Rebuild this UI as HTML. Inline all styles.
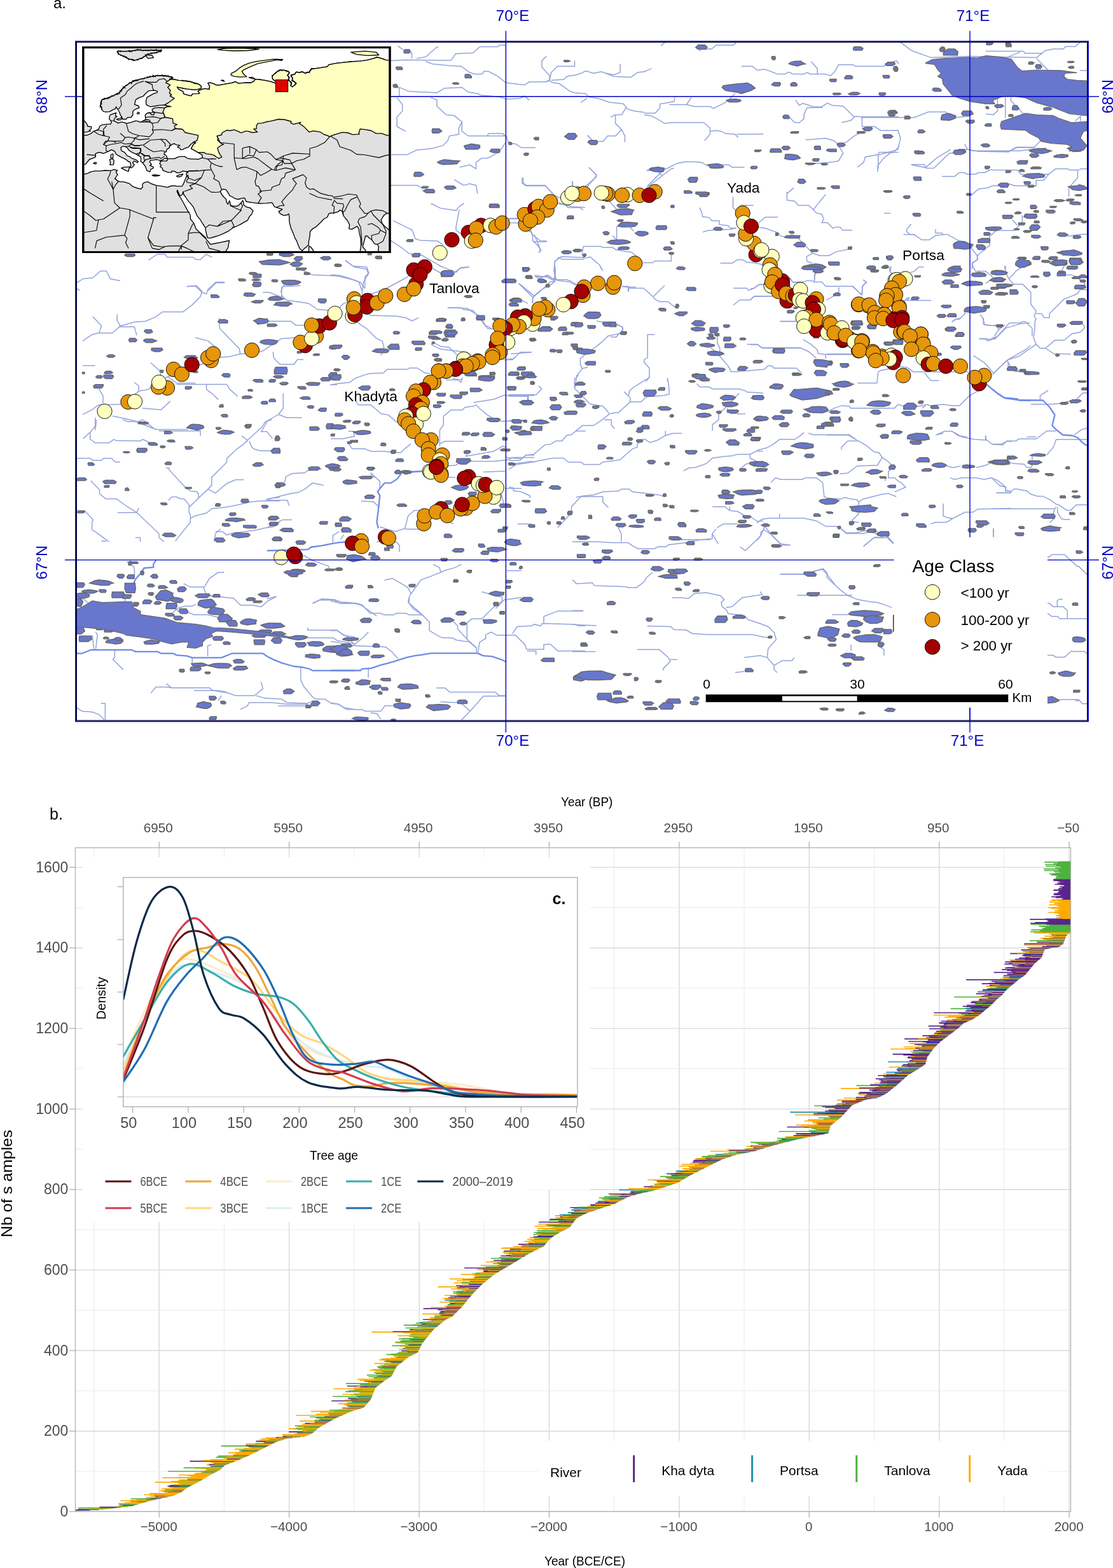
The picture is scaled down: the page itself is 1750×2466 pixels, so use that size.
<!DOCTYPE html>
<html><head><meta charset="utf-8"><title>Figure</title>
<style>
html,body{margin:0;padding:0;background:#fff;}
body{width:1750px;height:2466px;overflow:hidden;}
svg{display:block;}
text{font-family:"Liberation Sans",Arial,sans-serif;}
</style></head><body>
<svg width="1750" height="2466" viewBox="0 0 1750 2466">
<rect x="0" y="0" width="1750" height="2466" fill="#fff"/>
<defs><clipPath id="mapclip"><rect x="119.5" y="65.6" width="1591.0" height="1068.4"/></clipPath></defs>
<g clip-path="url(#mapclip)">
<rect x="119.5" y="65.6" width="1591.0" height="1068.4" fill="#fff"/>
<g fill="none" stroke="#93a3dc" stroke-width="1.5" stroke-linejoin="miter">
<polyline points="130.0,536.1 144.8,526.2 154.6,523.7 176.8,523.7 189.1,512.7 211.3,506.5 228.5,505.3 243.3,499.1 255.6,490.5 287.6,490.5 302.4,479.4 314.7,467.1 317.2,459.7 324.6,462.2 327.0,454.8 339.4,443.7 352.9,443.7"/>
<polyline points="184.2,494.2 184.2,504.0 189.1,512.7"/>
<polyline points="146.0,497.9 159.6,512.7 155.9,523.7"/>
<polyline points="186.7,513.9 211.3,513.9 215.0,527.4"/>
<polyline points="295.0,450.3 307.3,449.9 314.7,457.2 317.2,459.7"/>
<polyline points="130.0,651.8 144.8,644.4 154.6,637.0 191.6,635.8 218.7,614.9 233.4,612.4 238.4,607.5 255.6,597.6 263.0,592.7 302.4,577.9 317.2,573.0 346.7,561.9 361.5,560.7 376.3,557.0 388.6,555.8 413.3,552.1 425.6,543.4 442.8,532.4 479.8,529.9"/>
<polyline points="263.0,592.7 267.9,595.2 277.8,602.6 307.3,602.6"/>
<polyline points="277.8,604.5 356.6,604.5 361.5,612.4 373.8,623.5"/>
<polyline points="223.6,642.0 253.2,644.4 267.9,630.9"/>
<polyline points="162.0,634.6 162.0,622.3 155.9,612.4 155.9,605.0"/>
<polyline points="211.3,601.3 218.7,607.5 217.4,614.9"/>
<polyline points="237.1,570.5 250.7,582.9 255.6,597.6"/>
<polyline points="307.3,531.1 327.0,536.1 341.8,548.4"/>
<polyline points="344.3,500.3 345.5,516.4 366.5,538.5 376.3,548.4 377.5,555.8"/>
<polyline points="413.3,459.7 423.1,459.7 442.8,467.1 442.8,452.3 450.2,444.9"/>
<polyline points="442.8,464.6 450.2,472.0 484.7,476.9 499.5,486.8 519.2,488.0"/>
<polyline points="410.8,505.3 457.6,505.3 465.0,511.4 479.8,511.4"/>
<polyline points="429.3,553.3 430.5,563.2 440.3,573.0 462.5,573.0 467.4,565.6 477.3,565.6"/>
<polyline points="324.6,605.0 324.6,612.4 334.4,619.8 343.1,628.4"/>
<polyline points="445.3,618.6 445.3,642.0 437.9,651.8 420.6,661.7 410.8,678.9"/>
<polyline points="437.9,651.8 450.2,656.7 474.8,656.7"/>
<polyline points="149.7,656.7 149.7,676.5"/>
<polyline points="176.8,654.3 189.1,656.7 211.3,661.7 240.8,674.0"/>
<polyline points="519.2,605.0 530.0,605.0"/>
<polyline points="130.0,575.0 149.7,575.0"/>
<polyline points="677.6,320.0 692.4,327.4 717.0,331.1 722.0,324.9 729.4,320.0"/>
<polyline points="722.0,329.9 717.0,356.9 717.0,361.9 726.9,369.3"/>
<polyline points="618.5,347.1 643.2,359.4 648.1,361.9 653.0,375.4 660.4,377.9 687.5,379.1 697.3,385.3"/>
<polyline points="613.6,377.9 630.8,389.0 643.2,398.8 662.9,401.3 680.1,411.1 692.4,418.5 704.7,423.4 717.0,428.4 724.4,421.0 738.0,419.8"/>
<polyline points="543.4,409.9 556.9,419.8 576.7,423.4 579.1,430.8 571.7,443.2 569.3,457.9 569.3,467.8"/>
<polyline points="520.0,432.1 534.8,433.3 547.1,437.0 564.3,443.2 569.3,457.9"/>
<polyline points="527.4,490.0 539.7,477.6 569.3,467.8 606.2,454.2 638.2,437.0 643.2,433.3"/>
<polyline points="571.7,492.4 584.0,496.1 623.4,497.3 638.2,499.8 648.1,504.7 657.9,499.8"/>
<polyline points="561.9,507.2 576.7,517.0 591.4,531.8 601.3,536.7 603.7,546.6 598.8,558.9"/>
<polyline points="704.7,483.8 734.3,485.0 754.0,497.3 763.8,512.1 773.7,517.0"/>
<polyline points="815.6,445.6 827.9,457.9 837.7,467.8 837.7,477.6"/>
<polyline points="837.7,467.8 852.5,455.5 864.8,443.2 872.2,443.2 872.2,411.1 882.1,403.7 920.0,405.0"/>
<polyline points="840.2,433.3 859.9,435.8 869.8,440.7 872.2,435.8"/>
<polyline points="800.8,343.4 815.6,343.4 820.5,354.5 832.8,359.4 837.7,369.3 850.0,379.1 859.9,379.1"/>
<polyline points="840.2,369.3 847.6,386.5 850.0,396.4"/>
<polyline points="877.1,320.0 899.3,324.9 920.0,326.2"/>
<polyline points="874.7,440.7 894.4,443.2 904.2,448.1 920.0,448.1"/>
<polyline points="741.7,558.9 734.3,554.0 692.4,549.1 677.6,541.7"/>
<polyline points="803.3,556.5 835.3,554.0"/>
<polyline points="821.0,279.4 821.0,287.7 826.5,292.3 857.9,292.3 870.8,306.2 878.2,310.8 889.3,310.8"/>
<polyline points="878.2,319.1 887.5,321.0 893.0,326.5 911.5,326.5 917.0,330.2"/>
<polyline points="926.3,263.7 937.4,274.8 937.4,278.5 922.6,291.4 920.7,293.3"/>
<polyline points="900.4,284.9 900.4,292.3"/>
<polyline points="799.7,344.1 813.6,344.1 817.3,337.6"/>
<polyline points="801.6,350.5 817.3,350.5 819.1,357.9 824.7,362.5 833.9,363.5 837.6,370.8 837.6,378.2 845.0,385.6 850.5,393.0 846.8,397.6"/>
<polyline points="837.6,380.1 859.8,380.1"/>
<polyline points="957.7,316.3 970.6,330.2"/>
<polyline points="1016.8,268.3 1033.4,268.3 1040.8,276.6 1031.6,284.0 1016.8,295.1"/>
<polyline points="1040.8,276.6 1055.6,265.5 1060.0,264.6"/>
<polyline points="969.7,356.1 969.7,378.2"/>
<polyline points="963.2,370.8 968.8,376.4"/>
<polyline points="990.9,357.9 996.5,363.5"/>
<polyline points="917.0,387.5 944.7,387.5 948.4,389.3 963.2,389.3 968.8,393.0 981.7,394.9 992.8,396.7 1000.2,402.3"/>
<polyline points="917.0,387.5 915.2,400.4 918.9,405.9 917.0,407.8 883.8,407.8 878.2,405.0 872.7,411.5 870.8,426.3 874.5,439.2"/>
<polyline points="920.7,405.9 928.1,404.1 942.9,417.0 946.6,424.4"/>
<polyline points="1011.2,413.3 1026.0,413.3 1029.7,410.6 1055.6,410.6 1055.6,400.4 1060.0,397.6"/>
<polyline points="841.3,434.6 848.7,438.3 859.8,432.7 867.1,437.4"/>
<polyline points="680.0,422.0 693.8,429.9 705.6,428.9 715.5,427.9 723.3,422.0 737.1,420.0"/>
<polyline points="703.6,484.0 725.3,484.0 729.3,487.0 743.1,488.0 750.9,496.8 766.7,516.6 774.6,517.5"/>
<polyline points="680.0,538.2 693.8,545.1 705.6,546.1 717.4,556.9 721.4,561.9"/>
<polyline points="816.0,445.6 839.6,465.3 837.6,469.3 836.7,476.2"/>
<polyline points="839.6,465.3 851.4,455.5 869.2,445.6 872.1,439.7 890.8,439.7 898.7,442.7 906.6,447.6"/>
<polyline points="841.6,433.8 849.5,435.8 863.3,433.8 869.2,438.7 873.1,437.7 873.1,420.0"/>
<polyline points="944.0,420.0 948.0,425.9"/>
<polyline points="938.1,504.7 948.0,506.7 967.7,510.6 975.6,512.6 979.5,516.6 975.6,524.4 955.9,528.4 946.0,538.2 936.2,546.1 924.3,554.0 912.5,563.8 912.5,573.7 915.5,579.6 906.6,591.4 904.6,609.2"/>
<polyline points="915.5,579.6 924.3,577.6"/>
<polyline points="794.3,565.8 806.1,565.8 817.9,554.0 835.7,554.0"/>
<polyline points="711.5,595.4 725.3,597.3 727.3,593.4"/>
<polyline points="977.5,450.5 987.4,451.5 1000.0,451.5"/>
<polyline points="988.4,451.5 988.4,458.4"/>
<polyline points="817.9,471.2 829.8,477.1"/>
<polyline points="520.0,605.3 531.8,603.3 549.6,601.4 559.4,594.5 573.2,589.6 581.1,587.6 602.8,586.6 608.7,580.7 640.2,580.7 644.1,578.7 656.0,578.7 667.8,586.6 675.7,587.6"/>
<polyline points="701.3,597.4 719.0,597.4 724.9,601.4 726.9,595.5"/>
<polyline points="559.4,630.9 563.3,636.8 583.1,636.8 594.9,646.7 598.8,650.6 610.6,652.6 624.4,664.4"/>
<polyline points="520.0,690.0 539.7,690.0 557.4,686.1 555.5,678.2 547.6,678.2"/>
<polyline points="545.6,694.0 553.5,705.8 573.2,705.8 583.1,709.8 604.7,709.8 618.5,711.7 630.3,711.7 636.3,705.8 646.1,697.9"/>
<polyline points="691.4,701.9 691.4,676.3 697.3,668.4 697.3,654.6 709.2,644.7 726.9,644.7 730.8,640.8 744.6,638.8 748.6,636.8 754.5,642.8 766.3,652.6 776.2,658.5"/>
<polyline points="744.6,632.9 776.2,628.0 793.9,621.1 795.9,622.1 840.0,622.1"/>
<polyline points="691.4,697.9 699.3,694.0 728.9,694.0"/>
<polyline points="829.4,623.1 829.4,630.9 840.0,632.9"/>
<polyline points="734.8,711.7 732.8,717.6 742.7,715.7 776.2,709.8 790.0,701.9 795.9,703.8"/>
<polyline points="795.9,719.6 819.5,721.6 827.4,715.7 840.0,715.7"/>
<polyline points="697.3,733.4 717.0,731.4 726.9,725.5 776.2,725.5 795.9,723.5 807.7,719.6 840.0,719.6"/>
<polyline points="626.4,745.2 634.3,741.3 665.8,741.3 677.6,731.4"/>
<polyline points="791.9,565.9 807.7,563.9 811.6,560.0"/>
<polyline points="803.7,729.5 823.4,727.5 835.3,725.5 840.0,727.5"/>
<polyline points="768.3,662.5 795.9,662.5 827.4,660.5"/>
<polyline points="583.1,745.2 589.0,751.1"/>
<polyline points="420.0,786.7 452.0,786.7 454.5,795.3"/>
<polyline points="420.0,785.4 434.8,781.7 454.5,776.8 469.3,774.3 479.1,769.4 491.4,759.6 508.7,763.3"/>
<polyline points="447.1,759.6 449.6,749.7 459.4,744.8 479.1,743.5 484.0,739.9 506.2,737.4"/>
<polyline points="582.6,743.5 597.3,757.1 597.3,769.4"/>
<polyline points="567.8,787.9 587.5,789.1 596.1,797.7"/>
<polyline points="420.0,829.8 432.3,823.6 444.6,817.4 459.4,817.4"/>
<polyline points="523.4,853.2 523.4,842.1 533.3,835.9"/>
<polyline points="535.8,848.2 540.7,840.8"/>
<polyline points="592.4,851.9 612.1,850.7 624.4,853.2 628.1,858.1 628.1,867.9"/>
<polyline points="597.3,828.5 604.7,831.0 622.0,835.9 636.7,831.0 641.7,811.3 651.5,802.7 666.3,802.7"/>
<polyline points="636.7,832.2 666.3,832.2"/>
<polyline points="700.8,818.7 713.1,823.6"/>
<polyline points="759.9,742.3 794.4,741.1"/>
<polyline points="695.9,749.7 715.6,750.9"/>
<polyline points="787.0,771.9 791.9,791.6 784.5,803.9"/>
<polyline points="794.4,768.2 820.0,768.2"/>
<polyline points="476.7,872.9 491.4,881.5 516.1,890.1 518.5,895.0"/>
<polyline points="604.7,912.3 617.0,909.8 634.3,919.7 641.7,924.6 646.6,934.4"/>
<polyline points="681.1,887.6 690.9,892.6 693.4,900.0 698.3,897.5 715.6,892.6 725.4,887.6"/>
<polyline points="693.4,900.0 681.1,904.9 661.4,912.3 656.5,919.7 644.1,936.9 641.7,946.7 649.1,956.6 666.3,968.9"/>
<polyline points="491.4,948.7 506.2,941.8 525.9,943.1 535.8,946.7 553.0,948.0 567.8,951.7 592.4,968.9"/>
<polyline points="420.0,941.8 434.8,938.1"/>
<polyline points="757.4,930.7 789.5,939.4 789.5,946.7 779.6,956.6"/>
<polyline points="796.8,897.5 820.0,897.5"/>
<polyline points="796.8,943.1 820.0,939.4"/>
<polyline points="1152.5,309.6 1152.5,326.6 1157.6,331.0"/>
<polyline points="1163.5,322.9 1185.0,322.9"/>
<polyline points="1100.0,326.6 1104.4,336.9 1104.4,340.6 1114.8,342.1 1119.2,347.3 1131.0,347.3 1131.0,353.2 1144.3,354.7 1148.8,359.1 1157.6,358.4"/>
<polyline points="1105.2,365.0 1111.8,362.8 1122.2,362.1 1148.8,360.6 1157.6,358.4"/>
<polyline points="1193.1,350.2 1203.4,341.4 1223.4,341.4"/>
<polyline points="1193.1,357.6 1203.4,359.1 1222.7,365.8 1227.1,370.9 1233.0,372.4 1255.2,374.6 1262.6,382.8 1274.4,394.6 1277.3,398.3 1268.5,403.4 1268.5,410.8 1277.3,413.8"/>
<polyline points="1277.3,398.3 1289.2,402.0 1303.9,402.0 1314.3,396.1 1336.4,391.6"/>
<polyline points="1237.4,301.5 1237.4,314.8 1249.3,316.3 1255.2,322.9 1271.4,322.9 1278.8,329.6 1283.2,334.7 1292.1,336.9 1295.1,344.3 1292.1,350.2 1301.0,350.2 1309.8,359.1 1314.3,356.9 1321.7,357.6 1324.6,362.1 1340.0,362.1"/>
<polyline points="1278.8,329.6 1292.1,313.3 1298.0,305.9"/>
<polyline points="1132.5,413.8 1151.7,413.8 1159.1,408.6 1168.0,408.6 1173.9,412.3 1188.7,413.8 1200.5,416.7"/>
<polyline points="1281.8,428.6 1280.3,443.9"/>
<polyline points="1180.0,454.0 1185.9,453.2 1193.3,447.3 1205.1,447.3"/>
<polyline points="1180.0,471.7 1185.9,465.8 1218.4,465.8"/>
<polyline points="1236.2,437.7 1242.1,438.5 1246.5,443.6 1262.8,443.6 1268.7,441.4 1276.1,441.4 1280.5,443.6 1292.3,443.6 1298.2,450.3 1341.1,450.3 1354.4,463.6"/>
<polyline points="1280.5,443.6 1280.5,431.8 1286.4,427.4"/>
<polyline points="1355.9,462.9 1355.9,449.6 1362.5,444.4 1357.3,439.9"/>
<polyline points="1299.7,471.7 1313.0,464.3 1318.9,458.4 1318.9,451.8"/>
<polyline points="1227.3,505.4 1252.4,505.4"/>
<polyline points="1180.0,541.9 1191.8,541.9 1197.7,547.1 1258.3,547.1 1271.6,553.0 1283.4,563.3"/>
<polyline points="1262.8,533.8 1274.6,541.2 1284.9,550.0 1286.4,556.0 1298.2,557.4 1339.6,557.4"/>
<polyline points="1298.2,557.4 1298.2,563.9"/>
<polyline points="1398.7,420.0 1398.7,425.9 1403.1,431.1"/>
<polyline points="1400.6,418.5 1400.6,424.4 1399.1,426.6 1403.5,431.8"/>
<polyline points="1431.6,428.8 1437.5,426.6 1444.9,419.9 1452.3,419.9"/>
<polyline points="1340.0,450.2 1354.8,463.5 1356.3,450.2 1362.2,443.6 1357.7,440.6"/>
<polyline points="1419.8,475.4 1425.7,469.5 1430.1,468.0 1425.7,472.4 1464.1,472.4"/>
<polyline points="1496.6,506.4 1502.6,502.0 1508.5,502.0 1517.3,493.1 1517.3,488.7"/>
<polyline points="1541.0,494.6 1545.4,500.5 1548.4,510.8 1566.1,512.3 1570.5,518.2 1564.6,527.1 1564.6,533.0 1557.2,533.0 1552.8,536.0 1548.4,533.0 1539.5,533.0"/>
<polyline points="1570.5,518.2 1580.0,510.8"/>
<polyline points="1538.0,400.0 1536.5,404.4 1536.5,408.9 1529.2,413.3 1529.2,417.7 1533.6,426.6 1549.8,426.6 1557.2,432.5 1561.7,436.9"/>
<polyline points="1549.8,445.8 1555.8,441.4 1561.7,439.9"/>
<polyline points="1300.0,556.7 1339.4,556.7"/>
<polyline points="1348.3,602.5 1378.8,602.5 1380.8,584.7 1384.7,582.8 1414.3,576.8 1426.1,577.8 1436.0,584.7 1522.7,584.7"/>
<polyline points="1453.7,586.7 1463.5,598.5 1476.4,598.5"/>
<polyline points="1300.0,647.8 1311.8,641.9 1323.6,637.9 1335.5,638.9 1337.4,641.9 1406.4,641.9 1412.3,636.0 1418.2,637.9 1437.9,639.9 1449.8,637.9 1457.6,636.0 1461.6,637.9 1483.3,636.0 1497.0,637.9 1508.9,637.9 1524.6,622.2 1538.4,614.3"/>
<polyline points="1449.8,641.9 1455.7,637.9"/>
<polyline points="1530.5,559.1 1548.3,570.9 1562.1,586.7 1585.7,565.0 1613.3,549.3 1620.0,543.3"/>
<polyline points="1583.7,567.0 1587.7,574.9 1595.6,582.8 1620.0,584.7"/>
<polyline points="1539.4,532.5 1552.2,532.5 1554.2,535.5 1566.0,531.5 1581.8,515.8 1605.4,508.9 1619.2,507.9"/>
<polyline points="1546.3,500.0 1546.3,509.9 1552.2,511.8 1575.9,511.8"/>
<polyline points="1497.0,505.9 1503.0,502.0 1510.8,500.0"/>
<polyline points="1471.4,684.2 1485.2,678.3 1497.0,678.3 1506.9,685.2 1520.7,687.2"/>
<polyline points="1300.0,684.2 1333.5,684.2 1345.3,691.1"/>
<polyline points="1550.2,685.2 1550.2,691.9"/>
<polyline points="625.3,72.2 637.6,80.8 647.5,83.2 647.5,91.9"/>
<polyline points="613.0,95.6 637.6,94.3 709.1,95.1 716.4,84.5 743.5,83.2 754.6,73.4 783.0,73.4 785.4,70.9 795.3,70.9"/>
<polyline points="654.9,91.9 669.7,89.4 686.9,73.9 689.4,73.9"/>
<polyline points="669.7,96.8 679.5,100.5 704.1,102.9 725.1,104.2 738.6,114.0 746.0,116.5 758.3,116.5 760.8,112.3 768.2,112.3 783.0,120.2 795.3,130.0 815.0,132.5 824.8,133.7 832.2,128.8 859.3,128.8 861.8,126.3 869.2,130.0 879.0,131.3 896.3,143.6 903.6,146.0 920.9,147.3 925.8,152.2 940.6,154.7 957.8,160.8 980.0,163.3 987.4,171.9 997.2,174.4 1013.0,176.8"/>
<polyline points="859.3,128.8 864.2,125.1 864.2,119.0 851.9,105.4 851.9,95.6 859.3,88.2"/>
<polyline points="864.2,126.3 866.7,114.0 876.5,104.2 903.6,104.2 903.6,95.6"/>
<polyline points="866.7,126.3 886.4,125.1 891.3,120.2 906.1,117.7 913.5,115.3 920.9,111.6 933.2,115.3 945.5,112.8 952.9,115.3 965.2,117.7 975.1,114.0 975.1,100.5"/>
<polyline points="952.9,115.3 965.2,120.2 992.3,121.4 1002.2,114.0 1013.0,112.8"/>
<polyline points="616.7,132.5 627.8,138.7 627.8,151.0"/>
<polyline points="627.8,137.4 642.6,143.6 659.8,144.8 662.3,144.8 667.2,144.8 686.9,146.0 699.2,138.7 726.3,137.4 736.2,144.8 750.9,147.3 755.9,149.7 785.4,152.2 795.3,155.9"/>
<polyline points="795.3,155.9 817.4,154.7 824.8,151.0 832.2,157.6"/>
<polyline points="913.5,160.8 923.3,154.7"/>
<polyline points="984.9,168.2 977.5,180.5 967.7,180.5 960.3,184.2"/>
<polyline points="967.7,180.5 967.7,194.1 977.5,203.9 982.5,213.8 982.5,223.6"/>
<polyline points="977.5,203.9 967.7,213.8 955.4,213.8 948.0,222.4 933.2,222.4 923.3,212.6"/>
<polyline points="624.1,153.4 632.7,164.5 632.7,174.4 624.1,184.2 624.1,199.0 637.6,206.4"/>
<polyline points="677.0,153.4 686.9,157.1 686.9,167.0 701.7,180.5 714.0,181.8 726.3,191.6 726.3,206.4 736.2,213.8 765.7,213.8 795.3,213.8 800.2,226.1 810.0,226.1 819.9,232.3 842.1,232.3"/>
<polyline points="765.7,213.8 768.2,210.1 790.3,210.1 797.7,216.2"/>
<polyline points="726.3,191.6 721.4,201.5 721.4,211.3 706.6,213.8 704.1,221.2 696.7,228.6 679.5,233.5 654.9,236.0 640.1,243.3 615.5,243.3"/>
<polyline points="795.3,223.6 785.4,238.4 768.2,248.3 755.9,249.5 748.5,255.7 748.5,265.5 738.6,259.3 722.6,263.0"/>
<polyline points="613.0,291.4 656.1,291.4 662.3,295.1 664.7,297.5"/>
<polyline points="714.0,282.3 728.8,291.4 738.6,288.9 748.5,291.4 750.9,304.9"/>
<polyline points="822.4,279.1 822.4,287.7 827.3,291.4 856.8,291.4 869.2,304.9"/>
<polyline points="899.9,285.2 899.9,295.1"/>
<polyline points="925.8,263.0 938.1,275.4 933.2,282.7 925.8,290.1 923.3,295.1"/>
<polyline points="1038.9,72.2 1045.0,67.2"/>
<polyline points="1100.4,80.8 1100.4,77.1 1118.9,77.1 1126.3,70.9 1153.4,70.9 1158.3,66.0"/>
<polyline points="1013.0,112.8 1024.1,107.9"/>
<polyline points="1165.7,104.2 1183.0,104.2 1190.3,110.3 1202.7,109.1 1210.0,111.6 1222.4,116.5 1234.7,116.5 1239.6,113.3 1247.0,116.5 1264.2,116.5 1269.2,114.0 1274.1,116.5 1296.3,116.5 1306.1,119.0 1313.5,111.6 1318.4,101.7 1340.6,101.7 1345.5,104.2 1389.8,104.2 1397.2,99.3 1409.6,95.6 1413.0,100.5"/>
<polyline points="1275.3,96.8 1285.2,107.9 1285.2,116.5"/>
<polyline points="1013.0,178.1 1030.2,178.1 1037.6,169.4 1037.6,163.3 1047.5,162.1 1059.8,159.6 1061.0,153.4"/>
<polyline points="1052.4,164.5 1079.5,164.5 1086.9,153.4"/>
<polyline points="1079.5,164.5 1091.8,167.5 1116.4,167.5 1121.4,170.7 1131.2,165.8 1141.1,160.8 1155.9,147.3"/>
<polyline points="1013.0,180.5 1022.9,181.8 1032.7,186.7 1045.0,194.1 1057.3,192.8 1106.6,192.8 1116.4,201.5 1116.4,211.3 1107.8,221.2"/>
<polyline points="1116.4,206.4 1126.3,205.2 1133.7,206.4 1141.1,210.1 1155.9,211.3 1160.8,216.2"/>
<polyline points="1158.3,211.3 1200.2,210.8"/>
<polyline points="1250.7,157.1 1256.8,165.8 1261.8,162.6 1269.2,164.5 1276.5,167.5 1291.3,168.2 1301.2,162.1 1308.6,165.8 1325.8,167.0 1335.7,176.8 1343.0,184.2 1338.1,189.2 1323.3,192.8"/>
<polyline points="1269.2,169.4 1264.2,179.3 1264.2,186.7 1256.8,192.8 1249.5,192.8 1239.6,183.0"/>
<polyline points="1269.2,169.4 1293.8,169.0"/>
<polyline points="1343.0,183.0 1355.4,183.7 1413.0,183.7"/>
<polyline points="1355.4,183.7 1355.4,199.0 1375.1,199.0 1384.9,205.2 1413.0,205.2"/>
<polyline points="1266.7,219.9 1298.7,217.5 1311.0,221.2 1318.4,227.3 1330.7,223.6 1343.0,213.8 1352.9,208.9 1360.3,205.2"/>
<polyline points="1318.4,228.6 1325.8,240.9 1318.4,253.2 1301.2,255.7 1269.2,258.1"/>
<polyline points="1348.0,263.0 1357.8,255.7 1360.3,247.0 1380.0,243.3 1382.5,239.6 1413.0,239.6"/>
<polyline points="1380.0,270.4 1380.0,260.6 1389.8,248.3 1399.7,240.9"/>
<polyline points="1016.7,268.0 1033.9,268.0 1037.6,272.9 1047.5,265.5 1064.7,256.9 1077.0,254.4 1094.3,254.4 1104.1,255.7 1111.5,260.6 1128.8,259.3 1146.0,259.3 1150.9,263.0 1170.6,263.0"/>
<polyline points="1037.6,272.9 1017.9,292.6"/>
<polyline points="1237.1,304.9 1248.2,295.1"/>
<polyline points="1390.0,239.9 1404.8,239.9 1413.7,230.0"/>
<polyline points="1432.5,258.7 1453.3,258.7 1456.2,264.6 1468.1,264.6 1492.8,240.9 1506.6,240.9 1520.5,234.9 1537.3,237.9 1585.7,238.9 1598.5,232.0 1627.2,232.0"/>
<polyline points="1480.9,277.4 1500.7,277.4 1508.6,271.5 1516.5,271.5 1520.5,273.9 1534.3,273.9 1538.3,271.5 1548.1,271.5 1558.0,266.6 1562.0,267.6 1599.5,267.6 1605.5,273.9 1648.9,273.9 1641.0,283.4 1629.2,283.4 1629.2,292.9"/>
<polyline points="1528.4,306.1 1538.3,297.2 1554.1,295.2 1560.0,292.3 1573.8,292.3 1585.7,288.9 1595.6,292.3 1629.2,292.3"/>
<polyline points="1648.9,273.9 1659.8,265.6 1678.6,265.6 1682.5,267.6 1694.4,267.6 1700.3,265.6 1711.0,265.6"/>
<polyline points="1694.4,267.6 1694.4,279.4 1680.6,295.2 1680.6,309.1"/>
<polyline points="1390.0,335.4 1399.9,335.4"/>
<polyline points="1432.5,352.6 1425.6,360.5 1425.6,364.4 1431.5,368.8 1437.4,368.8 1449.3,377.3 1461.2,377.3 1471.0,370.3 1488.8,368.4 1496.7,372.3 1506.6,378.3 1516.5,380.2 1524.4,386.2 1536.3,402.0 1537.3,407.9 1528.4,413.8 1528.4,422.9"/>
<polyline points="1420.6,368.8 1437.4,368.8"/>
<polyline points="1471.0,360.5 1471.0,366.4 1480.9,366.4 1482.9,368.4"/>
<polyline points="1536.3,402.0 1556.0,386.2 1556.0,372.3 1565.9,362.4 1595.6,362.4 1599.5,357.5 1607.4,350.6 1607.4,338.7"/>
<polyline points="1591.6,345.6 1599.5,354.5"/>
<polyline points="1666.7,371.3 1680.6,371.3 1698.4,368.4 1711.0,368.4"/>
<polyline points="1579.8,417.8 1579.8,422.9"/>
<polyline points="192.9,660.0 200.8,663.0 218.5,663.0 224.4,660.0"/>
<polyline points="224.4,660.0 234.3,667.9 244.1,675.4 295.4,675.4"/>
<polyline points="250.0,677.7 315.1,677.7 315.1,685.6"/>
<polyline points="130.8,689.6 141.7,679.7 148.6,671.8 150.5,671.8 151.5,660.0"/>
<polyline points="141.7,679.7 141.7,690.5 149.6,696.5 171.2,696.5 179.1,691.1 183.1,693.1 220.5,693.5 224.4,691.1 230.3,693.5 236.3,697.4"/>
<polyline points="120.0,720.7 141.7,720.7 145.6,724.0 159.4,724.0 163.3,720.7 175.2,720.7 181.1,726.6 189.0,726.6"/>
<polyline points="427.4,660.0 417.5,663.0 411.6,671.8 399.8,682.7 388.0,693.5 382.1,699.4 372.2,706.3 356.5,721.1 356.5,727.0 332.8,750.6 332.8,763.4 326.9,769.4 309.2,786.1 297.3,797.9 297.3,805.8 299.3,809.8 299.3,821.6 289.5,833.4 275.7,851.1"/>
<polyline points="380.1,685.6 388.0,691.5 388.0,695.5"/>
<polyline points="391.9,693.5 395.9,703.3 399.8,706.3 409.7,708.9 431.3,708.9"/>
<polyline points="410.6,678.7 419.5,678.7 428.4,689.6"/>
<polyline points="260.9,735.9 265.8,735.9 265.8,738.8 291.4,766.4 299.3,772.3 309.2,773.3 312.1,777.2 312.1,784.1"/>
<polyline points="326.9,769.4 338.7,775.3 356.5,760.5 370.2,754.6 383.1,754.6"/>
<polyline points="142.7,756.0 156.5,770.3 156.5,776.3 166.3,784.5 183.1,784.5 198.8,796.0 214.6,805.8 250.0,839.3 250.0,845.2 257.9,851.9"/>
<polyline points="185.0,806.2 214.6,806.2 218.5,798.9"/>
<polyline points="120.0,802.9 132.8,802.9 146.6,817.6 144.6,821.6 144.6,833.4 151.5,837.3 171.2,851.9"/>
<polyline points="264.8,787.1 269.8,781.6 277.6,781.6 283.5,784.5 289.5,784.5 297.3,794.0 297.3,797.9"/>
<polyline points="299.3,815.7 305.2,811.7 313.1,809.8 324.9,806.8 332.8,799.9 352.5,797.9 364.3,796.0 374.2,794.0 386.0,791.0 397.8,789.1 411.6,787.7 440.0,787.7"/>
<polyline points="417.5,786.1 423.4,784.1 440.0,782.2"/>
<polyline points="336.7,851.9 338.7,839.3 346.6,831.8"/>
<polyline points="338.7,835.4 350.5,836.4 356.5,841.3 366.3,838.3 376.2,837.3 403.7,833.4 415.6,830.4 429.4,828.5 435.3,823.5 440.0,820.6"/>
<polyline points="212.6,845.6 220.5,845.6 220.5,851.9"/>
<polyline points="159.4,851.1 167.3,851.1"/>
<polyline points="199.3,882.7 202.0,885.4 210.1,890.8 211.5,896.3 211.5,909.8"/>
<polyline points="118.0,936.9 131.5,942.3 142.4,951.8"/>
<polyline points="196.6,934.2 196.6,946.4"/>
<polyline points="150.5,993.8 153.2,999.2 150.5,1020.9"/>
<polyline points="145.1,999.2 147.8,1020.9"/>
<polyline points="288.7,917.9 299.5,923.3 319.8,923.3 323.9,934.2 334.7,938.2"/>
<polyline points="321.2,923.3 329.3,909.8 342.9,900.3 352.4,900.3"/>
<polyline points="329.3,936.9 342.9,938.2 367.3,941.0 374.0,947.7 378.1,951.8 397.1,951.8 410.6,954.5 421.4,945.0 435.0,938.2"/>
<polyline points="275.1,955.9 280.6,961.3 294.1,962.6 304.9,966.7 326.6,966.7 342.9,970.8 348.3,976.2"/>
<polyline points="269.7,966.7 273.8,961.3 280.6,955.9 291.4,953.2 302.2,953.2 307.7,950.4"/>
<polyline points="491.9,949.1 502.7,943.7 524.4,943.7 535.2,949.1 558.0,949.1"/>
<polyline points="483.8,987.0 483.8,991.1 529.8,991.1 540.6,999.2 558.0,1001.9"/>
<polyline points="483.8,1003.3 524.4,1003.3 529.8,1007.3 558.0,1012.8"/>
<polyline points="326.6,1031.7 326.6,1015.5 332.0,1014.1"/>
<polyline points="302.2,1034.4 302.2,1043.9"/>
<polyline points="180.3,1022.2 180.3,1034.4 177.6,1037.1 193.9,1053.4"/>
<polyline points="237.2,1090.0 245.3,1080.5 261.6,1080.5 269.7,1081.8 329.3,1081.8 334.7,1085.9 359.1,1090.0 370.0,1094.0 399.8,1094.0 413.3,1083.2 410.6,1072.4"/>
<polyline points="304.9,1085.9 342.9,1085.9 356.4,1088.6"/>
<polyline points="261.6,1075.1 269.7,1081.8"/>
<polyline points="402.5,1094.0 416.0,1098.1 443.1,1099.5 451.2,1104.9 483.8,1106.2 491.9,1102.2"/>
<polyline points="378.1,1115.7 388.9,1110.3 391.6,1104.9 426.9,1104.9 451.2,1107.6 483.8,1107.6"/>
<polyline points="437.7,1110.3 483.8,1110.3"/>
<polyline points="472.9,1049.3 472.9,1069.7 478.3,1080.5 491.9,1096.7 497.3,1099.5 510.8,1099.5 519.0,1104.9 532.5,1107.6 540.6,1113.0 558.0,1115.7"/>
<polyline points="120.7,1113.0 128.8,1118.4 145.1,1119.8 155.9,1123.8 164.1,1132.0"/>
<polyline points="158.6,1106.2 165.4,1106.2 165.4,1132.0"/>
<polyline points="348.3,1094.0 342.9,1102.2"/>
<polyline points="977.6,450.5 987.7,450.5 989.6,453.3 1011.7,453.3 1026.5,466.2 1030.2,470.8 1037.6,474.5 1050.5,474.5 1061.6,483.7"/>
<polyline points="1027.4,466.2 1045.0,449.0"/>
<polyline points="987.7,450.5 987.7,458.8"/>
<polyline points="1153.1,453.3 1174.3,453.3 1177.1,456.9 1185.4,453.3 1192.8,447.7 1207.6,447.7"/>
<polyline points="1153.1,480.0 1163.2,471.7 1179.8,471.7 1185.4,466.2 1218.6,465.8"/>
<polyline points="1236.2,437.6 1242.7,437.6 1246.3,444.0 1260.0,444.0"/>
<polyline points="960.0,506.8 967.4,508.7 978.5,514.2 979.4,519.8 971.1,527.1 969.2,529.9 960.0,529.9"/>
<polyline points="1029.3,526.2 1018.2,526.2 1018.2,562.3 1012.7,565.9 1012.7,569.6 1021.0,578.9 1021.0,593.7 1015.4,599.9"/>
<polyline points="1226.0,505.5 1253.7,505.5"/>
<polyline points="1128.1,523.5 1128.1,540.1 1131.8,547.5 1131.8,560.4 1144.7,575.2 1149.4,584.4 1159.5,584.4 1202.0,580.7 1207.6,575.2 1213.1,575.2 1216.8,578.9 1251.9,578.9 1260.0,586.3"/>
<polyline points="1117.0,546.5 1130.0,556.7"/>
<polyline points="1174.3,541.6 1190.9,541.6 1198.3,547.5 1260.0,547.5"/>
<polyline points="1049.6,594.6 1049.6,599.9"/>
<polyline points="800.0,620.8 843.1,620.8 851.7,611.7 846.8,606.7"/>
<polyline points="800.0,623.3 830.8,623.3 830.8,629.4"/>
<polyline points="909.6,590.0 903.4,596.2 903.4,610.9 913.3,620.8 928.1,635.6 947.8,638.8 955.2,646.7 957.6,651.1"/>
<polyline points="800.0,661.4 825.9,660.7"/>
<polyline points="1021.7,592.5 1019.2,594.9 1006.9,602.3 997.0,608.5 989.7,614.6 988.4,622.0"/>
<polyline points="981.0,615.9 990.9,625.7 990.9,631.9 972.4,649.1 967.5,649.1 957.6,651.1"/>
<polyline points="990.9,631.9 1008.1,631.9 1016.7,624.0 1043.8,622.0 1052.5,619.6 1051.2,604.8 1049.5,594.9"/>
<polyline points="950.2,660.2 961.3,660.2 961.3,668.8 966.3,674.2"/>
<polyline points="904.7,677.9 920.7,677.9"/>
<polyline points="800.0,737.8 812.3,730.4 829.6,727.9 849.3,724.2 869.0,720.5 886.2,720.5 893.6,726.7 913.3,726.7 918.2,730.4 942.9,730.4 947.8,726.7 967.5,724.2 974.9,723.0 994.6,705.8 1002.0,703.3 1002.0,698.4 1009.4,691.0 1014.3,691.0 1021.7,695.9 1034.0,692.2 1046.3,684.8 1046.3,677.4"/>
<polyline points="1046.3,684.8 1058.6,681.6 1072.2,681.6"/>
<polyline points="1095.6,603.5 1100.5,608.5 1115.3,608.5 1120.2,611.7 1162.1,611.7 1171.9,614.6 1174.4,616.6 1200.0,618.3"/>
<polyline points="1162.1,618.3 1142.4,639.3 1130.0,651.6 1130.0,660.2 1120.2,667.6 1120.2,677.4"/>
<polyline points="1143.6,641.7 1143.6,649.1 1159.6,649.1 1159.6,651.1 1171.9,651.1"/>
<polyline points="1074.6,740.7 1083.3,735.8 1093.1,735.3 1110.3,729.2 1120.2,720.5 1137.4,718.1 1152.2,716.8 1159.6,714.4 1179.3,714.4 1189.2,709.5 1200.0,709.5"/>
<polyline points="1179.3,714.4 1179.3,720.5 1189.2,725.5 1200.0,727.9"/>
<polyline points="1162.1,740.2 1171.9,730.4 1179.3,727.9"/>
<polyline points="800.0,766.1 807.4,767.3 807.4,771.8 819.7,773.5 833.3,779.7 833.3,783.3"/>
<polyline points="876.4,829.9 898.5,806.7 898.5,796.9 913.3,780.9 947.8,780.9 947.8,789.5 956.4,798.1"/>
<polyline points="905.9,782.1 918.2,779.7 933.0,778.4 947.8,773.5 972.4,772.3 977.3,769.3 989.7,769.3 994.6,773.5 1016.7,776.0 1036.5,778.4 1046.3,781.6"/>
<polyline points="1120.2,796.9 1139.9,796.9 1147.3,803.1 1159.6,804.3 1171.9,811.7 1181.8,814.1 1191.6,820.3 1200.0,819.1"/>
<polyline points="1147.3,796.9 1147.3,803.1"/>
<polyline points="813.5,824.0 834.5,824.0 839.4,827.7"/>
<polyline points="1127.6,829.9 1137.4,824.0 1159.6,824.0"/>
<polyline points="800.0,724.2 817.2,724.2 827.1,715.6 839.4,714.4 856.7,699.6 866.5,698.4 873.9,693.4 883.7,693.4 891.1,684.8 898.5,683.6 905.9,677.4 915.8,669.3 933.0,669.3 945.3,661.4 957.6,651.6"/>
<polyline points="1190.0,708.3 1204.8,704.6 1214.6,699.7 1225.7,691.1 1249.1,691.1 1259.0,684.9 1263.9,680.0"/>
<polyline points="1271.3,681.2 1278.7,683.7 1335.3,683.7 1347.6,692.3"/>
<polyline points="1323.0,707.1 1323.0,703.4 1332.9,693.5 1350.1,693.5 1362.4,700.9 1374.7,710.8 1382.1,712.0 1387.0,719.4 1394.4,724.3 1404.3,733.0"/>
<polyline points="1387.0,719.4 1379.7,731.7 1347.6,733.0 1332.9,744.0 1320.5,745.3"/>
<polyline points="1212.2,758.8 1219.6,751.4 1226.9,753.9 1261.4,753.9 1266.4,751.4 1283.6,751.4 1293.4,758.8 1295.9,781.0 1300.8,783.4 1323.0,784.7 1327.9,782.2 1337.8,784.7 1347.6,785.9 1350.1,789.6 1357.5,784.7 1377.2,779.8 1387.0,777.3 1396.9,776.1 1409.2,781.0"/>
<polyline points="1350.1,789.6 1350.1,808.1 1340.2,817.9 1340.2,820.4 1350.1,821.6"/>
<polyline points="1406.7,773.6 1424.0,766.2 1416.6,758.8 1411.7,756.4 1406.7,751.4 1396.9,751.4 1396.9,741.6 1401.8,736.7"/>
<polyline points="1392.0,751.4 1392.0,756.4"/>
<polyline points="1494.2,751.4 1500.3,753.9 1512.7,751.4 1534.8,751.4 1547.1,753.9 1559.5,751.4 1571.8,763.7 1581.6,766.2 1581.6,772.4 1590.0,772.4"/>
<polyline points="1566.8,775.3 1590.0,775.3"/>
<polyline points="1473.3,683.7 1483.1,681.2"/>
<polyline points="1500.3,680.0 1512.7,687.4 1532.4,691.1 1552.1,692.3 1559.5,698.5 1574.2,698.5 1584.1,693.5 1590.0,694.8"/>
<polyline points="1549.6,684.9 1549.6,692.3"/>
<polyline points="1485.6,731.7 1497.9,735.4 1510.2,733.0"/>
<polyline points="1534.8,735.4 1549.6,731.7 1559.5,726.8"/>
<polyline points="1463.4,824.1 1470.8,821.6 1488.0,821.6 1497.9,815.5 1517.6,805.6 1529.9,805.6 1537.3,800.7 1590.0,799.5"/>
<polyline points="1483.1,792.1 1483.1,811.8 1490.5,814.2 1497.9,815.5"/>
<polyline points="1561.9,831.5 1561.9,843.8"/>
<polyline points="1190.0,822.9 1197.4,816.7 1209.7,815.0 1263.9,815.0 1283.6,819.2 1298.4,827.8 1318.1,827.8 1330.4,838.9 1357.5,838.9 1367.3,836.4 1377.2,838.9 1389.5,840.1 1404.3,854.9"/>
<polyline points="1225.7,808.1 1225.7,814.2"/>
<polyline points="1190.0,850.0 1197.4,840.1 1202.3,827.8 1214.6,842.6 1229.4,857.3 1243.0,857.3"/>
<polyline points="1357.5,859.8 1374.7,845.0 1389.5,845.0"/>
<polyline points="1226.9,902.9 1266.4,902.9 1281.1,898.0 1293.4,895.5 1300.8,904.1 1313.2,919.9"/>
<polyline points="520.0,944.9 534.8,948.6 559.4,948.6 569.3,951.1 581.6,964.6 598.8,964.6 603.7,967.1 618.5,967.1 623.4,964.6 638.2,964.6 643.2,967.1 662.9,967.1"/>
<polyline points="643.2,940.0 643.2,948.6 662.9,965.9 675.2,978.2 675.2,991.7 685.0,997.9 694.9,1002.8 712.1,1003.5 717.0,1006.5 729.4,1008.5 736.7,1009.0 749.1,1018.8 749.1,1026.2"/>
<polyline points="712.1,976.9 719.5,984.3 719.5,989.3 734.3,1005.3 749.1,1018.8"/>
<polyline points="734.3,1005.3 734.3,979.4 741.7,973.3 757.7,973.3 776.2,954.8 790.9,944.9 794.6,942.5"/>
<polyline points="751.5,1026.2 754.0,1010.2 763.8,1004.0 763.8,997.9 772.5,994.2 781.1,999.1 810.6,999.1 825.4,1013.9 827.9,1021.3 855.0,1021.3 855.0,1013.9 864.8,1012.7 877.1,1023.7 920.0,1023.7"/>
<polyline points="805.7,996.7 813.1,985.6 835.3,984.3 840.2,981.9 850.0,984.3 852.5,980.6 904.2,981.9 909.2,984.3 920.0,984.3"/>
<polyline points="855.0,979.4 855.0,969.6 877.1,960.9 916.6,960.9"/>
<polyline points="829.1,1023.7 842.7,1023.7 842.7,1029.9"/>
<polyline points="520.0,991.7 529.9,991.7 539.7,997.9 547.1,1001.6 556.9,1013.9 569.3,1004.0 579.1,994.2"/>
<polyline points="544.6,1015.1 606.2,1017.6 616.1,1025.0 625.9,1036.1"/>
<polyline points="520.0,1009.0 532.3,1010.2 544.6,1015.1"/>
<polyline points="579.1,1050.8 579.1,1065.6"/>
<polyline points="686.3,1082.1 699.8,1082.1 707.2,1088.5 778.6,1088.5 784.8,1093.9 794.6,1093.9"/>
<polyline points="794.6,1094.7 760.1,1094.7 739.2,1118.6 725.7,1132.1"/>
<polyline points="692.4,1103.8 719.5,1105.0 726.9,1107.5 739.2,1118.6"/>
<polyline points="520.0,1106.3 532.3,1107.5 544.6,1115.4 569.3,1116.1 574.2,1118.6 598.8,1118.6 605.0,1110.0 618.5,1110.0"/>
<polyline points="582.8,1121.0 592.7,1122.3 598.8,1130.9"/>
<polyline points="900.0,852.0 937.7,852.0 962.8,853.6 987.9,853.6 994.2,858.3 1003.6,863.0 1028.8,863.0 1035.1,859.8 1047.6,859.8 1050.8,856.7 1079.0,853.6 1101.0,848.8 1119.8,847.3 1119.8,839.4 1126.1,831.6"/>
<polyline points="972.2,830.0 976.9,839.4 976.9,852.0"/>
<polyline points="1050.8,844.1 1063.3,848.8 1116.7,848.8"/>
<polyline points="1119.8,839.4 1129.3,855.1"/>
<polyline points="1163.8,859.8 1171.7,866.1 1195.2,844.1 1196.8,836.3 1201.5,833.1 1210.9,839.4 1226.6,855.1 1242.3,857.6"/>
<polyline points="1320.9,830.0 1330.3,837.9 1346.0,837.9 1358.5,834.7 1377.4,836.3 1389.9,837.9 1405.7,855.1"/>
<polyline points="1358.5,858.3 1374.2,845.7 1393.1,845.7"/>
<polyline points="900.0,911.7 906.3,917.9 931.4,916.4 934.5,921.1 984.8,922.7 987.9,924.2 1000.5,924.2 1013.1,914.8 1016.2,908.5 1025.6,900.7"/>
<polyline points="1057.0,939.9 1072.7,939.9 1082.2,941.5 1091.6,933.6 1110.4,932.1 1132.4,936.8 1138.7,943.1 1134.0,947.8 1135.6,954.1 1141.8,958.8 1145.0,965.1 1170.1,968.2 1176.4,974.5 1195.2,980.8 1207.8,985.5 1217.2,994.9 1220.4,1005.9 1207.8,1020.0 1206.2,1034.1 1217.2,1046.7 1217.2,1053.0 1221.9,1057.7"/>
<polyline points="1141.8,955.6 1151.3,954.1 1167.0,939.9 1198.4,935.2 1195.2,930.5"/>
<polyline points="1170.1,1034.1 1195.2,1031.0 1206.2,1034.1"/>
<polyline points="1217.2,1046.7 1229.8,1038.9 1245.5,1038.9 1248.6,1034.1"/>
<polyline points="900.0,960.3 917.3,960.3"/>
<polyline points="900.0,982.3 937.7,983.9"/>
<polyline points="1017.8,984.5 1053.9,985.5 1060.2,990.2 1079.0,990.8 1088.4,996.5 1113.6,998.0 1182.7,998.0 1201.5,1002.1 1207.8,1002.7"/>
<polyline points="900.0,1024.7 936.1,1024.7"/>
<polyline points="1002.1,1021.6 1036.6,1021.6 1050.8,1034.1 1053.9,1040.4 1042.9,1051.4 1042.9,1054.6"/>
<polyline points="1053.9,1037.3 1064.9,1037.3"/>
<polyline points="1156.0,1057.7 1170.1,1056.1"/>
<polyline points="1226.6,903.2 1267.5,903.2 1283.2,897.5 1294.2,894.4 1300.4,900.7 1300.4,908.5 1320.9,927.4 1333.4,936.8 1339.7,939.3 1349.1,943.1 1368.0,946.2 1380.5,947.8 1389.9,950.9 1402.5,955.6"/>
<polyline points="1253.3,936.2 1339.7,936.2"/>
<polyline points="1308.3,966.6 1339.7,966.6"/>
<polyline points="1338.1,1013.7 1338.1,1023.2"/>
<polyline points="1380.5,1015.3 1389.9,1021.6 1389.9,1031.0"/>
<polyline points="1581.0,418.8 1581.0,428.2 1586.2,438.7 1593.5,447.1 1608.2,447.1 1620.8,459.7 1620.8,478.5 1629.2,489.0 1626.0,497.4 1629.2,501.6 1627.1,505.8 1627.1,516.3 1625.0,530.9 1629.2,541.4 1601.9,560.3 1583.1,566.6 1564.2,585.5 1560.0,589.6"/>
<polyline points="1586.2,438.7 1597.7,426.1 1610.3,417.7"/>
<polyline points="1629.2,493.2 1637.6,493.2 1641.8,499.5 1650.1,499.5 1650.1,493.2 1673.2,470.1 1679.5,468.1 1694.2,461.8 1698.4,455.5 1708.8,455.5"/>
<polyline points="1560.0,530.9 1566.3,530.9 1587.3,507.9 1604.0,507.9 1608.2,505.8 1612.4,505.8 1622.9,516.3 1622.9,528.8"/>
<polyline points="1629.2,541.4 1635.5,547.7 1643.9,547.7 1656.4,556.1 1683.7,557.1"/>
<polyline points="1643.9,547.7 1658.5,535.1 1673.2,535.1 1685.8,524.7 1698.4,522.6 1704.7,516.3 1704.7,512.1 1700.5,508.9"/>
<polyline points="1585.2,568.7 1585.2,579.2 1597.7,584.4 1610.3,584.4"/>
<polyline points="1669.0,427.2 1673.2,417.7 1677.4,415.6"/>
<polyline points="1671.1,432.4 1685.8,432.4 1694.2,436.6 1706.8,447.1"/>
<polyline points="1635.5,628.4 1635.5,622.1 1648.1,613.8"/>
<polyline points="1620.8,635.8 1652.2,635.8 1664.8,634.7 1692.1,628.4 1702.6,617.9 1708.8,617.9"/>
<polyline points="1560.0,698.7 1576.8,699.7 1583.1,693.4 1597.7,693.4 1601.9,690.3 1629.2,690.3 1637.6,684.0 1646.0,677.7 1660.6,677.7"/>
<polyline points="1614.5,687.1 1629.2,687.1"/>
<polyline points="1646.0,715.4 1656.4,702.9 1660.6,691.3 1708.8,691.3"/>
<polyline points="1560.0,725.9 1585.2,725.9 1593.5,729.1 1610.3,730.1 1614.5,735.3 1620.8,735.3 1622.9,732.2 1622.9,717.5 1625.0,715.4"/>
<polyline points="1688.9,684.0 1700.5,675.6 1708.8,673.5"/>
<polyline points="1560.0,752.1 1568.4,755.3 1581.0,765.7 1581.0,772.0 1587.3,772.0"/>
<polyline points="1566.3,775.2 1587.3,775.2 1594.6,768.9 1597.7,768.9 1614.5,772.0 1620.8,777.3 1631.3,780.4 1639.7,780.4 1652.2,786.7 1660.6,793.0 1664.8,794.0 1669.0,797.2 1677.4,802.4 1683.7,802.4 1692.1,794.0 1708.8,794.0"/>
<polyline points="1560.0,800.3 1658.5,800.3 1660.6,797.2"/>
<polyline points="1658.5,799.3 1656.4,807.7 1656.4,816.1 1650.1,822.3"/>
<polyline points="1662.7,797.2 1662.7,805.6 1669.0,816.1 1675.3,817.1 1682.6,817.1"/>
<polyline points="1562.1,830.7 1562.1,845.4"/>
<polyline points="233.5,409.2 247.3,400.0 259.6,400.0 262.7,404.6 302.7,404.6 308.9,408.3 315.0,408.3 324.3,400.0 333.5,404.6"/>
<polyline points="121.1,444.7 130.3,438.5 145.7,437.0 158.0,426.2 167.3,426.2 173.4,438.5 188.8,441.6"/>
<polyline points="293.5,450.8 308.9,449.3 318.1,458.5"/>
<polyline points="327.4,457.0 339.7,444.7 353.5,444.7"/>
<polyline points="462.8,418.5 472.1,423.1 490.5,432.3 530.6,433.9 555.2,440.0 567.5,444.7 573.7,453.9"/>
<polyline points="542.9,409.2 555.2,418.5 576.7,420.0 579.8,429.3 573.7,435.4 573.7,453.9"/>
<polyline points="441.3,460.0 444.4,450.8 472.1,449.3"/>
<polyline points="121.1,453.9 125.7,457.0"/>
<polyline points="1647.1,875.9 1649.6,875.9 1653.8,872.2 1674.0,872.2 1681.4,879.6 1693.6,890.6 1696.0,890.6 1709.5,904.0"/>
<polyline points="1647.1,948.7 1649.6,948.7 1656.3,954.2 1671.6,954.2 1678.3,960.3 1678.3,973.1 1709.5,973.1"/>
<polyline points="1662.4,954.2 1662.4,944.4 1666.1,942.5 1671.0,942.5"/>
<polyline points="1647.1,964.5 1653.8,969.4 1663.0,969.4 1666.1,973.1 1677.7,973.1"/>
<polyline points="1647.1,1030.6 1656.3,1030.6 1659.3,1033.6 1674.0,1033.6 1683.8,1024.5 1704.6,1024.5 1709.5,1028.1"/>
<polyline points="1658.1,1100.3 1696.0,1100.3 1702.1,1106.8 1709.5,1106.8"/>
<polyline points="1690.5,1102.1 1697.3,1102.1"/>
<polyline points="1550.0,80.6 1609.1,80.6 1611.6,83.7 1638.7,83.7"/>
<polyline points="1550.0,89.3 1630.0,90.5 1643.6,79.4 1657.1,76.9 1671.9,76.9 1675.6,73.3 1690.4,73.3 1697.8,67.1"/>
<polyline points="1630.0,92.3 1647.3,109.6"/>
<polyline points="1697.8,110.8 1708.9,110.8"/>
<polyline points="1550.0,179.2 1562.3,180.4 1568.5,174.2 1568.5,155.1"/>
<polyline points="1580.8,153.3 1580.8,185.3"/>
<polyline points="1589.4,153.3 1589.4,158.2 1611.6,181.6"/>
<polyline points="1690.4,190.2 1699.0,182.9 1699.0,190.2"/>
<polyline points="1550.0,238.3 1585.7,238.3 1598.0,231.5 1626.4,231.5"/>
<polyline points="1626.4,231.5 1635.0,222.3"/>
<polyline points="1354.6,184.8 1437.8,184.8 1459.7,176.0 1486.0,176.0 1503.5,184.8 1525.4,182.6"/>
<polyline points="1411.6,204.5 1415.9,217.6 1411.6,235.1 1380.9,243.9 1380.9,265.8"/>
<polyline points="1433.5,79.7 1464.1,90.6 1525.4,88.5 1582.3,90.6 1604.2,81.9"/>
<polyline points="1516.6,226.4 1521.0,235.1 1529.8,237.3 1604.2,237.3 1634.9,232.9"/>
<polyline points="1494.7,235.1 1472.9,248.3 1455.3,263.6 1433.5,259.2"/>
<polyline points="1415.9,66.6 1433.5,79.7"/>
</g>
<g fill="none" stroke="#6f8be6" stroke-width="2.3" stroke-linejoin="round">
<polyline points="420.0,866.0 444.6,865.5 484.0,864.2 489.0,860.5 506.2,858.1 518.5,855.6 533.3,853.2 548.1,851.9"/>
<polyline points="594.9,831.0 592.4,821.1 594.9,801.4 597.3,779.3 593.6,773.1 604.7,759.6 614.6,759.6 624.4,753.4 631.8,743.5 663.8,741.1 676.2,739.9"/>
<polyline points="1550.2,603.4 1560.1,612.3 1568.0,618.2 1579.8,626.1 1601.5,629.1 1620.0,630.0"/>
<polyline points="120.7,1027.7 128.8,1027.7 142.4,1022.2 207.4,1022.2 212.8,1024.9 248.0,1024.9 253.5,1027.7 272.4,1027.7 277.8,1030.4 294.1,1031.7 302.2,1034.4 348.3,1034.4 364.5,1027.7 413.3,1027.7 421.4,1033.1 429.6,1037.1 443.1,1042.6 462.1,1048.0 475.6,1049.3 486.5,1052.0 491.9,1054.7 558.0,1054.7"/>
<polyline points="245.3,881.4 241.3,886.8 241.3,892.2 226.4,893.5 221.0,901.7 212.8,911.2 210.1,917.9 204.7,924.7"/>
<polyline points="520.0,1054.5 566.8,1054.5 569.3,1052.1 584.0,1050.8 598.8,1045.9 608.7,1043.4 621.0,1039.8 628.4,1037.3 640.7,1033.6 653.0,1031.1 662.9,1029.9 677.6,1027.4 751.5,1027.4 758.9,1031.1 773.7,1032.4 781.1,1034.8 788.5,1037.3 795.9,1041.0"/>
<polyline points="1560.0,611.7 1568.4,619.0 1578.9,625.3 1599.8,627.4 1601.9,629.5 1639.7,629.5 1650.1,640.0 1658.5,652.5 1656.4,660.9 1654.3,669.3 1660.6,675.6 1671.1,684.0 1685.8,685.0 1694.2,688.2 1702.6,696.6 1708.8,700.8"/>
</g>
<g fill="#6877cc" stroke="#686868" stroke-width="1.5" stroke-linejoin="miter">
<path d="M399.6 444.0 L406.7 444.0 L409.9 447.9 L406.4 450.8 L401.0 450.8 L396.9 448.2 Z"/>
<path d="M471.6 442.9 L467.8 446.6 L459.0 446.8 L453.7 446.9 L445.2 445.8 L444.9 444.5 L442.8 441.6 L455.3 440.6 L463.2 440.9 L468.1 442.0 Z"/>
<path d="M331.7 463.8 L340.8 463.8 L344.6 466.5 L343.7 467.9 L332.6 467.9 L331.7 466.3 Z"/>
<path d="M385.0 460.7 L395.6 460.7 L401.4 462.9 L398.1 466.1 L387.4 466.1 L383.3 464.1 Z"/>
<path d="M445.8 470.0 L439.8 472.0 L436.5 472.5 L431.7 472.6 L424.4 472.1 L421.6 470.5 L424.3 467.8 L431.3 466.0 L435.4 466.0 L440.8 468.0 Z"/>
<path d="M401.5 472.5 L413.5 472.5 L413.7 473.9 L409.2 476.5 L400.7 476.5 L395.6 474.8 Z"/>
<path d="M459.1 478.0 L455.5 479.1 L452.5 481.4 L442.9 481.5 L430.9 479.6 L432.6 478.4 L433.4 476.2 L438.1 475.3 L452.1 475.1 L455.5 475.5 Z"/>
<path d="M500.8 469.9 L511.8 469.9 L513.3 472.9 L510.7 476.6 L504.3 476.6 L500.4 474.1 Z"/>
<path d="M422.1 505.4 L420.0 507.2 L416.1 508.5 L405.0 509.9 L403.7 507.8 L398.8 504.2 L401.6 503.2 L407.2 500.6 L414.2 501.3 L420.1 501.6 Z"/>
<path d="M420.4 509.4 L433.2 509.4 L435.8 511.7 L431.5 513.5 L420.9 513.5 L420.3 512.0 Z"/>
<path d="M345.9 502.6 L354.1 502.6 L358.2 504.7 L357.7 508.0 L344.9 508.0 L342.7 505.8 Z"/>
<path d="M228.3 518.6 L238.0 518.6 L239.9 522.1 L235.6 524.0 L230.7 524.0 L227.0 521.2 Z"/>
<path d="M204.5 532.1 L212.1 532.1 L215.3 534.7 L213.2 537.5 L203.6 537.5 L202.4 534.3 Z"/>
<path d="M228.2 533.3 L239.4 533.3 L246.3 536.1 L239.6 538.8 L229.9 538.8 L225.6 535.8 Z"/>
<path d="M238.5 547.6 L254.4 547.6 L256.0 550.1 L251.3 553.1 L243.2 553.1 L237.9 550.8 Z"/>
<path d="M171.2 557.9 L177.8 557.9 L180.8 559.8 L177.9 562.0 L171.1 562.0 L167.9 560.2 Z"/>
<path d="M436.4 537.6 L433.5 540.7 L429.5 541.9 L417.9 541.5 L414.3 540.9 L408.9 538.5 L410.8 535.7 L419.5 534.1 L426.4 534.3 L436.3 536.0 Z"/>
<path d="M519.1 543.7 L526.9 543.7 L530.6 547.2 L526.8 549.1 L520.6 549.1 L517.6 547.1 Z"/>
<path d="M293.2 559.2 L306.6 559.2 L310.3 562.6 L309.1 564.6 L295.4 564.6 L289.6 561.9 Z"/>
<path d="M167.2 583.8 L174.0 583.8 L177.1 586.2 L174.0 587.8 L164.9 587.8 L164.2 585.9 Z"/>
<path d="M153.0 590.7 L159.6 590.7 L161.0 592.9 L158.9 594.7 L153.4 594.7 L150.7 593.0 Z"/>
<path d="M163.0 590.0 L177.6 590.0 L178.4 592.3 L176.1 595.4 L166.2 595.4 L162.9 593.0 Z"/>
<path d="M150.1 604.8 L162.2 604.8 L162.4 606.8 L159.9 610.2 L148.0 610.2 L146.9 606.9 Z"/>
<path d="M433.4 577.4 L450.7 577.4 L451.9 582.7 L450.6 588.3 L431.5 588.3 L431.2 582.5 Z"/>
<path d="M351.5 587.5 L359.3 587.5 L361.8 589.4 L360.8 593.0 L352.8 593.0 L348.9 590.1 Z"/>
<path d="M399.5 596.8 L411.5 596.8 L413.6 598.7 L413.0 600.9 L402.4 600.9 L398.1 598.3 Z"/>
<path d="M425.0 596.8 L432.9 596.8 L433.2 599.0 L431.3 600.9 L424.0 600.9 L422.9 599.4 Z"/>
<path d="M443.6 601.3 L451.2 601.3 L453.0 603.1 L449.5 605.3 L442.8 605.3 L440.0 602.9 Z"/>
<path d="M433.2 590.7 L442.7 590.7 L445.6 592.8 L440.7 594.7 L435.1 594.7 L430.1 592.5 Z"/>
<path d="M520.2 586.1 L529.3 586.1 L529.3 591.9 L528.9 596.9 L518.8 596.9 L516.4 590.3 Z"/>
<path d="M507.3 593.7 L514.9 593.7 L519.5 596.0 L517.6 599.1 L506.2 599.1 L504.0 596.1 Z"/>
<path d="M502.2 604.3 L500.4 605.9 L494.7 605.9 L486.3 605.9 L484.1 605.2 L481.4 603.2 L482.6 602.6 L486.5 601.6 L494.9 601.6 L503.0 602.5 Z"/>
<path d="M468.4 607.9 L479.0 607.9 L481.3 610.3 L480.1 612.0 L472.4 612.0 L468.4 609.6 Z"/>
<path d="M292.0 607.9 L300.9 607.9 L301.4 610.1 L298.0 612.0 L292.1 612.0 L291.1 609.9 Z"/>
<path d="M384.2 622.7 L393.3 622.7 L396.4 625.0 L392.5 626.8 L381.5 626.8 L380.9 624.5 Z"/>
<path d="M412.4 631.3 L419.7 631.3 L420.9 633.3 L419.9 635.4 L412.4 635.4 L410.5 633.2 Z"/>
<path d="M425.4 627.6 L431.2 627.6 L433.2 629.6 L433.1 631.7 L423.7 631.7 L422.9 630.2 Z"/>
<path d="M476.6 623.9 L484.7 623.9 L487.5 625.9 L487.4 628.0 L476.0 628.0 L472.0 626.1 Z"/>
<path d="M485.6 638.0 L491.4 638.0 L493.5 639.9 L491.9 642.0 L486.3 642.0 L483.2 639.9 Z"/>
<path d="M504.1 641.7 L512.5 641.7 L513.3 643.7 L512.0 647.1 L504.0 647.1 L500.4 645.0 Z"/>
<path d="M350.1 651.8 L356.6 651.8 L358.1 654.3 L357.1 655.8 L350.4 655.8 L347.7 653.4 Z"/>
<path d="M514.8 666.2 L523.3 666.2 L525.6 669.5 L523.5 674.4 L514.1 674.4 L512.7 670.5 Z"/>
<path d="M316.4 672.0 L318.2 673.5 L309.3 675.4 L306.4 675.5 L295.2 673.2 L298.3 671.2 L300.5 669.2 L304.3 667.4 L311.2 668.7 L316.8 668.7 Z"/>
<path d="M487.5 671.3 L499.1 671.3 L502.3 674.2 L500.1 676.7 L487.6 676.7 L486.8 673.2 Z"/>
<path d="M770.2 321.0 L783.2 321.0 L785.1 323.8 L784.8 326.4 L769.9 326.4 L769.6 324.1 Z"/>
<path d="M651.6 398.6 L660.1 398.6 L660.7 401.4 L658.8 404.0 L649.1 404.0 L647.8 401.3 Z"/>
<path d="M593.2 402.9 L599.0 402.9 L600.3 404.5 L600.1 407.0 L592.4 407.0 L590.0 405.1 Z"/>
<path d="M527.7 415.3 L533.1 415.3 L536.3 417.0 L534.3 419.3 L528.1 419.3 L525.9 417.4 Z"/>
<path d="M694.9 426.8 L708.7 426.8 L713.8 430.2 L710.3 434.9 L694.1 434.9 L693.2 430.5 Z"/>
<path d="M795.5 439.2 L809.9 439.2 L811.1 441.2 L806.2 444.6 L795.0 444.6 L790.4 442.2 Z"/>
<path d="M821.8 420.7 L831.4 420.7 L831.8 424.1 L829.8 426.2 L822.3 426.2 L821.5 423.4 Z"/>
<path d="M847.4 439.9 L855.5 439.9 L859.0 441.4 L858.9 444.0 L849.2 444.0 L846.0 441.5 Z"/>
<path d="M807.3 468.8 L815.6 468.8 L819.7 472.2 L818.3 474.2 L802.3 474.2 L801.6 471.7 Z"/>
<path d="M804.0 476.8 L812.8 476.8 L813.4 478.5 L810.7 480.9 L802.0 480.9 L800.5 478.7 Z"/>
<path d="M893.8 340.1 L900.8 340.1 L902.0 342.6 L900.7 344.2 L892.1 344.2 L891.7 342.3 Z"/>
<path d="M886.5 394.3 L894.1 394.3 L895.9 396.5 L892.3 398.4 L885.2 398.4 L883.0 396.4 Z"/>
<path d="M881.3 514.3 L889.3 514.3 L891.0 516.6 L890.6 519.8 L878.2 519.8 L878.1 516.3 Z"/>
<path d="M853.2 513.7 L864.5 513.7 L867.8 517.0 L862.5 520.4 L847.1 520.4 L847.1 517.8 Z"/>
<path d="M886.4 522.4 L893.2 522.4 L894.6 524.0 L893.0 526.5 L884.6 526.5 L884.3 524.0 Z"/>
<path d="M899.4 506.9 L909.0 506.9 L910.7 509.3 L906.9 512.4 L898.4 512.4 L897.8 509.3 Z"/>
<path d="M898.4 540.9 L907.2 540.9 L908.2 542.3 L907.4 544.9 L899.5 544.9 L897.8 543.4 Z"/>
<path d="M865.9 549.5 L871.7 549.5 L874.9 551.5 L872.6 553.6 L866.9 553.6 L864.6 552.1 Z"/>
<path d="M905.7 547.6 L915.2 547.6 L918.1 550.7 L916.8 553.0 L908.1 553.0 L905.2 549.7 Z"/>
<path d="M686.9 501.5 L701.3 501.5 L701.4 503.4 L700.2 505.5 L686.3 505.5 L685.9 504.1 Z"/>
<path d="M750.3 496.4 L760.3 496.4 L761.7 500.3 L759.7 503.2 L750.0 503.2 L748.8 500.2 Z"/>
<path d="M775.2 500.2 L784.2 500.2 L785.0 502.4 L782.7 504.3 L777.9 504.3 L774.7 502.2 Z"/>
<path d="M704.2 512.5 L711.1 512.5 L711.1 514.5 L710.9 516.6 L703.5 516.6 L700.8 514.0 Z"/>
<path d="M620.2 521.2 L625.2 521.2 L628.6 522.7 L626.8 525.2 L619.5 525.2 L618.3 522.7 Z"/>
<path d="M679.5 520.5 L687.8 520.5 L690.3 522.8 L685.5 525.9 L675.1 525.9 L674.8 522.5 Z"/>
<path d="M700.5 519.0 L715.9 519.0 L716.2 523.8 L714.7 529.9 L700.6 529.9 L698.1 523.0 Z"/>
<path d="M673.8 528.6 L684.1 528.6 L689.1 530.5 L688.2 532.6 L676.2 532.6 L673.6 530.6 Z"/>
<path d="M648.2 536.5 L666.1 536.5 L668.3 539.9 L667.5 541.9 L651.3 541.9 L647.6 539.4 Z"/>
<path d="M614.6 541.3 L626.3 541.3 L627.6 545.3 L627.5 549.4 L612.7 549.4 L609.5 545.5 Z"/>
<path d="M611.6 551.3 L609.2 554.4 L603.6 554.8 L593.8 554.4 L591.1 554.0 L585.6 552.4 L590.8 549.1 L593.9 548.8 L600.7 548.5 L608.7 549.2 Z"/>
<path d="M523.4 542.7 L537.3 542.7 L537.6 544.9 L534.0 548.1 L522.3 548.1 L522.1 545.0 Z"/>
<path d="M654.0 547.0 L662.8 547.0 L663.1 549.4 L661.7 551.1 L653.8 551.1 L652.8 549.1 Z"/>
<path d="M697.7 532.3 L702.7 532.3 L705.0 534.2 L702.4 536.3 L696.6 536.3 L694.6 534.7 Z"/>
<path d="M772.3 321.2 L779.4 321.2 L784.4 323.4 L780.6 326.3 L772.5 326.3 L768.9 324.2 Z"/>
<path d="M893.1 339.6 L901.1 339.6 L901.6 341.4 L901.3 343.7 L892.4 343.7 L891.9 341.9 Z"/>
<path d="M972.0 321.2 L989.1 321.2 L989.5 323.0 L984.6 326.3 L973.7 326.3 L970.1 323.1 Z"/>
<path d="M995.1 332.0 L993.2 337.6 L983.6 337.7 L975.6 338.0 L969.7 335.9 L961.3 332.7 L969.6 329.8 L975.6 328.4 L986.4 328.1 L996.7 330.5 Z"/>
<path d="M1002.3 352.6 L998.1 356.0 L992.7 356.7 L978.9 357.1 L971.3 355.8 L973.3 353.1 L976.0 350.8 L977.2 349.6 L988.6 349.5 L1002.4 350.8 Z"/>
<path d="M1033.4 354.9 L1047.4 354.9 L1048.6 358.0 L1047.0 361.0 L1032.3 361.0 L1031.2 357.7 Z"/>
<path d="M1019.2 367.6 L1017.8 368.9 L1010.3 371.3 L1004.0 370.5 L1002.0 369.1 L998.6 366.5 L1000.6 365.9 L1003.5 363.7 L1014.2 364.3 L1018.5 365.6 Z"/>
<path d="M950.4 364.2 L955.1 364.2 L957.9 366.6 L955.9 369.3 L950.8 369.3 L948.2 366.0 Z"/>
<path d="M991.3 381.0 L988.3 382.6 L979.6 383.8 L970.9 384.4 L960.1 383.4 L954.8 381.2 L960.8 378.0 L970.5 377.2 L980.3 377.2 L987.4 378.6 Z"/>
<path d="M976.0 388.2 L986.5 388.2 L989.5 389.7 L987.8 392.3 L972.5 392.3 L972.0 390.1 Z"/>
<path d="M1045.9 388.3 L1053.4 388.3 L1056.8 391.5 L1053.6 393.3 L1044.6 393.3 L1043.3 390.5 Z"/>
<path d="M887.6 395.0 L897.6 395.0 L898.0 397.6 L894.5 399.1 L887.4 399.1 L884.4 397.6 Z"/>
<path d="M904.1 391.9 L910.8 391.9 L914.6 393.6 L911.2 396.0 L903.8 396.0 L901.0 394.0 Z"/>
<path d="M825.5 421.5 L831.5 421.5 L832.3 423.9 L829.1 426.6 L824.3 426.6 L822.6 423.3 Z"/>
<path d="M827.5 433.5 L835.4 433.5 L836.0 436.0 L833.9 437.5 L829.2 437.5 L826.3 435.6 Z"/>
<path d="M1042.7 266.3 L1041.8 268.9 L1035.6 269.9 L1028.7 269.3 L1025.9 268.7 L1020.8 266.2 L1023.1 264.8 L1031.7 263.2 L1034.5 262.7 L1044.7 264.6 Z"/>
<path d="M698.3 425.5 L711.1 425.5 L714.0 430.9 L711.1 434.2 L696.9 434.2 L693.3 429.3 Z"/>
<path d="M823.6 421.2 L830.9 421.2 L833.0 423.2 L829.6 426.7 L823.3 426.7 L822.6 423.3 Z"/>
<path d="M793.1 439.0 L807.0 439.0 L811.6 441.8 L810.2 444.4 L790.3 444.4 L788.8 441.9 Z"/>
<path d="M828.9 433.6 L834.4 433.6 L836.9 436.2 L836.7 437.9 L828.2 437.9 L826.6 436.4 Z"/>
<path d="M846.5 439.0 L854.1 439.0 L857.6 441.2 L855.0 444.4 L849.1 444.4 L845.2 442.0 Z"/>
<path d="M808.4 469.5 L817.7 469.5 L820.3 471.7 L819.7 474.9 L804.8 474.9 L803.7 471.6 Z"/>
<path d="M801.6 476.9 L812.3 476.9 L815.3 479.4 L814.8 481.3 L804.5 481.3 L800.8 479.5 Z"/>
<path d="M690.4 500.6 L697.6 500.6 L701.0 502.9 L696.6 504.9 L691.2 504.9 L686.6 503.4 Z"/>
<path d="M750.1 496.6 L761.6 496.6 L762.1 499.6 L761.8 503.1 L750.5 503.1 L749.7 499.7 Z"/>
<path d="M703.8 509.9 L709.2 509.9 L711.8 512.7 L711.5 515.3 L702.8 515.3 L701.4 512.4 Z"/>
<path d="M677.3 520.3 L691.5 520.3 L695.2 522.5 L692.9 524.6 L680.8 524.6 L676.6 523.1 Z"/>
<path d="M706.1 521.2 L718.4 521.2 L718.9 524.0 L714.2 527.7 L704.7 527.7 L700.2 523.7 Z"/>
<path d="M866.9 497.6 L875.9 497.6 L877.3 499.6 L874.3 502.0 L868.7 502.0 L864.9 499.5 Z"/>
<path d="M944.9 495.9 L940.6 500.1 L936.0 500.9 L925.2 501.1 L923.1 500.1 L917.9 496.7 L920.6 493.7 L925.0 490.8 L938.0 490.8 L942.7 491.5 Z"/>
<path d="M904.7 507.4 L915.3 507.4 L916.7 511.2 L913.4 513.9 L904.4 513.9 L904.3 510.4 Z"/>
<path d="M924.1 512.0 L935.4 512.0 L936.5 514.2 L934.6 516.4 L925.6 516.4 L924.0 513.6 Z"/>
<path d="M949.0 506.4 L961.5 506.4 L968.2 508.8 L965.1 512.9 L950.7 512.9 L947.5 509.2 Z"/>
<path d="M853.2 514.3 L863.5 514.3 L868.7 517.3 L864.9 520.8 L846.4 520.8 L846.0 518.1 Z"/>
<path d="M834.0 532.1 L840.8 532.1 L842.8 534.5 L839.7 536.5 L834.7 536.5 L832.5 533.7 Z"/>
<path d="M936.0 551.6 L934.4 555.1 L923.8 557.1 L917.3 557.1 L907.6 554.8 L906.5 553.4 L908.0 550.0 L920.6 549.1 L924.8 549.2 L931.4 550.5 Z"/>
<path d="M923.7 568.6 L935.9 568.6 L936.6 570.6 L935.6 574.0 L922.5 574.0 L920.0 571.1 Z"/>
<path d="M909.6 601.1 L915.5 601.1 L919.8 603.7 L918.8 605.4 L905.4 605.4 L905.3 603.9 Z"/>
<path d="M816.2 577.0 L825.5 577.0 L826.1 579.8 L825.1 581.4 L817.5 581.4 L813.7 578.6 Z"/>
<path d="M800.8 586.3 L814.0 586.3 L816.4 588.3 L814.9 590.6 L804.0 590.6 L799.8 588.8 Z"/>
<path d="M820.5 585.1 L836.5 585.1 L840.1 588.4 L833.4 593.8 L824.3 593.8 L819.4 588.4 Z"/>
<path d="M777.7 594.7 L776.2 596.4 L769.1 598.8 L762.2 598.3 L754.5 597.1 L753.1 594.0 L752.7 591.9 L756.7 590.7 L768.4 590.6 L777.5 592.0 Z"/>
<path d="M733.1 585.8 L746.6 585.8 L749.4 588.2 L749.1 591.2 L734.9 591.2 L732.8 587.7 Z"/>
<path d="M680.8 556.7 L688.5 556.7 L690.1 558.7 L687.8 561.1 L682.9 561.1 L679.8 559.0 Z"/>
<path d="M540.4 558.7 L546.0 558.7 L549.9 561.6 L545.9 565.2 L541.5 565.2 L537.4 561.3 Z"/>
<path d="M524.7 589.2 L535.7 589.2 L536.2 593.6 L533.7 597.8 L523.7 597.8 L519.6 593.2 Z"/>
<path d="M569.6 607.0 L580.7 607.0 L582.5 609.5 L579.1 613.5 L569.0 613.5 L563.9 610.0 Z"/>
<path d="M686.0 563.7 L692.7 563.7 L694.6 565.3 L693.9 568.1 L685.9 568.1 L684.3 565.4 Z"/>
<path d="M732.3 584.3 L746.2 584.3 L747.0 587.1 L741.7 590.8 L731.9 590.8 L730.4 588.1 Z"/>
<path d="M776.7 595.9 L774.4 598.4 L769.5 599.3 L762.0 599.0 L752.3 597.1 L752.6 594.8 L754.1 594.1 L761.6 591.5 L765.1 592.3 L776.5 593.7 Z"/>
<path d="M816.9 577.5 L825.5 577.5 L825.7 580.0 L823.3 581.9 L813.8 581.9 L813.3 579.8 Z"/>
<path d="M802.8 584.9 L814.7 584.9 L816.0 586.9 L810.7 590.3 L800.0 590.3 L799.4 587.9 Z"/>
<path d="M830.4 587.8 L840.2 587.8 L840.4 591.2 L838.9 593.3 L832.3 593.3 L830.1 590.9 Z"/>
<path d="M739.7 610.5 L753.9 610.5 L757.9 613.6 L752.6 615.9 L740.0 615.9 L739.3 612.8 Z"/>
<path d="M723.9 616.4 L735.1 616.4 L735.1 619.0 L731.9 620.7 L724.8 620.7 L722.7 618.5 Z"/>
<path d="M708.7 621.3 L725.0 621.3 L726.4 623.6 L724.7 626.7 L713.6 626.7 L707.7 623.4 Z"/>
<path d="M687.9 618.5 L700.3 618.5 L700.6 620.9 L698.6 622.9 L689.2 622.9 L686.2 620.3 Z"/>
<path d="M681.9 636.7 L691.7 636.7 L693.7 638.9 L690.9 641.0 L683.1 641.0 L681.3 639.4 Z"/>
<path d="M798.1 608.1 L808.8 608.1 L810.0 610.8 L807.9 612.4 L799.8 612.4 L797.5 610.3 Z"/>
<path d="M821.6 630.0 L834.8 630.0 L837.7 632.9 L832.3 636.6 L822.8 636.6 L817.0 632.5 Z"/>
<path d="M527.7 650.0 L537.5 650.0 L539.0 652.4 L535.3 654.4 L527.7 654.4 L526.6 652.4 Z"/>
<path d="M558.1 662.3 L566.1 662.3 L566.6 663.9 L563.4 666.6 L555.6 666.6 L554.2 664.6 Z"/>
<path d="M542.7 672.0 L543.6 673.1 L535.3 675.2 L526.4 674.6 L522.3 673.6 L521.3 672.0 L522.5 668.8 L529.6 668.1 L533.0 668.0 L542.8 669.6 Z"/>
<path d="M582.7 681.0 L581.4 681.8 L574.8 683.1 L566.3 683.6 L561.6 683.1 L555.7 679.2 L561.4 678.3 L568.3 676.9 L573.7 677.1 L582.2 678.7 Z"/>
<path d="M527.9 704.1 L540.6 704.1 L542.1 707.2 L539.0 710.6 L530.9 710.6 L525.5 706.8 Z"/>
<path d="M533.3 717.9 L541.9 717.9 L547.0 722.0 L544.9 724.4 L533.9 724.4 L530.4 720.8 Z"/>
<path d="M625.5 721.4 L632.4 721.4 L634.6 724.1 L634.0 725.7 L622.4 725.7 L622.2 723.5 Z"/>
<path d="M519.1 731.0 L528.1 731.0 L533.2 734.8 L530.0 739.7 L519.4 739.7 L516.7 736.0 Z"/>
<path d="M577.9 734.8 L587.3 734.8 L589.3 736.5 L586.1 739.1 L579.4 739.1 L576.8 736.6 Z"/>
<path d="M633.8 740.1 L642.5 740.1 L646.5 741.8 L645.9 744.4 L635.5 744.4 L630.0 741.8 Z"/>
<path d="M766.4 657.8 L783.4 657.8 L786.5 659.9 L782.2 663.2 L771.7 663.2 L765.8 660.8 Z"/>
<path d="M807.8 660.3 L817.4 660.3 L819.8 661.9 L818.8 664.6 L808.9 664.6 L807.4 662.7 Z"/>
<path d="M804.0 670.0 L812.7 670.0 L815.9 673.6 L814.5 676.6 L805.9 676.6 L803.4 673.3 Z"/>
<path d="M820.9 676.9 L825.9 676.9 L829.7 680.9 L828.5 683.4 L818.6 683.4 L817.2 679.5 Z"/>
<path d="M728.3 680.0 L737.3 680.0 L739.0 682.4 L735.0 684.3 L727.1 684.3 L726.6 682.5 Z"/>
<path d="M743.4 681.0 L752.8 681.0 L752.8 683.6 L748.9 685.3 L741.7 685.3 L740.4 683.4 Z"/>
<path d="M761.6 679.9 L772.4 679.9 L777.6 683.6 L773.4 686.4 L761.1 686.4 L759.0 683.2 Z"/>
<path d="M732.1 708.6 L737.8 708.6 L740.0 710.7 L737.2 712.9 L730.2 712.9 L729.6 710.1 Z"/>
<path d="M761.4 716.5 L767.3 716.5 L770.5 718.7 L767.1 720.8 L758.3 720.8 L758.1 718.6 Z"/>
<path d="M718.4 721.2 L738.7 721.2 L740.2 724.8 L732.9 729.9 L724.0 729.9 L717.5 726.4 Z"/>
<path d="M488.8 734.2 L500.6 734.2 L502.9 736.5 L499.1 739.6 L486.2 739.6 L484.8 736.1 Z"/>
<path d="M534.7 732.8 L531.5 735.0 L526.9 735.6 L519.1 735.6 L513.4 734.7 L511.7 732.6 L514.3 731.1 L522.1 729.3 L524.3 729.5 L531.6 731.0 Z"/>
<path d="M525.1 736.6 L534.2 736.6 L536.1 738.6 L532.6 740.7 L525.2 740.7 L523.1 738.0 Z"/>
<path d="M580.1 735.4 L585.1 735.4 L587.7 737.5 L585.6 739.4 L580.3 739.4 L577.4 737.7 Z"/>
<path d="M560.6 759.0 L561.0 759.9 L550.0 761.6 L548.3 761.7 L542.3 760.9 L539.7 759.0 L539.4 757.0 L544.5 754.7 L551.8 755.2 L560.9 756.7 Z"/>
<path d="M569.6 748.9 L584.0 748.9 L585.5 750.8 L582.7 753.0 L567.9 753.0 L564.8 750.4 Z"/>
<path d="M435.5 759.3 L444.7 759.3 L448.7 762.3 L445.1 764.7 L437.6 764.7 L433.2 762.4 Z"/>
<path d="M623.5 739.6 L627.7 739.6 L630.8 742.6 L628.1 745.0 L621.9 745.0 L620.5 742.6 Z"/>
<path d="M578.1 778.5 L585.4 778.5 L589.1 781.0 L586.8 783.9 L574.6 783.9 L573.6 780.8 Z"/>
<path d="M627.6 792.5 L635.6 792.5 L639.6 794.9 L638.6 796.6 L626.8 796.6 L624.1 794.4 Z"/>
<path d="M736.6 765.9 L733.1 769.2 L728.2 770.6 L722.6 771.6 L717.5 769.9 L709.9 766.8 L716.2 763.7 L723.1 762.9 L725.6 763.0 L732.6 763.1 Z"/>
<path d="M701.3 787.6 L708.9 787.6 L710.9 791.0 L707.5 793.1 L700.0 793.1 L698.0 790.5 Z"/>
<path d="M738.5 774.1 L748.4 774.1 L749.1 777.3 L747.3 779.5 L738.1 779.5 L736.2 776.4 Z"/>
<path d="M787.1 792.6 L798.5 792.6 L803.4 794.8 L803.0 798.0 L788.6 798.0 L785.3 795.5 Z"/>
<path d="M774.9 801.2 L786.9 801.2 L787.4 803.6 L783.6 806.6 L774.0 806.6 L771.8 804.5 Z"/>
<path d="M426.1 812.3 L436.0 812.3 L437.6 815.0 L434.1 817.7 L422.7 817.7 L422.1 814.3 Z"/>
<path d="M538.0 812.8 L546.7 812.8 L552.2 816.2 L548.4 819.6 L534.3 819.6 L534.1 816.1 Z"/>
<path d="M504.1 820.3 L514.5 820.3 L515.1 821.8 L513.9 824.4 L504.1 824.4 L502.2 822.6 Z"/>
<path d="M527.7 822.6 L536.2 822.6 L537.2 826.0 L536.9 828.0 L527.9 828.0 L526.9 825.0 Z"/>
<path d="M425.0 821.4 L436.1 821.4 L437.5 823.8 L433.5 826.8 L425.0 826.8 L424.6 823.6 Z"/>
<path d="M445.1 830.7 L457.9 830.7 L461.1 833.2 L460.5 836.2 L446.4 836.2 L440.4 833.8 Z"/>
<path d="M539.0 830.1 L547.6 830.1 L552.1 833.0 L551.8 836.8 L537.8 836.8 L536.6 833.0 Z"/>
<path d="M432.5 845.0 L441.2 845.0 L443.8 848.3 L442.0 850.4 L430.9 850.4 L428.3 847.8 Z"/>
<path d="M467.5 850.4 L477.3 850.4 L480.7 853.0 L477.5 855.9 L467.3 855.9 L465.2 852.6 Z"/>
<path d="M699.9 840.1 L707.2 840.1 L710.9 843.0 L709.6 845.5 L699.6 845.5 L698.0 843.0 Z"/>
<path d="M783.7 832.6 L794.0 832.6 L795.9 834.2 L792.8 836.7 L783.2 836.7 L783.0 835.0 Z"/>
<path d="M817.7 854.0 L819.5 855.2 L812.5 857.9 L805.6 857.9 L797.9 856.4 L793.3 852.7 L796.2 849.2 L802.9 847.8 L808.7 848.4 L817.3 849.8 Z"/>
<path d="M752.6 855.4 L759.6 855.4 L762.6 858.8 L761.3 860.8 L755.0 860.8 L752.3 858.8 Z"/>
<path d="M796.2 864.0 L787.6 866.6 L782.6 868.1 L775.7 867.4 L769.7 866.8 L765.9 863.5 L766.2 862.4 L774.4 860.6 L783.5 861.0 L790.3 861.1 Z"/>
<path d="M715.4 862.8 L728.1 862.8 L729.5 865.5 L726.5 868.2 L714.9 868.2 L711.4 866.1 Z"/>
<path d="M759.3 866.5 L767.5 866.5 L768.8 868.6 L767.4 871.9 L758.5 871.9 L755.9 869.9 Z"/>
<path d="M608.3 856.6 L616.8 856.6 L618.5 858.6 L617.6 862.0 L610.0 862.0 L608.2 858.9 Z"/>
<path d="M575.0 879.1 L571.7 880.0 L565.0 881.3 L554.9 883.5 L547.2 880.7 L544.8 878.7 L546.8 873.7 L556.1 872.3 L564.2 873.8 L568.1 874.6 Z"/>
<path d="M529.6 872.1 L543.8 872.1 L544.8 873.5 L541.0 876.1 L531.8 876.1 L529.2 873.9 Z"/>
<path d="M586.6 873.9 L593.3 873.9 L597.7 878.1 L593.9 880.7 L586.0 880.7 L582.2 877.4 Z"/>
<path d="M581.2 869.1 L588.2 869.1 L590.2 870.8 L589.2 873.2 L580.0 873.2 L579.9 871.1 Z"/>
<path d="M483.0 885.6 L492.6 885.6 L492.9 888.2 L492.1 889.7 L483.8 889.7 L482.6 887.6 Z"/>
<path d="M479.9 898.5 L475.7 899.8 L470.9 900.6 L461.6 901.2 L456.8 899.3 L457.1 898.4 L458.2 896.3 L460.8 895.6 L468.7 895.3 L477.6 896.3 Z"/>
<path d="M456.6 902.8 L465.2 902.8 L468.3 904.4 L467.4 906.9 L459.4 906.9 L455.4 905.0 Z"/>
<path d="M530.6 893.0 L535.9 893.0 L538.5 895.2 L536.8 897.1 L531.1 897.1 L528.1 895.3 Z"/>
<path d="M693.4 878.2 L702.9 878.2 L703.5 879.8 L701.9 882.3 L695.0 882.3 L693.2 880.5 Z"/>
<path d="M772.2 879.4 L781.6 879.4 L783.6 881.2 L781.4 883.5 L774.3 883.5 L770.7 881.6 Z"/>
<path d="M803.6 884.4 L809.6 884.4 L811.9 886.4 L810.8 888.4 L802.5 888.4 L801.5 886.5 Z"/>
<path d="M644.9 918.9 L652.5 918.9 L653.0 920.5 L651.5 922.9 L644.6 922.9 L642.7 920.4 Z"/>
<path d="M547.3 920.6 L554.4 920.6 L554.5 922.0 L552.8 924.6 L545.2 924.6 L544.1 922.3 Z"/>
<path d="M795.9 912.7 L804.3 912.7 L805.7 914.5 L802.6 916.8 L795.6 916.8 L795.4 915.0 Z"/>
<path d="M792.0 934.1 L791.9 935.5 L783.5 937.5 L779.7 937.5 L773.6 935.8 L768.9 933.6 L772.0 931.8 L779.5 929.7 L785.7 931.1 L792.6 931.7 Z"/>
<path d="M583.7 941.8 L592.2 941.8 L595.2 943.9 L593.6 945.8 L584.9 945.8 L582.3 944.0 Z"/>
<path d="M722.4 961.3 L729.5 961.3 L733.2 963.6 L729.5 966.7 L721.3 966.7 L717.7 964.2 Z"/>
<path d="M1102.8 302.7 L1114.8 302.7 L1115.1 305.9 L1111.2 309.2 L1100.8 309.2 L1099.6 306.0 Z"/>
<path d="M1125.2 357.4 L1132.2 357.4 L1135.8 359.8 L1133.6 362.3 L1126.2 362.3 L1121.8 359.9 Z"/>
<path d="M1257.5 372.9 L1257.1 374.1 L1253.2 374.5 L1241.5 374.5 L1233.8 373.6 L1234.1 372.8 L1235.9 370.9 L1245.1 370.0 L1251.1 370.8 L1257.6 370.8 Z"/>
<path d="M1253.9 381.0 L1262.0 381.0 L1266.7 384.7 L1264.6 388.3 L1252.8 388.3 L1248.1 385.0 Z"/>
<path d="M1298.8 420.0 L1294.2 423.2 L1284.3 423.9 L1271.9 423.8 L1265.2 423.6 L1261.3 420.1 L1264.6 418.2 L1277.2 415.7 L1283.0 414.9 L1292.4 416.5 Z"/>
<path d="M1283.8 424.3 L1290.2 424.3 L1293.9 426.1 L1291.9 428.4 L1282.8 428.4 L1281.5 426.2 Z"/>
<path d="M1302.8 412.1 L1319.2 412.1 L1319.9 414.9 L1319.0 417.0 L1304.6 417.0 L1302.8 415.2 Z"/>
<path d="M1290.6 421.3 L1290.7 423.0 L1280.4 423.8 L1271.4 424.0 L1263.7 423.8 L1260.6 422.0 L1264.2 419.4 L1274.2 418.8 L1282.8 419.4 L1290.3 420.3 Z"/>
<path d="M1278.7 424.2 L1292.8 424.2 L1294.2 427.0 L1289.0 429.1 L1282.3 429.1 L1278.6 427.1 Z"/>
<path d="M1364.5 419.0 L1375.6 419.0 L1376.8 422.1 L1374.9 423.9 L1368.2 423.9 L1364.4 421.0 Z"/>
<path d="M1314.1 460.8 L1319.4 460.8 L1321.4 462.8 L1320.3 464.9 L1310.8 464.9 L1310.5 462.9 Z"/>
<path d="M1239.8 488.2 L1247.9 488.2 L1249.0 490.0 L1245.5 492.2 L1239.8 492.2 L1238.1 490.5 Z"/>
<path d="M1339.2 504.7 L1353.7 504.7 L1356.3 508.9 L1355.7 511.2 L1339.2 511.2 L1337.7 508.2 Z"/>
<path d="M1366.1 510.6 L1374.5 510.6 L1377.6 513.6 L1374.5 517.1 L1366.1 517.1 L1363.6 513.1 Z"/>
<path d="M1216.0 548.3 L1232.2 548.3 L1232.9 551.9 L1230.6 554.8 L1215.9 554.8 L1215.8 551.2 Z"/>
<path d="M1392.0 538.4 L1402.1 538.4 L1403.4 540.9 L1401.4 542.5 L1391.9 542.5 L1391.0 540.4 Z"/>
<path d="M1404.6 534.2 L1419.3 534.2 L1419.8 537.1 L1415.2 540.7 L1407.2 540.7 L1404.3 537.9 Z"/>
<path d="M1393.8 403.1 L1401.3 403.1 L1404.5 405.1 L1401.2 408.8 L1396.1 408.8 L1393.7 405.8 Z"/>
<path d="M1366.5 418.3 L1373.8 418.3 L1376.5 420.1 L1375.6 423.1 L1363.7 423.1 L1362.6 420.7 Z"/>
<path d="M1512.4 423.0 L1510.2 427.4 L1505.1 428.3 L1499.3 428.7 L1490.6 425.5 L1490.5 422.9 L1494.0 420.5 L1499.7 418.7 L1507.5 419.5 L1508.2 420.6 Z"/>
<path d="M1508.9 432.0 L1501.8 433.4 L1498.4 434.3 L1491.9 434.4 L1483.5 433.4 L1481.1 432.1 L1484.7 429.5 L1490.8 428.4 L1494.9 428.4 L1501.5 429.9 Z"/>
<path d="M1486.0 440.3 L1495.4 440.3 L1500.0 444.0 L1496.2 446.8 L1484.4 446.8 L1481.4 443.5 Z"/>
<path d="M1495.7 447.9 L1506.4 447.9 L1507.3 450.5 L1506.8 452.0 L1495.0 452.0 L1494.9 450.5 Z"/>
<path d="M1544.7 445.5 L1544.6 447.8 L1533.5 448.8 L1520.1 449.5 L1518.8 448.5 L1512.4 446.3 L1516.6 444.0 L1522.4 442.3 L1534.1 442.4 L1542.8 444.0 Z"/>
<path d="M1550.6 432.5 L1549.0 434.5 L1541.4 435.1 L1531.7 435.0 L1529.0 434.0 L1527.4 432.2 L1528.8 429.7 L1533.5 429.3 L1539.1 428.3 L1547.8 429.7 Z"/>
<path d="M1583.2 428.4 L1577.8 429.8 L1571.2 430.6 L1566.5 431.0 L1561.2 430.3 L1558.7 427.9 L1559.4 426.6 L1565.8 425.3 L1574.8 425.6 L1578.1 426.2 Z"/>
<path d="M1565.3 436.6 L1575.2 436.6 L1579.9 440.2 L1576.5 443.2 L1562.3 443.2 L1558.2 439.4 Z"/>
<path d="M1567.6 447.0 L1582.2 447.0 L1582.7 451.2 L1579.7 453.5 L1570.3 453.5 L1567.2 450.5 Z"/>
<path d="M1545.2 456.6 L1553.6 456.6 L1560.7 459.8 L1557.1 463.1 L1542.0 463.1 L1539.0 459.6 Z"/>
<path d="M1570.0 460.0 L1577.8 460.0 L1580.5 462.1 L1579.9 464.1 L1571.0 464.1 L1566.5 462.4 Z"/>
<path d="M1435.1 467.1 L1442.8 467.1 L1445.2 468.7 L1442.8 471.2 L1433.3 471.2 L1432.8 469.4 Z"/>
<path d="M1481.8 480.0 L1494.9 480.0 L1495.5 482.3 L1491.3 484.0 L1483.9 484.0 L1480.0 481.9 Z"/>
<path d="M1551.1 486.2 L1548.6 489.7 L1535.5 491.8 L1530.9 492.5 L1516.0 489.6 L1516.8 486.1 L1519.5 483.8 L1527.7 482.6 L1535.3 482.1 L1549.2 484.0 Z"/>
<path d="M1476.2 494.4 L1485.0 494.4 L1487.4 496.7 L1484.3 499.2 L1476.3 499.2 L1473.4 496.5 Z"/>
<path d="M1492.8 493.3 L1501.8 493.3 L1503.6 495.6 L1503.5 498.2 L1490.5 498.2 L1489.7 496.0 Z"/>
<path d="M1489.6 514.6 L1500.2 514.6 L1503.0 517.2 L1498.3 520.3 L1487.7 520.3 L1485.9 517.9 Z"/>
<path d="M1505.4 523.5 L1514.2 523.5 L1516.2 526.4 L1512.0 529.2 L1502.3 529.2 L1502.2 527.0 Z"/>
<path d="M1343.9 504.6 L1354.8 504.6 L1355.9 508.7 L1351.3 511.1 L1341.9 511.1 L1338.9 507.5 Z"/>
<path d="M1342.5 513.2 L1349.5 513.2 L1352.1 515.1 L1348.0 517.3 L1341.1 517.3 L1339.7 514.8 Z"/>
<path d="M1367.2 511.3 L1377.7 511.3 L1378.0 513.3 L1374.1 516.2 L1364.7 516.2 L1364.1 514.4 Z"/>
<path d="M1405.2 535.3 L1415.2 535.3 L1419.5 537.9 L1417.5 541.0 L1403.8 541.0 L1402.4 539.0 Z"/>
<path d="M1390.7 537.9 L1398.6 537.9 L1402.4 540.0 L1398.7 542.8 L1392.8 542.8 L1389.9 540.7 Z"/>
<path d="M1343.6 504.6 L1352.9 504.6 L1356.6 508.8 L1355.2 511.1 L1341.8 511.1 L1338.0 508.1 Z"/>
<path d="M1340.7 513.6 L1351.7 513.6 L1352.5 515.1 L1349.9 517.9 L1340.3 517.9 L1340.1 515.6 Z"/>
<path d="M1365.8 510.5 L1375.1 510.5 L1377.1 514.1 L1376.8 517.0 L1367.0 517.0 L1364.7 513.4 Z"/>
<path d="M1394.1 538.2 L1403.2 538.2 L1405.8 540.6 L1402.0 542.6 L1394.1 542.6 L1391.3 540.5 Z"/>
<path d="M1407.6 535.2 L1419.1 535.2 L1419.6 539.1 L1419.0 541.7 L1407.8 541.7 L1403.1 537.5 Z"/>
<path d="M1491.7 514.5 L1500.0 514.5 L1503.3 517.5 L1498.6 521.0 L1490.7 521.0 L1486.8 517.0 Z"/>
<path d="M1506.8 522.8 L1513.1 522.8 L1516.1 525.7 L1514.1 529.3 L1504.8 529.3 L1503.6 526.9 Z"/>
<path d="M1497.2 544.2 L1510.1 544.2 L1511.2 546.4 L1505.8 549.6 L1500.1 549.6 L1494.7 546.4 Z"/>
<path d="M1301.3 567.7 L1307.8 567.7 L1309.1 570.5 L1307.5 574.2 L1301.1 574.2 L1298.8 571.1 Z"/>
<path d="M1323.2 572.3 L1333.9 572.3 L1334.8 575.0 L1332.5 576.7 L1324.1 576.7 L1322.4 574.0 Z"/>
<path d="M1338.6 604.2 L1336.2 605.2 L1332.5 607.7 L1321.6 607.7 L1311.1 605.0 L1311.5 604.0 L1313.8 601.9 L1320.7 600.3 L1331.4 599.8 L1335.5 601.1 Z"/>
<path d="M1400.1 634.2 L1397.2 637.3 L1389.0 639.2 L1376.0 639.0 L1363.2 637.5 L1366.7 634.0 L1370.9 631.4 L1381.4 630.2 L1389.6 630.8 L1400.0 632.8 Z"/>
<path d="M1426.8 634.0 L1436.5 634.0 L1441.4 638.2 L1438.4 643.8 L1420.9 643.8 L1420.7 638.7 Z"/>
<path d="M1464.8 638.1 L1473.3 638.1 L1475.7 640.8 L1475.6 642.5 L1465.2 642.5 L1463.3 640.9 Z"/>
<path d="M1372.4 644.9 L1381.3 644.9 L1385.1 648.7 L1381.8 651.4 L1374.1 651.4 L1368.6 648.1 Z"/>
<path d="M1307.3 646.0 L1315.9 646.0 L1321.1 647.9 L1318.0 650.3 L1307.8 650.3 L1304.5 648.4 Z"/>
<path d="M1421.1 646.9 L1431.9 646.9 L1438.4 651.0 L1431.5 653.4 L1424.6 653.4 L1417.7 649.3 Z"/>
<path d="M1447.8 646.0 L1465.6 646.0 L1468.0 649.7 L1462.3 654.7 L1451.1 654.7 L1447.3 649.3 Z"/>
<path d="M1305.9 655.8 L1320.4 655.8 L1321.1 658.9 L1320.3 663.4 L1308.6 663.4 L1304.5 658.8 Z"/>
<path d="M1380.5 666.9 L1391.3 666.9 L1392.0 669.6 L1387.9 671.2 L1380.6 671.2 L1377.5 669.4 Z"/>
<path d="M1496.8 665.2 L1505.1 665.2 L1506.2 667.7 L1504.5 670.6 L1495.4 670.6 L1493.8 668.6 Z"/>
<path d="M1404.5 677.5 L1414.2 677.5 L1418.6 679.3 L1415.1 681.9 L1402.5 681.9 L1402.1 679.8 Z"/>
<path d="M1387.7 683.5 L1395.9 683.5 L1396.8 686.1 L1395.8 688.9 L1386.0 688.9 L1384.4 686.1 Z"/>
<path d="M1459.7 687.3 L1456.6 688.5 L1448.0 690.2 L1440.5 690.1 L1428.7 689.1 L1428.0 685.2 L1430.4 683.5 L1440.0 682.1 L1449.0 681.6 L1454.7 682.9 Z"/>
<path d="M1588.4 577.1 L1595.8 577.1 L1598.9 580.0 L1597.3 582.5 L1585.5 582.5 L1584.4 579.9 Z"/>
<path d="M1611.1 584.5 L1618.8 584.5 L1620.4 587.2 L1619.0 588.9 L1612.3 588.9 L1610.1 586.5 Z"/>
<path d="M636.8 78.1 L643.3 78.1 L645.3 80.4 L643.0 83.5 L635.8 83.5 L634.9 81.5 Z"/>
<path d="M623.1 105.3 L630.6 105.3 L633.0 107.3 L632.1 109.4 L624.3 109.4 L622.6 107.1 Z"/>
<path d="M731.6 117.0 L738.0 117.0 L741.3 120.1 L741.2 122.4 L731.5 122.4 L731.0 119.5 Z"/>
<path d="M680.1 202.5 L690.6 202.5 L694.7 206.3 L689.6 209.3 L680.2 209.3 L679.1 205.7 Z"/>
<path d="M754.6 232.1 L751.1 234.4 L748.0 234.7 L738.0 234.4 L732.6 234.8 L729.7 230.1 L730.3 229.2 L741.4 226.3 L747.2 227.2 L754.3 228.4 Z"/>
<path d="M772.8 234.5 L785.4 234.5 L785.8 237.5 L785.0 239.9 L775.2 239.9 L770.3 237.9 Z"/>
<path d="M720.6 254.6 L718.7 257.5 L710.7 258.3 L696.6 258.8 L689.9 256.9 L687.8 255.2 L691.4 253.2 L698.4 251.1 L712.4 252.4 L722.9 253.0 Z"/>
<path d="M652.6 270.7 L661.7 270.7 L666.3 274.4 L661.5 277.5 L651.2 277.5 L650.8 273.9 Z"/>
<path d="M701.6 292.4 L713.6 292.4 L716.9 295.7 L711.7 297.8 L702.6 297.8 L698.8 294.7 Z"/>
<path d="M670.3 297.8 L681.3 297.8 L683.6 300.6 L682.5 303.2 L670.4 303.2 L665.5 300.0 Z"/>
<path d="M893.6 209.8 L904.0 209.8 L907.2 214.0 L902.8 219.3 L894.2 219.3 L887.8 214.6 Z"/>
<path d="M927.0 220.7 L938.2 220.7 L939.7 224.5 L937.0 227.5 L929.2 227.5 L924.2 223.7 Z"/>
<path d="M1098.0 70.7 L1108.2 70.7 L1112.0 73.9 L1109.7 77.5 L1097.9 77.5 L1093.8 74.7 Z"/>
<path d="M1343.5 73.6 L1352.7 73.6 L1357.0 76.1 L1355.4 79.1 L1342.3 79.1 L1341.4 75.7 Z"/>
<path d="M1266.2 100.6 L1261.1 101.6 L1253.6 103.9 L1249.8 103.1 L1243.5 101.6 L1240.3 100.3 L1242.4 98.4 L1249.0 96.5 L1259.1 96.0 L1261.5 98.0 Z"/>
<path d="M1395.9 97.8 L1405.7 97.8 L1407.5 100.8 L1403.0 103.2 L1394.1 103.2 L1391.9 100.9 Z"/>
<path d="M1331.0 118.7 L1337.6 118.7 L1340.9 121.2 L1339.4 124.1 L1328.6 124.1 L1328.0 122.2 Z"/>
<path d="M1388.5 118.6 L1397.7 118.6 L1398.7 121.1 L1397.6 122.7 L1389.9 122.7 L1388.4 120.3 Z"/>
<path d="M1305.0 124.6 L1314.9 124.6 L1315.0 126.5 L1313.8 128.6 L1307.1 128.6 L1304.6 126.8 Z"/>
<path d="M1187.5 138.7 L1180.9 142.2 L1165.7 147.3 L1160.7 145.6 L1140.6 142.4 L1135.4 137.6 L1137.4 134.8 L1153.4 132.6 L1175.4 130.6 L1181.5 133.6 Z"/>
<path d="M1216.8 129.8 L1226.1 129.8 L1227.5 131.9 L1225.4 135.2 L1218.0 135.2 L1213.3 133.2 Z"/>
<path d="M1246.1 129.8 L1250.0 129.8 L1253.4 132.4 L1252.5 135.2 L1243.7 135.2 L1243.0 132.0 Z"/>
<path d="M1339.6 145.2 L1348.7 145.2 L1352.1 147.3 L1347.0 149.3 L1337.0 149.3 L1334.0 147.8 Z"/>
<path d="M1382.6 146.0 L1391.8 146.0 L1392.6 148.4 L1389.6 150.1 L1384.2 150.1 L1382.2 148.6 Z"/>
<path d="M1164.7 158.7 L1161.5 160.1 L1157.9 160.4 L1147.8 160.5 L1145.9 160.3 L1142.2 157.7 L1144.6 157.0 L1150.6 155.9 L1157.2 155.7 L1164.4 157.2 Z"/>
<path d="M1233.2 181.0 L1238.6 181.0 L1241.1 183.4 L1240.4 186.4 L1232.4 186.4 L1230.7 183.3 Z"/>
<path d="M1361.1 200.2 L1370.5 200.2 L1371.7 202.8 L1367.5 205.7 L1360.5 205.7 L1356.2 202.2 Z"/>
<path d="M1389.2 211.8 L1400.4 211.8 L1403.8 214.7 L1400.1 217.2 L1390.1 217.2 L1388.2 214.0 Z"/>
<path d="M1319.0 225.1 L1325.7 225.1 L1329.1 227.9 L1325.7 230.5 L1318.6 230.5 L1316.1 227.0 Z"/>
<path d="M1212.5 234.0 L1226.5 234.0 L1228.9 237.4 L1228.5 239.4 L1211.3 239.4 L1210.8 237.0 Z"/>
<path d="M1231.9 230.0 L1239.4 230.0 L1242.4 232.6 L1238.6 235.5 L1232.2 235.5 L1229.4 232.6 Z"/>
<path d="M1258.4 248.4 L1256.8 249.4 L1247.3 251.5 L1240.1 251.1 L1233.6 249.4 L1234.4 246.9 L1234.9 242.8 L1242.5 242.6 L1248.8 243.2 L1254.0 244.4 Z"/>
<path d="M1281.6 229.8 L1289.3 229.8 L1290.3 232.1 L1290.1 235.2 L1281.5 235.2 L1280.0 232.0 Z"/>
<path d="M1301.3 234.4 L1314.4 234.4 L1315.1 235.9 L1315.0 238.5 L1304.6 238.5 L1299.6 236.9 Z"/>
<path d="M1279.0 249.4 L1287.5 249.4 L1287.9 250.9 L1286.4 253.5 L1279.3 253.5 L1277.5 251.5 Z"/>
<path d="M1043.8 265.9 L1043.2 269.5 L1038.8 269.9 L1028.7 269.7 L1027.2 269.2 L1023.8 266.1 L1024.2 264.0 L1031.5 263.6 L1037.0 263.5 L1043.1 264.5 Z"/>
<path d="M1137.8 262.2 L1136.1 263.7 L1128.4 264.4 L1120.7 264.4 L1116.7 263.8 L1115.1 261.3 L1112.9 259.0 L1121.5 258.0 L1128.9 257.6 L1134.6 259.3 Z"/>
<path d="M1182.2 261.5 L1189.6 261.5 L1190.6 263.8 L1188.2 265.6 L1181.7 265.6 L1180.2 263.4 Z"/>
<path d="M1084.9 278.7 L1096.1 278.7 L1097.1 281.6 L1094.6 286.8 L1084.1 286.8 L1081.6 281.8 Z"/>
<path d="M1256.1 281.8 L1263.7 281.8 L1267.0 285.8 L1263.5 288.6 L1257.7 288.6 L1254.1 286.2 Z"/>
<path d="M1307.9 292.3 L1319.3 292.3 L1320.0 293.9 L1319.4 296.4 L1310.4 296.4 L1307.0 294.1 Z"/>
<path d="M1076.1 299.9 L1084.5 299.9 L1088.4 302.1 L1087.5 304.0 L1076.5 304.0 L1075.5 302.2 Z"/>
<path d="M1094.1 302.1 L1110.5 302.1 L1114.5 304.2 L1110.8 306.2 L1097.6 306.2 L1093.8 304.5 Z"/>
<path d="M1446.0 237.7 L1450.5 237.7 L1453.5 239.8 L1452.4 242.1 L1443.3 242.1 L1443.1 239.3 Z"/>
<path d="M1507.4 235.0 L1516.5 235.0 L1518.8 238.8 L1515.2 241.6 L1508.3 241.6 L1504.3 238.7 Z"/>
<path d="M1653.1 237.2 L1646.8 239.8 L1638.1 241.4 L1631.6 240.8 L1622.2 239.2 L1618.5 237.0 L1623.1 235.1 L1631.5 234.2 L1644.2 233.4 L1644.5 235.1 Z"/>
<path d="M1703.1 233.5 L1702.3 235.9 L1698.5 238.0 L1687.3 238.4 L1683.8 236.5 L1678.4 233.3 L1683.1 231.4 L1687.7 229.3 L1699.4 229.6 L1705.3 231.4 Z"/>
<path d="M1621.0 242.1 L1631.0 242.1 L1633.5 244.7 L1629.4 247.5 L1622.5 247.5 L1618.9 244.3 Z"/>
<path d="M1679.4 245.7 L1678.0 246.5 L1671.4 247.9 L1662.5 247.6 L1657.9 247.1 L1656.8 245.9 L1661.6 243.7 L1664.0 243.6 L1669.7 242.8 L1679.0 243.7 Z"/>
<path d="M1603.8 252.6 L1615.6 252.6 L1615.7 254.9 L1614.0 258.0 L1600.6 258.0 L1599.1 254.5 Z"/>
<path d="M1642.7 276.0 L1641.0 278.7 L1628.2 279.8 L1624.7 280.9 L1614.7 279.1 L1608.1 276.9 L1615.9 273.4 L1619.4 273.2 L1634.1 272.8 L1639.0 273.9 Z"/>
<path d="M1610.4 285.7 L1619.1 285.7 L1620.5 287.9 L1617.7 290.1 L1611.5 290.1 L1610.2 287.5 Z"/>
<path d="M1573.4 288.0 L1583.8 288.0 L1586.1 290.9 L1584.0 294.5 L1573.8 294.5 L1569.5 290.5 Z"/>
<path d="M1570.3 298.6 L1577.0 298.6 L1580.1 301.3 L1579.8 302.9 L1569.0 302.9 L1567.6 300.8 Z"/>
<path d="M1708.0 295.1 L1708.5 297.2 L1697.1 299.4 L1688.0 298.5 L1686.2 298.0 L1683.2 295.4 L1679.9 293.4 L1693.9 291.9 L1697.2 290.6 L1704.9 292.6 Z"/>
<path d="M1437.1 278.3 L1447.7 278.3 L1448.6 281.4 L1448.5 283.7 L1438.1 283.7 L1436.2 280.3 Z"/>
<path d="M1422.1 307.9 L1430.3 307.9 L1430.8 310.5 L1428.0 312.2 L1423.5 312.2 L1420.4 310.1 Z"/>
<path d="M1682.9 317.4 L1694.8 317.4 L1698.8 319.3 L1698.4 321.7 L1686.4 321.7 L1682.2 320.1 Z"/>
<path d="M1621.0 322.8 L1627.9 322.8 L1630.4 325.5 L1628.7 328.2 L1620.9 328.2 L1620.0 325.4 Z"/>
<path d="M1645.4 330.6 L1656.5 330.6 L1659.2 332.6 L1656.6 335.0 L1648.0 335.0 L1644.6 332.9 Z"/>
<path d="M1436.0 335.6 L1445.5 335.6 L1447.6 337.3 L1446.6 339.9 L1438.4 339.9 L1435.2 337.5 Z"/>
<path d="M1576.8 338.4 L1591.3 338.4 L1593.0 340.5 L1590.0 343.8 L1577.7 343.8 L1576.4 341.7 Z"/>
<path d="M1612.1 336.8 L1629.2 336.8 L1630.7 340.6 L1627.9 343.4 L1615.7 343.4 L1609.9 340.9 Z"/>
<path d="M1574.9 359.5 L1571.5 360.9 L1566.1 362.7 L1555.8 362.3 L1550.9 361.2 L1550.0 359.8 L1549.7 358.0 L1559.6 357.0 L1570.0 356.9 L1573.3 357.2 Z"/>
<path d="M1622.4 353.5 L1632.1 353.5 L1635.5 357.3 L1630.6 362.2 L1620.6 362.2 L1618.9 358.1 Z"/>
<path d="M1547.6 365.8 L1554.9 365.8 L1557.3 367.5 L1555.6 370.1 L1547.6 370.1 L1546.9 367.5 Z"/>
<path d="M1665.6 366.2 L1673.9 366.2 L1679.0 369.1 L1674.6 371.7 L1667.1 371.7 L1662.4 369.5 Z"/>
<path d="M1688.6 370.7 L1698.1 370.7 L1699.6 373.1 L1695.9 375.1 L1688.3 375.1 L1687.2 373.0 Z"/>
<path d="M1622.2 370.1 L1633.7 370.1 L1636.4 372.2 L1632.6 374.5 L1626.2 374.5 L1621.9 372.8 Z"/>
<path d="M1530.2 384.6 L1525.7 390.5 L1518.0 391.9 L1506.1 390.8 L1500.4 390.7 L1498.8 385.2 L1500.1 382.6 L1505.5 380.1 L1516.1 379.8 L1523.1 383.0 Z"/>
<path d="M1543.8 375.0 L1555.6 375.0 L1556.5 378.0 L1555.9 381.5 L1538.0 381.5 L1537.8 377.3 Z"/>
<path d="M1535.7 384.9 L1544.9 384.9 L1549.5 388.1 L1548.2 392.5 L1538.4 392.5 L1534.9 387.6 Z"/>
<path d="M1636.9 388.3 L1646.8 388.3 L1647.2 390.2 L1643.9 392.7 L1638.4 392.7 L1636.8 389.9 Z"/>
<path d="M1697.9 398.2 L1696.9 399.5 L1685.0 401.2 L1676.3 400.9 L1669.6 399.6 L1661.5 397.2 L1667.9 395.9 L1674.7 394.5 L1688.1 394.5 L1695.0 396.0 Z"/>
<path d="M1627.5 403.7 L1634.7 403.7 L1635.4 405.5 L1634.2 408.1 L1625.8 408.1 L1625.0 406.4 Z"/>
<path d="M1621.2 413.3 L1621.0 416.1 L1612.6 418.9 L1607.0 418.9 L1598.8 415.9 L1597.4 414.8 L1599.1 410.1 L1602.9 409.9 L1613.8 409.9 L1617.4 409.7 Z"/>
<path d="M1678.0 414.4 L1676.2 416.7 L1667.4 417.2 L1659.6 418.0 L1654.4 415.7 L1650.7 414.1 L1656.6 410.5 L1661.3 409.5 L1671.9 410.4 L1674.9 410.9 Z"/>
<path d="M1682.0 406.0 L1699.5 406.0 L1701.8 411.3 L1697.9 415.8 L1684.5 415.8 L1681.1 411.8 Z"/>
<path d="M1652.6 403.7 L1659.8 403.7 L1661.1 405.7 L1657.1 408.1 L1650.0 408.1 L1648.6 406.3 Z"/>
<path d="M1397.1 402.2 L1402.3 402.2 L1404.1 404.6 L1401.3 407.7 L1396.6 407.7 L1393.7 405.1 Z"/>
<path d="M1500.0 418.6 L1509.8 418.6 L1509.9 420.8 L1509.3 422.9 L1499.6 422.9 L1495.4 420.6 Z"/>
<path d="M320.5 672.4 L318.9 673.6 L310.6 676.4 L305.0 675.2 L298.3 673.2 L294.2 672.4 L299.2 668.3 L303.1 667.3 L313.2 667.7 L319.6 669.7 Z"/>
<path d="M367.9 679.8 L363.8 681.4 L362.5 682.4 L354.1 683.0 L345.9 681.7 L342.0 680.1 L346.1 678.1 L350.8 676.4 L357.2 677.1 L363.7 678.0 Z"/>
<path d="M258.7 677.9 L267.1 677.9 L271.0 680.5 L267.0 682.3 L258.8 682.3 L258.6 680.2 Z"/>
<path d="M234.0 695.9 L243.2 695.9 L247.4 698.3 L246.9 700.2 L236.0 700.2 L233.0 698.3 Z"/>
<path d="M216.1 705.0 L230.5 705.0 L231.3 708.5 L227.8 711.5 L216.4 711.5 L214.8 708.7 Z"/>
<path d="M291.3 702.2 L300.5 702.2 L303.5 704.4 L299.5 706.5 L292.8 706.5 L291.1 704.1 Z"/>
<path d="M430.3 705.1 L439.5 705.1 L440.5 708.7 L440.1 712.7 L428.5 712.7 L426.1 709.0 Z"/>
<path d="M138.8 727.8 L145.2 727.8 L148.4 730.3 L146.6 732.1 L139.4 732.1 L138.1 729.4 Z"/>
<path d="M262.4 726.4 L266.7 726.4 L269.6 728.0 L268.7 730.7 L260.8 730.7 L259.3 729.0 Z"/>
<path d="M402.8 727.8 L410.7 727.8 L414.0 731.1 L408.6 733.3 L400.0 733.3 L397.4 731.1 Z"/>
<path d="M124.7 751.4 L133.6 751.4 L136.2 754.2 L133.4 755.8 L119.8 755.8 L119.6 753.1 Z"/>
<path d="M165.9 755.2 L178.4 755.2 L182.6 757.6 L181.4 760.6 L164.3 760.6 L161.9 757.1 Z"/>
<path d="M380.5 785.0 L389.7 785.0 L391.2 788.4 L388.3 790.4 L381.7 790.4 L378.8 788.3 Z"/>
<path d="M412.3 794.8 L419.6 794.8 L421.7 796.5 L419.3 799.1 L414.1 799.1 L411.4 796.7 Z"/>
<path d="M362.9 806.6 L370.0 806.6 L371.1 809.0 L367.9 810.9 L362.2 810.9 L360.7 808.2 Z"/>
<path d="M385.1 817.9 L377.6 819.3 L371.6 820.7 L367.9 819.7 L355.4 819.0 L354.3 818.0 L359.0 815.4 L362.8 814.7 L373.0 814.8 L382.8 815.9 Z"/>
<path d="M349.9 823.3 L359.1 823.3 L361.7 826.1 L359.2 827.7 L353.1 827.7 L349.3 826.0 Z"/>
<path d="M382.9 826.3 L400.3 826.3 L403.3 827.9 L402.2 830.6 L387.7 830.6 L382.6 828.9 Z"/>
<path d="M425.5 812.0 L435.1 812.0 L438.6 815.1 L433.4 817.4 L426.9 817.4 L422.1 814.9 Z"/>
<path d="M425.4 821.4 L433.4 821.4 L435.6 823.8 L435.4 825.7 L424.0 825.7 L423.2 823.4 Z"/>
<path d="M258.6 838.6 L270.3 838.6 L276.2 841.8 L273.5 844.0 L260.5 844.0 L255.5 841.8 Z"/>
<path d="M393.2 841.1 L390.5 844.0 L384.5 844.7 L375.1 845.9 L365.8 843.4 L363.9 841.5 L367.5 839.5 L371.6 837.4 L384.2 838.8 L389.5 838.4 Z"/>
<path d="M339.8 845.9 L350.4 845.9 L353.9 850.0 L350.6 852.4 L340.7 852.4 L337.3 848.5 Z"/>
<path d="M431.6 844.5 L439.4 844.5 L440.5 847.2 L440.2 849.9 L429.3 849.9 L428.1 847.7 Z"/>
<path d="M346.7 966.2 L357.7 966.2 L365.1 972.4 L363.7 978.1 L345.2 978.1 L342.3 972.4 Z"/>
<path d="M360.0 975.8 L370.2 975.8 L373.1 981.0 L372.5 984.7 L360.5 984.7 L356.0 979.1 Z"/>
<path d="M402.4 978.2 L402.2 981.2 L396.2 981.7 L388.9 983.1 L379.3 981.0 L377.8 978.5 L382.1 975.3 L386.5 973.5 L393.2 973.2 L403.4 975.6 Z"/>
<path d="M447.6 984.8 L443.3 986.5 L431.1 987.9 L418.8 988.1 L415.3 985.8 L410.3 983.3 L414.4 981.8 L422.2 979.9 L441.2 980.3 L442.7 981.4 Z"/>
<path d="M410.0 990.8 L426.0 990.8 L427.4 993.1 L420.6 996.8 L410.3 996.8 L404.6 993.4 Z"/>
<path d="M431.5 993.5 L442.4 993.5 L449.1 997.1 L441.5 999.5 L428.4 999.5 L426.3 996.7 Z"/>
<path d="M482.3 1003.1 L480.2 1004.4 L474.1 1006.0 L468.1 1006.4 L462.0 1005.4 L454.5 1003.8 L458.6 1001.3 L465.6 999.5 L477.4 999.8 L483.4 1001.7 Z"/>
<path d="M509.6 1013.5 L507.0 1015.1 L498.5 1016.4 L490.9 1015.8 L486.2 1015.6 L485.4 1012.6 L483.4 1010.8 L491.3 1009.1 L503.5 1009.2 L506.7 1010.7 Z"/>
<path d="M540.7 1022.1 L536.1 1024.2 L527.6 1025.9 L522.1 1025.9 L508.3 1023.8 L507.3 1020.8 L513.1 1016.6 L523.3 1016.0 L532.9 1015.7 L538.2 1017.8 Z"/>
<path d="M551.4 1027.1 L554.9 1029.4 L545.6 1031.6 L536.3 1032.1 L529.5 1029.5 L528.7 1027.4 L533.0 1025.0 L539.2 1023.6 L542.8 1022.9 L550.8 1024.6 Z"/>
<path d="M503.3 1031.4 L502.9 1034.4 L493.6 1035.3 L487.5 1034.4 L480.2 1032.9 L480.9 1031.5 L480.3 1030.0 L487.7 1028.7 L494.6 1029.1 L502.6 1030.1 Z"/>
<path d="M465.0 1010.4 L479.4 1010.4 L481.5 1013.9 L477.6 1017.8 L468.6 1017.8 L464.4 1013.3 Z"/>
<path d="M430.0 1002.9 L440.1 1002.9 L443.5 1007.0 L440.8 1011.8 L432.0 1011.8 L426.5 1007.4 Z"/>
<path d="M399.5 1006.3 L415.7 1006.3 L416.4 1009.3 L415.3 1013.8 L400.4 1013.8 L399.4 1009.2 Z"/>
<path d="M403.5 996.2 L414.8 996.2 L419.3 998.8 L415.6 1002.2 L400.8 1002.2 L396.5 999.9 Z"/>
<path d="M178.2 917.0 L174.4 917.8 L171.2 920.3 L160.0 920.5 L147.9 918.8 L141.1 917.1 L148.8 913.2 L155.4 912.1 L167.7 913.3 L171.8 914.1 Z"/>
<path d="M119.5 916.4 L131.4 916.4 L133.2 919.2 L130.4 923.8 L120.0 923.8 L119.0 919.7 Z"/>
<path d="M153.5 930.1 L148.9 932.3 L145.4 932.9 L137.1 932.8 L130.8 931.5 L128.7 930.1 L131.9 928.4 L137.8 927.8 L140.5 927.5 L151.2 928.9 Z"/>
<path d="M156.6 927.3 L165.1 927.3 L167.0 929.3 L165.8 931.8 L158.2 931.8 L155.7 929.1 Z"/>
<path d="M139.5 937.7 L140.1 938.5 L134.1 940.7 L125.3 940.2 L115.9 938.8 L117.3 937.5 L116.6 935.2 L125.3 932.7 L131.6 932.4 L140.9 935.2 Z"/>
<path d="M176.6 931.1 L194.5 931.1 L195.7 935.9 L190.9 940.0 L176.2 940.0 L175.8 936.1 Z"/>
<path d="M196.3 917.3 L212.4 917.3 L213.2 926.3 L211.9 932.2 L198.7 932.2 L196.2 926.0 Z"/>
<path d="M194.0 935.3 L206.3 935.3 L206.4 937.9 L203.8 941.2 L193.1 941.2 L192.2 939.0 Z"/>
<path d="M185.2 903.3 L194.0 903.3 L195.5 905.5 L192.9 909.3 L187.6 909.3 L184.1 906.4 Z"/>
<path d="M202.1 904.1 L210.5 904.1 L210.9 906.8 L210.5 910.1 L200.8 910.1 L199.5 907.4 Z"/>
<path d="M240.6 903.3 L245.8 903.3 L248.3 907.1 L246.7 909.3 L240.7 909.3 L236.9 906.2 Z"/>
<path d="M268.5 913.0 L276.2 913.0 L278.1 915.5 L277.7 917.5 L269.2 917.5 L266.7 915.2 Z"/>
<path d="M233.7 918.4 L239.5 918.4 L242.9 921.2 L240.5 922.9 L234.1 922.9 L231.5 921.0 Z"/>
<path d="M251.2 921.1 L258.7 921.1 L263.3 924.0 L258.8 925.6 L249.4 925.6 L249.1 922.9 Z"/>
<path d="M283.0 923.1 L290.0 923.1 L293.1 926.4 L289.4 930.6 L280.5 930.6 L278.9 926.1 Z"/>
<path d="M271.2 935.6 L273.7 940.9 L263.8 945.7 L251.3 943.6 L246.9 943.5 L244.3 938.5 L250.1 932.0 L252.4 929.2 L260.8 927.8 L272.1 932.9 Z"/>
<path d="M288.1 944.1 L286.4 946.6 L282.8 947.9 L275.0 946.8 L269.3 945.3 L267.1 943.6 L268.1 941.5 L275.1 939.5 L280.4 940.2 L286.7 942.1 Z"/>
<path d="M227.4 943.4 L235.5 943.4 L238.9 945.6 L235.9 949.4 L224.8 949.4 L224.7 946.6 Z"/>
<path d="M245.3 946.0 L251.3 946.0 L253.7 948.2 L250.0 950.5 L245.0 950.5 L242.4 948.9 Z"/>
<path d="M262.5 948.7 L277.6 948.7 L278.3 953.3 L276.0 957.6 L261.3 957.6 L261.2 953.2 Z"/>
<path d="M282.5 957.6 L292.9 957.6 L295.8 961.9 L293.6 965.0 L284.9 965.0 L281.6 961.9 Z"/>
<path d="M312.3 933.9 L329.1 933.9 L329.9 936.4 L325.5 939.9 L312.2 939.9 L307.1 936.7 Z"/>
<path d="M336.4 934.7 L344.8 934.7 L345.9 936.8 L345.5 939.1 L335.6 939.1 L334.5 937.3 Z"/>
<path d="M340.1 950.9 L335.8 954.9 L328.6 955.8 L322.6 956.3 L311.5 951.9 L311.5 948.8 L314.4 944.2 L319.6 943.4 L332.2 942.2 L335.6 944.9 Z"/>
<path d="M353.2 960.5 L350.5 966.1 L345.9 967.0 L333.1 966.0 L328.0 964.7 L326.7 962.5 L331.0 956.8 L333.9 954.0 L340.1 955.8 L350.6 957.4 Z"/>
<path d="M273.6 969.1 L283.7 969.1 L287.7 971.7 L284.0 975.1 L276.3 975.1 L273.4 972.9 Z"/>
<path d="M260.9 964.5 L269.4 964.5 L274.1 966.8 L271.5 968.9 L264.2 968.9 L259.9 966.8 Z"/>
<path d="M411.5 932.6 L420.7 932.6 L423.2 936.4 L421.4 938.5 L411.6 938.5 L406.1 934.9 Z"/>
<path d="M391.3 940.1 L397.9 940.1 L401.5 941.7 L400.5 944.5 L388.3 944.5 L387.2 942.8 Z"/>
<path d="M119.4 941.8 L127.3 941.8 L130.5 946.3 L127.4 953.7 L122.8 953.7 L119.1 948.8 Z"/>
<path d="M124.9 1000.2 L143.5 1000.2 L144.2 1005.3 L138.6 1009.1 L125.2 1009.1 L124.3 1005.9 Z"/>
<path d="M193.3 1008.7 L189.9 1011.8 L181.3 1013.0 L177.2 1011.9 L166.9 1010.5 L166.2 1009.5 L168.9 1006.8 L175.1 1005.7 L184.6 1004.5 L193.5 1006.4 Z"/>
<path d="M183.5 1002.4 L188.6 1002.4 L191.4 1004.9 L190.5 1006.9 L183.0 1006.9 L180.0 1004.1 Z"/>
<path d="M250.8 1009.1 L249.5 1011.8 L238.3 1013.3 L234.0 1012.7 L228.1 1012.9 L226.3 1009.9 L228.2 1008.8 L235.2 1007.0 L238.4 1006.3 L245.1 1008.1 Z"/>
<path d="M337.6 1001.1 L349.3 1001.1 L351.4 1004.2 L348.4 1007.1 L336.9 1007.1 L334.3 1003.7 Z"/>
<path d="M352.6 1009.2 L358.5 1009.2 L362.1 1011.3 L361.3 1013.6 L352.3 1013.6 L350.7 1011.3 Z"/>
<path d="M165.6 988.1 L177.1 988.1 L180.7 991.0 L175.4 994.1 L164.5 994.1 L163.7 991.9 Z"/>
<path d="M150.2 986.1 L159.0 986.1 L161.6 988.7 L160.2 990.6 L152.2 990.6 L150.2 988.0 Z"/>
<path d="M116.6 985.1 L129.7 985.1 L133.3 992.6 L127.7 997.0 L118.8 997.0 L116.2 991.1 Z"/>
<path d="M325.8 1045.5 L322.3 1047.2 L315.9 1048.1 L310.5 1048.3 L302.9 1046.7 L301.7 1045.1 L300.8 1043.8 L308.0 1043.0 L317.3 1042.8 L320.5 1043.5 Z"/>
<path d="M364.3 1047.1 L361.3 1048.6 L359.4 1050.7 L343.1 1050.4 L337.4 1049.2 L326.4 1046.6 L336.3 1043.7 L343.2 1043.2 L355.8 1043.6 L360.7 1044.3 Z"/>
<path d="M371.1 1036.9 L379.0 1036.9 L383.9 1040.6 L381.4 1042.8 L368.7 1042.8 L366.8 1039.1 Z"/>
<path d="M372.5 1047.7 L387.1 1047.7 L389.5 1051.3 L382.6 1053.7 L368.7 1053.7 L366.7 1051.3 Z"/>
<path d="M300.9 1049.1 L315.0 1049.1 L316.2 1052.2 L312.6 1055.0 L299.5 1055.0 L299.1 1051.7 Z"/>
<path d="M332.5 1109.3 L330.4 1112.2 L325.2 1114.5 L319.4 1113.9 L308.7 1111.8 L310.4 1108.1 L310.6 1106.2 L319.6 1103.6 L323.8 1104.4 L331.2 1105.9 Z"/>
<path d="M329.1 1095.1 L338.0 1095.1 L340.4 1098.0 L337.1 1101.1 L330.6 1101.1 L329.1 1098.8 Z"/>
<path d="M450.9 1083.5 L457.0 1083.5 L462.5 1087.0 L458.2 1091.0 L446.5 1091.0 L445.4 1086.9 Z"/>
<path d="M492.6 1102.5 L499.3 1102.5 L503.1 1105.6 L499.2 1110.0 L489.6 1110.0 L488.8 1107.3 Z"/>
<path d="M539.0 1068.2 L546.8 1068.2 L549.0 1069.8 L547.4 1072.7 L540.4 1072.7 L537.7 1070.9 Z"/>
<path d="M476.2 901.1 L474.3 902.2 L468.6 903.6 L455.9 903.4 L449.5 902.1 L446.7 899.8 L450.8 897.7 L459.8 897.6 L464.6 896.5 L472.4 897.5 Z"/>
<path d="M457.0 902.1 L467.2 902.1 L467.8 904.0 L463.6 906.6 L457.0 906.6 L453.6 904.2 Z"/>
<path d="M484.5 885.9 L494.2 885.9 L497.7 887.9 L494.4 890.4 L485.5 890.4 L480.6 888.6 Z"/>
<path d="M546.7 920.6 L551.2 920.6 L554.5 922.8 L552.8 925.0 L544.0 925.0 L543.1 922.7 Z"/>
<path d="M331.6 1127.0 L340.1 1127.0 L340.4 1128.7 L339.3 1131.5 L329.4 1131.5 L329.1 1129.0 Z"/>
<path d="M1066.1 419.8 L1073.7 419.8 L1077.3 421.8 L1075.6 423.9 L1067.7 423.9 L1063.7 422.4 Z"/>
<path d="M1080.5 452.0 L1092.6 452.0 L1094.3 454.7 L1093.5 457.1 L1082.9 457.1 L1078.8 455.2 Z"/>
<path d="M1037.4 484.8 L1044.1 484.8 L1047.1 486.4 L1046.5 488.9 L1039.1 488.9 L1035.5 486.5 Z"/>
<path d="M1067.5 490.5 L1080.1 490.5 L1080.5 492.7 L1074.3 496.6 L1067.6 496.6 L1061.1 493.4 Z"/>
<path d="M1093.2 504.2 L1102.0 504.2 L1108.9 508.1 L1105.0 512.4 L1094.0 512.4 L1087.5 508.9 Z"/>
<path d="M1108.1 517.2 L1107.3 519.5 L1100.4 520.3 L1093.9 520.7 L1089.5 519.4 L1086.9 518.0 L1087.0 516.1 L1094.6 514.8 L1099.5 515.1 L1106.8 516.0 Z"/>
<path d="M1116.9 515.1 L1128.8 515.1 L1129.4 519.8 L1126.2 523.3 L1117.0 523.3 L1115.8 519.3 Z"/>
<path d="M1138.0 510.9 L1146.3 510.9 L1147.4 513.1 L1144.4 515.0 L1140.4 515.0 L1137.7 513.5 Z"/>
<path d="M1115.7 529.4 L1121.2 529.4 L1124.7 531.9 L1120.8 533.4 L1113.4 533.4 L1111.2 531.1 Z"/>
<path d="M1085.0 536.9 L1089.8 536.9 L1094.3 540.8 L1090.6 544.0 L1085.0 544.0 L1080.7 540.8 Z"/>
<path d="M1123.2 542.3 L1123.0 544.1 L1113.5 546.0 L1107.3 545.1 L1102.3 544.3 L1100.3 542.3 L1101.6 541.2 L1109.5 540.0 L1114.4 540.0 L1119.2 541.6 Z"/>
<path d="M1138.7 530.2 L1148.7 530.2 L1149.3 533.7 L1147.3 536.3 L1138.1 536.3 L1137.6 533.4 Z"/>
<path d="M1140.5 540.7 L1153.1 540.7 L1157.2 544.2 L1152.6 546.8 L1139.9 546.8 L1139.7 543.7 Z"/>
<path d="M1138.1 556.5 L1134.5 558.0 L1129.8 558.9 L1117.9 559.0 L1114.4 557.5 L1112.3 556.0 L1113.1 553.6 L1119.9 552.3 L1126.2 552.5 L1135.4 554.2 Z"/>
<path d="M1110.0 570.0 L1119.9 570.0 L1121.0 572.3 L1119.8 574.1 L1110.6 574.1 L1109.4 571.9 Z"/>
<path d="M1140.1 581.0 L1137.1 584.3 L1129.7 584.6 L1124.9 585.9 L1119.8 584.0 L1114.8 581.5 L1116.0 580.3 L1123.5 578.6 L1128.9 578.5 L1137.3 579.2 Z"/>
<path d="M1163.1 576.2 L1171.7 576.2 L1175.6 578.5 L1171.4 582.3 L1160.1 582.3 L1160.1 579.8 Z"/>
<path d="M1186.6 566.7 L1197.5 566.7 L1199.6 568.7 L1195.1 570.7 L1185.4 570.7 L1184.1 569.1 Z"/>
<path d="M1219.1 548.5 L1233.4 548.5 L1233.9 552.3 L1232.2 555.6 L1220.1 555.6 L1214.5 551.9 Z"/>
<path d="M1109.4 591.9 L1105.4 593.4 L1101.2 594.2 L1097.8 594.6 L1090.2 593.0 L1088.0 591.5 L1088.6 588.8 L1096.0 587.6 L1100.5 588.7 L1107.2 588.7 Z"/>
<path d="M1099.6 593.9 L1110.7 593.9 L1114.6 596.4 L1109.5 599.0 L1103.2 599.0 L1099.1 596.0 Z"/>
<path d="M960.2 506.6 L967.8 506.6 L968.6 511.1 L968.6 513.7 L958.8 513.7 L957.0 511.2 Z"/>
<path d="M977.1 521.8 L985.0 521.8 L985.2 524.0 L983.7 525.9 L976.9 525.9 L975.5 523.7 Z"/>
<path d="M1239.1 488.2 L1244.7 488.2 L1247.5 490.3 L1244.9 492.2 L1238.6 492.2 L1237.8 489.6 Z"/>
<path d="M814.2 592.4 L824.9 592.4 L824.9 595.0 L822.2 596.5 L813.7 596.5 L812.0 594.4 Z"/>
<path d="M828.8 589.9 L839.6 589.9 L843.5 592.2 L841.5 594.0 L830.8 594.0 L828.0 591.9 Z"/>
<path d="M800.7 608.2 L811.2 608.2 L811.4 610.9 L810.1 613.6 L798.8 613.6 L798.5 610.9 Z"/>
<path d="M880.7 617.0 L891.1 617.0 L892.7 619.5 L892.6 621.1 L883.8 621.1 L879.7 618.8 Z"/>
<path d="M909.4 601.5 L916.1 601.5 L919.8 603.8 L917.2 605.6 L905.9 605.6 L904.3 603.9 Z"/>
<path d="M914.5 615.6 L920.6 615.6 L922.2 618.8 L919.2 621.0 L912.6 621.0 L911.8 619.1 Z"/>
<path d="M903.3 621.2 L915.4 621.2 L916.1 622.8 L913.2 625.3 L906.1 625.3 L903.1 622.7 Z"/>
<path d="M907.9 629.3 L913.5 629.3 L918.6 631.7 L913.9 633.4 L903.4 633.4 L903.1 631.3 Z"/>
<path d="M907.4 634.6 L919.5 634.6 L921.1 636.7 L917.4 640.0 L907.6 640.0 L905.5 636.5 Z"/>
<path d="M865.2 624.7 L873.9 624.7 L875.4 628.2 L872.9 630.1 L867.0 630.1 L865.0 628.1 Z"/>
<path d="M824.1 629.7 L835.0 629.7 L838.7 633.4 L835.1 636.5 L822.8 636.5 L818.0 632.4 Z"/>
<path d="M868.1 636.4 L880.2 636.4 L882.9 640.5 L880.0 644.6 L867.8 644.6 L864.8 640.8 Z"/>
<path d="M932.6 638.5 L941.3 638.5 L941.9 640.2 L938.4 642.5 L934.1 642.5 L931.5 640.9 Z"/>
<path d="M892.4 646.4 L905.4 646.4 L907.6 648.3 L905.7 651.8 L888.3 651.8 L886.9 648.7 Z"/>
<path d="M867.7 655.0 L872.5 655.0 L876.7 657.0 L873.9 660.4 L867.9 660.4 L863.7 657.8 Z"/>
<path d="M861.1 664.0 L863.7 664.7 L853.3 666.8 L847.7 666.8 L836.5 665.3 L838.3 663.6 L839.6 661.6 L843.8 661.1 L850.8 660.2 L859.2 662.2 Z"/>
<path d="M805.5 660.0 L815.8 660.0 L820.1 662.2 L818.8 665.4 L807.6 665.4 L804.6 663.2 Z"/>
<path d="M805.5 670.5 L819.6 670.5 L820.1 672.8 L818.1 676.0 L806.1 676.0 L802.0 672.7 Z"/>
<path d="M836.4 670.4 L852.0 670.4 L852.2 673.3 L851.8 677.1 L834.7 677.1 L834.1 674.4 Z"/>
<path d="M836.0 681.7 L834.5 683.5 L824.3 683.8 L817.2 684.3 L813.7 682.3 L808.8 680.6 L814.8 679.6 L818.0 679.0 L828.1 678.2 L833.6 678.6 Z"/>
<path d="M1014.1 613.6 L1031.1 613.6 L1032.0 617.5 L1028.0 623.1 L1013.2 623.1 L1011.3 617.5 Z"/>
<path d="M1037.7 609.6 L1045.0 609.6 L1045.3 611.9 L1044.5 613.7 L1035.5 613.7 L1035.0 611.9 Z"/>
<path d="M1091.9 589.1 L1108.5 589.1 L1109.6 592.7 L1109.5 595.8 L1095.3 595.8 L1088.9 591.6 Z"/>
<path d="M1103.4 594.9 L1111.3 594.9 L1115.6 596.5 L1114.6 598.9 L1105.0 598.9 L1100.1 596.8 Z"/>
<path d="M1037.7 639.5 L1048.8 639.5 L1055.4 642.6 L1052.1 644.9 L1039.8 644.9 L1034.7 641.9 Z"/>
<path d="M1012.6 647.7 L1023.4 647.7 L1025.7 650.4 L1024.0 654.5 L1011.2 654.5 L1010.2 652.1 Z"/>
<path d="M986.7 661.2 L996.6 661.2 L997.4 664.3 L992.3 666.6 L983.7 666.6 L981.9 663.8 Z"/>
<path d="M1009.9 669.1 L1018.9 669.1 L1020.8 671.4 L1020.6 674.5 L1010.1 674.5 L1007.8 672.5 Z"/>
<path d="M1003.9 672.5 L1011.1 672.5 L1012.1 674.6 L1009.2 676.5 L1003.7 676.5 L1001.7 674.8 Z"/>
<path d="M1003.0 675.9 L1010.1 675.9 L1010.8 678.2 L1007.8 680.0 L1003.1 680.0 L1000.5 678.2 Z"/>
<path d="M1156.5 625.1 L1153.0 628.6 L1147.8 628.8 L1137.3 629.5 L1135.4 627.3 L1132.5 626.1 L1134.1 624.4 L1140.1 621.6 L1148.6 621.9 L1152.6 622.8 Z"/>
<path d="M1183.9 622.3 L1199.2 622.3 L1200.7 624.2 L1196.7 627.7 L1184.1 627.7 L1182.6 625.3 Z"/>
<path d="M1121.7 638.3 L1120.1 641.0 L1109.4 643.4 L1105.3 644.1 L1095.8 641.0 L1095.9 638.8 L1096.8 637.8 L1104.0 634.7 L1109.5 635.6 L1117.0 636.7 Z"/>
<path d="M1160.6 635.3 L1158.6 637.7 L1150.6 639.7 L1142.2 639.6 L1137.7 637.9 L1136.6 636.1 L1135.5 633.4 L1145.9 632.0 L1150.0 632.2 L1157.2 633.5 Z"/>
<path d="M1118.1 653.6 L1116.0 654.5 L1110.1 656.2 L1103.3 656.2 L1096.8 654.8 L1094.7 653.4 L1095.9 651.4 L1102.9 650.3 L1108.1 649.8 L1115.7 651.0 Z"/>
<path d="M1144.2 644.7 L1159.7 644.7 L1161.3 646.9 L1156.6 650.1 L1149.1 650.1 L1143.2 646.7 Z"/>
<path d="M1189.7 655.1 L1195.5 655.1 L1200.6 658.7 L1198.5 661.9 L1190.1 661.9 L1185.1 659.3 Z"/>
<path d="M1131.2 668.0 L1143.8 668.0 L1143.9 669.6 L1140.3 672.1 L1133.0 672.1 L1131.0 670.4 Z"/>
<path d="M1137.0 674.2 L1156.3 674.2 L1157.6 676.2 L1152.5 678.2 L1142.1 678.2 L1136.9 676.3 Z"/>
<path d="M1176.6 674.7 L1185.9 674.7 L1187.0 677.0 L1185.5 680.1 L1176.8 680.1 L1174.1 677.9 Z"/>
<path d="M1173.1 681.6 L1179.4 681.6 L1182.1 683.7 L1181.4 685.6 L1170.4 685.6 L1169.2 683.5 Z"/>
<path d="M1182.2 687.8 L1195.6 687.8 L1195.7 689.9 L1193.7 693.2 L1182.1 693.2 L1180.2 691.3 Z"/>
<path d="M1147.2 691.8 L1155.9 691.8 L1162.6 696.4 L1160.9 700.0 L1146.6 700.0 L1141.9 695.3 Z"/>
<path d="M1002.5 691.4 L1008.3 691.4 L1010.8 693.1 L1008.8 695.5 L1002.4 695.5 L1000.5 693.2 Z"/>
<path d="M979.9 695.6 L991.1 695.6 L993.7 697.1 L991.6 699.7 L979.3 699.7 L978.2 698.2 Z"/>
<path d="M941.6 699.4 L949.2 699.4 L953.0 702.2 L949.2 706.2 L940.8 706.2 L940.1 702.3 Z"/>
<path d="M1077.9 708.5 L1094.7 708.5 L1096.0 710.7 L1092.3 713.9 L1082.1 713.9 L1077.9 711.2 Z"/>
<path d="M1020.4 724.0 L1027.5 724.0 L1030.6 726.0 L1027.7 729.4 L1020.9 729.4 L1017.7 726.1 Z"/>
<path d="M1153.0 738.2 L1151.0 740.4 L1143.5 741.7 L1137.3 741.8 L1130.8 739.7 L1129.8 737.2 L1130.4 735.8 L1140.3 734.6 L1143.3 734.8 L1151.4 735.9 Z"/>
<path d="M1134.6 744.6 L1145.8 744.6 L1147.7 746.2 L1145.8 748.7 L1135.1 748.7 L1132.1 746.6 Z"/>
<path d="M1163.6 737.0 L1171.6 737.0 L1173.4 738.8 L1171.7 741.0 L1164.5 741.0 L1163.1 739.4 Z"/>
<path d="M1200.2 728.7 L1195.9 731.8 L1193.2 732.8 L1185.4 733.0 L1180.2 730.5 L1178.3 729.2 L1179.7 727.0 L1184.6 726.2 L1191.2 725.7 L1196.8 726.9 Z"/>
<path d="M1192.2 737.0 L1197.1 737.0 L1199.3 739.2 L1198.2 741.0 L1189.3 741.0 L1188.9 739.1 Z"/>
<path d="M849.8 760.1 L850.5 762.9 L840.8 764.3 L831.8 763.9 L821.9 763.1 L818.5 759.4 L823.0 757.6 L834.6 756.4 L841.1 756.2 L853.6 757.6 Z"/>
<path d="M867.1 764.1 L877.4 764.1 L881.7 766.8 L880.5 769.6 L869.6 769.6 L863.6 767.5 Z"/>
<path d="M1194.5 773.3 L1189.1 776.7 L1185.9 777.6 L1166.2 778.7 L1160.4 777.4 L1153.2 773.4 L1159.8 771.5 L1167.4 770.7 L1182.1 770.5 L1191.8 772.3 Z"/>
<path d="M1153.0 781.1 L1152.7 783.7 L1142.7 784.4 L1135.3 783.6 L1131.6 783.0 L1130.0 781.1 L1129.3 778.9 L1138.7 777.4 L1148.3 777.5 L1154.4 778.9 Z"/>
<path d="M1136.2 770.8 L1144.3 770.8 L1147.6 773.8 L1145.5 776.2 L1135.9 776.2 L1134.7 773.8 Z"/>
<path d="M1141.0 788.7 L1150.7 788.7 L1153.8 791.3 L1149.6 792.8 L1141.0 792.8 L1140.8 790.6 Z"/>
<path d="M1173.4 793.5 L1183.5 793.5 L1185.9 796.5 L1183.2 800.3 L1171.8 800.3 L1167.8 796.4 Z"/>
<path d="M1031.1 814.6 L1038.0 814.6 L1039.2 817.1 L1039.1 818.6 L1029.8 818.6 L1028.8 816.9 Z"/>
<path d="M842.2 799.9 L856.5 799.9 L859.5 804.0 L855.9 806.7 L842.5 806.7 L841.4 804.3 Z"/>
<path d="M964.4 812.9 L972.4 812.9 L976.5 815.9 L974.4 818.3 L962.2 818.3 L961.0 816.2 Z"/>
<path d="M991.3 809.7 L1000.4 809.7 L1001.0 812.7 L996.7 815.1 L992.0 815.1 L988.1 811.9 Z"/>
<path d="M1001.2 816.8 L1012.9 816.8 L1013.4 820.4 L1010.0 822.3 L1002.8 822.3 L1000.4 819.0 Z"/>
<path d="M970.2 823.3 L982.4 823.3 L983.9 826.3 L979.5 828.7 L972.3 828.7 L968.3 826.0 Z"/>
<path d="M1011.2 827.5 L1011.5 828.5 L1003.6 829.5 L996.2 829.1 L992.9 828.5 L989.2 827.9 L990.6 826.4 L996.2 826.1 L1003.3 826.1 L1009.6 826.8 Z"/>
<path d="M1067.4 821.8 L1075.2 821.8 L1078.6 825.2 L1078.3 828.6 L1068.5 828.6 L1065.7 825.0 Z"/>
<path d="M832.1 825.2 L840.3 825.2 L840.9 827.0 L840.4 829.2 L833.0 829.2 L830.5 826.9 Z"/>
<path d="M1168.8 810.9 L1178.1 810.9 L1180.8 812.3 L1177.8 814.9 L1170.5 814.9 L1167.9 812.8 Z"/>
<path d="M1162.3 818.3 L1172.7 818.3 L1173.5 820.7 L1170.3 822.3 L1162.3 822.3 L1160.5 820.3 Z"/>
<path d="M1181.9 826.8 L1178.9 828.1 L1172.9 829.1 L1165.7 829.3 L1157.8 828.3 L1160.0 827.7 L1160.5 825.5 L1165.0 825.1 L1176.2 824.8 L1178.5 825.5 Z"/>
<path d="M1279.0 702.1 L1278.0 704.1 L1267.2 705.9 L1256.2 704.5 L1253.7 703.9 L1244.1 701.6 L1251.5 697.8 L1258.6 696.3 L1267.2 696.6 L1278.5 698.8 Z"/>
<path d="M1229.3 709.3 L1243.4 709.3 L1247.1 711.4 L1241.4 714.7 L1231.3 714.7 L1229.0 711.3 Z"/>
<path d="M1267.5 714.2 L1278.3 714.2 L1280.3 716.8 L1277.4 719.7 L1268.3 719.7 L1264.8 717.1 Z"/>
<path d="M1208.6 730.7 L1205.2 732.7 L1202.3 734.6 L1192.7 733.6 L1190.3 733.6 L1185.1 729.4 L1187.3 728.4 L1191.2 726.4 L1198.6 725.5 L1205.2 727.9 Z"/>
<path d="M1190.4 737.1 L1205.7 737.1 L1206.4 738.5 L1204.3 741.1 L1189.6 741.1 L1188.3 739.1 Z"/>
<path d="M1307.8 745.8 L1303.4 746.8 L1299.2 747.9 L1292.3 748.6 L1288.0 747.4 L1285.2 745.3 L1284.3 743.9 L1294.8 742.6 L1301.1 742.6 L1305.1 744.0 Z"/>
<path d="M1387.4 741.1 L1382.4 743.7 L1379.2 745.1 L1368.8 745.9 L1367.8 744.2 L1361.9 742.9 L1367.0 740.3 L1370.3 738.7 L1378.8 738.6 L1384.2 740.4 Z"/>
<path d="M1400.8 731.3 L1405.9 731.3 L1408.2 734.3 L1406.1 738.1 L1398.2 738.1 L1397.9 734.2 Z"/>
<path d="M1388.0 683.4 L1393.4 683.4 L1397.2 685.6 L1394.2 688.9 L1387.2 688.9 L1384.3 685.4 Z"/>
<path d="M1460.0 686.3 L1461.3 690.6 L1452.5 692.4 L1440.4 692.1 L1426.6 690.2 L1426.7 687.4 L1427.6 685.0 L1440.0 681.2 L1452.4 681.9 L1457.8 682.9 Z"/>
<path d="M1431.5 693.3 L1447.6 693.3 L1449.1 696.2 L1445.8 698.7 L1435.2 698.7 L1430.9 696.2 Z"/>
<path d="M1445.7 719.7 L1458.7 719.7 L1461.4 723.3 L1461.1 726.5 L1442.7 726.5 L1440.7 723.5 Z"/>
<path d="M1488.1 731.5 L1484.9 734.5 L1480.3 735.1 L1475.7 735.2 L1466.8 733.1 L1465.3 731.8 L1467.5 730.0 L1472.2 728.4 L1480.8 727.9 L1486.1 730.1 Z"/>
<path d="M1454.6 737.1 L1462.1 737.1 L1465.0 738.5 L1463.0 741.1 L1450.3 741.1 L1449.5 738.9 Z"/>
<path d="M1532.5 733.8 L1532.3 734.7 L1527.2 735.6 L1518.8 736.2 L1513.6 735.4 L1513.1 733.9 L1514.2 731.9 L1519.7 731.1 L1525.4 731.8 L1530.3 731.9 Z"/>
<path d="M1587.0 727.0 L1587.6 729.7 L1578.1 730.9 L1567.3 730.6 L1561.8 729.6 L1554.2 726.3 L1562.0 724.2 L1563.4 723.4 L1583.6 723.2 L1585.6 725.5 Z"/>
<path d="M1416.8 747.4 L1422.8 747.4 L1426.8 749.6 L1425.5 751.5 L1416.5 751.5 L1413.8 749.3 Z"/>
<path d="M1399.3 762.9 L1407.9 762.9 L1408.3 765.3 L1407.5 767.0 L1398.6 767.0 L1395.4 765.0 Z"/>
<path d="M1367.7 763.1 L1365.6 764.0 L1357.0 765.9 L1349.8 765.9 L1344.1 764.4 L1339.0 763.3 L1343.7 760.6 L1351.5 759.6 L1360.8 759.4 L1365.1 760.3 Z"/>
<path d="M1201.0 765.9 L1208.7 765.9 L1211.2 767.9 L1208.9 770.0 L1203.6 770.0 L1200.8 768.4 Z"/>
<path d="M1189.9 770.9 L1197.0 770.9 L1198.9 773.5 L1196.1 776.3 L1189.6 776.3 L1188.5 773.4 Z"/>
<path d="M1319.1 787.3 L1313.1 791.8 L1310.5 792.6 L1298.5 793.3 L1290.9 790.6 L1288.0 787.9 L1291.3 785.8 L1298.9 784.9 L1303.0 783.8 L1315.3 785.9 Z"/>
<path d="M1379.6 798.9 L1374.5 804.4 L1360.8 805.8 L1347.5 804.9 L1339.2 803.4 L1338.4 799.2 L1336.0 796.9 L1349.4 795.7 L1369.1 794.1 L1369.9 796.7 Z"/>
<path d="M1505.5 762.9 L1512.2 762.9 L1514.1 765.0 L1511.9 767.0 L1505.9 767.0 L1503.8 764.5 Z"/>
<path d="M1461.9 794.5 L1469.4 794.5 L1471.0 796.7 L1467.6 798.5 L1462.4 798.5 L1460.7 796.7 Z"/>
<path d="M1419.7 807.3 L1425.6 807.3 L1427.9 808.9 L1427.6 811.3 L1418.4 811.3 L1417.6 809.2 Z"/>
<path d="M1280.7 808.0 L1286.9 808.0 L1290.0 810.3 L1289.7 812.1 L1279.9 812.1 L1279.7 809.5 Z"/>
<path d="M1354.9 822.6 L1368.8 822.6 L1370.2 825.5 L1368.1 828.0 L1357.2 828.0 L1354.7 825.7 Z"/>
<path d="M1351.3 829.4 L1359.1 829.4 L1360.3 831.1 L1358.3 833.5 L1349.0 833.5 L1347.3 831.6 Z"/>
<path d="M1368.2 832.6 L1376.5 832.6 L1377.5 834.6 L1376.8 836.7 L1364.9 836.7 L1364.6 835.3 Z"/>
<path d="M1383.1 836.9 L1396.6 836.9 L1397.3 839.5 L1391.5 842.3 L1380.5 842.3 L1379.2 839.8 Z"/>
<path d="M1201.3 823.8 L1206.3 823.8 L1210.0 825.9 L1208.5 827.8 L1201.2 827.8 L1197.1 826.2 Z"/>
<path d="M1214.6 856.5 L1225.3 856.5 L1228.5 859.0 L1224.8 860.6 L1218.2 860.6 L1213.0 858.7 Z"/>
<path d="M1441.3 823.8 L1452.6 823.8 L1456.4 827.3 L1455.7 829.3 L1445.7 829.3 L1440.9 827.1 Z"/>
<path d="M1535.1 819.0 L1550.9 819.0 L1555.0 823.1 L1550.6 825.8 L1539.7 825.8 L1534.3 821.6 Z"/>
<path d="M1536.5 825.3 L1546.1 825.3 L1546.2 827.4 L1542.8 829.3 L1537.5 829.3 L1535.8 827.7 Z"/>
<path d="M1523.0 831.2 L1533.7 831.2 L1535.1 834.3 L1532.3 836.7 L1523.7 836.7 L1522.2 833.8 Z"/>
<path d="M1268.2 899.7 L1279.5 899.7 L1282.8 902.9 L1280.5 905.1 L1270.6 905.1 L1264.7 902.1 Z"/>
<path d="M582.8 941.7 L592.4 941.7 L595.5 943.6 L594.3 945.7 L580.8 945.7 L580.0 943.8 Z"/>
<path d="M571.4 972.3 L581.2 972.3 L584.5 974.8 L581.5 979.1 L569.2 979.1 L566.4 975.3 Z"/>
<path d="M650.5 975.5 L658.7 975.5 L662.0 978.8 L661.6 980.9 L651.1 980.9 L646.5 978.7 Z"/>
<path d="M563.2 1005.6 L561.9 1006.4 L554.7 1007.2 L548.5 1007.9 L540.7 1006.2 L538.9 1005.6 L541.5 1003.6 L545.1 1002.9 L556.5 1003.0 L563.3 1003.8 Z"/>
<path d="M538.9 1012.4 L549.8 1012.4 L553.7 1015.8 L551.1 1017.8 L540.8 1017.8 L535.6 1015.2 Z"/>
<path d="M588.4 1012.4 L593.6 1012.4 L596.6 1014.9 L596.2 1017.8 L587.5 1017.8 L586.3 1015.3 Z"/>
<path d="M549.8 1022.2 L547.6 1025.4 L540.6 1027.3 L528.5 1026.7 L524.3 1023.7 L518.9 1020.9 L525.5 1017.8 L530.2 1015.2 L541.8 1014.8 L543.6 1017.3 Z"/>
<path d="M553.6 1026.5 L552.1 1028.5 L547.5 1031.2 L543.5 1030.4 L536.9 1029.1 L533.3 1026.2 L537.0 1024.2 L538.3 1021.4 L546.7 1020.6 L552.2 1023.6 Z"/>
<path d="M566.1 1024.1 L580.3 1024.1 L580.8 1027.2 L579.3 1030.8 L566.2 1030.8 L562.7 1026.6 Z"/>
<path d="M588.0 1030.3 L602.5 1030.3 L604.2 1032.0 L597.6 1034.4 L584.9 1034.4 L583.5 1032.1 Z"/>
<path d="M698.7 971.8 L707.8 971.8 L713.8 975.0 L708.3 978.6 L694.7 978.6 L693.2 975.3 Z"/>
<path d="M719.4 961.9 L727.4 961.9 L732.2 964.0 L728.2 967.3 L719.3 967.3 L716.7 965.4 Z"/>
<path d="M726.4 978.6 L730.5 978.6 L733.3 981.2 L730.7 982.7 L725.5 982.7 L723.0 980.9 Z"/>
<path d="M781.1 977.6 L777.0 979.4 L772.3 980.4 L765.5 980.2 L761.1 980.1 L760.5 978.0 L759.6 974.9 L769.3 974.4 L770.7 974.2 L780.3 975.7 Z"/>
<path d="M823.3 939.6 L834.7 939.6 L838.2 942.7 L835.3 946.3 L823.3 946.3 L817.5 943.6 Z"/>
<path d="M854.8 1035.1 L870.7 1035.1 L871.5 1037.5 L871.3 1040.5 L854.1 1040.5 L850.8 1038.6 Z"/>
<path d="M922.2 1064.3 L919.1 1069.5 L914.0 1071.3 L910.0 1070.6 L901.9 1069.2 L901.3 1065.5 L902.9 1063.4 L910.3 1059.8 L915.1 1060.6 L918.3 1062.1 Z"/>
<path d="M541.2 1068.0 L548.7 1068.0 L549.9 1070.0 L548.0 1072.1 L537.6 1072.1 L536.9 1070.6 Z"/>
<path d="M580.6 1073.3 L581.3 1075.9 L575.2 1076.7 L567.5 1077.3 L559.9 1075.6 L559.7 1073.2 L565.0 1071.1 L568.6 1069.0 L576.7 1069.5 L582.4 1071.2 Z"/>
<path d="M586.1 1077.5 L597.9 1077.5 L599.2 1080.1 L593.3 1084.3 L586.5 1084.3 L581.1 1080.5 Z"/>
<path d="M600.1 1081.3 L608.3 1081.3 L610.1 1083.2 L609.6 1085.4 L601.3 1085.4 L599.8 1083.4 Z"/>
<path d="M600.1 1066.8 L613.4 1066.8 L614.0 1068.7 L614.0 1070.8 L603.1 1070.8 L598.4 1069.0 Z"/>
<path d="M657.1 1078.9 L657.5 1082.4 L644.7 1083.5 L633.4 1084.1 L629.6 1082.5 L625.4 1080.6 L629.4 1076.3 L639.0 1075.8 L645.4 1075.5 L655.0 1077.8 Z"/>
<path d="M645.9 1109.5 L643.1 1113.5 L638.0 1114.2 L629.7 1115.0 L620.2 1111.9 L619.0 1108.7 L619.9 1107.4 L629.1 1104.9 L637.3 1106.3 L644.3 1107.3 Z"/>
<path d="M708.2 1111.2 L704.1 1115.2 L695.2 1116.2 L681.6 1117.7 L674.7 1114.3 L670.4 1112.2 L673.9 1108.4 L682.3 1108.3 L690.2 1107.7 L703.8 1108.6 Z"/>
<path d="M721.8 1101.1 L732.0 1101.1 L734.7 1103.3 L734.2 1106.5 L719.8 1106.5 L719.1 1103.2 Z"/>
<path d="M579.2 1129.9 L577.8 1132.2 L572.3 1133.3 L566.9 1133.3 L559.5 1131.7 L553.9 1130.1 L558.7 1127.7 L563.6 1127.8 L569.1 1127.9 L578.4 1128.8 Z"/>
<path d="M907.7 843.1 L922.4 843.1 L927.2 845.5 L921.6 848.3 L911.6 848.3 L907.4 845.4 Z"/>
<path d="M947.0 865.1 L961.8 865.1 L963.2 867.2 L957.8 870.3 L951.4 870.3 L946.7 868.2 Z"/>
<path d="M907.6 872.0 L919.9 872.0 L920.7 875.1 L919.1 877.2 L908.3 877.2 L907.5 875.0 Z"/>
<path d="M950.2 875.1 L957.3 875.1 L960.0 878.2 L957.2 880.3 L950.9 880.3 L946.8 878.0 Z"/>
<path d="M937.1 880.2 L945.8 880.2 L945.9 883.2 L943.9 885.4 L934.9 885.4 L932.7 882.2 Z"/>
<path d="M1010.0 865.7 L1018.9 865.7 L1021.2 868.3 L1018.5 870.9 L1011.5 870.9 L1008.0 869.0 Z"/>
<path d="M1053.1 844.1 L1066.0 844.1 L1071.6 847.3 L1067.8 849.2 L1057.0 849.2 L1051.9 847.2 Z"/>
<path d="M1082.5 851.6 L1090.1 851.6 L1091.9 854.2 L1091.0 856.8 L1080.6 856.8 L1078.7 854.2 Z"/>
<path d="M1098.1 831.5 L1105.7 831.5 L1110.8 833.7 L1110.6 836.7 L1095.1 836.7 L1094.3 833.9 Z"/>
<path d="M1310.8 840.0 L1319.5 840.0 L1319.5 842.6 L1318.9 845.2 L1310.3 845.2 L1309.6 842.3 Z"/>
<path d="M1366.7 832.1 L1376.1 832.1 L1376.1 835.2 L1373.0 837.3 L1364.5 837.3 L1362.9 834.3 Z"/>
<path d="M1384.6 836.0 L1397.0 836.0 L1398.3 839.8 L1397.3 842.9 L1384.4 842.9 L1378.5 840.0 Z"/>
<path d="M1026.5 890.9 L1037.3 890.9 L1043.4 895.0 L1037.4 897.8 L1029.0 897.8 L1023.6 895.3 Z"/>
<path d="M1051.3 895.6 L1064.6 895.6 L1070.1 898.6 L1069.0 902.6 L1054.7 902.6 L1050.3 898.9 Z"/>
<path d="M1064.2 906.6 L1065.1 909.1 L1056.9 909.5 L1046.6 909.5 L1044.5 908.8 L1035.9 906.6 L1041.5 904.8 L1049.1 903.6 L1060.1 904.2 L1063.9 904.3 Z"/>
<path d="M1063.3 895.0 L1078.1 895.0 L1081.1 898.2 L1074.2 901.9 L1064.9 901.9 L1058.1 898.3 Z"/>
<path d="M1076.2 915.3 L1082.4 915.3 L1085.5 917.5 L1083.2 920.5 L1077.8 920.5 L1075.6 918.3 Z"/>
<path d="M958.8 945.8 L964.0 945.8 L967.8 948.6 L965.8 951.0 L955.0 951.0 L954.6 947.7 Z"/>
<path d="M1017.4 971.9 L1024.5 971.9 L1025.9 973.9 L1022.8 977.1 L1018.4 977.1 L1016.0 974.5 Z"/>
<path d="M1128.4 968.7 L1142.3 968.7 L1143.9 974.6 L1140.0 979.0 L1124.4 979.0 L1124.1 974.1 Z"/>
<path d="M1158.4 967.2 L1166.1 967.2 L1172.1 970.0 L1170.2 972.4 L1152.7 972.4 L1152.4 970.0 Z"/>
<path d="M1199.7 938.0 L1208.3 938.0 L1209.7 940.7 L1207.9 943.1 L1200.0 943.1 L1196.5 940.2 Z"/>
<path d="M1264.6 899.4 L1278.9 899.4 L1283.6 903.6 L1281.7 906.3 L1270.0 906.3 L1263.9 902.7 Z"/>
<path d="M1270.0 932.0 L1288.2 932.0 L1288.3 933.9 L1284.8 937.2 L1273.3 937.2 L1268.6 934.5 Z"/>
<path d="M1336.0 921.0 L1343.1 921.0 L1344.6 923.9 L1342.7 926.2 L1336.2 926.2 L1334.8 923.2 Z"/>
<path d="M1389.3 965.0 L1384.6 967.5 L1365.4 969.9 L1359.5 969.4 L1337.5 967.2 L1334.6 965.0 L1339.2 961.9 L1358.9 960.1 L1368.2 960.7 L1380.8 961.7 Z"/>
<path d="M1387.7 974.2 L1386.9 977.4 L1379.3 980.3 L1368.1 980.6 L1362.2 978.1 L1357.8 974.4 L1358.6 970.6 L1371.4 967.5 L1376.1 969.0 L1389.2 970.6 Z"/>
<path d="M1301.4 975.0 L1312.8 975.0 L1318.2 978.3 L1314.2 980.2 L1298.4 980.2 L1298.4 978.3 Z"/>
<path d="M1356.7 980.4 L1354.5 983.4 L1345.7 985.8 L1337.8 984.9 L1333.8 984.7 L1332.7 980.3 L1334.5 977.6 L1339.1 975.6 L1347.8 976.0 L1353.0 978.4 Z"/>
<path d="M1317.7 996.8 L1316.3 998.8 L1303.7 1004.9 L1298.8 1002.6 L1286.1 1000.0 L1286.1 996.5 L1289.4 988.0 L1300.5 985.2 L1304.6 985.6 L1319.7 989.4 Z"/>
<path d="M1386.2 1003.8 L1383.7 1009.1 L1376.6 1009.7 L1352.3 1009.5 L1347.6 1007.3 L1341.9 1002.9 L1346.5 1000.8 L1362.6 998.3 L1375.4 997.9 L1387.0 1001.5 Z"/>
<path d="M1343.1 990.7 L1349.5 990.7 L1352.6 993.4 L1351.1 995.9 L1341.5 995.9 L1339.4 993.4 Z"/>
<path d="M1375.1 988.3 L1387.7 988.3 L1390.4 991.1 L1385.0 995.2 L1376.4 995.2 L1370.6 992.3 Z"/>
<path d="M1390.4 989.9 L1401.2 989.9 L1402.8 994.3 L1399.5 996.8 L1389.8 996.8 L1389.6 992.7 Z"/>
<path d="M1327.4 997.0 L1334.4 997.0 L1336.9 999.4 L1334.5 1002.2 L1327.8 1002.2 L1323.7 1000.3 Z"/>
<path d="M1305.0 1003.3 L1312.7 1003.3 L1314.9 1005.2 L1312.8 1008.5 L1305.3 1008.5 L1301.7 1005.5 Z"/>
<path d="M1381.5 1010.3 L1387.9 1010.3 L1390.2 1013.0 L1387.1 1017.2 L1382.5 1017.2 L1380.3 1014.5 Z"/>
<path d="M1329.4 1027.6 L1338.9 1027.6 L1345.0 1030.2 L1342.7 1034.5 L1327.9 1034.5 L1321.9 1031.2 Z"/>
<path d="M1343.9 1033.1 L1355.5 1033.1 L1359.0 1035.9 L1356.9 1038.3 L1342.9 1038.3 L1339.2 1035.6 Z"/>
<path d="M1326.5 1042.5 L1337.6 1042.5 L1338.4 1044.6 L1334.2 1047.7 L1329.4 1047.7 L1325.3 1044.6 Z"/>
<path d="M924.1 992.3 L931.3 992.3 L934.9 994.6 L932.3 997.5 L926.0 997.5 L921.7 994.7 Z"/>
<path d="M914.5 1011.1 L921.2 1011.1 L923.8 1014.4 L923.0 1016.3 L914.7 1016.3 L913.9 1013.2 Z"/>
<path d="M1172.8 1051.3 L1180.8 1051.3 L1184.5 1054.5 L1183.4 1056.5 L1172.3 1056.5 L1171.4 1054.6 Z"/>
<path d="M967.7 1061.7 L961.1 1068.4 L940.7 1069.6 L923.8 1069.2 L911.3 1065.6 L903.8 1063.7 L913.9 1056.7 L924.8 1055.5 L946.0 1055.2 L953.6 1057.8 Z"/>
<path d="M940.6 1090.2 L960.5 1090.2 L961.8 1096.4 L960.9 1100.6 L940.3 1100.6 L938.7 1095.4 Z"/>
<path d="M987.8 1102.5 L985.2 1104.0 L975.2 1105.1 L969.1 1105.7 L959.0 1103.7 L954.7 1101.8 L960.3 1100.2 L968.3 1097.5 L976.4 1097.2 L982.7 1099.3 Z"/>
<path d="M966.9 1086.5 L974.8 1086.5 L977.3 1088.5 L977.1 1091.7 L964.4 1091.7 L964.1 1088.9 Z"/>
<path d="M1011.2 1103.8 L1023.5 1103.8 L1027.6 1106.0 L1024.1 1109.0 L1014.2 1109.0 L1011.1 1105.8 Z"/>
<path d="M1043.3 1105.0 L1055.7 1105.0 L1059.2 1110.3 L1056.9 1115.3 L1039.6 1115.3 L1036.1 1111.4 Z"/>
<path d="M1051.1 1099.2 L1068.1 1099.2 L1070.1 1103.3 L1069.5 1106.1 L1053.7 1106.1 L1047.1 1103.0 Z"/>
<path d="M1085.9 1103.2 L1094.3 1103.2 L1098.2 1105.0 L1096.0 1108.3 L1088.1 1108.3 L1085.0 1105.8 Z"/>
<path d="M1092.4 1095.9 L1097.0 1095.9 L1099.7 1098.1 L1097.0 1101.1 L1091.2 1101.1 L1089.8 1099.1 Z"/>
<path d="M1396.1 1113.8 L1402.5 1113.8 L1407.6 1115.7 L1404.7 1119.0 L1396.1 1119.0 L1391.1 1117.0 Z"/>
<path d="M1638.0 388.2 L1647.6 388.2 L1648.3 390.2 L1646.7 392.8 L1639.7 392.8 L1637.3 390.1 Z"/>
<path d="M1701.6 398.5 L1699.8 400.4 L1688.5 402.5 L1679.7 401.3 L1671.2 401.1 L1669.2 398.1 L1669.0 395.2 L1682.0 394.0 L1688.5 393.1 L1696.8 396.0 Z"/>
<path d="M1651.5 403.9 L1662.2 403.9 L1663.0 406.2 L1659.9 408.5 L1652.8 408.5 L1649.8 405.6 Z"/>
<path d="M1677.1 412.5 L1674.8 414.7 L1673.1 416.6 L1660.7 416.8 L1657.2 414.3 L1655.0 411.6 L1655.3 411.0 L1659.9 409.0 L1670.8 408.7 L1677.7 409.6 Z"/>
<path d="M1684.5 406.8 L1696.1 406.8 L1703.1 412.4 L1698.0 416.1 L1684.1 416.1 L1681.1 410.6 Z"/>
<path d="M1620.2 412.5 L1616.7 416.8 L1610.2 420.6 L1602.7 420.4 L1596.8 416.8 L1596.9 413.2 L1600.2 409.5 L1605.8 406.8 L1609.5 408.3 L1618.0 410.5 Z"/>
<path d="M1626.8 403.3 L1634.0 403.3 L1634.7 405.6 L1634.1 407.9 L1624.4 407.9 L1623.7 405.9 Z"/>
<path d="M1679.1 418.6 L1694.0 418.6 L1694.6 421.3 L1691.7 423.2 L1679.6 423.2 L1677.0 421.6 Z"/>
<path d="M1664.7 426.9 L1674.4 426.9 L1675.6 429.3 L1674.8 433.8 L1662.4 433.8 L1662.4 429.6 Z"/>
<path d="M1641.3 427.9 L1650.0 427.9 L1651.5 432.1 L1648.4 434.8 L1643.6 434.8 L1640.5 431.7 Z"/>
<path d="M1700.3 432.2 L1705.0 432.2 L1709.2 435.2 L1708.0 436.8 L1697.6 436.8 L1696.0 435.2 Z"/>
<path d="M1691.6 448.4 L1705.7 448.4 L1707.2 452.1 L1702.5 454.2 L1690.0 454.2 L1689.6 450.8 Z"/>
<path d="M1583.3 429.7 L1582.1 431.3 L1576.2 432.3 L1568.0 432.6 L1559.3 431.0 L1558.3 428.8 L1559.9 427.0 L1569.1 426.0 L1571.6 426.2 L1582.7 427.9 Z"/>
<path d="M1580.8 439.2 L1575.5 441.6 L1573.9 442.6 L1566.7 442.2 L1556.5 441.3 L1558.4 439.1 L1562.1 437.8 L1566.4 436.9 L1572.6 436.2 L1577.8 438.3 Z"/>
<path d="M1590.8 449.5 L1587.1 450.7 L1579.6 451.8 L1578.1 452.0 L1567.1 450.9 L1567.6 449.7 L1567.2 447.0 L1574.1 446.8 L1581.4 446.5 L1592.2 447.8 Z"/>
<path d="M1588.1 455.8 L1598.3 455.8 L1601.2 459.9 L1599.6 462.7 L1588.5 462.7 L1588.0 458.8 Z"/>
<path d="M1677.1 473.1 L1689.2 473.1 L1690.3 476.1 L1686.7 477.7 L1677.8 477.7 L1677.1 475.5 Z"/>
<path d="M1696.5 469.6 L1704.5 469.6 L1709.3 474.2 L1704.8 481.2 L1695.7 481.2 L1691.7 476.7 Z"/>
<path d="M1662.8 509.8 L1674.0 509.8 L1675.6 511.8 L1671.5 514.4 L1665.8 514.4 L1662.4 512.7 Z"/>
<path d="M1686.5 505.6 L1701.5 505.6 L1702.0 508.4 L1698.4 510.2 L1684.3 510.2 L1682.2 507.3 Z"/>
<path d="M1691.9 551.6 L1706.8 551.6 L1708.3 554.4 L1704.1 558.5 L1689.5 558.5 L1688.5 555.7 Z"/>
<path d="M1586.7 576.7 L1596.9 576.7 L1599.2 579.8 L1598.9 582.5 L1584.1 582.5 L1583.7 579.2 Z"/>
<path d="M1633.9 586.9 L1632.8 588.7 L1629.4 588.7 L1619.2 589.1 L1613.5 587.3 L1611.0 586.0 L1611.6 585.0 L1618.7 584.5 L1623.7 584.4 L1632.9 585.6 Z"/>
<path d="M1686.4 628.8 L1697.3 628.8 L1699.8 630.7 L1694.5 633.5 L1683.5 633.5 L1682.2 630.7 Z"/>
<path d="M1643.6 715.4 L1643.6 716.6 L1636.6 717.7 L1628.2 717.1 L1620.1 716.5 L1622.2 715.0 L1625.2 714.2 L1631.6 713.3 L1635.7 713.7 L1643.3 714.7 Z"/>
<path d="M1584.4 717.3 L1594.6 717.3 L1599.2 720.0 L1594.7 721.9 L1583.9 721.9 L1583.7 720.2 Z"/>
<path d="M1583.9 727.4 L1580.4 728.9 L1578.7 729.6 L1566.4 729.7 L1562.7 728.0 L1558.3 726.3 L1564.8 724.9 L1566.2 724.2 L1574.9 723.7 L1586.1 725.1 Z"/>
<path d="M1617.9 724.7 L1634.1 724.7 L1638.1 727.2 L1630.9 730.5 L1621.0 730.5 L1616.1 728.2 Z"/>
<path d="M1618.8 737.9 L1629.6 737.9 L1633.8 740.8 L1631.9 742.5 L1620.4 742.5 L1616.2 740.7 Z"/>
<path d="M1641.3 808.4 L1656.6 808.4 L1659.1 811.4 L1657.9 815.3 L1641.2 815.3 L1637.0 812.6 Z"/>
<path d="M1665.8 831.2 L1666.2 834.3 L1655.7 835.2 L1651.3 835.5 L1639.7 834.2 L1636.8 831.7 L1639.8 829.7 L1650.9 827.0 L1658.3 828.4 L1668.0 829.9 Z"/>
<path d="M1596.4 837.9 L1609.3 837.9 L1609.6 840.1 L1608.4 842.5 L1600.2 842.5 L1596.4 840.3 Z"/>
<path d="M197.5 399.5 L211.6 399.5 L212.3 401.8 L208.9 403.6 L200.7 403.6 L196.1 401.9 Z"/>
<path d="M439.4 398.4 L459.3 398.4 L461.8 401.0 L454.6 403.5 L446.1 403.5 L439.2 400.9 Z"/>
<path d="M466.1 403.4 L474.7 403.4 L475.5 407.1 L471.2 410.2 L465.8 410.2 L462.5 406.7 Z"/>
<path d="M455.3 412.7 L448.2 414.8 L439.8 416.8 L424.6 416.3 L412.3 415.8 L407.7 411.2 L414.8 410.3 L421.0 409.1 L438.8 408.2 L447.9 410.8 Z"/>
<path d="M462.1 412.0 L469.7 412.0 L475.6 414.9 L470.4 418.8 L460.5 418.8 L456.2 415.4 Z"/>
<path d="M508.4 403.6 L517.8 403.6 L520.2 406.5 L515.7 408.7 L508.6 408.7 L504.0 405.7 Z"/>
<path d="M400.5 431.3 L410.6 431.3 L410.8 433.4 L410.1 436.4 L398.2 436.4 L397.9 433.7 Z"/>
<path d="M398.8 443.7 L409.2 443.7 L410.8 446.5 L408.9 450.5 L398.7 450.5 L397.9 448.1 Z"/>
<path d="M472.7 443.9 L468.4 446.8 L458.4 447.9 L450.0 447.9 L448.2 447.3 L443.8 444.1 L445.8 441.5 L454.7 440.7 L463.1 440.8 L471.2 442.7 Z"/>
<path d="M1692.3 866.3 L1699.1 866.3 L1702.4 868.5 L1699.0 870.3 L1693.5 870.3 L1692.1 868.7 Z"/>
<path d="M1706.8 1006.7 L1704.3 1008.9 L1699.0 1010.0 L1691.4 1009.6 L1688.6 1009.2 L1686.2 1006.4 L1687.4 1002.3 L1693.6 1001.5 L1700.9 1002.4 L1705.2 1003.9 Z"/>
<path d="M1690.9 1058.2 L1687.5 1062.0 L1682.2 1063.7 L1671.9 1063.4 L1665.9 1061.6 L1663.9 1058.5 L1668.8 1057.0 L1675.6 1055.3 L1678.8 1055.8 L1686.8 1057.9 Z"/>
<path d="M1665.3 1101.9 L1659.4 1104.4 L1653.6 1105.3 L1644.9 1105.9 L1635.0 1104.0 L1629.3 1101.9 L1630.7 1098.9 L1642.2 1097.3 L1654.5 1095.6 L1660.1 1098.5 Z"/>
<path d="M1552.3 66.3 L1558.8 66.3 L1561.3 68.4 L1557.9 70.4 L1551.3 70.4 L1551.0 67.8 Z"/>
<path d="M1629.5 101.6 L1635.4 101.6 L1638.3 104.5 L1636.1 107.7 L1630.1 107.7 L1628.0 105.0 Z"/>
<path d="M1566.7 164.5 L1575.4 164.5 L1578.0 166.6 L1573.6 169.2 L1566.3 169.2 L1563.8 166.5 Z"/>
<path d="M1593.0 165.9 L1598.8 165.9 L1602.0 170.2 L1600.5 172.7 L1591.8 172.7 L1591.6 169.9 Z"/>
<path d="M1644.5 169.1 L1650.7 169.1 L1653.8 171.6 L1649.9 173.2 L1641.5 173.2 L1640.8 170.6 Z"/>
<path d="M1551.8 194.4 L1558.1 194.4 L1558.9 196.6 L1558.4 198.4 L1550.2 198.4 L1548.5 196.8 Z"/>
<path d="M1309.3 619.2 L1295.9 622.7 L1284.7 626.6 L1261.2 629.1 L1244.9 623.3 L1241.9 621.1 L1248.4 612.5 L1259.1 612.2 L1284.4 610.2 L1306.6 614.9 Z"/>
<path d="M1302.4 644.9 L1297.8 647.9 L1293.3 649.3 L1278.9 648.9 L1272.3 648.1 L1264.4 643.7 L1270.9 642.5 L1276.5 639.7 L1289.0 639.3 L1298.7 640.1 Z"/>
<path d="M1208.2 658.1 L1206.8 660.0 L1201.9 661.5 L1195.7 660.8 L1191.8 660.1 L1186.4 657.3 L1189.7 655.7 L1194.4 654.3 L1199.6 654.9 L1204.9 655.3 Z"/>
<path d="M1218.4 653.7 L1229.4 653.7 L1233.3 656.0 L1232.4 659.8 L1216.7 659.8 L1213.9 656.9 Z"/>
<path d="M1230.1 664.8 L1238.3 664.8 L1240.6 667.4 L1237.7 670.9 L1228.0 670.9 L1225.1 667.8 Z"/>
<path d="M1229.7 645.1 L1244.6 645.1 L1246.2 647.3 L1243.3 650.0 L1230.8 650.0 L1226.8 647.8 Z"/>
<path d="M1311.0 655.7 L1319.1 655.7 L1321.9 660.6 L1317.9 663.8 L1311.2 663.8 L1306.3 660.2 Z"/>
<path d="M1297.5 664.1 L1308.2 664.1 L1310.9 668.0 L1310.2 670.2 L1292.2 670.2 L1291.5 666.7 Z"/>
<path d="M1285.2 669.9 L1295.4 669.9 L1295.9 672.0 L1295.2 674.0 L1284.7 674.0 L1284.3 672.0 Z"/>
<path d="M1265.1 650.7 L1270.4 650.7 L1273.7 653.0 L1272.2 655.5 L1263.5 655.5 L1262.1 653.1 Z"/>
<path d="M1342.1 604.1 L1336.0 607.0 L1327.0 609.0 L1321.2 608.2 L1314.0 607.2 L1309.2 603.4 L1313.5 602.9 L1319.6 600.4 L1328.4 599.2 L1336.7 602.6 Z"/>
<path d="M1231.5 607.5 L1229.9 609.5 L1228.2 611.7 L1218.8 611.7 L1210.1 609.8 L1211.0 607.6 L1213.9 606.2 L1216.8 604.0 L1222.9 603.7 L1230.4 605.2 Z"/>
<path d="M1282.8 582.5 L1293.7 582.5 L1299.8 585.8 L1297.3 590.7 L1284.1 590.7 L1280.4 586.6 Z"/>
<path d="M1307.4 569.9 L1301.3 574.4 L1300.2 577.5 L1287.5 576.2 L1283.1 575.5 L1279.2 569.8 L1280.6 565.8 L1284.4 565.5 L1293.8 565.9 L1305.2 568.3 Z"/>
<path d="M1321.3 571.7 L1332.2 571.7 L1332.9 575.3 L1331.5 577.8 L1324.2 577.8 L1321.2 574.5 Z"/>
<path d="M1246.9 586.4 L1255.6 586.4 L1257.1 588.5 L1255.7 590.5 L1246.6 590.5 L1245.5 588.0 Z"/>
<path d="M1201.3 625.8 L1199.2 628.2 L1195.5 628.8 L1190.6 628.5 L1185.6 627.9 L1181.4 626.1 L1185.5 623.4 L1190.4 622.0 L1197.9 622.3 L1199.1 623.5 Z"/>
<path d="M1502.2 185.5 L1498.8 187.4 L1492.8 189.3 L1488.9 189.1 L1479.9 188.6 L1479.7 185.1 L1481.5 180.4 L1487.9 179.0 L1492.7 178.5 L1502.8 182.2 Z"/>
<path d="M1514.4 174.6 L1527.3 174.6 L1530.2 179.2 L1524.3 181.8 L1514.0 181.8 L1511.8 178.7 Z"/>
<path d="M1520.5 188.9 L1531.4 188.9 L1532.3 191.4 L1529.0 193.8 L1522.2 193.8 L1518.5 190.8 Z"/>
<path d="M1501.4 235.9 L1513.1 235.9 L1517.1 239.7 L1511.6 243.1 L1502.2 243.1 L1498.7 239.7 Z"/>
<path d="M1399.4 173.6 L1407.5 173.6 L1409.7 175.7 L1409.5 178.4 L1396.2 178.4 L1395.9 176.3 Z"/>
<path d="M1445.4 204.3 L1450.9 204.3 L1454.5 207.2 L1450.9 209.1 L1444.2 209.1 L1443.0 206.9 Z"/>
<path d="M1546.4 226.2 L1552.9 226.2 L1556.4 229.1 L1554.0 231.0 L1546.5 231.0 L1542.6 228.1 Z"/>
<path d="M1490.5 77.1 L1501.0 77.1 L1506.2 81.4 L1505.5 86.7 L1483.3 86.7 L1483.3 82.7 Z"/>
<path d="M1467.8 138.6 L1475.2 138.6 L1479.8 141.0 L1479.6 143.4 L1468.9 143.4 L1466.0 141.1 Z"/>
</g>
<g fill="#6f7390" stroke="#686868" stroke-width="1.3" stroke-linejoin="miter">
<path d="M378.0 439.1 L385.5 439.1 L386.4 440.4 L385.4 441.8 L376.7 441.8 L376.1 440.5 Z"/>
<path d="M467.6 552.7 L472.6 552.7 L475.0 553.9 L473.4 555.4 L467.5 555.4 L467.3 553.7 Z"/>
<path d="M494.6 556.4 L501.4 556.4 L502.7 557.4 L501.2 559.1 L493.5 559.1 L492.3 558.0 Z"/>
<path d="M252.0 582.1 L256.6 582.1 L257.0 583.5 L255.9 586.1 L253.4 586.1 L251.8 584.1 Z"/>
<path d="M305.3 583.5 L309.4 583.5 L311.2 585.2 L309.2 586.2 L305.0 586.2 L303.5 584.9 Z"/>
<path d="M129.6 585.2 L132.2 585.2 L133.2 586.3 L133.0 587.9 L129.8 587.9 L129.3 586.2 Z"/>
<path d="M130.1 616.0 L132.1 616.0 L133.2 617.5 L132.8 618.7 L129.5 618.7 L129.3 617.5 Z"/>
<path d="M391.2 612.3 L395.8 612.3 L397.4 614.0 L397.3 615.0 L390.8 615.0 L389.7 613.5 Z"/>
<path d="M346.7 636.2 L350.7 636.2 L351.2 638.3 L350.9 640.3 L345.2 640.3 L344.7 638.6 Z"/>
<path d="M386.7 667.6 L390.4 667.6 L392.5 670.9 L390.9 673.0 L387.1 673.0 L384.7 669.9 Z"/>
<path d="M217.7 664.0 L230.0 664.0 L230.1 665.4 L228.7 666.7 L217.8 666.7 L217.1 665.2 Z"/>
<path d="M641.2 376.7 L649.3 376.7 L649.6 378.7 L648.7 380.0 L640.3 380.0 L639.2 378.5 Z"/>
<path d="M734.8 465.2 L739.4 465.2 L741.9 466.3 L738.7 467.9 L733.2 467.9 L731.6 466.3 Z"/>
<path d="M829.7 434.4 L834.3 434.4 L836.7 436.0 L834.9 437.1 L829.1 437.1 L826.4 435.4 Z"/>
<path d="M858.8 447.3 L863.6 447.3 L863.7 449.6 L863.0 451.3 L858.8 451.3 L858.5 449.2 Z"/>
<path d="M853.1 467.7 L857.1 467.7 L858.9 469.0 L858.0 470.4 L853.4 470.4 L851.1 468.6 Z"/>
<path d="M905.4 392.5 L914.0 392.5 L914.3 393.5 L913.4 395.2 L906.5 395.2 L904.0 394.2 Z"/>
<path d="M918.0 399.2 L920.8 399.2 L921.6 401.3 L920.4 403.3 L917.6 403.3 L916.4 400.9 Z"/>
<path d="M917.4 441.1 L921.0 441.1 L922.9 443.4 L922.0 445.2 L917.7 445.2 L915.1 442.6 Z"/>
<path d="M866.3 500.9 L871.4 500.9 L873.6 502.0 L871.8 503.6 L866.8 503.6 L865.9 502.2 Z"/>
<path d="M834.6 532.9 L840.3 532.9 L841.6 533.9 L841.1 535.6 L834.2 535.6 L833.9 534.5 Z"/>
<path d="M726.4 500.2 L730.5 500.2 L730.7 502.1 L730.0 504.3 L725.9 504.3 L725.5 502.6 Z"/>
<path d="M946.6 323.9 L949.6 323.9 L950.9 326.5 L950.0 328.0 L947.1 328.0 L946.0 326.0 Z"/>
<path d="M973.5 345.3 L979.4 345.3 L980.1 346.4 L977.9 348.4 L972.7 348.4 L970.4 347.0 Z"/>
<path d="M1052.8 397.0 L1058.0 397.0 L1059.5 398.1 L1057.8 400.1 L1053.8 400.1 L1051.7 398.5 Z"/>
<path d="M1056.3 322.6 L1059.1 322.6 L1060.3 324.4 L1059.5 326.7 L1055.2 326.7 L1054.5 324.1 Z"/>
<path d="M1054.7 379.9 L1058.4 379.9 L1060.3 381.6 L1060.0 384.0 L1056.0 384.0 L1054.5 382.0 Z"/>
<path d="M858.8 447.4 L862.9 447.4 L864.4 449.9 L862.3 451.7 L859.9 451.7 L858.2 449.5 Z"/>
<path d="M732.6 464.7 L739.9 464.7 L742.4 466.0 L741.1 467.9 L733.5 467.9 L730.0 466.2 Z"/>
<path d="M851.7 467.6 L857.7 467.6 L859.5 469.2 L859.3 470.9 L853.3 470.9 L851.2 469.6 Z"/>
<path d="M726.7 500.2 L729.4 500.2 L731.4 502.7 L730.2 504.5 L725.3 504.5 L725.2 502.3 Z"/>
<path d="M777.5 500.6 L785.2 500.6 L785.6 503.3 L784.5 504.9 L779.3 504.9 L777.3 502.6 Z"/>
<path d="M683.3 530.7 L689.4 530.7 L693.2 532.7 L691.4 533.9 L680.7 533.9 L678.7 531.9 Z"/>
<path d="M680.3 537.6 L683.0 537.6 L683.1 539.5 L681.9 540.8 L679.6 540.8 L678.9 539.6 Z"/>
<path d="M977.0 521.9 L981.5 521.9 L983.6 524.4 L982.1 526.2 L976.6 526.2 L975.4 523.9 Z"/>
<path d="M891.3 522.4 L900.5 522.4 L902.0 524.2 L899.6 525.7 L893.0 525.7 L889.6 523.6 Z"/>
<path d="M876.0 550.2 L882.7 550.2 L884.1 551.9 L882.6 554.6 L876.2 554.6 L875.9 551.9 Z"/>
<path d="M901.3 545.5 L908.1 545.5 L908.8 547.2 L906.8 549.9 L902.2 549.9 L900.5 547.4 Z"/>
<path d="M953.1 582.3 L958.2 582.3 L960.0 583.5 L958.8 585.6 L952.8 585.6 L951.7 583.5 Z"/>
<path d="M836.0 600.1 L839.0 600.1 L840.7 602.6 L839.2 604.4 L835.6 604.4 L834.5 601.8 Z"/>
<path d="M816.5 592.8 L823.9 592.8 L824.1 594.3 L822.0 596.0 L815.4 596.0 L813.7 594.6 Z"/>
<path d="M772.6 585.9 L777.1 585.9 L778.7 587.1 L777.1 589.1 L770.6 589.1 L770.4 587.0 Z"/>
<path d="M684.1 564.2 L692.1 564.2 L693.1 565.4 L692.4 567.4 L683.6 567.4 L682.7 565.4 Z"/>
<path d="M526.4 580.0 L531.9 580.0 L535.0 581.2 L532.7 583.3 L527.2 583.3 L524.7 581.7 Z"/>
<path d="M615.1 611.2 L618.3 611.2 L620.7 612.6 L620.6 614.4 L613.3 614.4 L612.4 612.5 Z"/>
<path d="M770.5 585.4 L777.7 585.4 L778.3 588.2 L778.0 589.8 L771.0 589.8 L770.0 588.1 Z"/>
<path d="M815.0 593.4 L819.7 593.4 L822.7 594.9 L821.9 596.7 L814.3 596.7 L812.4 594.9 Z"/>
<path d="M834.2 600.2 L838.9 600.2 L840.3 602.4 L839.5 604.5 L834.6 604.5 L834.1 602.2 Z"/>
<path d="M688.0 631.3 L695.5 631.3 L699.6 632.6 L697.0 634.5 L687.9 634.5 L687.2 633.2 Z"/>
<path d="M543.5 660.8 L551.1 660.8 L551.8 662.1 L549.6 664.1 L540.8 664.1 L539.4 662.6 Z"/>
<path d="M573.8 665.2 L579.5 665.2 L581.3 667.3 L579.6 669.6 L574.6 669.6 L573.0 666.8 Z"/>
<path d="M521.8 682.5 L526.0 682.5 L526.1 684.6 L525.7 685.8 L520.7 685.8 L519.9 684.2 Z"/>
<path d="M551.6 692.4 L562.3 692.4 L562.7 694.5 L561.7 695.6 L552.9 695.6 L550.2 694.4 Z"/>
<path d="M548.4 694.3 L550.7 694.3 L552.7 696.1 L552.1 697.6 L546.6 697.6 L546.5 695.5 Z"/>
<path d="M600.0 696.7 L604.6 696.7 L606.9 698.6 L606.2 701.1 L599.2 701.1 L598.6 699.0 Z"/>
<path d="M616.1 708.0 L621.9 708.0 L622.7 710.6 L620.4 713.4 L615.8 713.4 L614.4 710.0 Z"/>
<path d="M823.3 660.8 L827.8 660.8 L828.5 662.8 L828.2 664.1 L824.1 664.1 L822.3 662.2 Z"/>
<path d="M834.6 672.1 L838.8 672.1 L840.3 674.8 L839.3 676.5 L836.0 676.5 L834.1 674.5 Z"/>
<path d="M795.4 676.1 L799.9 676.1 L800.9 678.0 L799.7 680.4 L796.5 680.4 L794.7 678.1 Z"/>
<path d="M790.7 687.9 L795.9 687.9 L798.0 689.4 L797.2 692.2 L790.8 692.2 L789.8 690.5 Z"/>
<path d="M756.7 703.6 L761.9 703.6 L764.5 705.6 L764.4 708.0 L756.3 708.0 L756.3 705.6 Z"/>
<path d="M789.9 705.8 L793.8 705.8 L797.1 707.1 L796.6 709.0 L788.2 709.0 L786.7 707.5 Z"/>
<path d="M800.2 727.8 L807.1 727.8 L807.9 729.9 L806.5 731.1 L801.9 731.1 L799.6 729.6 Z"/>
<path d="M795.7 706.2 L801.4 706.2 L802.0 707.5 L800.8 709.4 L795.1 709.4 L793.7 707.4 Z"/>
<path d="M433.4 764.4 L439.6 764.4 L441.1 765.8 L439.7 767.1 L434.5 767.1 L433.4 765.9 Z"/>
<path d="M636.0 741.5 L641.4 741.5 L643.1 743.9 L641.0 745.6 L635.9 745.6 L635.3 743.1 Z"/>
<path d="M791.1 828.5 L797.6 828.5 L798.3 830.5 L796.8 832.5 L791.4 832.5 L790.5 830.9 Z"/>
<path d="M604.9 861.7 L610.6 861.7 L612.3 864.2 L612.2 865.8 L604.7 865.8 L604.5 863.4 Z"/>
<path d="M512.9 894.9 L516.2 894.9 L518.7 896.6 L517.1 897.6 L513.1 897.6 L510.9 896.4 Z"/>
<path d="M817.9 890.5 L820.3 890.5 L821.6 892.8 L820.1 894.6 L817.0 894.6 L816.4 892.8 Z"/>
<path d="M736.0 896.7 L741.4 896.7 L741.6 899.1 L740.7 900.8 L736.2 900.8 L733.9 899.0 Z"/>
<path d="M714.1 911.5 L718.5 911.5 L720.7 913.0 L719.7 915.5 L713.3 915.5 L712.9 913.6 Z"/>
<path d="M578.7 920.6 L584.0 920.6 L586.4 922.9 L586.2 924.6 L579.1 924.6 L578.7 922.0 Z"/>
<path d="M797.2 921.3 L802.1 921.3 L803.2 923.2 L801.5 925.4 L797.5 925.4 L795.4 923.7 Z"/>
<path d="M777.0 947.7 L781.2 947.7 L783.5 950.3 L783.0 951.7 L777.1 951.7 L775.7 949.8 Z"/>
<path d="M786.9 961.5 L792.8 961.5 L793.3 963.4 L792.5 965.5 L786.0 965.5 L785.6 963.5 Z"/>
<path d="M1146.9 367.9 L1155.6 367.9 L1155.6 369.8 L1153.8 371.9 L1148.0 371.9 L1146.3 369.4 Z"/>
<path d="M1219.7 366.4 L1223.8 366.4 L1224.2 367.9 L1222.9 370.5 L1219.7 370.5 L1219.6 367.9 Z"/>
<path d="M1241.1 363.8 L1247.3 363.8 L1248.7 365.8 L1247.3 367.1 L1243.1 367.1 L1240.9 365.2 Z"/>
<path d="M1275.9 392.5 L1283.2 392.5 L1286.5 393.7 L1284.6 395.8 L1276.4 395.8 L1274.1 393.7 Z"/>
<path d="M1334.1 388.1 L1339.2 388.1 L1339.5 390.2 L1338.6 392.2 L1333.9 392.2 L1333.3 389.8 Z"/>
<path d="M1312.3 436.5 L1318.4 436.5 L1321.1 438.0 L1318.4 439.8 L1313.5 439.8 L1311.8 438.1 Z"/>
<path d="M1372.4 424.3 L1379.4 424.3 L1381.3 425.7 L1380.0 427.5 L1373.0 427.5 L1368.9 425.5 Z"/>
<path d="M1386.7 419.5 L1394.4 419.5 L1396.0 421.1 L1393.8 422.0 L1387.5 422.0 L1386.7 420.5 Z"/>
<path d="M1315.8 436.8 L1319.0 436.8 L1322.1 438.1 L1321.1 440.1 L1315.8 440.1 L1312.8 438.3 Z"/>
<path d="M1238.5 481.6 L1242.3 481.6 L1243.7 482.9 L1242.5 484.0 L1237.6 484.0 L1237.5 482.7 Z"/>
<path d="M1249.5 483.1 L1253.1 483.1 L1254.0 484.4 L1252.1 485.5 L1249.8 485.5 L1247.8 484.3 Z"/>
<path d="M1341.0 514.4 L1350.5 514.4 L1351.7 516.3 L1348.5 517.7 L1341.6 517.7 L1339.3 515.9 Z"/>
<path d="M1280.3 528.5 L1285.7 528.5 L1288.1 530.1 L1286.7 531.7 L1279.5 531.7 L1278.8 530.2 Z"/>
<path d="M1374.3 405.0 L1381.1 405.0 L1381.6 407.0 L1381.2 408.3 L1373.8 408.3 L1372.3 406.4 Z"/>
<path d="M1372.8 424.7 L1380.5 424.7 L1381.7 425.8 L1378.8 427.9 L1370.3 427.9 L1369.3 426.8 Z"/>
<path d="M1390.5 417.6 L1395.8 417.6 L1397.1 419.8 L1394.4 421.7 L1388.0 421.7 L1387.8 419.7 Z"/>
<path d="M1438.5 433.5 L1447.3 433.5 L1447.4 434.7 L1446.1 435.9 L1439.8 435.9 L1438.0 434.7 Z"/>
<path d="M1543.3 472.6 L1550.0 472.6 L1550.8 474.4 L1549.1 476.7 L1544.5 476.7 L1543.0 474.9 Z"/>
<path d="M1546.8 480.4 L1555.9 480.4 L1556.0 482.5 L1555.0 484.5 L1546.7 484.5 L1546.7 483.0 Z"/>
<path d="M1569.7 510.6 L1576.5 510.6 L1576.7 512.9 L1575.0 514.6 L1569.9 514.6 L1567.4 513.0 Z"/>
<path d="M1474.6 555.5 L1479.2 555.5 L1480.4 557.5 L1479.3 558.8 L1474.5 558.8 L1474.2 556.8 Z"/>
<path d="M1311.3 610.7 L1318.5 610.7 L1320.0 612.3 L1318.9 613.9 L1309.9 613.9 L1309.6 611.9 Z"/>
<path d="M1299.9 615.0 L1303.7 615.0 L1304.1 618.3 L1303.7 621.5 L1299.0 621.5 L1297.9 619.0 Z"/>
<path d="M1388.2 620.5 L1394.7 620.5 L1397.8 622.4 L1395.3 623.8 L1388.5 623.8 L1387.4 622.6 Z"/>
<path d="M1338.3 628.9 L1340.9 628.9 L1342.5 630.8 L1341.5 633.2 L1336.4 633.2 L1336.3 630.7 Z"/>
<path d="M1446.0 630.4 L1451.2 630.4 L1451.9 632.5 L1449.9 634.8 L1445.7 634.8 L1443.6 632.8 Z"/>
<path d="M1495.7 642.6 L1501.1 642.6 L1503.2 644.4 L1501.4 645.9 L1495.7 645.9 L1492.9 644.3 Z"/>
<path d="M1336.1 656.5 L1338.8 656.5 L1340.5 659.1 L1339.8 661.9 L1336.3 661.9 L1334.3 659.5 Z"/>
<path d="M1300.1 664.3 L1304.4 664.3 L1307.1 666.0 L1306.9 668.7 L1301.2 668.7 L1298.8 667.1 Z"/>
<path d="M1458.3 671.8 L1465.8 671.8 L1465.8 673.5 L1464.8 675.0 L1455.6 675.0 L1455.4 673.6 Z"/>
<path d="M1603.5 581.1 L1610.1 581.1 L1611.5 582.7 L1610.3 584.4 L1603.7 584.4 L1603.3 583.2 Z"/>
<path d="M1568.4 511.2 L1575.8 511.2 L1576.1 512.9 L1574.2 514.4 L1568.7 514.4 L1567.8 512.3 Z"/>
<path d="M713.8 129.9 L719.2 129.9 L721.6 131.6 L719.9 132.6 L714.5 132.6 L711.3 131.6 Z"/>
<path d="M620.3 132.3 L623.2 132.3 L625.5 135.7 L625.3 137.7 L619.7 137.7 L617.7 135.8 Z"/>
<path d="M887.1 94.7 L893.3 94.7 L896.5 96.1 L893.3 97.4 L888.3 97.4 L886.2 96.0 Z"/>
<path d="M664.5 293.2 L672.4 293.2 L673.6 294.5 L670.8 295.9 L665.5 295.9 L663.2 294.7 Z"/>
<path d="M841.3 215.9 L846.7 215.9 L847.2 217.5 L846.7 220.0 L841.6 220.0 L839.4 217.6 Z"/>
<path d="M825.4 240.6 L830.6 240.6 L831.2 242.6 L829.4 244.6 L825.8 244.6 L823.4 242.6 Z"/>
<path d="M800.4 223.6 L803.6 223.6 L805.2 225.7 L803.9 227.6 L800.7 227.6 L800.1 226.1 Z"/>
<path d="M1213.9 88.7 L1218.7 88.7 L1219.4 91.8 L1218.3 94.1 L1214.7 94.1 L1213.0 90.8 Z"/>
<path d="M1405.7 104.3 L1410.0 104.3 L1412.2 108.8 L1410.5 112.4 L1407.0 112.4 L1404.4 108.3 Z"/>
<path d="M1310.4 146.4 L1320.6 146.4 L1322.4 147.8 L1319.4 149.1 L1311.0 149.1 L1309.5 147.4 Z"/>
<path d="M1246.6 207.0 L1255.6 207.0 L1255.9 208.5 L1253.7 209.7 L1244.1 209.7 L1243.0 208.0 Z"/>
<path d="M1348.2 207.0 L1358.2 207.0 L1360.6 208.5 L1358.1 209.7 L1348.0 209.7 L1347.7 208.6 Z"/>
<path d="M1403.1 175.5 L1409.3 175.5 L1411.0 176.8 L1410.7 178.2 L1402.5 178.2 L1400.7 176.8 Z"/>
<path d="M1397.2 179.9 L1407.1 179.9 L1407.3 181.3 L1405.4 182.6 L1398.8 182.6 L1397.0 181.0 Z"/>
<path d="M1187.2 235.8 L1196.6 235.8 L1196.7 237.0 L1194.0 238.5 L1187.3 238.5 L1186.4 237.4 Z"/>
<path d="M1267.0 256.3 L1279.5 256.3 L1281.8 257.3 L1277.2 259.0 L1270.8 259.0 L1266.3 257.5 Z"/>
<path d="M1292.0 256.8 L1299.3 256.8 L1301.4 258.4 L1298.4 259.5 L1293.0 259.5 L1291.1 257.8 Z"/>
<path d="M1285.6 294.9 L1295.5 294.9 L1297.8 296.1 L1295.2 297.7 L1287.2 297.7 L1284.9 296.7 Z"/>
<path d="M1393.0 299.9 L1400.0 299.9 L1402.5 301.3 L1399.1 302.6 L1392.7 302.6 L1389.5 301.1 Z"/>
<path d="M1624.5 262.4 L1633.6 262.4 L1637.5 264.0 L1635.9 265.6 L1621.1 265.6 L1620.9 263.8 Z"/>
<path d="M1604.6 266.5 L1608.1 266.5 L1610.6 268.0 L1610.5 269.8 L1604.9 269.8 L1602.3 268.6 Z"/>
<path d="M1581.7 268.3 L1588.2 268.3 L1589.8 269.5 L1587.3 271.6 L1581.6 271.6 L1581.5 270.4 Z"/>
<path d="M1617.3 291.2 L1624.2 291.2 L1626.5 292.4 L1624.2 294.5 L1617.0 294.5 L1616.1 292.6 Z"/>
<path d="M1693.3 306.0 L1699.9 306.0 L1700.6 307.1 L1699.8 308.2 L1693.4 308.2 L1690.2 307.2 Z"/>
<path d="M1390.9 299.7 L1401.5 299.7 L1402.2 300.6 L1399.9 301.9 L1393.1 301.9 L1389.7 300.8 Z"/>
<path d="M1520.7 304.1 L1525.9 304.1 L1527.6 305.4 L1526.7 307.3 L1521.3 307.3 L1519.3 306.0 Z"/>
<path d="M1595.2 312.3 L1601.5 312.3 L1602.7 313.5 L1601.8 314.5 L1594.0 314.5 L1592.4 313.5 Z"/>
<path d="M1582.7 317.9 L1588.3 317.9 L1590.9 318.6 L1589.1 320.1 L1582.0 320.1 L1580.5 318.8 Z"/>
<path d="M1660.5 313.8 L1669.5 313.8 L1674.0 315.5 L1669.0 317.0 L1660.5 317.0 L1657.4 315.2 Z"/>
<path d="M1679.7 313.0 L1687.5 313.0 L1688.8 314.2 L1685.8 316.2 L1677.9 316.2 L1676.3 314.6 Z"/>
<path d="M1651.4 324.4 L1661.0 324.4 L1661.1 325.4 L1659.0 326.6 L1652.7 326.6 L1650.7 325.8 Z"/>
<path d="M1627.4 330.8 L1630.7 330.8 L1633.3 332.3 L1632.5 334.0 L1627.5 334.0 L1625.0 332.2 Z"/>
<path d="M1505.3 332.1 L1511.8 332.1 L1514.8 334.0 L1514.0 335.4 L1505.7 335.4 L1504.4 333.3 Z"/>
<path d="M1598.5 333.1 L1603.5 333.1 L1605.7 334.5 L1603.8 336.4 L1596.8 336.4 L1595.3 335.2 Z"/>
<path d="M1626.7 347.4 L1632.9 347.4 L1634.3 349.0 L1633.5 350.6 L1626.5 350.6 L1626.0 349.2 Z"/>
<path d="M1601.6 350.5 L1611.2 350.5 L1611.6 352.3 L1609.8 353.8 L1601.8 353.8 L1601.3 352.0 Z"/>
<path d="M1688.6 344.0 L1698.8 344.0 L1702.7 346.0 L1701.4 347.3 L1692.6 347.3 L1688.1 345.7 Z"/>
<path d="M1684.9 348.9 L1689.8 348.9 L1690.7 350.4 L1688.6 352.2 L1683.5 352.2 L1682.4 350.5 Z"/>
<path d="M1702.5 347.4 L1708.0 347.4 L1708.4 349.2 L1706.5 350.6 L1702.6 350.6 L1700.1 349.4 Z"/>
<path d="M1596.0 359.4 L1600.6 359.4 L1602.7 360.4 L1601.9 361.6 L1596.8 361.6 L1594.4 360.7 Z"/>
<path d="M1611.8 362.4 L1618.2 362.4 L1621.6 363.8 L1617.7 365.6 L1611.2 365.6 L1609.1 363.7 Z"/>
<path d="M1593.0 371.7 L1599.3 371.7 L1602.8 373.5 L1601.8 374.9 L1591.7 374.9 L1590.3 373.3 Z"/>
<path d="M1601.5 404.4 L1611.1 404.4 L1613.7 405.2 L1613.3 406.6 L1604.0 406.6 L1601.2 405.5 Z"/>
<path d="M1639.4 409.8 L1645.6 409.8 L1646.2 411.1 L1645.1 412.0 L1638.3 412.0 L1637.9 411.2 Z"/>
<path d="M1391.5 417.1 L1394.8 417.1 L1397.1 419.3 L1395.4 420.4 L1391.3 420.4 L1388.8 418.5 Z"/>
<path d="M219.4 663.7 L230.4 663.7 L233.6 665.2 L231.7 666.9 L222.1 666.9 L219.2 665.3 Z"/>
<path d="M388.2 667.5 L395.0 667.5 L395.1 669.8 L392.7 673.0 L387.1 673.0 L386.8 670.7 Z"/>
<path d="M339.9 672.2 L346.4 672.2 L347.8 673.8 L345.1 675.4 L341.1 675.4 L339.5 673.4 Z"/>
<path d="M434.2 685.4 L437.9 685.4 L440.4 689.4 L438.4 693.0 L432.9 693.0 L432.1 690.1 Z"/>
<path d="M252.5 701.1 L257.8 701.1 L260.1 702.5 L257.4 704.4 L254.0 704.4 L251.8 703.0 Z"/>
<path d="M265.9 691.9 L272.7 691.9 L275.0 693.8 L274.8 695.1 L266.1 695.1 L262.6 693.4 Z"/>
<path d="M194.5 710.1 L202.3 710.1 L204.0 711.5 L200.9 712.3 L196.9 712.3 L193.6 711.4 Z"/>
<path d="M165.3 763.4 L171.6 763.4 L172.0 765.1 L170.9 766.7 L164.2 766.7 L163.7 765.4 Z"/>
<path d="M198.4 767.2 L200.9 767.2 L202.9 769.6 L202.8 771.5 L197.0 771.5 L196.7 769.1 Z"/>
<path d="M291.5 766.3 L300.9 766.3 L301.5 767.6 L300.1 768.5 L292.6 768.5 L291.2 767.5 Z"/>
<path d="M434.7 759.6 L439.3 759.6 L440.4 763.7 L438.2 766.1 L434.8 766.1 L432.1 763.1 Z"/>
<path d="M253.0 790.8 L260.7 790.8 L263.1 792.8 L261.1 794.0 L255.4 794.0 L252.8 792.5 Z"/>
<path d="M340.1 791.8 L345.1 791.8 L346.8 793.4 L345.5 796.2 L339.1 796.2 L338.5 794.5 Z"/>
<path d="M124.5 803.6 L133.0 803.6 L133.1 805.4 L130.7 806.8 L123.5 806.8 L120.7 805.5 Z"/>
<path d="M234.3 932.0 L240.6 932.0 L241.5 933.8 L239.9 936.4 L235.6 936.4 L232.9 933.9 Z"/>
<path d="M210.1 947.5 L217.5 947.5 L218.4 949.9 L215.9 953.4 L210.2 953.4 L209.9 950.1 Z"/>
<path d="M401.2 944.9 L411.1 944.9 L412.3 946.1 L409.2 947.9 L399.0 947.9 L398.1 946.7 Z"/>
<path d="M165.0 1001.8 L168.3 1001.8 L171.0 1003.0 L170.7 1004.8 L163.4 1004.8 L162.5 1003.0 Z"/>
<path d="M305.7 984.8 L310.8 984.8 L311.9 986.9 L311.0 989.3 L305.8 989.3 L303.4 987.6 Z"/>
<path d="M282.5 1052.5 L289.2 1052.5 L290.2 1055.2 L288.7 1057.0 L283.7 1057.0 L281.7 1055.1 Z"/>
<path d="M322.8 1056.8 L329.9 1056.8 L330.9 1058.2 L328.7 1059.8 L325.1 1059.8 L322.3 1058.5 Z"/>
<path d="M347.4 1102.6 L352.6 1102.6 L355.3 1104.9 L354.2 1107.1 L349.4 1107.1 L346.7 1105.4 Z"/>
<path d="M481.4 1108.9 L486.5 1108.9 L489.4 1111.0 L488.0 1113.3 L481.1 1113.3 L480.8 1111.0 Z"/>
<path d="M522.0 1070.9 L526.9 1070.9 L530.1 1071.9 L528.9 1073.8 L521.1 1073.8 L518.7 1072.2 Z"/>
<path d="M544.6 1079.6 L548.3 1079.6 L548.9 1081.6 L548.1 1084.1 L543.2 1084.1 L543.2 1082.2 Z"/>
<path d="M514.7 894.8 L525.3 894.8 L526.1 896.6 L523.8 897.7 L513.0 897.7 L511.9 895.9 Z"/>
<path d="M527.9 894.0 L537.2 894.0 L538.2 895.7 L534.7 896.9 L529.4 896.9 L526.8 895.8 Z"/>
<path d="M203.6 883.4 L215.2 883.4 L217.2 884.8 L216.7 886.4 L206.5 886.4 L203.0 885.2 Z"/>
<path d="M203.1 883.0 L205.7 883.0 L207.5 885.4 L206.2 888.9 L202.1 888.9 L201.9 885.5 Z"/>
<path d="M221.3 898.2 L225.4 898.2 L226.5 900.7 L225.4 904.1 L222.0 904.1 L220.8 901.5 Z"/>
<path d="M1063.4 478.5 L1066.3 478.5 L1067.7 480.8 L1065.8 484.6 L1062.8 484.6 L1061.8 482.1 Z"/>
<path d="M1114.2 525.1 L1119.9 525.1 L1121.8 527.2 L1120.1 529.2 L1116.1 529.2 L1114.1 526.9 Z"/>
<path d="M1124.6 524.2 L1129.6 524.2 L1131.1 525.7 L1130.2 528.3 L1125.1 528.3 L1123.3 525.6 Z"/>
<path d="M1165.4 531.5 L1170.7 531.5 L1172.7 532.9 L1171.5 534.6 L1164.4 534.6 L1163.0 532.9 Z"/>
<path d="M1248.6 587.0 L1256.7 587.0 L1260.5 588.7 L1258.0 590.0 L1251.2 590.0 L1246.9 588.3 Z"/>
<path d="M835.3 600.3 L838.2 600.3 L839.5 602.8 L839.3 604.3 L835.3 604.3 L834.4 601.8 Z"/>
<path d="M1084.7 598.5 L1090.6 598.5 L1093.3 599.9 L1091.4 601.2 L1086.0 601.2 L1083.0 599.6 Z"/>
<path d="M1055.0 652.0 L1057.7 652.0 L1059.4 654.1 L1057.6 656.1 L1055.0 656.1 L1052.9 654.5 Z"/>
<path d="M1128.7 646.3 L1133.2 646.3 L1133.9 648.7 L1132.2 650.4 L1128.7 650.4 L1126.2 648.1 Z"/>
<path d="M1182.2 671.2 L1192.2 671.2 L1193.2 672.5 L1191.8 673.9 L1182.6 673.9 L1180.2 672.7 Z"/>
<path d="M988.6 688.5 L992.6 688.5 L994.8 690.1 L993.3 692.5 L987.5 692.5 L987.0 690.0 Z"/>
<path d="M1053.7 700.5 L1060.3 700.5 L1061.3 703.0 L1060.9 704.6 L1055.2 704.6 L1053.5 702.5 Z"/>
<path d="M1110.1 706.9 L1114.7 706.9 L1118.0 708.0 L1114.8 709.6 L1110.0 709.6 L1107.6 708.5 Z"/>
<path d="M956.1 719.2 L961.3 719.2 L964.0 720.4 L963.1 721.9 L954.3 721.9 L953.7 720.3 Z"/>
<path d="M1047.2 727.1 L1052.1 727.1 L1052.6 729.2 L1051.3 731.2 L1047.0 731.2 L1044.9 728.6 Z"/>
<path d="M801.6 729.0 L810.0 729.0 L810.1 730.6 L807.6 731.7 L801.3 731.7 L799.8 730.8 Z"/>
<path d="M861.1 735.8 L864.8 735.8 L865.4 738.1 L865.0 739.8 L861.6 739.8 L860.2 738.3 Z"/>
<path d="M1111.0 747.6 L1116.0 747.6 L1116.7 750.0 L1116.1 751.6 L1110.1 751.6 L1108.9 749.5 Z"/>
<path d="M936.0 751.8 L941.3 751.8 L941.8 754.1 L940.6 755.8 L935.0 755.8 L934.1 753.6 Z"/>
<path d="M1191.9 785.2 L1198.7 785.2 L1199.3 786.3 L1197.4 787.9 L1192.3 787.9 L1188.9 786.4 Z"/>
<path d="M1087.1 802.2 L1096.4 802.2 L1098.3 803.6 L1094.7 804.9 L1088.1 804.9 L1085.4 803.5 Z"/>
<path d="M1015.8 777.8 L1026.2 777.8 L1028.1 779.3 L1024.8 780.5 L1017.4 780.5 L1015.2 778.8 Z"/>
<path d="M1043.9 776.4 L1046.2 776.4 L1047.7 778.0 L1047.1 780.5 L1042.5 780.5 L1042.5 778.0 Z"/>
<path d="M1042.7 792.9 L1047.8 792.9 L1050.2 795.4 L1047.8 797.0 L1043.4 797.0 L1042.4 795.2 Z"/>
<path d="M1053.1 794.9 L1058.8 794.9 L1060.0 796.6 L1059.9 798.9 L1054.2 798.9 L1052.3 796.8 Z"/>
<path d="M1019.4 802.3 L1024.7 802.3 L1026.8 804.5 L1025.7 807.7 L1020.9 807.7 L1019.0 805.4 Z"/>
<path d="M821.2 786.9 L831.8 786.9 L833.6 788.2 L832.2 789.6 L824.8 789.6 L820.6 788.2 Z"/>
<path d="M797.9 793.1 L801.1 793.1 L802.6 794.8 L802.3 795.8 L799.0 795.8 L797.4 794.2 Z"/>
<path d="M893.8 804.0 L899.6 804.0 L899.9 807.4 L898.4 809.5 L892.7 809.5 L892.2 806.1 Z"/>
<path d="M883.5 812.6 L887.1 812.6 L887.6 815.0 L887.5 816.7 L882.4 816.7 L882.4 815.0 Z"/>
<path d="M925.6 810.2 L929.9 810.2 L930.7 813.7 L930.5 815.6 L925.7 815.6 L925.5 813.7 Z"/>
<path d="M861.0 820.5 L864.9 820.5 L865.4 822.5 L865.0 824.5 L861.6 824.5 L860.2 822.2 Z"/>
<path d="M876.3 820.5 L881.4 820.5 L882.7 823.0 L880.7 824.5 L876.9 824.5 L874.9 822.7 Z"/>
<path d="M1188.7 689.1 L1193.4 689.1 L1193.9 691.1 L1193.4 693.1 L1186.8 693.1 L1186.1 691.2 Z"/>
<path d="M1311.6 739.6 L1317.3 739.6 L1318.3 742.1 L1316.2 745.0 L1312.3 745.0 L1310.5 741.5 Z"/>
<path d="M1349.1 720.3 L1355.0 720.3 L1356.4 722.1 L1354.0 724.4 L1348.9 724.4 L1348.7 722.6 Z"/>
<path d="M1486.0 695.9 L1492.6 695.9 L1495.7 697.2 L1493.0 698.6 L1486.4 698.6 L1485.3 696.9 Z"/>
<path d="M1584.3 718.6 L1588.0 718.6 L1589.1 720.7 L1588.6 722.7 L1584.5 722.7 L1584.0 720.4 Z"/>
<path d="M1383.2 749.3 L1390.8 749.3 L1393.4 750.6 L1393.4 752.0 L1384.5 752.0 L1383.1 750.4 Z"/>
<path d="M1322.1 761.2 L1334.2 761.2 L1334.4 762.8 L1332.6 763.9 L1322.9 763.9 L1321.5 762.6 Z"/>
<path d="M1189.9 785.3 L1200.0 785.3 L1201.4 786.9 L1200.1 788.0 L1190.4 788.0 L1188.5 787.0 Z"/>
<path d="M1299.6 805.0 L1306.5 805.0 L1309.7 806.2 L1309.1 807.7 L1302.7 807.7 L1299.4 806.0 Z"/>
<path d="M1336.2 820.1 L1342.1 820.1 L1342.9 822.7 L1340.5 825.6 L1336.3 825.6 L1335.1 822.7 Z"/>
<path d="M1318.1 827.7 L1321.2 827.7 L1321.9 829.3 L1320.2 831.8 L1318.1 831.8 L1316.7 829.3 Z"/>
<path d="M1311.2 840.5 L1317.9 840.5 L1318.3 842.9 L1316.1 844.6 L1311.1 844.6 L1310.5 843.1 Z"/>
<path d="M1213.5 837.0 L1221.1 837.0 L1222.3 838.2 L1220.2 839.7 L1215.4 839.7 L1211.9 838.3 Z"/>
<path d="M1375.6 888.5 L1380.5 888.5 L1383.6 889.6 L1380.9 891.2 L1374.0 891.2 L1373.3 890.2 Z"/>
<path d="M621.1 989.0 L626.8 989.0 L628.6 991.2 L628.0 994.4 L623.1 994.4 L620.8 992.5 Z"/>
<path d="M777.2 947.1 L783.0 947.1 L783.7 950.1 L783.7 952.6 L776.9 952.6 L776.0 949.2 Z"/>
<path d="M786.1 961.9 L791.8 961.9 L793.6 963.3 L793.0 965.9 L787.4 965.9 L785.8 963.8 Z"/>
<path d="M913.3 1011.9 L918.6 1011.9 L920.4 1014.3 L920.2 1015.9 L913.4 1015.9 L912.7 1013.9 Z"/>
<path d="M520.2 1070.9 L530.3 1070.9 L531.4 1072.1 L529.1 1073.6 L519.0 1073.6 L518.5 1071.9 Z"/>
<path d="M544.0 1080.1 L548.1 1080.1 L549.7 1082.4 L549.7 1084.2 L542.5 1084.2 L542.0 1081.9 Z"/>
<path d="M595.1 1087.7 L599.2 1087.7 L600.8 1089.2 L600.5 1091.8 L595.6 1091.8 L594.4 1089.2 Z"/>
<path d="M669.4 1092.4 L674.1 1092.4 L676.6 1095.0 L674.1 1096.5 L670.5 1096.5 L668.8 1094.5 Z"/>
<path d="M622.1 1099.3 L629.5 1099.3 L629.8 1101.2 L629.2 1103.4 L623.0 1103.4 L622.0 1100.8 Z"/>
<path d="M616.5 1130.8 L620.2 1130.8 L622.4 1131.8 L621.2 1133.5 L616.3 1133.5 L614.6 1132.1 Z"/>
<path d="M918.1 854.0 L924.1 854.0 L925.4 856.1 L924.4 857.5 L917.7 857.5 L915.5 855.6 Z"/>
<path d="M1060.0 877.6 L1067.9 877.6 L1068.3 879.0 L1065.7 881.0 L1059.3 881.0 L1058.4 879.0 Z"/>
<path d="M1093.1 877.6 L1100.9 877.6 L1104.5 879.3 L1102.8 881.0 L1091.9 881.0 L1091.3 879.0 Z"/>
<path d="M1214.1 836.8 L1219.0 836.8 L1222.2 838.8 L1221.4 840.2 L1215.3 840.2 L1212.3 838.0 Z"/>
<path d="M1214.2 857.2 L1224.4 857.2 L1226.9 858.5 L1224.7 860.6 L1215.0 860.6 L1213.8 859.0 Z"/>
<path d="M1351.3 829.8 L1357.9 829.8 L1360.4 831.2 L1358.9 833.3 L1348.9 833.3 L1347.2 831.2 Z"/>
<path d="M1063.0 925.0 L1068.9 925.0 L1071.4 926.5 L1071.4 928.5 L1064.4 928.5 L1061.5 926.5 Z"/>
<path d="M1092.6 927.2 L1098.6 927.2 L1099.7 928.7 L1098.2 930.7 L1089.9 930.7 L1089.8 928.8 Z"/>
<path d="M1225.3 969.6 L1231.5 969.6 L1234.7 970.9 L1232.0 973.1 L1225.8 973.1 L1224.8 970.8 Z"/>
<path d="M1344.0 947.6 L1350.1 947.6 L1350.9 949.4 L1350.7 951.1 L1342.6 951.1 L1341.0 948.9 Z"/>
<path d="M1376.2 887.9 L1383.4 887.9 L1383.9 889.9 L1381.2 891.4 L1376.7 891.4 L1374.0 889.5 Z"/>
<path d="M1267.3 1001.0 L1273.2 1001.0 L1274.0 1002.3 L1273.3 1004.5 L1266.7 1004.5 L1264.1 1002.7 Z"/>
<path d="M1304.1 1012.9 L1313.2 1012.9 L1314.9 1014.5 L1312.8 1016.4 L1303.9 1016.4 L1301.7 1014.3 Z"/>
<path d="M1209.6 1000.1 L1212.2 1000.1 L1214.2 1001.4 L1212.9 1003.5 L1208.3 1003.5 L1207.6 1001.8 Z"/>
<path d="M961.1 992.2 L969.5 992.2 L970.9 994.0 L970.6 995.7 L964.2 995.7 L961.0 994.3 Z"/>
<path d="M1021.7 994.1 L1027.6 994.1 L1030.6 996.0 L1029.7 997.6 L1023.2 997.6 L1020.7 995.8 Z"/>
<path d="M1258.7 1055.0 L1266.2 1055.0 L1269.3 1056.8 L1265.2 1058.5 L1257.1 1058.5 L1256.2 1056.3 Z"/>
<path d="M980.7 1059.1 L992.7 1059.1 L993.0 1060.4 L989.1 1062.6 L983.6 1062.6 L979.8 1060.7 Z"/>
<path d="M997.9 1065.5 L1002.2 1065.5 L1003.8 1067.5 L1001.6 1070.7 L997.8 1070.7 L997.2 1067.6 Z"/>
<path d="M1031.3 1070.1 L1039.8 1070.1 L1040.0 1071.4 L1038.0 1073.6 L1032.8 1073.6 L1030.1 1072.3 Z"/>
<path d="M989.1 1094.6 L994.2 1094.6 L996.0 1096.1 L995.0 1098.1 L987.2 1098.1 L986.1 1096.3 Z"/>
<path d="M1019.2 1112.5 L1031.0 1112.5 L1034.0 1114.6 L1031.7 1116.0 L1015.6 1116.0 L1014.2 1114.5 Z"/>
<path d="M1292.4 1113.4 L1299.6 1113.4 L1302.3 1115.2 L1300.4 1116.9 L1293.1 1116.9 L1289.1 1114.9 Z"/>
<path d="M1315.5 1114.7 L1326.4 1114.7 L1327.4 1116.2 L1325.1 1118.2 L1317.1 1118.2 L1314.3 1116.6 Z"/>
<path d="M1353.2 1119.7 L1357.1 1119.7 L1360.3 1121.5 L1357.5 1123.2 L1350.5 1123.2 L1350.5 1121.8 Z"/>
<path d="M1638.6 409.3 L1647.7 409.3 L1651.5 411.3 L1649.1 412.8 L1642.6 412.8 L1638.3 411.4 Z"/>
<path d="M1602.5 405.1 L1609.3 405.1 L1612.7 406.5 L1612.1 407.4 L1603.1 407.4 L1599.5 406.2 Z"/>
<path d="M1665.1 426.1 L1671.1 426.1 L1673.4 427.9 L1671.9 429.5 L1665.7 429.5 L1664.6 427.3 Z"/>
<path d="M1623.3 433.8 L1630.9 433.8 L1633.7 435.2 L1633.4 436.1 L1621.6 436.1 L1620.5 435.0 Z"/>
<path d="M1689.7 434.9 L1696.8 434.9 L1698.7 437.1 L1697.1 438.3 L1686.7 438.3 L1685.5 436.9 Z"/>
<path d="M1698.5 440.1 L1705.8 440.1 L1707.0 442.3 L1705.8 443.6 L1699.1 443.6 L1698.2 441.9 Z"/>
<path d="M1624.1 449.1 L1628.9 449.1 L1631.5 450.6 L1629.0 452.6 L1625.4 452.6 L1622.7 451.2 Z"/>
<path d="M1559.3 451.6 L1566.7 451.6 L1570.8 453.4 L1568.9 455.1 L1558.7 455.1 L1557.6 453.2 Z"/>
<path d="M1569.0 460.5 L1583.4 460.5 L1584.6 462.3 L1579.1 463.9 L1566.0 463.9 L1564.8 462.5 Z"/>
<path d="M1567.0 510.8 L1575.5 510.8 L1577.0 512.2 L1574.6 514.2 L1568.4 514.2 L1566.0 512.0 Z"/>
<path d="M1687.4 534.9 L1691.0 534.9 L1693.3 537.1 L1690.9 539.5 L1685.7 539.5 L1684.5 536.6 Z"/>
<path d="M1660.8 556.9 L1664.2 556.9 L1666.0 558.6 L1663.8 560.3 L1661.0 560.3 L1659.4 558.6 Z"/>
<path d="M1701.4 563.3 L1707.5 563.3 L1709.1 564.6 L1708.5 565.6 L1702.4 565.6 L1700.3 564.2 Z"/>
<path d="M1605.4 581.0 L1612.6 581.0 L1612.6 582.7 L1612.3 584.5 L1604.1 584.5 L1603.8 582.7 Z"/>
<path d="M1695.2 599.0 L1706.4 599.0 L1708.1 599.8 L1705.8 601.3 L1697.7 601.3 L1694.9 600.4 Z"/>
<path d="M1702.4 609.9 L1708.8 609.9 L1709.1 611.9 L1708.2 613.4 L1701.3 613.4 L1700.3 611.4 Z"/>
<path d="M1669.2 632.6 L1677.5 632.6 L1679.8 634.1 L1676.2 636.0 L1669.2 636.0 L1666.6 634.7 Z"/>
<path d="M1700.7 644.5 L1706.0 644.5 L1707.0 646.1 L1705.3 648.0 L1700.4 648.0 L1698.2 646.3 Z"/>
<path d="M1644.1 744.7 L1653.1 744.7 L1656.8 746.2 L1655.0 748.2 L1647.6 748.2 L1643.5 746.2 Z"/>
<path d="M1600.6 749.3 L1607.3 749.3 L1608.4 751.4 L1607.4 752.8 L1601.6 752.8 L1599.6 751.3 Z"/>
<path d="M1677.1 734.0 L1681.2 734.0 L1681.8 736.2 L1681.0 737.5 L1677.3 737.5 L1675.1 736.1 Z"/>
<path d="M1686.5 771.9 L1694.2 771.9 L1694.4 772.8 L1692.3 774.2 L1687.7 774.2 L1685.6 773.3 Z"/>
<path d="M1667.5 779.7 L1674.2 779.7 L1675.5 781.0 L1675.4 783.2 L1666.9 783.2 L1666.7 781.5 Z"/>
<path d="M1687.2 779.7 L1697.2 779.7 L1698.7 781.2 L1696.2 783.2 L1689.4 783.2 L1685.5 781.4 Z"/>
<path d="M1682.0 805.9 L1688.3 805.9 L1690.2 807.5 L1689.6 809.4 L1682.3 809.4 L1681.4 807.3 Z"/>
<path d="M1602.6 828.0 L1608.5 828.0 L1610.5 829.3 L1610.2 831.4 L1603.6 831.4 L1601.7 829.2 Z"/>
<path d="M1704.7 828.4 L1708.6 828.4 L1710.1 830.1 L1709.2 833.0 L1703.9 833.0 L1703.4 831.2 Z"/>
<path d="M419.9 398.3 L428.8 398.3 L429.2 399.7 L428.0 401.7 L420.5 401.7 L419.5 400.3 Z"/>
<path d="M467.1 421.4 L481.3 421.4 L481.7 422.7 L478.8 424.8 L466.7 424.8 L465.5 423.3 Z"/>
<path d="M478.7 428.5 L484.5 428.5 L487.7 430.0 L486.0 431.9 L478.7 431.9 L478.0 430.4 Z"/>
<path d="M528.0 415.9 L535.8 415.9 L537.0 417.7 L534.6 419.3 L530.4 419.3 L527.3 417.2 Z"/>
<path d="M591.2 402.9 L599.4 402.9 L600.1 405.0 L599.7 406.3 L592.9 406.3 L590.4 404.7 Z"/>
<path d="M393.1 428.5 L401.0 428.5 L404.6 430.1 L402.4 431.9 L394.8 431.9 L391.7 430.3 Z"/>
<path d="M375.2 438.3 L382.1 438.3 L384.5 439.7 L384.4 441.7 L376.2 441.7 L374.9 440.1 Z"/>
<path d="M399.6 438.3 L405.3 438.3 L409.3 440.3 L405.7 441.7 L399.4 441.7 L396.3 440.3 Z"/>
<path d="M427.9 439.9 L435.5 439.9 L436.9 441.9 L435.3 443.3 L430.1 443.3 L427.2 442.1 Z"/>
<path d="M579.2 397.4 L582.4 397.4 L584.6 399.0 L583.5 400.8 L578.5 400.8 L578.1 399.5 Z"/>
<path d="M1687.2 948.1 L1693.7 948.1 L1695.0 950.4 L1694.4 952.1 L1687.1 952.1 L1686.0 950.6 Z"/>
<path d="M1688.3 1085.4 L1697.7 1085.4 L1698.1 1086.7 L1696.7 1088.8 L1687.9 1088.8 L1687.8 1086.6 Z"/>
<path d="M1652.8 1056.4 L1657.7 1056.4 L1659.6 1058.3 L1656.6 1059.8 L1651.8 1059.8 L1650.6 1057.7 Z"/>
<path d="M1581.3 66.8 L1588.4 66.8 L1590.2 70.7 L1590.0 73.6 L1582.2 73.6 L1581.2 69.7 Z"/>
<path d="M1618.9 97.1 L1623.0 97.1 L1626.0 98.7 L1623.8 101.1 L1617.7 101.1 L1616.9 98.7 Z"/>
<path d="M1680.3 96.5 L1687.8 96.5 L1688.8 97.6 L1685.7 98.7 L1680.7 98.7 L1678.4 97.7 Z"/>
<path d="M1682.5 104.2 L1687.5 104.2 L1688.8 106.3 L1687.0 107.6 L1682.3 107.6 L1679.7 105.8 Z"/>
<path d="M1550.2 167.6 L1553.4 167.6 L1555.0 169.7 L1554.2 171.0 L1551.5 171.0 L1549.9 169.8 Z"/>
<path d="M1586.8 179.9 L1591.7 179.9 L1593.3 182.1 L1592.6 183.3 L1587.0 183.3 L1585.5 181.8 Z"/>
<path d="M1548.8 261.5 L1555.8 261.5 L1556.3 263.6 L1553.9 265.6 L1549.4 265.6 L1548.6 263.3 Z"/>
<path d="M1336.9 656.0 L1339.4 656.0 L1341.0 659.3 L1340.4 662.1 L1336.6 662.1 L1335.2 658.3 Z"/>
<path d="M1438.5 237.1 L1444.9 237.1 L1446.8 239.7 L1444.6 241.9 L1439.3 241.9 L1437.6 239.2 Z"/>
<path d="M1423.0 182.4 L1429.6 182.4 L1431.5 185.2 L1430.2 187.2 L1422.4 187.2 L1422.3 185.4 Z"/>
<path d="M1480.0 73.9 L1484.3 73.9 L1486.2 77.4 L1485.0 81.1 L1478.8 81.1 L1477.0 77.9 Z"/>
</g>
<path d="M1455.5 98.8 L1465.9 93.6 L1483.1 91.9 L1500.3 91.0 L1522.8 90.2 L1536.6 91.0 L1550.3 87.6 L1571.0 89.3 L1590.0 92.8 L1595.2 99.7 L1600.3 106.6 L1607.2 111.7 L1629.7 110.0 L1669.3 110.9 L1693.4 114.3 L1674.5 115.2 L1672.8 120.3 L1677.9 124.7 L1693.4 126.4 L1712.4 127.2 L1712.4 182.4 L1681.4 179.0 L1655.5 168.6 L1629.7 161.7 L1612.4 154.0 L1590.0 150.5 L1574.5 152.2 L1560.7 158.3 L1564.1 163.4 L1550.3 163.4 L1526.2 160.0 L1509.0 154.8 L1496.9 149.7 L1491.7 142.8 L1483.1 132.4 L1481.4 123.8 L1474.5 120.3 L1479.7 115.2 L1474.5 110.0 L1469.3 101.4 L1455.5 99.7 Z" fill="#6877cc" stroke="#686868" stroke-width="1.2"/>
<path d="M1574.5 191.0 L1595.2 184.1 L1612.4 178.1 L1629.7 180.7 L1655.5 181.6 L1664.1 185.9 L1684.8 192.8 L1712.4 191.0 L1712.4 204.8 L1703.8 206.6 L1698.6 216.9 L1709.0 229.0 L1703.8 235.9 L1681.4 237.6 L1684.8 230.7 L1677.9 227.2 L1652.1 225.5 L1636.6 222.1 L1633.1 216.9 L1619.3 210.0 L1612.4 204.8 L1574.5 203.1 L1572.8 197.9 Z" fill="#6877cc" stroke="#686868" stroke-width="1.2"/>
<path d="M118.0 958.6 L123.4 957.2 L131.5 953.2 L145.1 945.0 L161.3 947.7 L193.9 946.4 L207.4 946.4 L210.1 955.9 L221.0 961.3 L221.0 966.7 L239.9 969.4 L258.9 972.1 L277.8 978.9 L307.7 981.6 L323.9 984.3 L334.7 987.0 L361.8 988.4 L388.9 991.1 L416.0 993.8 L443.1 999.2 L456.7 1001.9 L454.0 1003.3 L429.6 1000.6 L388.9 996.5 L361.8 993.8 L340.2 992.4 L332.0 996.5 L334.7 1000.6 L323.9 1004.6 L318.5 1010.0 L318.5 1015.5 L307.7 1019.5 L294.1 1018.2 L296.8 1010.0 L286.0 1010.0 L269.7 1012.8 L253.5 1008.7 L239.9 1004.6 L221.0 1001.9 L199.3 999.2 L193.9 996.5 L183.0 993.8 L172.2 991.1 L150.5 988.4 L134.3 987.0 L118.0 987.0 Z" fill="#6877cc" stroke="#686868" stroke-width="1.2"/>
<g stroke="#000" stroke-width="0.9">
<circle cx="201.4" cy="632.1" r="11.6" fill="#e6960a"/>
<circle cx="212.0" cy="631.6" r="11.6" fill="#ffffc0"/>
<circle cx="164.5" cy="646.9" r="11.6" fill="#ffffc0"/>
<circle cx="263.0" cy="610.0" r="11.6" fill="#e6960a"/>
<circle cx="249.0" cy="608.7" r="11.6" fill="#e6960a"/>
<circle cx="250.0" cy="601.3" r="11.6" fill="#ffffc0"/>
<circle cx="272.9" cy="580.9" r="11.6" fill="#e6960a"/>
<circle cx="285.9" cy="588.5" r="11.6" fill="#e6960a"/>
<circle cx="301.7" cy="573.5" r="11.6" fill="#a50000"/>
<circle cx="332.0" cy="566.8" r="11.6" fill="#e6960a"/>
<circle cx="327.0" cy="562.4" r="11.6" fill="#e6960a"/>
<circle cx="335.2" cy="556.5" r="11.6" fill="#e6960a"/>
<circle cx="396.0" cy="550.8" r="11.6" fill="#e6960a"/>
<circle cx="479.8" cy="543.4" r="11.6" fill="#a50000"/>
<circle cx="472.4" cy="538.5" r="11.6" fill="#e6960a"/>
<circle cx="497.0" cy="528.7" r="11.6" fill="#e6960a"/>
<circle cx="490.1" cy="532.4" r="11.6" fill="#ffffc0"/>
<circle cx="501.9" cy="512.7" r="11.6" fill="#a50000"/>
<circle cx="490.1" cy="511.4" r="11.6" fill="#e6960a"/>
<circle cx="517.9" cy="507.7" r="11.6" fill="#a50000"/>
<circle cx="526.6" cy="493.0" r="11.6" fill="#ffffc0"/>
<circle cx="554.5" cy="497.3" r="11.6" fill="#ffffc0"/>
<circle cx="558.2" cy="494.9" r="11.6" fill="#a50000"/>
<circle cx="556.9" cy="470.2" r="11.6" fill="#e6960a"/>
<circle cx="560.6" cy="476.4" r="11.6" fill="#ffffc0"/>
<circle cx="577.9" cy="472.7" r="11.6" fill="#a50000"/>
<circle cx="576.7" cy="482.6" r="11.6" fill="#a50000"/>
<circle cx="555.7" cy="483.8" r="11.6" fill="#e6960a"/>
<circle cx="592.7" cy="476.4" r="11.6" fill="#e6960a"/>
<circle cx="606.2" cy="465.3" r="11.6" fill="#e6960a"/>
<circle cx="635.8" cy="462.9" r="11.6" fill="#e6960a"/>
<circle cx="654.2" cy="446.8" r="11.6" fill="#a50000"/>
<circle cx="650.5" cy="454.2" r="11.6" fill="#e6960a"/>
<circle cx="650.5" cy="424.7" r="11.6" fill="#a50000"/>
<circle cx="667.8" cy="419.8" r="11.6" fill="#a50000"/>
<circle cx="660.4" cy="432.1" r="11.6" fill="#a50000"/>
<circle cx="691.7" cy="397.6" r="11.6" fill="#ffffc0"/>
<circle cx="710.4" cy="377.1" r="11.6" fill="#a50000"/>
<circle cx="736.7" cy="365.6" r="11.6" fill="#a50000"/>
<circle cx="741.7" cy="379.1" r="11.6" fill="#ffffc0"/>
<circle cx="756.5" cy="354.5" r="11.6" fill="#a50000"/>
<circle cx="749.1" cy="359.4" r="11.6" fill="#e6960a"/>
<circle cx="747.8" cy="377.9" r="11.6" fill="#e6960a"/>
<circle cx="771.2" cy="354.5" r="11.6" fill="#ffffc0"/>
<circle cx="779.9" cy="356.9" r="11.6" fill="#e6960a"/>
<circle cx="789.7" cy="350.8" r="11.6" fill="#e6960a"/>
<circle cx="826.5" cy="352.4" r="11.6" fill="#e6960a"/>
<circle cx="824.7" cy="337.6" r="11.6" fill="#e6960a"/>
<circle cx="841.3" cy="328.4" r="11.6" fill="#a50000"/>
<circle cx="846.8" cy="324.7" r="11.6" fill="#e6960a"/>
<circle cx="859.8" cy="330.2" r="11.6" fill="#e6960a"/>
<circle cx="865.3" cy="317.3" r="11.6" fill="#e6960a"/>
<circle cx="845.0" cy="341.3" r="11.6" fill="#e6960a"/>
<circle cx="833.9" cy="346.8" r="11.6" fill="#e6960a"/>
<circle cx="893.0" cy="310.8" r="11.6" fill="#ffffc0"/>
<circle cx="907.8" cy="305.3" r="11.6" fill="#e6960a"/>
<circle cx="918.0" cy="304.3" r="11.6" fill="#e6960a"/>
<circle cx="899.5" cy="304.3" r="11.6" fill="#ffffc0"/>
<circle cx="955.8" cy="305.3" r="11.6" fill="#e6960a"/>
<circle cx="952.1" cy="304.3" r="11.6" fill="#e6960a"/>
<circle cx="945.7" cy="303.4" r="11.6" fill="#ffffc0"/>
<circle cx="986.3" cy="306.2" r="11.6" fill="#ffffc0"/>
<circle cx="978.0" cy="307.1" r="11.6" fill="#e6960a"/>
<circle cx="1029.7" cy="301.6" r="11.6" fill="#e6960a"/>
<circle cx="1005.7" cy="307.1" r="11.6" fill="#e6960a"/>
<circle cx="1020.5" cy="307.1" r="11.6" fill="#a50000"/>
<circle cx="998.3" cy="414.3" r="11.6" fill="#e6960a"/>
<circle cx="963.7" cy="451.5" r="11.6" fill="#e6960a"/>
<circle cx="965.7" cy="444.6" r="11.6" fill="#e6960a"/>
<circle cx="940.1" cy="445.6" r="11.6" fill="#e6960a"/>
<circle cx="916.5" cy="464.3" r="11.6" fill="#e6960a"/>
<circle cx="918.4" cy="451.5" r="11.6" fill="#e6960a"/>
<circle cx="914.5" cy="458.4" r="11.6" fill="#a50000"/>
<circle cx="897.7" cy="474.2" r="11.6" fill="#a50000"/>
<circle cx="885.9" cy="479.1" r="11.6" fill="#ffffc0"/>
<circle cx="861.3" cy="487.0" r="11.6" fill="#e6960a"/>
<circle cx="857.3" cy="483.1" r="11.6" fill="#e6960a"/>
<circle cx="837.6" cy="509.7" r="11.6" fill="#ffffc0"/>
<circle cx="839.6" cy="500.8" r="11.6" fill="#e6960a"/>
<circle cx="847.5" cy="486.0" r="11.6" fill="#e6960a"/>
<circle cx="825.8" cy="496.8" r="11.6" fill="#a50000"/>
<circle cx="814.0" cy="498.8" r="11.6" fill="#a50000"/>
<circle cx="823.8" cy="506.7" r="11.6" fill="#ffffc0"/>
<circle cx="816.0" cy="513.6" r="11.6" fill="#e6960a"/>
<circle cx="802.2" cy="516.6" r="11.6" fill="#ffffc0"/>
<circle cx="806.1" cy="510.6" r="11.6" fill="#e6960a"/>
<circle cx="794.3" cy="516.6" r="11.6" fill="#a50000"/>
<circle cx="786.4" cy="512.6" r="11.6" fill="#e6960a"/>
<circle cx="798.2" cy="538.2" r="11.6" fill="#ffffc0"/>
<circle cx="780.5" cy="542.2" r="11.6" fill="#a50000"/>
<circle cx="782.5" cy="532.3" r="11.6" fill="#e6960a"/>
<circle cx="786.4" cy="554.0" r="11.6" fill="#e6960a"/>
<circle cx="774.6" cy="557.9" r="11.6" fill="#e6960a"/>
<circle cx="729.3" cy="564.8" r="11.6" fill="#ffffc0"/>
<circle cx="745.0" cy="571.7" r="11.6" fill="#e6960a"/>
<circle cx="750.9" cy="567.8" r="11.6" fill="#e6960a"/>
<circle cx="727.3" cy="575.7" r="11.6" fill="#e6960a"/>
<circle cx="716.5" cy="579.6" r="11.6" fill="#a50000"/>
<circle cx="701.7" cy="583.5" r="11.6" fill="#e6960a"/>
<circle cx="689.9" cy="583.5" r="11.6" fill="#e6960a"/>
<circle cx="682.0" cy="601.3" r="11.6" fill="#e6960a"/>
<circle cx="774.2" cy="562.0" r="11.6" fill="#e6960a"/>
<circle cx="752.5" cy="568.9" r="11.6" fill="#e6960a"/>
<circle cx="742.7" cy="571.8" r="11.6" fill="#e6960a"/>
<circle cx="732.8" cy="575.8" r="11.6" fill="#e6960a"/>
<circle cx="716.1" cy="580.7" r="11.6" fill="#a50000"/>
<circle cx="701.3" cy="583.6" r="11.6" fill="#e6960a"/>
<circle cx="689.5" cy="583.6" r="11.6" fill="#e6960a"/>
<circle cx="676.7" cy="601.4" r="11.6" fill="#e6960a"/>
<circle cx="665.8" cy="613.2" r="11.6" fill="#a50000"/>
<circle cx="654.0" cy="615.2" r="11.6" fill="#e6960a"/>
<circle cx="650.0" cy="623.1" r="11.6" fill="#e6960a"/>
<circle cx="663.8" cy="632.9" r="11.6" fill="#e6960a"/>
<circle cx="654.0" cy="636.8" r="11.6" fill="#a50000"/>
<circle cx="661.9" cy="642.8" r="11.6" fill="#e6960a"/>
<circle cx="648.1" cy="650.6" r="11.6" fill="#a50000"/>
<circle cx="638.2" cy="654.6" r="11.6" fill="#ffffc0"/>
<circle cx="654.0" cy="667.4" r="11.6" fill="#ffffc0"/>
<circle cx="636.3" cy="660.5" r="11.6" fill="#e6960a"/>
<circle cx="642.2" cy="666.4" r="11.6" fill="#e6960a"/>
<circle cx="665.8" cy="650.6" r="11.6" fill="#ffffc0"/>
<circle cx="650.0" cy="678.2" r="11.6" fill="#e6960a"/>
<circle cx="677.6" cy="692.0" r="11.6" fill="#e6960a"/>
<circle cx="663.8" cy="692.0" r="11.6" fill="#e6960a"/>
<circle cx="673.7" cy="705.8" r="11.6" fill="#e6960a"/>
<circle cx="695.4" cy="715.7" r="11.6" fill="#e6960a"/>
<circle cx="673.7" cy="715.7" r="11.6" fill="#e6960a"/>
<circle cx="691.4" cy="723.5" r="11.6" fill="#ffffc0"/>
<circle cx="693.4" cy="729.5" r="11.6" fill="#e6960a"/>
<circle cx="675.7" cy="741.3" r="11.6" fill="#ffffc0"/>
<circle cx="686.5" cy="733.4" r="11.6" fill="#a50000"/>
<circle cx="693.4" cy="745.2" r="11.6" fill="#e6960a"/>
<circle cx="442.2" cy="876.6" r="11.6" fill="#ffffc0"/>
<circle cx="464.3" cy="875.3" r="11.6" fill="#a50000"/>
<circle cx="461.9" cy="871.6" r="11.6" fill="#a50000"/>
<circle cx="567.8" cy="850.7" r="11.6" fill="#e6960a"/>
<circle cx="554.2" cy="854.4" r="11.6" fill="#a50000"/>
<circle cx="569.0" cy="859.3" r="11.6" fill="#e6960a"/>
<circle cx="606.0" cy="844.5" r="11.6" fill="#a50000"/>
<circle cx="610.9" cy="846.3" r="11.6" fill="#e6960a"/>
<circle cx="666.3" cy="823.6" r="11.6" fill="#e6960a"/>
<circle cx="667.5" cy="811.3" r="11.6" fill="#e6960a"/>
<circle cx="693.4" cy="800.2" r="11.6" fill="#a50000"/>
<circle cx="686.0" cy="805.1" r="11.6" fill="#e6960a"/>
<circle cx="703.3" cy="810.8" r="11.6" fill="#e6960a"/>
<circle cx="732.8" cy="799.0" r="11.6" fill="#e6960a"/>
<circle cx="742.7" cy="791.6" r="11.6" fill="#e6960a"/>
<circle cx="724.2" cy="800.2" r="11.6" fill="#e6960a"/>
<circle cx="726.7" cy="793.5" r="11.6" fill="#a50000"/>
<circle cx="775.9" cy="781.7" r="11.6" fill="#ffffc0"/>
<circle cx="762.4" cy="780.5" r="11.6" fill="#e6960a"/>
<circle cx="736.5" cy="749.7" r="11.6" fill="#a50000"/>
<circle cx="730.3" cy="752.2" r="11.6" fill="#a50000"/>
<circle cx="752.5" cy="760.8" r="11.6" fill="#ffffc0"/>
<circle cx="759.9" cy="763.3" r="11.6" fill="#ffffc0"/>
<circle cx="763.6" cy="762.0" r="11.6" fill="#a50000"/>
<circle cx="780.8" cy="766.9" r="11.6" fill="#ffffc0"/>
<circle cx="677.4" cy="742.3" r="11.6" fill="#ffffc0"/>
<circle cx="693.4" cy="747.2" r="11.6" fill="#e6960a"/>
<circle cx="686.0" cy="734.9" r="11.6" fill="#a50000"/>
<circle cx="1167.7" cy="335.2" r="11.6" fill="#e6960a"/>
<circle cx="1188.7" cy="400.5" r="11.6" fill="#a50000"/>
<circle cx="1185.7" cy="382.8" r="11.6" fill="#e6960a"/>
<circle cx="1173.1" cy="375.4" r="11.6" fill="#ffffc0"/>
<circle cx="1172.4" cy="368.0" r="11.6" fill="#e6960a"/>
<circle cx="1169.5" cy="350.2" r="11.6" fill="#ffffc0"/>
<circle cx="1181.0" cy="355.9" r="11.6" fill="#a50000"/>
<circle cx="1213.8" cy="403.4" r="11.6" fill="#ffffc0"/>
<circle cx="1196.1" cy="394.6" r="11.6" fill="#ffffc0"/>
<circle cx="1197.5" cy="393.1" r="11.6" fill="#ffffc0"/>
<circle cx="1210.8" cy="416.7" r="11.6" fill="#e6960a"/>
<circle cx="1212.3" cy="425.6" r="11.6" fill="#ffffc0"/>
<circle cx="1215.3" cy="440.4" r="11.6" fill="#e6960a"/>
<circle cx="1230.0" cy="441.9" r="11.6" fill="#a50000"/>
<circle cx="1218.2" cy="431.5" r="11.6" fill="#e6960a"/>
<circle cx="1209.6" cy="424.4" r="11.6" fill="#ffffc0"/>
<circle cx="1218.4" cy="431.8" r="11.6" fill="#e6960a"/>
<circle cx="1212.5" cy="449.6" r="11.6" fill="#ffffc0"/>
<circle cx="1214.0" cy="443.6" r="11.6" fill="#e6960a"/>
<circle cx="1237.6" cy="473.2" r="11.6" fill="#a50000"/>
<circle cx="1224.3" cy="458.4" r="11.6" fill="#e6960a"/>
<circle cx="1230.2" cy="448.1" r="11.6" fill="#a50000"/>
<circle cx="1236.2" cy="461.4" r="11.6" fill="#e6960a"/>
<circle cx="1246.5" cy="465.8" r="11.6" fill="#e6960a"/>
<circle cx="1250.9" cy="464.3" r="11.6" fill="#a50000"/>
<circle cx="1258.3" cy="455.5" r="11.6" fill="#ffffc0"/>
<circle cx="1256.8" cy="471.7" r="11.6" fill="#ffffc0"/>
<circle cx="1262.8" cy="473.2" r="11.6" fill="#ffffc0"/>
<circle cx="1283.4" cy="470.2" r="11.6" fill="#e6960a"/>
<circle cx="1277.5" cy="476.2" r="11.6" fill="#a50000"/>
<circle cx="1286.4" cy="486.5" r="11.6" fill="#ffffc0"/>
<circle cx="1279.0" cy="486.5" r="11.6" fill="#a50000"/>
<circle cx="1283.4" cy="519.0" r="11.6" fill="#a50000"/>
<circle cx="1268.7" cy="498.3" r="11.6" fill="#e6960a"/>
<circle cx="1262.8" cy="499.8" r="11.6" fill="#ffffc0"/>
<circle cx="1283.4" cy="502.8" r="11.6" fill="#e6960a"/>
<circle cx="1264.2" cy="513.1" r="11.6" fill="#ffffc0"/>
<circle cx="1301.2" cy="523.4" r="11.6" fill="#ffffc0"/>
<circle cx="1304.1" cy="507.2" r="11.6" fill="#e6960a"/>
<circle cx="1311.5" cy="523.4" r="11.6" fill="#e6960a"/>
<circle cx="1324.8" cy="535.3" r="11.6" fill="#a50000"/>
<circle cx="1324.8" cy="526.4" r="11.6" fill="#e6960a"/>
<circle cx="1335.2" cy="532.3" r="11.6" fill="#e6960a"/>
<circle cx="1344.0" cy="536.7" r="11.6" fill="#ffffc0"/>
<circle cx="1355.9" cy="536.7" r="11.6" fill="#e6960a"/>
<circle cx="1349.9" cy="551.5" r="11.6" fill="#e6960a"/>
<circle cx="1372.1" cy="553.0" r="11.6" fill="#e6960a"/>
<circle cx="1386.9" cy="560.4" r="11.6" fill="#e6960a"/>
<circle cx="1401.7" cy="558.9" r="11.6" fill="#ffffc0"/>
<circle cx="1407.6" cy="561.9" r="11.6" fill="#a50000"/>
<circle cx="1349.9" cy="479.1" r="11.6" fill="#e6960a"/>
<circle cx="1364.7" cy="480.6" r="11.6" fill="#e6960a"/>
<circle cx="1389.8" cy="493.9" r="11.6" fill="#e6960a"/>
<circle cx="1376.5" cy="492.4" r="11.6" fill="#e6960a"/>
<circle cx="1407.6" cy="440.7" r="11.6" fill="#ffffc0"/>
<circle cx="1413.5" cy="440.7" r="11.6" fill="#e6960a"/>
<circle cx="1407.6" cy="462.9" r="11.6" fill="#e6960a"/>
<circle cx="1394.3" cy="465.8" r="11.6" fill="#e6960a"/>
<circle cx="1413.5" cy="482.1" r="11.6" fill="#e6960a"/>
<circle cx="1404.6" cy="501.3" r="11.6" fill="#a50000"/>
<circle cx="1416.4" cy="499.8" r="11.6" fill="#a50000"/>
<circle cx="1416.4" cy="522.0" r="11.6" fill="#e6960a"/>
<circle cx="1423.5" cy="438.4" r="11.6" fill="#ffffc0"/>
<circle cx="1409.5" cy="439.9" r="11.6" fill="#ffffc0"/>
<circle cx="1413.9" cy="442.9" r="11.6" fill="#e6960a"/>
<circle cx="1402.1" cy="453.2" r="11.6" fill="#e6960a"/>
<circle cx="1408.0" cy="463.5" r="11.6" fill="#e6960a"/>
<circle cx="1394.7" cy="465.0" r="11.6" fill="#e6960a"/>
<circle cx="1393.2" cy="472.4" r="11.6" fill="#e6960a"/>
<circle cx="1350.3" cy="478.3" r="11.6" fill="#e6960a"/>
<circle cx="1366.6" cy="479.8" r="11.6" fill="#e6960a"/>
<circle cx="1375.5" cy="491.6" r="11.6" fill="#e6960a"/>
<circle cx="1390.2" cy="494.6" r="11.6" fill="#e6960a"/>
<circle cx="1413.9" cy="484.2" r="11.6" fill="#e6960a"/>
<circle cx="1406.5" cy="502.0" r="11.6" fill="#a50000"/>
<circle cx="1418.3" cy="499.7" r="11.6" fill="#a50000"/>
<circle cx="1421.3" cy="521.2" r="11.6" fill="#e6960a"/>
<circle cx="1447.9" cy="525.6" r="11.6" fill="#e6960a"/>
<circle cx="1431.6" cy="528.6" r="11.6" fill="#e6960a"/>
<circle cx="1450.8" cy="538.9" r="11.6" fill="#e6960a"/>
<circle cx="1341.5" cy="536.0" r="11.6" fill="#ffffc0"/>
<circle cx="1354.8" cy="536.0" r="11.6" fill="#e6960a"/>
<circle cx="1305.9" cy="509.9" r="11.6" fill="#e6960a"/>
<circle cx="1323.6" cy="515.8" r="11.6" fill="#ffffc0"/>
<circle cx="1325.6" cy="533.5" r="11.6" fill="#a50000"/>
<circle cx="1311.8" cy="523.6" r="11.6" fill="#e6960a"/>
<circle cx="1329.6" cy="527.6" r="11.6" fill="#e6960a"/>
<circle cx="1343.3" cy="537.4" r="11.6" fill="#ffffc0"/>
<circle cx="1355.2" cy="537.4" r="11.6" fill="#e6960a"/>
<circle cx="1351.2" cy="551.2" r="11.6" fill="#e6960a"/>
<circle cx="1404.4" cy="570.0" r="11.6" fill="#a50000"/>
<circle cx="1398.5" cy="565.0" r="11.6" fill="#ffffc0"/>
<circle cx="1386.7" cy="563.1" r="11.6" fill="#e6960a"/>
<circle cx="1372.9" cy="555.2" r="11.6" fill="#e6960a"/>
<circle cx="1376.8" cy="567.0" r="11.6" fill="#e6960a"/>
<circle cx="1420.2" cy="590.6" r="11.6" fill="#e6960a"/>
<circle cx="1374.9" cy="500.0" r="11.6" fill="#e6960a"/>
<circle cx="1388.7" cy="501.0" r="11.6" fill="#e6960a"/>
<circle cx="1404.4" cy="503.9" r="11.6" fill="#a50000"/>
<circle cx="1418.2" cy="503.0" r="11.6" fill="#a50000"/>
<circle cx="1422.2" cy="521.7" r="11.6" fill="#e6960a"/>
<circle cx="1447.8" cy="525.6" r="11.6" fill="#e6960a"/>
<circle cx="1431.0" cy="528.6" r="11.6" fill="#e6960a"/>
<circle cx="1451.7" cy="541.4" r="11.6" fill="#e6960a"/>
<circle cx="1433.0" cy="549.3" r="11.6" fill="#e6960a"/>
<circle cx="1463.5" cy="555.2" r="11.6" fill="#e6960a"/>
<circle cx="1451.7" cy="563.1" r="11.6" fill="#ffffc0"/>
<circle cx="1459.6" cy="572.9" r="11.6" fill="#a50000"/>
<circle cx="1467.5" cy="571.9" r="11.6" fill="#e6960a"/>
<circle cx="1487.2" cy="575.9" r="11.6" fill="#a50000"/>
<circle cx="1509.9" cy="575.9" r="11.6" fill="#e6960a"/>
<circle cx="1539.4" cy="603.4" r="11.6" fill="#a50000"/>
<circle cx="1547.3" cy="590.6" r="11.6" fill="#e6960a"/>
<circle cx="1532.5" cy="593.6" r="11.6" fill="#e6960a"/>
</g>
<g stroke="#0000c0" stroke-width="1.4" fill="none">
<line x1="795.4" y1="65.6" x2="795.4" y2="1134.0"/>
<line x1="1525.0" y1="65.6" x2="1525.0" y2="1134.0"/>
<line x1="119.5" y1="151.8" x2="1710.5" y2="151.8"/>
<line x1="119.5" y1="880.6" x2="1710.5" y2="880.6"/>
</g>
<g font-size="22.8" fill="#000">
<text x="675" y="460.5">Tanlova</text>
<text x="541.3" y="631.3">Khadyta</text>
<text x="1143" y="303">Yada</text>
<text x="1419" y="409">Portsa</text>
</g>
<rect x="1405.5" y="845" width="241.5" height="268" fill="#fff"/>
<line x1="1404.8" y1="967" x2="1404.8" y2="993.5" stroke="#000" stroke-width="1.2"/>
<text x="1434.4" y="899.7" font-size="27.5" fill="#000" textLength="129" lengthAdjust="spacingAndGlyphs">Age Class</text>
<circle cx="1466.1" cy="931.2" r="11.8" fill="#ffffc0" stroke="#000" stroke-width="0.9"/>
<text x="1510.5" y="939.6" font-size="22" fill="#000" textLength="76.3" lengthAdjust="spacingAndGlyphs">&lt;100 yr</text>
<circle cx="1466.1" cy="974.5" r="11.8" fill="#e6960a" stroke="#000" stroke-width="0.9"/>
<text x="1510.5" y="982.8" font-size="22" fill="#000" textLength="108.0" lengthAdjust="spacingAndGlyphs">100-200 yr</text>
<circle cx="1466.1" cy="1017.4" r="11.8" fill="#a50000" stroke="#000" stroke-width="0.9"/>
<text x="1510.5" y="1023.3" font-size="22" fill="#000" textLength="81.3" lengthAdjust="spacingAndGlyphs">&gt; 200 yr</text>
<rect x="1110.5" y="1093" width="474" height="10.5" fill="#000" stroke="#000" stroke-width="1.5"/>
<rect x="1229.5" y="1094.6" width="118.5" height="8.2" fill="#fff" stroke="#000" stroke-width="0.8"/>
<g font-size="21" fill="#000" text-anchor="middle">
<text x="1111" y="1083.4">0</text><text x="1348" y="1083.4">30</text><text x="1581" y="1083.4">60</text>
</g>
<text x="1591.5" y="1104" font-size="20.5" fill="#000">Km</text>
</g>
<defs><clipPath id="iclip"><rect x="130.8" y="74.6" width="482.2" height="321.9"/></clipPath></defs>
<rect x="130.8" y="74.6" width="482.2" height="321.9" fill="#fff"/>
<g clip-path="url(#iclip)" stroke="#000" stroke-width="1.35" stroke-linejoin="round">
<path d="M129.8 212.9 L137.3 212.5 L143.4 209.8 L147.3 206.3 L151.3 205.0 L155.2 202.8 L157.0 198.5 L160.5 196.3 L167.0 195.4 L173.6 195.4 L175.3 192.3 L174.0 189.7 L171.8 187.1 L172.3 182.3 L174.0 180.1 L182.8 177.5 L181.9 179.7 L181.4 182.3 L184.1 183.2 L181.0 185.3 L179.3 188.4 L180.1 190.6 L184.1 192.3 L185.4 193.7 L191.1 191.9 L195.9 192.8 L198.5 194.1 L206.4 192.3 L212.9 190.2 L217.7 190.6 L219.0 191.9 L222.1 191.9 L226.0 189.7 L229.1 188.0 L228.7 184.9 L228.2 181.0 L231.3 177.9 L235.2 177.0 L238.3 180.5 L241.8 180.5 L243.1 176.6 L239.6 174.9 L239.2 171.8 L243.5 169.6 L250.1 169.2 L258.8 169.6 L263.2 167.9 L268.9 167.6 L263.2 166.5 L258.0 165.2 L250.1 165.7 L245.7 166.5 L237.0 167.9 L232.6 166.1 L230.0 164.4 L229.5 159.1 L230.9 153.4 L235.2 150.8 L241.4 147.3 L247.0 145.6 L247.5 143.4 L242.2 142.1 L233.5 142.9 L228.7 147.3 L224.7 151.7 L219.0 153.4 L213.4 156.9 L212.1 162.2 L211.6 164.4 L217.7 166.5 L219.0 169.6 L215.1 170.9 L209.9 173.5 L208.6 176.6 L209.0 180.5 L205.9 184.5 L200.2 184.9 L198.5 187.5 L192.8 187.5 L191.5 184.0 L189.3 181.0 L188.0 177.0 L185.4 172.2 L183.6 170.0 L182.8 167.9 L181.0 171.4 L177.5 172.7 L172.3 175.7 L167.0 176.2 L162.6 175.3 L160.5 172.7 L159.6 169.6 L158.3 166.1 L158.3 161.7 L159.6 157.4 L164.8 155.6 L171.4 153.0 L177.9 150.8 L182.3 148.2 L187.1 145.6 L190.6 141.2 L195.4 136.8 L200.2 133.3 L204.2 130.7 L208.6 128.5 L215.1 125.9 L221.7 124.1 L228.2 122.8 L235.7 121.1 L243.5 119.3 L249.2 118.9 L256.7 119.3 L262.3 119.8 L267.6 121.1 L272.0 122.4 L266.7 124.6 L274.1 125.0 L280.7 126.3 L289.5 127.2 L298.2 128.1 L306.1 130.7 L313.5 132.9 L316.6 135.9 L315.7 139.0 L311.3 140.3 L304.8 141.2 L293.8 139.9 L288.6 139.0 L282.0 137.7 L278.5 136.8 L280.7 140.3 L287.7 143.8 L288.6 147.7 L296.0 149.9 L300.4 150.8 L303.0 147.7 L311.3 147.3 L313.9 146.9 L311.3 142.9 L319.2 139.9 L322.7 139.4 L328.8 140.7 L329.7 135.9 L327.1 130.7 L331.0 130.2 L337.6 132.4 L339.7 133.7 L346.3 133.7 L352.9 132.4 L363.8 130.7 L370.4 128.5 L374.7 131.1 L385.7 130.2 L394.4 130.2 L398.8 128.1 L401.4 124.6 L407.5 125.0 L416.3 126.3 L425.0 128.1 L433.8 131.1 L437.3 129.8 L431.6 126.8 L428.5 123.7 L428.1 119.3 L432.9 114.9 L436.4 111.9 L440.3 110.1 L448.2 110.6 L453.4 112.3 L454.8 114.9 L452.1 118.4 L454.8 121.9 L453.4 126.3 L458.3 129.8 L456.9 134.6 L459.6 136.8 L463.5 133.7 L465.7 130.7 L462.2 128.1 L459.1 126.8 L460.0 122.8 L457.4 118.4 L463.5 116.7 L466.1 113.2 L470.9 114.1 L475.3 113.2 L479.7 114.9 L486.2 113.6 L489.3 108.4 L495.0 107.9 L503.7 106.6 L514.7 104.9 L516.9 101.8 L527.8 99.6 L538.7 98.3 L551.8 97.0 L565.0 96.1 L575.9 94.8 L586.8 92.2 L592.5 90.0 L599.9 91.8 L606.5 94.4 L621.8 95.3 L621.8 335.8 L608.7 335.3 L604.3 338.0 L602.1 341.0 L599.1 345.8 L600.8 351.1 L604.3 355.5 L609.6 359.8 L613.1 364.2 L621.8 368.6 L621.8 407.9 L595.6 407.9 L594.7 392.2 L595.6 388.7 L593.4 384.3 L589.0 383.4 L586.8 380.4 L584.6 377.3 L580.3 374.3 L577.6 371.2 L574.6 371.2 L573.7 375.1 L572.0 381.7 L570.2 388.3 L574.6 393.1 L575.9 399.2 L575.9 407.9 L565.8 407.9 L566.3 394.8 L567.6 386.1 L567.1 375.1 L565.0 366.4 L564.1 359.8 L561.5 355.9 L557.5 358.1 L553.1 360.7 L548.8 359.8 L549.6 353.3 L546.2 346.7 L543.1 343.2 L540.0 339.3 L538.7 334.5 L537.8 331.8 L534.3 330.5 L531.7 333.2 L527.8 334.0 L524.7 335.3 L520.3 334.9 L516.9 336.2 L514.7 341.5 L509.0 344.5 L503.7 350.2 L496.3 357.2 L491.5 359.8 L487.6 364.2 L487.1 371.6 L485.4 379.5 L485.4 384.8 L481.4 388.7 L478.4 390.9 L475.3 394.4 L471.4 390.9 L468.7 385.2 L466.6 379.1 L463.5 373.8 L460.9 366.4 L457.8 359.8 L455.6 352.0 L454.8 346.7 L454.8 340.2 L453.9 336.2 L451.7 338.0 L446.0 338.8 L440.3 335.8 L438.1 332.3 L441.6 331.0 L443.8 329.2 L436.0 326.6 L431.1 324.8 L429.4 321.3 L427.6 318.7 L418.5 319.6 L407.5 320.0 L405.3 319.6 L396.6 318.7 L387.0 317.0 L384.8 311.7 L382.6 311.3 L374.7 313.5 L369.0 312.2 L366.0 310.0 L361.2 307.8 L357.7 301.7 L355.1 298.2 L350.7 297.3 L348.5 299.0 L346.3 300.8 L348.1 305.2 L352.0 310.0 L355.5 313.5 L355.9 317.4 L358.5 321.3 L360.7 315.7 L362.0 319.2 L362.0 322.7 L366.0 324.0 L370.4 324.4 L374.7 323.5 L379.1 318.7 L381.7 315.2 L383.0 318.7 L383.0 322.2 L387.8 325.7 L393.5 327.0 L397.9 331.4 L395.7 336.7 L392.2 340.6 L389.2 346.7 L383.9 349.3 L378.2 352.8 L372.5 355.5 L366.0 358.5 L359.4 363.3 L350.7 367.7 L344.1 370.3 L335.4 373.0 L331.0 374.3 L326.6 374.3 L325.3 370.8 L323.6 363.3 L322.7 357.6 L318.8 352.0 L314.8 345.4 L309.6 338.8 L307.4 333.6 L304.3 326.2 L300.4 320.9 L296.0 316.1 L291.6 309.5 L289.0 306.5 L288.1 301.2 L286.4 306.5 L283.3 307.8 L281.6 305.6 L279.0 299.0 L278.1 300.8 L280.7 306.5 L284.2 311.7 L287.3 317.0 L291.6 324.8 L295.1 331.4 L299.1 338.0 L299.5 344.5 L304.8 351.1 L308.3 360.3 L313.5 365.1 L318.3 370.8 L323.1 374.7 L325.8 378.2 L331.0 384.3 L337.6 383.0 L346.3 381.3 L355.1 379.5 L360.7 378.2 L359.4 384.3 L358.5 389.6 L355.1 394.8 L352.4 400.1 L350.7 407.9 L127.7 407.9 L127.7 275.4 L132.0 274.1 L138.6 272.4 L143.0 270.2 L149.5 268.9 L158.3 268.9 L164.8 268.0 L174.0 268.4 L179.3 266.7 L181.4 267.1 L184.5 268.0 L182.3 270.6 L184.9 274.6 L182.3 278.5 L180.6 281.1 L185.4 284.6 L188.9 285.9 L194.1 285.9 L203.3 288.6 L208.6 293.4 L216.0 296.0 L221.7 297.3 L224.3 294.2 L223.9 289.9 L226.5 287.2 L232.6 285.9 L237.9 289.0 L245.7 291.6 L254.5 292.9 L263.2 294.7 L268.9 292.5 L275.5 292.1 L277.6 292.9 L286.0 292.9 L287.7 290.7 L289.5 286.4 L291.6 281.6 L293.4 276.7 L293.0 273.2 L294.7 269.7 L291.6 269.7 L287.7 268.9 L282.9 271.5 L278.5 271.9 L274.1 269.3 L270.2 268.9 L269.8 271.1 L264.5 271.1 L259.7 269.3 L256.2 268.0 L255.3 264.5 L251.8 262.3 L253.6 259.7 L251.0 257.5 L252.7 254.4 L251.4 253.6 L255.8 253.1 L262.3 253.1 L263.7 250.1 L262.8 249.2 L258.8 249.2 L254.0 252.3 L250.1 251.8 L245.7 250.9 L240.5 251.8 L236.5 252.3 L235.2 254.9 L238.3 258.4 L235.7 260.1 L241.4 262.8 L240.9 264.9 L237.4 265.8 L235.7 270.2 L233.0 268.9 L231.3 268.9 L230.0 265.4 L228.7 262.3 L227.4 260.1 L224.7 256.6 L221.2 253.6 L221.7 250.5 L221.2 246.6 L217.3 244.4 L212.9 241.8 L207.7 239.6 L202.9 236.5 L199.8 232.1 L196.3 230.4 L193.7 230.0 L190.2 231.7 L190.2 235.2 L191.5 237.4 L195.9 239.6 L199.8 244.8 L204.2 246.6 L206.8 248.8 L212.9 250.9 L217.3 254.0 L216.4 255.8 L210.7 253.1 L208.6 256.2 L211.2 259.3 L209.0 261.9 L206.4 264.1 L204.6 262.8 L205.9 260.1 L204.6 254.9 L201.6 254.0 L198.9 251.4 L195.9 249.6 L191.1 247.4 L185.4 244.4 L182.3 242.2 L181.4 239.6 L178.8 237.0 L174.9 235.6 L170.1 238.3 L166.6 239.6 L162.6 241.3 L158.3 240.0 L154.8 239.6 L150.0 241.8 L150.4 244.8 L150.4 246.6 L146.0 248.8 L140.8 250.5 L139.0 252.7 L136.4 255.8 L135.1 257.9 L127.7 259.3 Z" fill="#e0e0e0"/>
<path d="M184.1 81.3 L188.9 80.4 L197.6 80.8 L206.4 80.0 L215.1 78.6 L228.2 79.1 L241.4 78.6 L254.5 79.5 L245.7 83.0 L232.6 84.8 L230.4 87.0 L223.9 90.9 L217.3 93.1 L210.7 95.3 L204.2 93.1 L197.6 90.5 L193.2 87.8 L186.7 85.2 Z" fill="#e0e0e0"/>
<path d="M228.2 86.1 L239.2 87.0 L241.4 90.9 L232.6 91.8 Z" fill="#e0e0e0"/>
<path d="M173.1 259.3 L178.4 258.8 L179.3 252.7 L177.1 249.6 L172.3 250.9 L173.6 255.3 Z" fill="#e0e0e0"/>
<path d="M174.0 248.3 L177.5 248.8 L177.9 243.5 L177.1 241.8 L174.4 243.5 Z" fill="#e0e0e0"/>
<path d="M190.6 264.5 L195.0 262.8 L204.6 262.3 L202.4 266.2 L202.4 269.3 L199.4 268.9 L192.8 265.4 Z" fill="#e0e0e0"/>
<path d="M239.2 275.4 L243.5 275.0 L251.4 275.9 L247.9 276.7 L241.4 276.7 Z" fill="#e0e0e0"/>
<path d="M277.6 277.2 L280.7 275.4 L287.7 273.7 L285.1 277.2 L280.7 278.5 Z" fill="#e0e0e0"/>
<path d="M485.8 386.9 L488.4 388.3 L491.9 392.6 L494.5 397.9 L493.2 401.8 L488.9 404.0 L486.2 400.9 L485.4 394.8 Z" fill="#e0e0e0"/>
<path d="M215.6 179.2 L219.0 178.8 L218.6 176.6 L216.4 176.6 Z" fill="#e0e0e0"/>
<path d="M183.2 187.5 L188.0 186.2 L191.5 184.9 L190.6 188.4 L185.4 188.8 Z" fill="#e0e0e0"/>
<path d="M146.9 257.1 L150.8 257.9 L151.7 255.8 L149.1 255.3 Z" fill="#e0e0e0"/>
<path d="M129.8 187.1 L134.2 191.9 L136.8 195.4 L137.7 198.5 L143.8 199.3 L143.4 202.4 L140.3 205.0 L142.5 205.9 L136.4 207.7 L129.8 208.1 Z" fill="#e0e0e0"/>
<path d="M272.0 122.4 L266.7 124.6 L274.1 125.0 L280.7 126.3 L289.5 127.2 L298.2 128.1 L306.1 130.7 L313.5 132.9 L316.6 135.9 L315.7 139.0 L311.3 140.3 L304.8 141.2 L293.8 139.9 L288.6 139.0 L282.0 137.7 L278.5 136.8 L280.7 140.3 L287.7 143.8 L288.6 147.7 L296.0 149.9 L300.4 150.8 L303.0 147.7 L311.3 147.3 L313.9 146.9 L311.3 142.9 L319.2 139.9 L322.7 139.4 L328.8 140.7 L329.7 135.9 L327.1 130.7 L331.0 130.2 L337.6 132.4 L339.7 133.7 L346.3 133.7 L352.9 132.4 L363.8 130.7 L370.4 128.5 L374.7 131.1 L385.7 130.2 L394.4 130.2 L398.8 128.1 L401.4 124.6 L407.5 125.0 L416.3 126.3 L425.0 128.1 L433.8 131.1 L437.3 129.8 L431.6 126.8 L428.5 123.7 L428.1 119.3 L432.9 114.9 L436.4 111.9 L440.3 110.1 L448.2 110.6 L453.4 112.3 L454.8 114.9 L452.1 118.4 L454.8 121.9 L453.4 126.3 L458.3 129.8 L456.9 134.6 L459.6 136.8 L463.5 133.7 L465.7 130.7 L462.2 128.1 L459.1 126.8 L460.0 122.8 L457.4 118.4 L463.5 116.7 L466.1 113.2 L470.9 114.1 L475.3 113.2 L479.7 114.9 L486.2 113.6 L489.3 108.4 L495.0 107.9 L503.7 106.6 L514.7 104.9 L516.9 101.8 L527.8 99.6 L538.7 98.3 L551.8 97.0 L565.0 96.1 L575.9 94.8 L586.8 92.2 L592.5 90.0 L599.9 91.8 L606.5 94.4 L621.8 95.3 L621.8 212.9 L608.7 212.9 L599.9 209.8 L591.2 209.8 L583.8 205.5 L573.7 203.7 L566.3 202.8 L564.1 209.0 L565.0 211.2 L554.0 211.6 L547.5 209.0 L538.7 208.1 L532.2 209.8 L521.2 213.3 L518.2 215.1 L514.7 212.9 L510.3 212.0 L503.7 207.7 L499.4 206.8 L492.8 205.9 L486.2 207.7 L477.5 198.9 L470.9 194.5 L472.7 192.3 L462.2 195.4 L457.4 193.7 L457.8 191.0 L446.9 188.0 L438.1 187.5 L425.0 190.6 L421.5 191.0 L411.9 193.7 L405.3 194.1 L403.2 198.0 L403.2 202.4 L398.8 202.8 L404.9 207.7 L396.6 208.5 L390.0 206.3 L385.7 206.3 L379.1 209.0 L375.2 206.8 L368.2 204.2 L360.7 205.5 L357.2 204.6 L349.4 208.5 L348.5 212.0 L341.1 213.8 L342.8 217.7 L341.9 220.3 L348.9 226.5 L351.6 226.9 L346.3 229.5 L341.9 233.0 L344.1 239.6 L346.3 243.9 L348.9 247.0 L344.1 249.2 L340.2 247.0 L336.2 243.9 L331.0 242.6 L324.4 241.8 L320.1 239.6 L311.3 240.0 L306.9 237.4 L303.9 235.6 L300.4 233.9 L301.7 231.3 L303.9 227.3 L307.8 224.3 L303.4 223.8 L310.0 220.8 L311.8 212.9 L303.4 211.2 L291.2 208.5 L286.8 203.3 L275.5 202.0 L274.1 198.0 L278.5 195.8 L272.0 193.7 L271.5 186.7 L259.7 184.5 L257.5 179.2 L256.2 176.2 L258.8 169.6 L263.2 167.9 L268.9 167.6 L263.2 166.5 L258.8 165.2 L264.5 161.7 L274.1 154.7 L267.2 150.8 L269.8 149.1 L266.3 146.4 L268.0 142.5 L263.7 137.2 L267.6 133.7 L260.6 130.2 L262.8 128.1 Z" fill="#ffffc0"/>
<path d="M222.1 191.9 L236.1 191.9 L235.2 188.8 L229.1 188.0 L226.0 189.7 Z" fill="#ffffc0"/>
<path d="M362.9 118.0 L368.2 120.2 L376.9 121.1 L387.8 120.6 L383.5 117.1 L380.4 112.3 L383.5 109.7 L390.0 106.6 L396.6 103.6 L405.3 100.1 L416.3 97.9 L429.4 95.3 L438.1 93.5 L429.4 93.1 L416.3 94.8 L403.2 96.6 L392.2 99.2 L383.5 102.7 L376.9 106.6 L372.5 110.6 L368.2 113.2 L363.8 115.4 Z" fill="#ffffc0"/>
<path d="M391.3 121.9 L396.6 123.7 L401.0 124.1 L396.6 121.5 Z" fill="#ffffc0"/>
<path d="M347.6 126.3 L352.9 128.1 L350.7 125.9 Z" fill="#ffffc0"/>
<path d="M341.9 77.8 L355.1 76.0 L376.9 75.6 L398.8 76.5 L407.5 77.3 L390.0 79.5 L368.2 80.0 L350.7 79.1 Z" fill="#ffffc0"/>
<path d="M551.8 82.1 L573.7 80.4 L591.2 82.1 L595.6 86.5 L578.1 87.4 L560.6 85.6 Z" fill="#ffffc0"/>
<path d="M433.8 93.5 L442.5 95.3 L444.7 93.5 Z" fill="#ffffc0"/>
<path d="M263.2 249.6 L261.5 244.8 L258.0 242.6 L258.4 240.0 L261.5 238.3 L262.3 234.8 L266.3 232.6 L266.3 230.4 L270.7 226.9 L274.1 226.0 L277.6 227.8 L282.9 228.6 L279.0 231.3 L282.9 233.0 L283.8 235.6 L287.3 235.2 L291.2 233.0 L296.0 231.7 L300.4 226.5 L304.8 223.8 L307.8 224.3 L303.9 227.3 L301.7 231.3 L300.4 233.9 L303.9 235.6 L310.0 239.1 L314.8 241.8 L317.9 243.9 L318.3 247.9 L312.2 250.5 L306.9 250.1 L300.4 250.1 L295.1 249.2 L290.3 246.1 L285.1 246.1 L280.7 246.6 L274.1 249.6 L268.5 249.6 Z" fill="#fff"/>
<g fill="none" stroke-width="1.15">
<polyline points="186.3,171.8 191.1,165.2 190.2,159.5 189.3,154.3 197.6,148.2 199.8,143.4 205.5,139.0 212.9,132.4 217.3,130.2 226.0,127.6"/>
<polyline points="242.2,142.1 240.0,139.0 239.2,132.9 228.2,128.1 234.8,129.4 245.7,129.4 250.1,125.0 258.0,123.7 263.2,128.1"/>
<polyline points="147.3,206.3 154.8,211.2 161.8,213.3 172.3,215.5 169.6,221.6 162.6,227.3 167.0,229.1 166.6,236.5 169.2,238.3"/>
<polyline points="167.9,197.2 162.6,203.3 163.5,209.0 161.8,213.3"/>
<polyline points="174.4,189.7 179.7,190.2"/>
<polyline points="198.5,194.1 200.2,200.2 202.0,206.8 208.6,210.3 218.6,213.3 235.2,215.1"/>
<polyline points="189.3,209.8 196.7,216.4 193.2,221.6 182.3,222.1 178.4,222.1 169.6,221.6"/>
<polyline points="166.6,229.5 173.6,227.3 181.9,226.0 190.6,224.3 196.3,226.5 206.4,225.6 210.7,229.1 219.5,228.6 226.0,227.8 236.5,220.3"/>
<polyline points="196.7,216.4 202.0,215.5 210.7,217.3 219.5,219.9 235.2,218.1"/>
<polyline points="202.0,230.8 208.6,232.1 219.5,233.0 221.7,233.5 220.4,239.6 217.3,244.4"/>
<polyline points="220.4,239.6 226.0,244.8 234.4,244.8 236.5,249.2 228.2,251.4 226.0,254.9"/>
<polyline points="236.5,220.3 252.7,219.0 259.7,226.0 259.7,230.8"/>
<polyline points="252.7,219.0 261.0,219.5 267.6,226.5 266.3,230.4"/>
<polyline points="225.2,228.6 234.8,235.2 241.4,238.7 254.5,237.0 261.5,238.7"/>
<polyline points="234.4,244.8 236.5,249.2 250.1,247.4 252.7,249.2 258.8,246.1"/>
<polyline points="235.2,215.1 241.4,208.1 239.6,204.6 240.9,199.3 239.2,193.7 236.1,191.9"/>
<polyline points="239.6,204.6 254.5,203.7 269.8,205.5 275.5,202.0"/>
<polyline points="239.2,193.7 247.9,192.8 252.7,186.2 259.7,184.5"/>
<polyline points="228.7,184.5 241.4,183.6 252.7,186.2"/>
<polyline points="231.7,177.9 242.7,176.6 256.2,178.4"/>
<polyline points="317.9,248.3 326.6,250.1 332.3,256.2 330.6,262.3 332.3,267.1 321.4,267.6 311.3,268.9 302.6,268.9 296.5,268.9 294.7,272.4"/>
<polyline points="326.6,250.1 333.2,249.6 339.7,250.1"/>
<polyline points="332.3,256.2 339.7,259.7 346.3,261.9 350.2,261.9"/>
<polyline points="332.3,267.1 335.4,272.8 337.6,276.7 335.8,281.1 344.1,285.5 348.5,298.6"/>
<polyline points="372.1,266.7 379.1,263.6 386.5,262.8 396.6,266.7 404.0,269.7 403.2,278.9 401.0,285.5 402.7,292.1 406.2,292.9 411.0,301.2 405.8,305.2 411.0,310.9 405.8,319.6"/>
<polyline points="321.4,267.6 316.6,279.4 306.9,288.6 320.1,293.8 331.9,302.1 339.7,302.5 346.3,301.7"/>
<polyline points="296.5,280.2 293.4,284.2 293.8,286.8 306.9,288.6"/>
<polyline points="306.9,288.6 298.2,292.1 302.6,296.4 289.5,301.2"/>
<polyline points="293.4,276.7 296.5,280.2"/>
<polyline points="245.7,291.6 245.7,333.6 297.8,333.6"/>
<polyline points="186.7,284.6 181.4,291.2 177.9,297.7 180.1,319.2 188.4,327.0 202.0,329.2 241.4,344.5 241.4,342.3 245.7,342.3"/>
<polyline points="174.0,268.4 172.7,274.6 169.2,281.6 177.9,297.7"/>
<polyline points="188.4,327.0 162.6,344.5 154.8,345.8 150.8,346.7 141.2,338.8 127.7,329.2"/>
<polyline points="204.2,329.2 204.2,340.2 197.6,364.2 195.9,369.9 167.0,373.0 152.1,378.6 149.5,390.4"/>
<polyline points="241.4,344.5 236.1,362.0 232.6,373.8 239.2,390.4"/>
<polyline points="296.0,367.3 296.0,377.3 285.1,386.1 285.1,392.6"/>
<polyline points="232.6,373.8 241.4,386.1 254.5,388.3 267.6,386.9 285.1,386.9"/>
<polyline points="296.0,367.3 302.6,353.3 304.8,351.1"/>
<polyline points="315.7,366.4 324.4,374.7"/>
<polyline points="323.6,379.5 327.1,386.1 328.8,390.4 345.9,394.8 333.2,407.9"/>
<polyline points="285.1,386.9 293.8,390.4 302.6,394.8 320.1,399.2"/>
<polyline points="323.6,358.1 328.8,353.7 341.9,355.9 363.8,346.7 379.5,330.5 377.8,330.5 362.0,323.5"/>
<polyline points="364.7,357.2 368.6,357.2 363.8,346.7"/>
<polyline points="379.1,318.7 381.3,324.8 377.8,330.5"/>
<polyline points="407.5,300.8 426.3,299.0 428.1,294.2 439.4,290.3 442.5,281.1 447.3,278.9 449.1,272.4 462.2,268.0"/>
<polyline points="404.0,269.7 409.7,275.9 418.5,271.5 427.2,266.2 433.8,268.0 442.5,265.8 449.1,264.1 463.9,267.1"/>
<polyline points="434.6,326.2 440.3,323.5 446.9,323.1 442.9,317.4 450.8,307.8 460.0,298.6 462.6,293.8 466.1,288.6 460.0,281.1 476.6,274.6"/>
<polyline points="476.6,274.6 481.9,279.8 479.7,287.7 481.9,294.2 487.1,297.7 492.8,296.9 503.7,303.9 516.4,307.4 522.1,307.8 524.7,310.4 538.7,307.8 547.5,305.2 560.6,306.5 561.9,309.5"/>
<polyline points="486.7,303.9 499.4,310.0 508.1,311.7 522.1,314.4"/>
<polyline points="524.7,312.2 539.2,312.6"/>
<polyline points="524.7,335.3 525.6,324.8 522.1,322.7 525.6,315.2 530.0,319.6 539.6,320.5 540.5,324.8 538.3,329.2 540.0,338.0"/>
<polyline points="561.9,309.5 567.1,320.5 565.0,324.8 573.7,335.8 578.5,335.3"/>
<polyline points="574.1,340.6 565.0,343.7 562.8,348.9 567.1,357.6 569.3,383.9 567.6,386.1"/>
<polyline points="538.7,334.5 542.2,331.4 545.3,324.8 548.8,318.3 551.8,313.9 561.9,309.5"/>
<polyline points="574.1,340.6 578.9,335.3 583.3,331.8 586.8,338.0 593.4,344.5 602.1,353.3 606.9,363.3 606.5,368.6 602.1,379.5 593.4,384.3"/>
<polyline points="578.1,353.3 584.6,351.5 594.7,357.6 598.2,362.0 595.6,367.3 584.2,370.3 584.6,377.3"/>
<polyline points="598.2,362.0 606.5,366.4"/>
<polyline points="583.3,331.8 591.2,330.1 602.1,331.4 608.7,335.3"/>
<polyline points="520.3,214.6 530.0,220.3 534.3,230.8 551.8,236.5 560.6,242.6 573.7,243.5 595.6,247.9 606.5,244.4 621.8,241.8"/>
<polyline points="518.2,215.1 510.3,224.3 497.2,230.8 487.1,233.5 487.1,245.3 477.5,250.5 466.6,252.7 458.7,257.1 464.4,266.7 462.2,268.0"/>
<polyline points="368.2,248.3 381.3,249.2 381.3,233.0 392.7,230.4 403.2,235.6 407.5,239.6 420.2,238.7 425.5,242.2 433.8,250.9 439.0,248.8 445.6,245.3 460.0,240.9 487.1,242.2"/>
<polyline points="381.3,249.2 386.5,249.2 399.2,247.0 405.3,249.6 418.5,259.7 427.2,266.2"/>
<polyline points="433.8,250.9 444.7,252.7 446.9,257.1 458.7,257.1"/>
<polyline points="433.8,268.0 436.0,259.3 444.7,252.7"/>
<polyline points="368.2,248.3 372.1,266.7"/>
<polyline points="341.1,213.8 346.3,224.3 368.2,226.5 368.2,248.3"/>
<polyline points="136.4,243.1 150.4,244.4"/>
<polyline points="175.8,285.5 177.9,297.7"/>
<polyline points="127.7,294.2 140.8,303.0 162.6,316.1"/>
<polyline points="151.3,205.0 156.1,205.0 162.2,206.8 162.6,210.3"/>
<polyline points="161.8,213.3 164.4,213.3 163.1,210.7 161.8,210.7"/>
<polyline points="162.6,227.3 166.1,222.1 169.6,221.6"/>
<polyline points="178.4,222.1 182.3,224.7"/>
<polyline points="210.3,217.3 211.6,219.9 206.8,225.1"/>
<polyline points="218.6,213.3 213.8,216.4 210.7,217.3"/>
<polyline points="195.9,230.8 202.9,229.5 206.8,226.9 213.4,229.5 219.5,229.1"/>
<polyline points="205.1,232.1 208.6,233.5 219.5,233.5 222.1,237.4 218.6,240.9 213.4,242.2"/>
<polyline points="221.7,240.9 225.2,242.6 228.2,244.8 226.0,247.4 226.5,250.5"/>
<polyline points="228.2,244.8 234.4,244.8"/>
<polyline points="226.5,250.5 228.2,252.3 224.7,256.2"/>
<polyline points="234.4,244.8 237.0,249.2 235.7,250.1"/>
<polyline points="221.7,240.9 219.5,239.6"/>
<polyline points="259.7,184.5 257.1,178.4 256.2,176.2"/>
<polyline points="252.7,186.2 259.7,184.5"/>
<polyline points="226.0,189.7 236.1,191.9"/>
<polyline points="239.2,193.7 236.1,191.9"/>
<polyline points="269.8,205.5 276.3,202.4 286.8,203.3"/>
<polyline points="296.5,268.9 302.6,268.9 311.3,268.0"/>
<polyline points="293.4,276.7 295.6,275.4 296.5,280.2 306.1,283.7 316.6,279.4"/>
<polyline points="403.2,235.6 398.8,245.3 390.0,243.9 381.3,249.2"/>
<polyline points="392.7,230.4 392.7,241.8"/>
<polyline points="439.4,248.8 446.9,249.6 455.6,251.4 458.7,257.1"/>
<polyline points="445.6,245.3 444.7,252.7"/>
<polyline points="431.6,266.7 433.8,261.4 443.4,259.3 444.7,252.7"/>
<polyline points="127.7,329.2 127.7,342.3"/>
<polyline points="154.8,345.8 151.7,362.5 140.8,364.2 127.7,366.4"/>
<polyline points="195.9,369.9 199.8,375.1 197.6,381.7 202.0,390.4"/>
<polyline points="239.2,390.4 250.1,392.6 258.8,388.3"/>
<polyline points="285.1,386.9 280.7,394.8"/>
<polyline points="296.0,367.3 300.4,366.4 306.9,365.5 315.7,366.4"/>
<polyline points="341.9,355.9 350.7,348.0 363.8,346.7"/>
</g>
</g>
<rect x="433.3" y="125.5" width="19.5" height="18.8" fill="#e00000" stroke="#000" stroke-width="0.9"/>
<rect x="130.8" y="74.6" width="482.2" height="321.9" fill="none" stroke="#000" stroke-width="3"/>
<g clip-path="url(#iclip)" fill="none" stroke="#000" stroke-width="1.1">
<polyline points="159.6,172.8 159.6,171.5 160.0,168.2 157.4,168.9 157.5,165.3 159.9,163.8 159.3,161.7 159.1,159.2 159.6,160.0 159.7,158.1 161.9,155.4 163.9,156.5 164.2,154.1 167.6,154.9 168.8,155.5 170.4,155.0 171.0,154.0 172.8,153.8 175.9,150.6 175.1,150.4 179.4,150.6 179.8,149.3 180.9,148.7 181.8,148.5 184.2,148.6 186.1,147.8 188.3,147.1 188.8,143.0 190.6,144.1 191.9,141.4 192.5,139.2 194.1,139.2 193.5,136.5 196.6,138.4 195.7,136.6 198.4,133.4 199.6,134.2 202.8,131.0 203.2,130.1 204.9,130.1 206.9,131.5 207.1,130.8 207.9,127.1 210.5,126.3 210.9,126.9 213.8,125.4 213.6,127.1 216.2,126.9 219.7,124.6 219.9,124.6 222.1,124.4 223.5,124.2 226.4,123.5 226.4,123.8 227.4,122.2 231.2,122.5 231.4,120.6 232.4,122.0 232.6,121.8 236.1,119.7 237.6,120.6 239.4,119.9 241.1,120.8 240.4,118.3 244.1,120.8 244.6,119.0 247.6,118.4 248.8,118.3 250.7,119.3 252.3,118.7 255.7,117.7 256.9,120.1 257.9,118.6 261.4,118.8 261.3,119.5 264.7,118.9 265.3,120.1 268.7,120.9 270.2,120.4 270.0,122.4 272.0,122.4"/>
<polyline points="185.1,81.1 185.0,80.0 187.3,79.9 189.7,81.3 189.8,79.9 193.2,80.9 194.9,80.3 194.9,80.2 198.4,80.2 199.0,80.4 200.9,80.2 204.0,79.4 203.3,81.3 207.4,81.2 207.9,80.9 211.0,78.7 212.3,80.0 213.8,79.0 214.6,78.2 216.0,77.6 218.6,78.2 220.8,77.6 222.7,79.4 224.4,80.0 226.0,79.2 225.3,79.7 227.4,78.6 230.3,79.1 231.3,80.1 233.4,78.5 234.1,79.8 236.4,79.5 237.7,78.0 239.8,79.5 240.5,79.4 244.1,79.6 245.5,77.6 246.6,79.9 246.7,78.5 248.9,79.3 251.0,79.2 253.6,78.1 253.3,78.6 252.0,79.0 252.8,81.6 249.0,81.3 248.2,81.4 246.8,82.8 246.0,82.7 243.3,82.8 241.5,83.6 241.4,83.4 238.1,83.1 237.2,84.4 236.6,84.0 235.0,84.9 232.4,84.4 231.5,86.4 230.2,87.5 229.0,87.1 227.9,89.0 225.4,89.1 225.0,91.1 225.0,90.6 223.3,92.2 220.0,91.9 218.0,93.3 217.7,94.1 216.4,94.1 214.6,94.3 211.3,94.9 209.5,94.3 209.8,93.5 206.4,93.1 206.8,92.8 202.9,94.0 201.6,93.3 201.4,92.6 200.4,91.3 198.4,89.2 196.9,89.6 195.3,87.7 193.9,89.0 190.5,86.7 190.1,87.4 187.7,85.0 186.0,85.5 186.5,83.6 184.6,82.3 184.1,81.3"/>
<polyline points="280.4,126.2 281.6,126.5 285.2,126.5 286.5,126.2 288.1,127.5 289.8,127.2 291.2,127.6 293.7,126.8 293.9,128.2 297.3,127.9 298.1,128.5 299.1,128.1 300.7,129.3 302.6,129.1 304.9,131.1 305.7,131.1 307.4,131.8 309.2,131.1 310.0,131.0 312.0,132.2 313.5,132.9"/>
<polyline points="427.4,119.0 428.9,118.8 429.8,118.1 431.6,116.2 432.8,115.6 434.7,114.0 435.2,113.3 437.1,111.7 438.8,111.9 440.3,109.6 441.4,110.7 443.8,111.2 445.8,109.9 446.0,110.0 447.6,111.0 450.7,112.0 451.2,112.5 453.1,112.2 455.2,114.1 452.6,117.4 451.7,118.2 453.6,120.5 453.8,121.6 454.2,123.4 453.3,125.0 454.4,126.1 455.1,126.7 456.2,129.0 457.5,130.6 458.6,130.6 458.3,132.8 456.9,134.6"/>
<polyline points="464.0,134.3 464.2,132.6 466.0,131.3 463.5,129.9 463.1,128.4 460.7,126.6 459.1,126.5 460.0,125.1 460.1,122.2 459.4,121.6 457.6,120.7 457.7,117.7 459.8,117.3 460.1,118.0 462.2,117.2 463.8,116.6 464.4,114.3 465.3,113.6 468.2,113.6 469.8,113.5 470.5,113.8 473.9,112.7 475.3,112.7 477.3,113.5 477.9,114.2 479.8,115.5 481.0,115.3 482.2,113.8 483.8,113.2 486.8,114.1 486.4,111.7 487.6,111.5 489.2,110.2 489.5,107.7 491.0,107.6 493.1,108.2 495.0,107.9"/>
</g>
<rect x="130.8" y="74.6" width="482.2" height="321.9" fill="none" stroke="#000" stroke-width="3"/>
<rect x="119.1" y="65.2" width="1591.8" height="1069.2" fill="none" stroke="#0000c0" stroke-width="2.0"/>
<rect x="120.5" y="66.6" width="1589.0" height="1066.4" fill="none" stroke="#000010" stroke-width="1.0"/>
<g stroke="#0000c0" stroke-width="1.4">
<line x1="795.4" y1="48.5" x2="795.4" y2="67.6"/>
<line x1="1525.0" y1="48.5" x2="1525.0" y2="67.6"/>
<line x1="795.4" y1="1134.0" x2="795.4" y2="1152"/>
<line x1="1525.0" y1="1113.0" x2="1525.0" y2="1152"/>
<line x1="102" y1="151.8" x2="119.5" y2="151.8"/>
<line x1="102" y1="880.6" x2="119.5" y2="880.6"/>
<line x1="1710.5" y1="151.8" x2="1728" y2="151.8"/>
<line x1="1710.5" y1="880.6" x2="1728" y2="880.6"/>
</g>
<g font-size="24" fill="#0000c0">
<text x="806" y="33" text-anchor="middle">70°E</text>
<text x="1530" y="33" text-anchor="middle">71°E</text>
<text x="806" y="1173.3" text-anchor="middle">70°E</text>
<text x="1521" y="1173.3" text-anchor="middle">71°E</text>
<text transform="translate(74 151.8) rotate(-90)" text-anchor="middle">68°N</text>
<text transform="translate(74 884.6) rotate(-90)" text-anchor="middle">67°N</text>
<text transform="translate(1749.5 151.8) rotate(-90)" text-anchor="middle">68°N</text>
<text transform="translate(1749.5 884.6) rotate(-90)" text-anchor="middle">67°N</text>
</g>
<text x="84" y="12.8" font-size="24" fill="#000">a.</text>
<defs><clipPath id="pclip"><rect x="118.5" y="1333.3" width="1565.0" height="1044.0"/></clipPath></defs>
<g stroke-width="1" fill="none">
<line x1="148.0" y1="1333.3" x2="148.0" y2="2377.3" stroke="#ebebeb" stroke-width="1"/>
<line x1="250.2" y1="1333.3" x2="250.2" y2="2377.3" stroke="#d9d9d9" stroke-width="1.4"/>
<line x1="352.4" y1="1333.3" x2="352.4" y2="2377.3" stroke="#ebebeb" stroke-width="1"/>
<line x1="454.6" y1="1333.3" x2="454.6" y2="2377.3" stroke="#d9d9d9" stroke-width="1.4"/>
<line x1="556.8" y1="1333.3" x2="556.8" y2="2377.3" stroke="#ebebeb" stroke-width="1"/>
<line x1="659.1" y1="1333.3" x2="659.1" y2="2377.3" stroke="#d9d9d9" stroke-width="1.4"/>
<line x1="761.3" y1="1333.3" x2="761.3" y2="2377.3" stroke="#ebebeb" stroke-width="1"/>
<line x1="863.5" y1="1333.3" x2="863.5" y2="2377.3" stroke="#d9d9d9" stroke-width="1.4"/>
<line x1="965.7" y1="1333.3" x2="965.7" y2="2377.3" stroke="#ebebeb" stroke-width="1"/>
<line x1="1067.9" y1="1333.3" x2="1067.9" y2="2377.3" stroke="#d9d9d9" stroke-width="1.4"/>
<line x1="1170.1" y1="1333.3" x2="1170.1" y2="2377.3" stroke="#ebebeb" stroke-width="1"/>
<line x1="1272.3" y1="1333.3" x2="1272.3" y2="2377.3" stroke="#d9d9d9" stroke-width="1.4"/>
<line x1="1374.6" y1="1333.3" x2="1374.6" y2="2377.3" stroke="#ebebeb" stroke-width="1"/>
<line x1="1476.8" y1="1333.3" x2="1476.8" y2="2377.3" stroke="#d9d9d9" stroke-width="1.4"/>
<line x1="1579.0" y1="1333.3" x2="1579.0" y2="2377.3" stroke="#ebebeb" stroke-width="1"/>
<line x1="1681.2" y1="1333.3" x2="1681.2" y2="2377.3" stroke="#d9d9d9" stroke-width="1.4"/>
<line x1="118.5" y1="2377.3" x2="1683.5" y2="2377.3" stroke="#d9d9d9" stroke-width="1.4"/>
<line x1="118.5" y1="2314.0" x2="1683.5" y2="2314.0" stroke="#ebebeb" stroke-width="1"/>
<line x1="118.5" y1="2250.7" x2="1683.5" y2="2250.7" stroke="#d9d9d9" stroke-width="1.4"/>
<line x1="118.5" y1="2187.3" x2="1683.5" y2="2187.3" stroke="#ebebeb" stroke-width="1"/>
<line x1="118.5" y1="2124.0" x2="1683.5" y2="2124.0" stroke="#d9d9d9" stroke-width="1.4"/>
<line x1="118.5" y1="2060.7" x2="1683.5" y2="2060.7" stroke="#ebebeb" stroke-width="1"/>
<line x1="118.5" y1="1997.4" x2="1683.5" y2="1997.4" stroke="#d9d9d9" stroke-width="1.4"/>
<line x1="118.5" y1="1934.0" x2="1683.5" y2="1934.0" stroke="#ebebeb" stroke-width="1"/>
<line x1="118.5" y1="1870.7" x2="1683.5" y2="1870.7" stroke="#d9d9d9" stroke-width="1.4"/>
<line x1="118.5" y1="1807.4" x2="1683.5" y2="1807.4" stroke="#ebebeb" stroke-width="1"/>
<line x1="118.5" y1="1744.1" x2="1683.5" y2="1744.1" stroke="#d9d9d9" stroke-width="1.4"/>
<line x1="118.5" y1="1680.7" x2="1683.5" y2="1680.7" stroke="#ebebeb" stroke-width="1"/>
<line x1="118.5" y1="1617.4" x2="1683.5" y2="1617.4" stroke="#d9d9d9" stroke-width="1.4"/>
<line x1="118.5" y1="1554.1" x2="1683.5" y2="1554.1" stroke="#ebebeb" stroke-width="1"/>
<line x1="118.5" y1="1490.8" x2="1683.5" y2="1490.8" stroke="#d9d9d9" stroke-width="1.4"/>
<line x1="118.5" y1="1427.4" x2="1683.5" y2="1427.4" stroke="#ebebeb" stroke-width="1"/>
<line x1="118.5" y1="1364.1" x2="1683.5" y2="1364.1" stroke="#d9d9d9" stroke-width="1.4"/>
</g>
<g clip-path="url(#pclip)" fill="none" stroke-width="1.65">
<path stroke="#ffab00" d="M74.9 2377.3H117.4M92.0 2376.7H117.4"/>
<path stroke="#4cb33b" d="M91.8 2376.0H117.4"/>
<path stroke="#ffab00" d="M110.0 2375.4H128.1"/>
<path stroke="#58258a" d="M91.7 2374.8H141.6M122.6 2374.1H155.1"/>
<path stroke="#4cb33b" d="M138.2 2373.5H162.4"/>
<path stroke="#ffab00" d="M141.9 2372.9H167.9M143.0 2372.2H173.4"/>
<path stroke="#4cb33b" d="M122.9 2371.6H178.9M164.3 2371.0H184.5"/>
<path stroke="#58258a" d="M156.5 2370.3H190.0"/>
<path stroke="#ffab00" d="M183.5 2369.7H195.5"/>
<path stroke="#4cb33b" d="M187.2 2369.1H201.0"/>
<path stroke="#ffab00" d="M184.6 2368.4H206.2"/>
<path stroke="#4cb33b" d="M189.6 2367.8H208.4"/>
<path stroke="#58258a" d="M193.9 2367.2H210.7"/>
<path stroke="#4cb33b" d="M199.0 2366.5H212.9"/>
<path stroke="#2290ab" d="M187.3 2365.9H215.1"/>
<path stroke="#4cb33b" d="M197.3 2365.3H217.3"/>
<path stroke="#ffab00" d="M186.2 2364.6H219.5M202.7 2364.0H221.8M196.2 2363.4H224.0M206.1 2362.7H226.2M206.7 2362.1H228.4"/>
<path stroke="#58258a" d="M215.7 2361.5H230.6"/>
<path stroke="#4cb33b" d="M205.1 2360.8H232.9"/>
<path stroke="#ffab00" d="M189.4 2360.2H235.1M203.7 2359.6H237.3"/>
<path stroke="#4cb33b" d="M218.6 2358.9H239.6"/>
<path stroke="#ffab00" d="M214.4 2358.3H242.6"/>
<path stroke="#58258a" d="M230.0 2357.7H245.5"/>
<path stroke="#4cb33b" d="M205.6 2357.0H248.5M237.7 2356.4H251.5"/>
<path stroke="#58258a" d="M236.7 2355.8H254.5"/>
<path stroke="#ffab00" d="M229.7 2355.1H257.4M240.6 2354.5H260.4"/>
<path stroke="#58258a" d="M244.6 2353.9H263.4"/>
<path stroke="#ffab00" d="M248.2 2353.2H266.3M235.5 2352.6H269.3"/>
<path stroke="#2290ab" d="M242.6 2352.0H272.3"/>
<path stroke="#ffab00" d="M258.6 2351.3H273.8M226.2 2350.7H275.2M257.4 2350.1H276.6M239.8 2349.4H278.0M234.9 2348.8H279.4M259.5 2348.2H280.8M268.4 2347.5H282.1M263.8 2346.9H283.5M264.6 2346.3H284.9"/>
<path stroke="#58258a" d="M257.6 2345.6H286.0"/>
<path stroke="#4cb33b" d="M254.4 2345.0H286.8"/>
<path stroke="#ffab00" d="M251.3 2344.4H287.6"/>
<path stroke="#58258a" d="M270.7 2343.7H288.5"/>
<path stroke="#4cb33b" d="M259.1 2343.1H289.3"/>
<path stroke="#ffab00" d="M271.4 2342.5H290.1"/>
<path stroke="#4cb33b" d="M270.6 2341.8H291.0"/>
<path stroke="#ffab00" d="M254.1 2341.2H291.8M270.5 2340.6H292.6M272.0 2339.9H293.5M273.1 2339.3H294.3"/>
<path stroke="#4cb33b" d="M265.9 2338.7H295.4M272.2 2338.0H296.6"/>
<path stroke="#58258a" d="M263.4 2337.4H297.9"/>
<path stroke="#4cb33b" d="M281.8 2336.8H299.1"/>
<path stroke="#58258a" d="M267.2 2336.1H300.4"/>
<path stroke="#2290ab" d="M278.6 2335.5H301.7"/>
<path stroke="#ffab00" d="M273.8 2334.9H302.9M280.5 2334.2H304.2"/>
<path stroke="#4cb33b" d="M284.9 2333.6H305.4"/>
<path stroke="#ffab00" d="M280.7 2333.0H306.7M289.2 2332.3H307.9M279.7 2331.7H309.2M243.8 2331.1H310.5"/>
<path stroke="#4cb33b" d="M275.2 2330.4H311.7"/>
<path stroke="#ffab00" d="M269.2 2329.8H313.0M299.7 2329.2H314.1M280.3 2328.5H315.1"/>
<path stroke="#4cb33b" d="M283.1 2327.9H316.2"/>
<path stroke="#ffab00" d="M281.4 2327.3H317.2"/>
<path stroke="#58258a" d="M295.1 2326.6H318.3"/>
<path stroke="#ffab00" d="M294.4 2326.0H319.4M301.5 2325.4H320.4M301.8 2324.7H321.5M255.7 2324.1H322.5M278.2 2323.5H323.6M306.1 2322.8H324.6M309.3 2322.2H325.7M299.2 2321.6H326.7M306.8 2320.9H327.8M293.9 2320.3H328.9M280.9 2319.7H329.9M313.5 2319.0H331.0M305.2 2318.4H332.1M307.7 2317.8H333.3M307.4 2317.1H334.5M320.6 2316.5H335.8"/>
<path stroke="#4cb33b" d="M317.5 2315.9H337.0"/>
<path stroke="#2290ab" d="M317.9 2315.2H338.2"/>
<path stroke="#ffab00" d="M314.9 2314.6H339.5"/>
<path stroke="#4cb33b" d="M263.9 2314.0H340.7"/>
<path stroke="#2290ab" d="M322.0 2313.3H341.9"/>
<path stroke="#ffab00" d="M321.8 2312.7H343.2M328.0 2312.1H344.4"/>
<path stroke="#4cb33b" d="M328.1 2311.4H345.6M324.5 2310.8H346.7"/>
<path stroke="#ffab00" d="M327.7 2310.2H347.3M317.7 2309.5H348.0M306.3 2308.9H348.6"/>
<path stroke="#4cb33b" d="M288.6 2308.3H349.3"/>
<path stroke="#ffab00" d="M328.5 2307.6H349.9M335.4 2307.0H350.5"/>
<path stroke="#4cb33b" d="M331.0 2306.4H351.2"/>
<path stroke="#2290ab" d="M330.9 2305.7H351.8"/>
<path stroke="#58258a" d="M337.3 2305.1H352.5"/>
<path stroke="#ffab00" d="M327.6 2304.5H353.1M324.7 2303.8H353.8"/>
<path stroke="#58258a" d="M328.5 2303.2H355.4"/>
<path stroke="#ffab00" d="M337.5 2302.6H357.1"/>
<path stroke="#4cb33b" d="M336.0 2301.9H358.8M336.4 2301.3H360.5M335.4 2300.7H362.2"/>
<path stroke="#ffab00" d="M331.0 2300.0H363.9M333.1 2299.4H365.6"/>
<path stroke="#4cb33b" d="M350.2 2298.8H367.3"/>
<path stroke="#58258a" d="M298.4 2298.1H369.0"/>
<path stroke="#ffab00" d="M348.7 2297.5H370.5M318.6 2296.9H372.0M358.1 2296.2H373.5M331.0 2295.6H375.0M355.9 2295.0H376.5"/>
<path stroke="#58258a" d="M357.0 2294.3H378.0M359.6 2293.7H379.6"/>
<path stroke="#ffab00" d="M351.6 2293.1H381.1M355.0 2292.4H382.6"/>
<path stroke="#4cb33b" d="M339.8 2291.8H384.1"/>
<path stroke="#ffab00" d="M354.7 2291.2H385.6"/>
<path stroke="#4cb33b" d="M364.0 2290.5H387.1M342.5 2289.9H388.6"/>
<path stroke="#ffab00" d="M357.5 2289.3H390.1"/>
<path stroke="#58258a" d="M366.9 2288.6H391.5"/>
<path stroke="#ffab00" d="M365.7 2288.0H392.8M371.3 2287.4H394.1M372.9 2286.7H395.4M370.1 2286.1H396.6M383.6 2285.5H397.9M358.9 2284.8H399.2M368.5 2284.2H400.5M389.6 2283.6H401.7M376.0 2282.9H403.0M380.0 2282.3H404.3"/>
<path stroke="#58258a" d="M379.9 2281.7H405.6"/>
<path stroke="#4cb33b" d="M376.3 2281.0H406.9M380.7 2280.4H408.1"/>
<path stroke="#ffab00" d="M388.3 2279.8H409.4M369.1 2279.1H410.7"/>
<path stroke="#4cb33b" d="M395.2 2278.5H412.0"/>
<path stroke="#ffab00" d="M383.8 2277.9H413.2M394.7 2277.2H414.5M395.8 2276.6H415.8M401.3 2276.0H417.0"/>
<path stroke="#58258a" d="M390.9 2275.3H418.3"/>
<path stroke="#4cb33b" d="M394.8 2274.7H419.6M347.6 2274.1H420.8"/>
<path stroke="#58258a" d="M386.5 2273.4H422.1"/>
<path stroke="#4cb33b" d="M399.7 2272.8H423.4"/>
<path stroke="#ffab00" d="M404.5 2272.2H424.6M405.8 2271.5H425.9M386.2 2270.9H427.2"/>
<path stroke="#4cb33b" d="M401.3 2270.3H428.4"/>
<path stroke="#ffab00" d="M414.2 2269.6H429.7"/>
<path stroke="#58258a" d="M415.1 2269.0H431.0M415.3 2268.4H432.2"/>
<path stroke="#ffab00" d="M411.9 2267.7H433.5"/>
<path stroke="#4cb33b" d="M403.2 2267.1H434.8"/>
<path stroke="#58258a" d="M402.3 2266.5H436.7"/>
<path stroke="#ffab00" d="M417.9 2265.8H438.8"/>
<path stroke="#4cb33b" d="M419.9 2265.2H440.9"/>
<path stroke="#ffab00" d="M407.7 2264.6H443.0"/>
<path stroke="#4cb33b" d="M423.0 2263.9H445.1M424.1 2263.3H447.2"/>
<path stroke="#ffab00" d="M410.9 2262.7H449.3M425.1 2262.0H451.4M418.0 2261.4H453.5"/>
<path stroke="#58258a" d="M434.1 2260.8H459.8"/>
<path stroke="#ffab00" d="M437.2 2260.1H466.1"/>
<path stroke="#58258a" d="M444.6 2259.5H472.4"/>
<path stroke="#ffab00" d="M450.2 2258.9H478.7"/>
<path stroke="#4cb33b" d="M444.7 2258.2H480.8"/>
<path stroke="#ffab00" d="M459.4 2257.6H482.2M452.4 2257.0H483.7M443.5 2256.3H485.1M467.8 2255.7H486.6M461.6 2255.1H488.0M466.3 2254.4H489.5"/>
<path stroke="#2290ab" d="M467.7 2253.8H490.7"/>
<path stroke="#4cb33b" d="M467.9 2253.2H491.5"/>
<path stroke="#ffab00" d="M474.7 2252.5H492.2"/>
<path stroke="#58258a" d="M454.1 2251.9H493.0"/>
<path stroke="#4cb33b" d="M477.6 2251.3H493.7"/>
<path stroke="#ffab00" d="M475.4 2250.7H494.5"/>
<path stroke="#4cb33b" d="M480.0 2250.0H495.3"/>
<path stroke="#ffab00" d="M475.4 2249.4H496.0"/>
<path stroke="#4cb33b" d="M484.0 2248.8H496.8M467.8 2248.1H497.5"/>
<path stroke="#ffab00" d="M460.2 2247.5H498.3M453.5 2246.9H499.0"/>
<path stroke="#4cb33b" d="M465.2 2246.2H499.8"/>
<path stroke="#ffab00" d="M475.1 2245.6H500.5M472.7 2245.0H501.3"/>
<path stroke="#58258a" d="M477.8 2244.3H502.3"/>
<path stroke="#ffab00" d="M467.6 2243.7H503.4"/>
<path stroke="#4cb33b" d="M485.7 2243.1H504.5M463.8 2242.4H505.6"/>
<path stroke="#ffab00" d="M481.0 2241.8H506.7M489.7 2241.2H507.9M492.6 2240.5H509.0M475.0 2239.9H510.1M496.4 2239.3H511.2"/>
<path stroke="#58258a" d="M479.5 2238.6H512.3"/>
<path stroke="#ffab00" d="M487.8 2238.0H513.4M493.2 2237.4H514.5"/>
<path stroke="#58258a" d="M495.4 2236.7H515.7"/>
<path stroke="#ffab00" d="M497.4 2236.1H516.8"/>
<path stroke="#58258a" d="M495.5 2235.5H517.9"/>
<path stroke="#ffab00" d="M471.1 2234.8H519.0"/>
<path stroke="#58258a" d="M500.5 2234.2H520.1"/>
<path stroke="#4cb33b" d="M494.2 2233.6H521.2"/>
<path stroke="#58258a" d="M505.9 2232.9H522.4"/>
<path stroke="#4cb33b" d="M502.0 2232.3H523.5M503.1 2231.7H524.6"/>
<path stroke="#ffab00" d="M504.7 2231.0H525.7M497.8 2230.4H526.8"/>
<path stroke="#4cb33b" d="M496.4 2229.8H528.1"/>
<path stroke="#2290ab" d="M500.0 2229.1H529.5"/>
<path stroke="#4cb33b" d="M487.3 2228.5H531.0"/>
<path stroke="#58258a" d="M511.7 2227.9H532.5"/>
<path stroke="#2290ab" d="M510.3 2227.2H534.0"/>
<path stroke="#ffab00" d="M512.5 2226.6H535.4M465.1 2226.0H536.9"/>
<path stroke="#4cb33b" d="M517.2 2225.3H538.4"/>
<path stroke="#58258a" d="M519.1 2224.7H539.8"/>
<path stroke="#ffab00" d="M496.8 2224.1H541.3M525.9 2223.4H542.8"/>
<path stroke="#4cb33b" d="M516.3 2222.8H544.3M519.9 2222.2H545.7"/>
<path stroke="#ffab00" d="M519.9 2221.5H547.2M502.9 2220.9H548.7"/>
<path stroke="#4cb33b" d="M525.0 2220.3H550.2"/>
<path stroke="#ffab00" d="M489.2 2219.6H551.6"/>
<path stroke="#4cb33b" d="M532.4 2219.0H553.1M525.6 2218.4H555.1M518.0 2217.7H557.2"/>
<path stroke="#ffab00" d="M532.5 2217.1H559.3M534.4 2216.5H561.4M545.6 2215.8H563.5M548.5 2215.2H565.6"/>
<path stroke="#58258a" d="M538.6 2214.6H567.7"/>
<path stroke="#ffab00" d="M537.6 2213.9H569.7M553.6 2213.3H571.8"/>
<path stroke="#2290ab" d="M550.9 2212.7H572.4"/>
<path stroke="#4cb33b" d="M547.3 2212.0H572.9"/>
<path stroke="#ffab00" d="M554.3 2211.4H573.5"/>
<path stroke="#58258a" d="M545.5 2210.8H574.0"/>
<path stroke="#ffab00" d="M546.3 2210.1H574.6"/>
<path stroke="#4cb33b" d="M542.6 2209.5H575.1"/>
<path stroke="#ffab00" d="M541.1 2208.9H575.7M553.4 2208.2H576.2M532.1 2207.6H576.8M560.4 2207.0H577.3"/>
<path stroke="#4cb33b" d="M545.5 2206.3H577.9M551.6 2205.7H578.4"/>
<path stroke="#2290ab" d="M555.4 2205.1H579.0"/>
<path stroke="#4cb33b" d="M553.8 2204.4H579.5M556.9 2203.8H580.1"/>
<path stroke="#58258a" d="M521.3 2203.2H580.6"/>
<path stroke="#4cb33b" d="M548.8 2202.5H581.2"/>
<path stroke="#ffab00" d="M542.0 2201.9H581.7"/>
<path stroke="#58258a" d="M551.2 2201.3H582.3"/>
<path stroke="#ffab00" d="M562.5 2200.6H582.8"/>
<path stroke="#4cb33b" d="M547.8 2200.0H583.2M556.8 2199.4H583.4"/>
<path stroke="#58258a" d="M547.0 2198.7H583.7"/>
<path stroke="#ffab00" d="M559.3 2198.1H583.9"/>
<path stroke="#4cb33b" d="M562.8 2197.5H584.2M568.3 2196.8H584.4M523.2 2196.2H584.7"/>
<path stroke="#2290ab" d="M560.7 2195.6H584.9"/>
<path stroke="#4cb33b" d="M567.9 2194.9H585.2M565.7 2194.3H585.4"/>
<path stroke="#ffab00" d="M551.8 2193.7H585.7M538.6 2193.0H585.9"/>
<path stroke="#4cb33b" d="M557.1 2192.4H586.2"/>
<path stroke="#ffab00" d="M563.1 2191.8H586.4M565.5 2191.1H586.7M568.8 2190.5H586.9M566.7 2189.9H587.2M564.5 2189.2H587.4"/>
<path stroke="#4cb33b" d="M543.0 2188.6H587.7M560.2 2188.0H587.9M547.4 2187.3H588.2"/>
<path stroke="#ffab00" d="M562.7 2186.7H588.4M555.7 2186.1H588.7"/>
<path stroke="#4cb33b" d="M557.8 2185.4H588.9"/>
<path stroke="#ffab00" d="M570.0 2184.8H589.2M523.9 2184.2H589.4"/>
<path stroke="#4cb33b" d="M564.8 2183.5H589.7"/>
<path stroke="#ffab00" d="M564.8 2182.9H589.9M555.4 2182.3H590.2M570.6 2181.6H590.8"/>
<path stroke="#58258a" d="M566.6 2181.0H591.6"/>
<path stroke="#4cb33b" d="M578.7 2180.4H592.5"/>
<path stroke="#58258a" d="M545.7 2179.7H593.3"/>
<path stroke="#ffab00" d="M562.0 2179.1H594.1"/>
<path stroke="#2290ab" d="M572.6 2178.5H594.9"/>
<path stroke="#4cb33b" d="M566.2 2177.8H595.8M569.9 2177.2H596.6"/>
<path stroke="#ffab00" d="M578.0 2176.6H597.4"/>
<path stroke="#4cb33b" d="M543.8 2175.9H598.3"/>
<path stroke="#ffab00" d="M582.4 2175.3H599.1"/>
<path stroke="#4cb33b" d="M584.4 2174.7H599.9"/>
<path stroke="#ffab00" d="M578.1 2174.0H600.8"/>
<path stroke="#58258a" d="M583.6 2173.4H601.6"/>
<path stroke="#4cb33b" d="M578.5 2172.8H602.4"/>
<path stroke="#58258a" d="M572.8 2172.1H603.3"/>
<path stroke="#4cb33b" d="M577.9 2171.5H604.1"/>
<path stroke="#ffab00" d="M565.5 2170.9H604.9"/>
<path stroke="#4cb33b" d="M589.4 2170.2H605.9"/>
<path stroke="#ffab00" d="M589.5 2169.6H606.8M562.0 2169.0H607.7M584.5 2168.3H608.7M591.2 2167.7H609.6"/>
<path stroke="#4cb33b" d="M588.1 2167.1H610.6"/>
<path stroke="#ffab00" d="M591.8 2166.4H611.5"/>
<path stroke="#4cb33b" d="M588.0 2165.8H612.4M579.6 2165.2H613.4M591.9 2164.5H614.3"/>
<path stroke="#58258a" d="M595.7 2163.9H615.3"/>
<path stroke="#4cb33b" d="M595.7 2163.3H616.1M576.9 2162.6H616.4"/>
<path stroke="#ffab00" d="M599.8 2162.0H616.7"/>
<path stroke="#4cb33b" d="M600.5 2161.4H617.0"/>
<path stroke="#ffab00" d="M600.6 2160.7H617.4"/>
<path stroke="#4cb33b" d="M591.0 2160.1H617.7M595.3 2159.5H618.0"/>
<path stroke="#2290ab" d="M588.3 2158.8H618.3"/>
<path stroke="#ffab00" d="M590.2 2158.2H618.7"/>
<path stroke="#4cb33b" d="M602.5 2157.6H619.0M603.4 2156.9H619.3M598.8 2156.3H619.6M589.5 2155.7H619.9"/>
<path stroke="#ffab00" d="M580.9 2155.0H620.3M585.0 2154.4H620.6M586.6 2153.8H620.9M604.4 2153.1H621.2"/>
<path stroke="#4cb33b" d="M604.7 2152.5H621.6M596.8 2151.9H621.9M599.7 2151.2H622.2M593.7 2150.6H622.5"/>
<path stroke="#58258a" d="M601.5 2150.0H622.9"/>
<path stroke="#4cb33b" d="M593.2 2149.3H623.2"/>
<path stroke="#ffab00" d="M600.8 2148.7H623.5"/>
<path stroke="#58258a" d="M600.7 2148.1H624.3"/>
<path stroke="#ffab00" d="M597.3 2147.4H625.1"/>
<path stroke="#4cb33b" d="M613.4 2146.8H625.9"/>
<path stroke="#ffab00" d="M609.8 2146.2H626.7"/>
<path stroke="#4cb33b" d="M603.5 2145.5H627.5"/>
<path stroke="#ffab00" d="M607.5 2144.9H628.3M588.3 2144.3H629.1M606.9 2143.6H629.9"/>
<path stroke="#4cb33b" d="M617.7 2143.0H630.7"/>
<path stroke="#58258a" d="M614.8 2142.4H631.5"/>
<path stroke="#4cb33b" d="M612.7 2141.7H632.3M603.9 2141.1H633.1"/>
<path stroke="#58258a" d="M607.6 2140.5H633.9"/>
<path stroke="#4cb33b" d="M609.8 2139.8H634.7"/>
<path stroke="#ffab00" d="M605.4 2139.2H635.5M596.2 2138.6H636.3"/>
<path stroke="#4cb33b" d="M600.7 2137.9H637.1"/>
<path stroke="#ffab00" d="M600.0 2137.3H637.8M606.4 2136.7H638.6M614.6 2136.0H639.4"/>
<path stroke="#4cb33b" d="M624.4 2135.4H640.2"/>
<path stroke="#ffab00" d="M620.6 2134.8H641.0"/>
<path stroke="#4cb33b" d="M624.5 2134.1H641.8"/>
<path stroke="#2290ab" d="M626.0 2133.5H643.0"/>
<path stroke="#ffab00" d="M619.4 2132.9H644.2M626.6 2132.2H645.5M626.6 2131.6H646.7"/>
<path stroke="#4cb33b" d="M617.2 2131.0H648.0M607.6 2130.3H649.2M614.5 2129.7H650.5"/>
<path stroke="#ffab00" d="M620.4 2129.1H651.7"/>
<path stroke="#4cb33b" d="M624.1 2128.4H653.0M640.5 2127.8H654.2M626.6 2127.2H655.5"/>
<path stroke="#ffab00" d="M627.4 2126.5H656.7"/>
<path stroke="#58258a" d="M640.9 2125.9H657.1"/>
<path stroke="#ffab00" d="M639.2 2125.3H657.4"/>
<path stroke="#58258a" d="M631.3 2124.6H657.7"/>
<path stroke="#4cb33b" d="M643.0 2124.0H658.0"/>
<path stroke="#ffab00" d="M638.0 2123.4H658.4M638.3 2122.7H658.7M627.5 2122.1H659.0"/>
<path stroke="#4cb33b" d="M640.3 2121.5H659.3"/>
<path stroke="#2290ab" d="M633.3 2120.8H659.6"/>
<path stroke="#ffab00" d="M638.8 2120.2H659.9M637.7 2119.6H660.3"/>
<path stroke="#58258a" d="M638.4 2118.9H660.6"/>
<path stroke="#4cb33b" d="M636.2 2118.3H660.9"/>
<path stroke="#ffab00" d="M637.7 2117.7H661.2M628.7 2117.0H661.5"/>
<path stroke="#4cb33b" d="M616.2 2116.4H661.8"/>
<path stroke="#ffab00" d="M632.3 2115.8H662.2"/>
<path stroke="#58258a" d="M642.3 2115.1H662.5M644.6 2114.5H662.8"/>
<path stroke="#4cb33b" d="M637.7 2113.9H663.1M635.9 2113.2H663.4"/>
<path stroke="#ffab00" d="M631.4 2112.6H663.7M622.6 2112.0H664.1M645.1 2111.3H664.5"/>
<path stroke="#4cb33b" d="M621.2 2110.7H665.0M636.8 2110.1H665.6M628.9 2109.4H666.1"/>
<path stroke="#58258a" d="M649.1 2108.8H666.6"/>
<path stroke="#4cb33b" d="M631.5 2108.2H667.1"/>
<path stroke="#ffab00" d="M647.3 2107.5H667.7"/>
<path stroke="#2290ab" d="M646.7 2106.9H668.2"/>
<path stroke="#58258a" d="M643.5 2106.3H668.7"/>
<path stroke="#4cb33b" d="M627.0 2105.6H669.2M633.5 2105.0H669.8"/>
<path stroke="#ffab00" d="M659.5 2104.4H670.3"/>
<path stroke="#4cb33b" d="M649.9 2103.7H670.8M654.4 2103.1H671.4"/>
<path stroke="#ffab00" d="M649.8 2102.5H671.9"/>
<path stroke="#4cb33b" d="M643.6 2101.8H672.4"/>
<path stroke="#ffab00" d="M656.3 2101.2H672.9M625.3 2100.6H673.5M647.6 2099.9H674.0M643.1 2099.3H674.5M651.8 2098.7H675.0"/>
<path stroke="#4cb33b" d="M646.4 2098.0H675.6"/>
<path stroke="#ffab00" d="M652.9 2097.4H676.1M645.3 2096.8H676.6M633.7 2096.1H677.2M652.7 2095.5H677.7M584.1 2094.9H678.2"/>
<path stroke="#58258a" d="M617.5 2094.2H678.7"/>
<path stroke="#4cb33b" d="M643.0 2093.6H679.3"/>
<path stroke="#ffab00" d="M646.1 2093.0H679.8"/>
<path stroke="#2290ab" d="M652.6 2092.3H680.3"/>
<path stroke="#ffab00" d="M644.5 2091.7H680.8"/>
<path stroke="#58258a" d="M644.1 2091.1H681.4"/>
<path stroke="#ffab00" d="M650.5 2090.4H681.9"/>
<path stroke="#4cb33b" d="M668.5 2089.8H682.4"/>
<path stroke="#ffab00" d="M663.9 2089.2H683.1"/>
<path stroke="#4cb33b" d="M637.4 2088.5H683.9"/>
<path stroke="#ffab00" d="M668.4 2087.9H684.7M655.4 2087.3H685.5M662.2 2086.6H686.3"/>
<path stroke="#4cb33b" d="M668.2 2086.0H687.1"/>
<path stroke="#2290ab" d="M656.7 2085.4H687.9"/>
<path stroke="#58258a" d="M675.2 2084.7H688.7"/>
<path stroke="#4cb33b" d="M634.9 2084.1H689.5M649.6 2083.5H690.3M670.2 2082.8H691.1"/>
<path stroke="#58258a" d="M662.8 2082.2H691.8"/>
<path stroke="#ffab00" d="M669.9 2081.6H692.6"/>
<path stroke="#4cb33b" d="M654.2 2080.9H693.4"/>
<path stroke="#ffab00" d="M676.6 2080.3H694.2"/>
<path stroke="#2290ab" d="M659.7 2079.7H695.0"/>
<path stroke="#ffab00" d="M664.9 2079.0H695.8M677.1 2078.4H696.6M673.1 2077.8H697.4"/>
<path stroke="#4cb33b" d="M678.2 2077.1H698.2"/>
<path stroke="#ffab00" d="M681.8 2076.5H699.0M680.2 2075.9H699.8"/>
<path stroke="#58258a" d="M665.1 2075.2H700.6"/>
<path stroke="#4cb33b" d="M685.9 2074.6H701.5"/>
<path stroke="#ffab00" d="M674.4 2074.0H702.9"/>
<path stroke="#58258a" d="M682.2 2073.3H704.2"/>
<path stroke="#ffab00" d="M676.0 2072.7H705.6M677.5 2072.1H707.0"/>
<path stroke="#4cb33b" d="M684.0 2071.4H708.3"/>
<path stroke="#ffab00" d="M691.9 2070.8H709.7M694.8 2070.2H710.9"/>
<path stroke="#4cb33b" d="M683.1 2069.5H711.6"/>
<path stroke="#ffab00" d="M692.9 2068.9H712.2"/>
<path stroke="#58258a" d="M693.0 2068.3H712.8M698.4 2067.6H713.5"/>
<path stroke="#ffab00" d="M683.2 2067.0H714.1M664.0 2066.4H714.8"/>
<path stroke="#58258a" d="M690.7 2065.7H715.4"/>
<path stroke="#ffab00" d="M699.3 2065.1H716.0"/>
<path stroke="#4cb33b" d="M690.9 2064.5H716.7"/>
<path stroke="#ffab00" d="M697.4 2063.8H717.3"/>
<path stroke="#58258a" d="M691.6 2063.2H717.9M693.2 2062.6H718.6"/>
<path stroke="#ffab00" d="M699.6 2061.9H719.2"/>
<path stroke="#58258a" d="M701.1 2061.3H719.9"/>
<path stroke="#ffab00" d="M699.1 2060.7H720.5"/>
<path stroke="#58258a" d="M688.3 2060.0H721.1"/>
<path stroke="#ffab00" d="M696.0 2059.4H721.8M698.6 2058.8H722.4"/>
<path stroke="#58258a" d="M665.6 2058.1H723.0"/>
<path stroke="#ffab00" d="M706.9 2057.5H723.7"/>
<path stroke="#58258a" d="M706.0 2056.9H724.3"/>
<path stroke="#ffab00" d="M677.5 2056.2H725.0"/>
<path stroke="#58258a" d="M701.8 2055.6H725.6M705.5 2055.0H726.1"/>
<path stroke="#ffab00" d="M699.3 2054.3H726.6M704.2 2053.7H727.2M707.6 2053.1H727.7"/>
<path stroke="#4cb33b" d="M703.6 2052.4H728.2M704.4 2051.8H728.8"/>
<path stroke="#ffab00" d="M714.0 2051.2H729.3"/>
<path stroke="#4cb33b" d="M706.6 2050.5H729.8"/>
<path stroke="#58258a" d="M707.9 2049.9H730.3"/>
<path stroke="#4cb33b" d="M716.6 2049.3H730.9M715.4 2048.6H731.4"/>
<path stroke="#ffab00" d="M691.2 2048.0H731.9M710.0 2047.4H732.5M705.7 2046.7H733.0"/>
<path stroke="#4cb33b" d="M707.3 2046.1H733.5"/>
<path stroke="#58258a" d="M715.6 2045.5H734.0"/>
<path stroke="#2290ab" d="M699.4 2044.8H734.6"/>
<path stroke="#ffab00" d="M711.9 2044.2H735.1M701.0 2043.6H735.6"/>
<path stroke="#2290ab" d="M708.5 2042.9H736.1"/>
<path stroke="#ffab00" d="M696.3 2042.3H736.7M699.9 2041.7H737.2"/>
<path stroke="#58258a" d="M705.1 2041.0H737.7"/>
<path stroke="#ffab00" d="M716.5 2040.4H738.3"/>
<path stroke="#4cb33b" d="M715.0 2039.8H738.8"/>
<path stroke="#58258a" d="M722.1 2039.1H739.3M708.0 2038.5H739.8M722.0 2037.9H740.4"/>
<path stroke="#ffab00" d="M698.8 2037.2H740.9"/>
<path stroke="#58258a" d="M718.9 2036.6H741.4"/>
<path stroke="#ffab00" d="M717.2 2036.0H742.0"/>
<path stroke="#4cb33b" d="M722.3 2035.3H742.5"/>
<path stroke="#ffab00" d="M718.2 2034.7H743.0"/>
<path stroke="#4cb33b" d="M712.9 2034.1H743.5"/>
<path stroke="#ffab00" d="M727.9 2033.4H744.1"/>
<path stroke="#58258a" d="M722.2 2032.8H744.7"/>
<path stroke="#4cb33b" d="M717.0 2032.2H745.3M711.9 2031.5H746.0M718.8 2030.9H746.6"/>
<path stroke="#ffab00" d="M729.0 2030.3H747.2"/>
<path stroke="#58258a" d="M732.3 2029.6H747.9"/>
<path stroke="#ffab00" d="M726.9 2029.0H748.5M729.5 2028.4H749.1"/>
<path stroke="#4cb33b" d="M720.0 2027.7H749.8"/>
<path stroke="#ffab00" d="M708.9 2027.1H750.4"/>
<path stroke="#4cb33b" d="M736.8 2026.5H751.0"/>
<path stroke="#58258a" d="M738.4 2025.8H751.7M718.5 2025.2H752.3"/>
<path stroke="#ffab00" d="M730.6 2024.6H752.9M688.5 2023.9H753.6"/>
<path stroke="#58258a" d="M722.5 2023.3H754.2M728.2 2022.7H754.8M717.3 2022.0H755.5"/>
<path stroke="#ffab00" d="M725.5 2021.4H756.1M726.1 2020.8H756.7"/>
<path stroke="#58258a" d="M736.9 2020.1H757.4M741.1 2019.5H758.0"/>
<path stroke="#2290ab" d="M737.5 2018.9H758.6"/>
<path stroke="#4cb33b" d="M725.8 2018.2H759.3"/>
<path stroke="#ffab00" d="M713.8 2017.6H760.1"/>
<path stroke="#4cb33b" d="M726.1 2017.0H760.9"/>
<path stroke="#ffab00" d="M740.1 2016.3H761.7M745.0 2015.7H762.5"/>
<path stroke="#58258a" d="M739.2 2015.1H763.3"/>
<path stroke="#ffab00" d="M718.1 2014.4H764.1M742.5 2013.8H764.8M737.7 2013.2H765.6M751.1 2012.5H766.4"/>
<path stroke="#58258a" d="M727.0 2011.9H767.2"/>
<path stroke="#ffab00" d="M706.9 2011.3H768.0M743.3 2010.6H768.8"/>
<path stroke="#4cb33b" d="M752.3 2010.0H769.6M745.2 2009.4H770.4"/>
<path stroke="#ffab00" d="M748.3 2008.7H771.1"/>
<path stroke="#58258a" d="M747.2 2008.1H771.9"/>
<path stroke="#ffab00" d="M746.4 2007.5H772.7"/>
<path stroke="#2290ab" d="M755.1 2006.8H773.5"/>
<path stroke="#ffab00" d="M749.5 2006.2H774.3M744.8 2005.6H775.1M760.1 2004.9H775.9M724.9 2004.3H776.7"/>
<path stroke="#4cb33b" d="M746.5 2003.7H777.5"/>
<path stroke="#ffab00" d="M742.3 2003.0H778.6"/>
<path stroke="#4cb33b" d="M747.8 2002.4H779.6"/>
<path stroke="#ffab00" d="M754.9 2001.8H780.7M757.5 2001.1H781.8M762.7 2000.5H782.8"/>
<path stroke="#58258a" d="M760.2 1999.9H783.9"/>
<path stroke="#4cb33b" d="M768.4 1999.2H785.0"/>
<path stroke="#58258a" d="M760.4 1998.6H786.0"/>
<path stroke="#ffab00" d="M767.3 1998.0H787.1"/>
<path stroke="#2290ab" d="M770.4 1997.4H788.1"/>
<path stroke="#ffab00" d="M751.1 1996.7H789.2"/>
<path stroke="#58258a" d="M758.9 1996.1H790.3M769.0 1995.5H791.3"/>
<path stroke="#ffab00" d="M749.5 1994.8H792.4"/>
<path stroke="#58258a" d="M730.0 1994.2H793.5"/>
<path stroke="#4cb33b" d="M760.5 1993.6H794.5"/>
<path stroke="#2290ab" d="M763.9 1992.9H795.6"/>
<path stroke="#4cb33b" d="M771.5 1992.3H796.7"/>
<path stroke="#58258a" d="M784.4 1991.7H797.7"/>
<path stroke="#ffab00" d="M778.4 1991.0H798.8M756.2 1990.4H799.8"/>
<path stroke="#4cb33b" d="M782.2 1989.8H800.9"/>
<path stroke="#ffab00" d="M783.3 1989.1H801.9"/>
<path stroke="#4cb33b" d="M785.5 1988.5H803.0"/>
<path stroke="#58258a" d="M787.8 1987.9H804.0"/>
<path stroke="#4cb33b" d="M775.0 1987.2H805.1M785.1 1986.6H806.2"/>
<path stroke="#2290ab" d="M782.0 1986.0H807.2"/>
<path stroke="#4cb33b" d="M781.6 1985.3H808.3"/>
<path stroke="#ffab00" d="M764.1 1984.7H809.3M771.9 1984.1H810.4"/>
<path stroke="#58258a" d="M787.8 1983.4H811.4M799.1 1982.8H812.5M776.4 1982.2H813.5"/>
<path stroke="#ffab00" d="M790.1 1981.5H814.6"/>
<path stroke="#58258a" d="M793.4 1980.9H815.7M788.4 1980.3H816.7"/>
<path stroke="#4cb33b" d="M789.6 1979.6H817.8M772.2 1979.0H818.8M793.5 1978.4H819.9M785.2 1977.7H820.9"/>
<path stroke="#ffab00" d="M804.9 1977.1H822.0M801.4 1976.5H823.0M806.5 1975.8H824.1"/>
<path stroke="#58258a" d="M787.3 1975.2H825.2M796.0 1974.6H826.2"/>
<path stroke="#ffab00" d="M802.7 1973.9H827.3"/>
<path stroke="#4cb33b" d="M803.3 1973.3H828.3"/>
<path stroke="#ffab00" d="M800.0 1972.7H829.4"/>
<path stroke="#58258a" d="M805.4 1972.0H830.4"/>
<path stroke="#ffab00" d="M792.8 1971.4H831.5"/>
<path stroke="#4cb33b" d="M800.0 1970.8H832.5"/>
<path stroke="#ffab00" d="M808.5 1970.1H833.8M789.8 1969.5H835.0"/>
<path stroke="#4cb33b" d="M823.3 1968.9H836.3M815.2 1968.2H837.5"/>
<path stroke="#58258a" d="M792.2 1967.6H838.8"/>
<path stroke="#ffab00" d="M818.5 1967.0H840.1M826.4 1966.3H841.3"/>
<path stroke="#4cb33b" d="M801.2 1965.7H842.6"/>
<path stroke="#ffab00" d="M808.1 1965.1H843.8"/>
<path stroke="#58258a" d="M802.1 1964.4H845.1"/>
<path stroke="#ffab00" d="M818.9 1963.8H846.4M787.8 1963.2H847.6M790.4 1962.5H848.9M825.2 1961.9H850.1"/>
<path stroke="#4cb33b" d="M819.3 1961.3H851.4"/>
<path stroke="#ffab00" d="M806.6 1960.6H852.7"/>
<path stroke="#4cb33b" d="M832.3 1960.0H853.9"/>
<path stroke="#58258a" d="M820.9 1959.4H855.0"/>
<path stroke="#ffab00" d="M818.8 1958.7H855.6M823.4 1958.1H856.1"/>
<path stroke="#2290ab" d="M830.8 1957.5H856.7"/>
<path stroke="#58258a" d="M814.9 1956.8H857.2"/>
<path stroke="#4cb33b" d="M826.8 1956.2H857.7"/>
<path stroke="#58258a" d="M831.4 1955.6H858.3"/>
<path stroke="#4cb33b" d="M837.8 1954.9H858.8"/>
<path stroke="#ffab00" d="M830.2 1954.3H859.4"/>
<path stroke="#4cb33b" d="M841.1 1953.7H859.9"/>
<path stroke="#ffab00" d="M843.2 1953.0H860.5M824.0 1952.4H861.0M843.1 1951.8H861.6M836.4 1951.1H862.1M836.4 1950.5H862.7M832.1 1949.9H863.2M828.9 1949.2H863.7"/>
<path stroke="#4cb33b" d="M840.3 1948.6H864.3M848.3 1948.0H864.8M847.9 1947.3H865.4"/>
<path stroke="#ffab00" d="M833.2 1946.7H865.9M832.7 1946.1H866.9"/>
<path stroke="#58258a" d="M838.6 1945.4H867.9M844.1 1944.8H868.9M847.6 1944.2H869.9M846.2 1943.5H870.9"/>
<path stroke="#2290ab" d="M850.2 1942.9H871.9"/>
<path stroke="#ffab00" d="M847.5 1942.3H872.9"/>
<path stroke="#4cb33b" d="M838.6 1941.6H873.9"/>
<path stroke="#ffab00" d="M842.9 1941.0H874.9"/>
<path stroke="#4cb33b" d="M852.5 1940.4H875.9"/>
<path stroke="#2290ab" d="M848.2 1939.7H876.9M843.2 1939.1H877.9"/>
<path stroke="#4cb33b" d="M839.1 1938.5H879.0M845.7 1937.8H880.0"/>
<path stroke="#ffab00" d="M849.7 1937.2H881.0M851.9 1936.6H882.3M870.0 1935.9H883.6"/>
<path stroke="#4cb33b" d="M844.1 1935.3H884.9"/>
<path stroke="#ffab00" d="M870.2 1934.7H886.2M869.7 1934.0H887.4"/>
<path stroke="#58258a" d="M874.3 1933.4H888.7"/>
<path stroke="#ffab00" d="M853.9 1932.8H890.0M845.5 1932.1H891.3M865.7 1931.5H892.6M866.5 1930.9H893.9M877.6 1930.2H895.1M877.2 1929.6H895.9"/>
<path stroke="#4cb33b" d="M871.3 1929.0H896.4"/>
<path stroke="#ffab00" d="M840.7 1928.3H896.8"/>
<path stroke="#2290ab" d="M861.9 1927.7H897.3"/>
<path stroke="#58258a" d="M869.3 1927.1H897.8"/>
<path stroke="#4cb33b" d="M858.3 1926.4H898.3"/>
<path stroke="#ffab00" d="M880.9 1925.8H898.7M845.5 1925.2H899.2"/>
<path stroke="#4cb33b" d="M879.2 1924.5H899.7M883.6 1923.9H900.1"/>
<path stroke="#ffab00" d="M881.8 1923.3H900.6M864.4 1922.6H901.1"/>
<path stroke="#58258a" d="M847.1 1922.0H901.6M877.4 1921.4H902.0M887.5 1920.7H902.5"/>
<path stroke="#ffab00" d="M890.1 1920.1H903.0"/>
<path stroke="#58258a" d="M878.9 1919.5H903.4"/>
<path stroke="#4cb33b" d="M863.2 1918.8H903.9"/>
<path stroke="#ffab00" d="M887.6 1918.2H904.4"/>
<path stroke="#58258a" d="M864.8 1917.6H904.8"/>
<path stroke="#4cb33b" d="M885.4 1916.9H905.3"/>
<path stroke="#ffab00" d="M877.0 1916.3H905.8"/>
<path stroke="#4cb33b" d="M876.6 1915.7H906.3"/>
<path stroke="#ffab00" d="M872.6 1915.0H906.9"/>
<path stroke="#4cb33b" d="M893.2 1914.4H908.2"/>
<path stroke="#58258a" d="M880.8 1913.8H909.5"/>
<path stroke="#ffab00" d="M883.9 1913.1H910.7"/>
<path stroke="#58258a" d="M895.0 1912.5H912.0"/>
<path stroke="#ffab00" d="M872.6 1911.9H913.3"/>
<path stroke="#58258a" d="M885.3 1911.2H914.5"/>
<path stroke="#2290ab" d="M879.9 1910.6H915.8"/>
<path stroke="#4cb33b" d="M892.6 1910.0H917.1"/>
<path stroke="#ffab00" d="M896.4 1909.3H918.3"/>
<path stroke="#58258a" d="M898.3 1908.7H919.6M901.6 1908.1H920.9M898.3 1907.4H922.5"/>
<path stroke="#2290ab" d="M892.8 1906.8H924.4"/>
<path stroke="#ffab00" d="M901.2 1906.2H926.3"/>
<path stroke="#4cb33b" d="M902.9 1905.5H928.2M902.4 1904.9H930.1"/>
<path stroke="#ffab00" d="M909.8 1904.3H932.0M906.0 1903.6H933.9"/>
<path stroke="#58258a" d="M898.7 1903.0H935.8"/>
<path stroke="#ffab00" d="M913.7 1902.4H937.7M921.4 1901.7H939.6M914.9 1901.1H941.5"/>
<path stroke="#2290ab" d="M902.1 1900.5H943.4"/>
<path stroke="#ffab00" d="M924.3 1899.8H945.3"/>
<path stroke="#58258a" d="M896.6 1899.2H947.2"/>
<path stroke="#4cb33b" d="M910.7 1898.6H949.1"/>
<path stroke="#ffab00" d="M933.2 1897.9H951.0M924.0 1897.3H952.9"/>
<path stroke="#4cb33b" d="M928.6 1896.7H954.8"/>
<path stroke="#ffab00" d="M929.4 1896.0H956.7"/>
<path stroke="#58258a" d="M930.1 1895.4H958.6M928.1 1894.8H960.5"/>
<path stroke="#ffab00" d="M936.2 1894.1H962.4M951.2 1893.5H964.3M936.2 1892.9H966.1"/>
<path stroke="#58258a" d="M936.0 1892.2H967.3M951.0 1891.6H968.6"/>
<path stroke="#4cb33b" d="M957.3 1891.0H969.9"/>
<path stroke="#58258a" d="M939.6 1890.3H971.1"/>
<path stroke="#ffab00" d="M957.9 1889.7H972.4"/>
<path stroke="#4cb33b" d="M940.4 1889.1H973.6"/>
<path stroke="#ffab00" d="M957.2 1888.4H974.9M955.8 1887.8H976.2M949.1 1887.2H977.4"/>
<path stroke="#58258a" d="M958.4 1886.5H978.7"/>
<path stroke="#ffab00" d="M946.2 1885.9H979.9"/>
<path stroke="#4cb33b" d="M948.0 1885.3H981.2"/>
<path stroke="#58258a" d="M957.5 1884.6H982.5"/>
<path stroke="#4cb33b" d="M941.8 1884.0H983.7M969.2 1883.4H985.0"/>
<path stroke="#ffab00" d="M968.7 1882.7H986.2"/>
<path stroke="#4cb33b" d="M950.0 1882.1H987.5"/>
<path stroke="#58258a" d="M975.4 1881.5H989.4M973.4 1880.8H991.5"/>
<path stroke="#ffab00" d="M959.5 1880.2H993.6M966.6 1879.6H995.8M978.2 1878.9H997.9"/>
<path stroke="#58258a" d="M976.8 1878.3H1000.0M957.1 1877.7H1002.1"/>
<path stroke="#ffab00" d="M982.8 1877.0H1004.3"/>
<path stroke="#58258a" d="M990.4 1876.4H1006.4M992.7 1875.8H1009.6"/>
<path stroke="#4cb33b" d="M996.6 1875.1H1012.7M993.8 1874.5H1015.9"/>
<path stroke="#58258a" d="M991.6 1873.9H1019.1"/>
<path stroke="#4cb33b" d="M994.7 1873.2H1022.2M1005.3 1872.6H1025.2M1009.8 1872.0H1027.3"/>
<path stroke="#2290ab" d="M973.6 1871.3H1029.4"/>
<path stroke="#ffab00" d="M996.2 1870.7H1031.5"/>
<path stroke="#4cb33b" d="M1013.1 1870.1H1033.6"/>
<path stroke="#ffab00" d="M988.2 1869.4H1035.6M1019.8 1868.8H1037.7M1019.0 1868.2H1039.8M1023.6 1867.5H1041.9M1024.4 1866.9H1043.9"/>
<path stroke="#58258a" d="M1012.5 1866.3H1045.8"/>
<path stroke="#ffab00" d="M1025.9 1865.6H1047.8M1022.1 1865.0H1049.7M1032.9 1864.4H1051.6M1030.1 1863.7H1053.5"/>
<path stroke="#4cb33b" d="M1038.6 1863.1H1055.5M1028.5 1862.5H1057.4"/>
<path stroke="#ffab00" d="M1031.9 1861.8H1059.3"/>
<path stroke="#58258a" d="M1037.6 1861.2H1061.2"/>
<path stroke="#ffab00" d="M1034.2 1860.6H1063.2M1049.3 1859.9H1065.1M1033.7 1859.3H1066.3M1044.3 1858.7H1067.4M1053.2 1858.0H1068.4"/>
<path stroke="#58258a" d="M1032.5 1857.4H1069.5"/>
<path stroke="#4cb33b" d="M1056.7 1856.8H1070.6"/>
<path stroke="#ffab00" d="M1026.8 1856.1H1071.6M1018.3 1855.5H1072.7M1058.6 1854.9H1073.7M1050.1 1854.2H1074.8"/>
<path stroke="#4cb33b" d="M1057.9 1853.6H1075.8M1051.6 1853.0H1076.9"/>
<path stroke="#58258a" d="M1046.8 1852.3H1077.9"/>
<path stroke="#ffab00" d="M1046.2 1851.7H1079.0"/>
<path stroke="#4cb33b" d="M1054.4 1851.1H1080.1M1037.8 1850.4H1081.1M1057.5 1849.8H1082.2"/>
<path stroke="#ffab00" d="M1066.7 1849.2H1083.2"/>
<path stroke="#58258a" d="M1055.6 1848.5H1084.3M1063.2 1847.9H1085.6"/>
<path stroke="#ffab00" d="M1062.9 1847.3H1086.9"/>
<path stroke="#4cb33b" d="M1053.5 1846.6H1088.1"/>
<path stroke="#58258a" d="M1048.1 1846.0H1089.4M1060.9 1845.4H1090.7"/>
<path stroke="#ffab00" d="M1073.2 1844.7H1091.9M1070.8 1844.1H1093.2M1064.3 1843.5H1094.5M1063.9 1842.8H1095.7"/>
<path stroke="#58258a" d="M1068.6 1842.2H1097.0"/>
<path stroke="#2290ab" d="M1062.8 1841.6H1098.3"/>
<path stroke="#ffab00" d="M1082.1 1840.9H1099.5M1075.6 1840.3H1100.8"/>
<path stroke="#4cb33b" d="M1083.7 1839.7H1102.0"/>
<path stroke="#2290ab" d="M1090.2 1839.0H1103.3"/>
<path stroke="#ffab00" d="M1083.2 1838.4H1104.5M1072.7 1837.8H1105.8"/>
<path stroke="#58258a" d="M1088.0 1837.1H1107.0"/>
<path stroke="#ffab00" d="M1083.3 1836.5H1108.3"/>
<path stroke="#4cb33b" d="M1086.7 1835.9H1109.5"/>
<path stroke="#ffab00" d="M1083.7 1835.2H1110.8M1082.5 1834.6H1112.0M1068.0 1834.0H1113.3M1093.1 1833.3H1114.6"/>
<path stroke="#4cb33b" d="M1092.7 1832.7H1115.8"/>
<path stroke="#ffab00" d="M1095.1 1832.1H1117.1M1071.4 1831.4H1118.3M1098.8 1830.8H1119.6"/>
<path stroke="#58258a" d="M1098.6 1830.2H1120.9"/>
<path stroke="#ffab00" d="M1084.8 1829.5H1122.1"/>
<path stroke="#4cb33b" d="M1104.0 1828.9H1123.4"/>
<path stroke="#ffab00" d="M1110.0 1828.3H1124.7"/>
<path stroke="#58258a" d="M1089.1 1827.6H1126.0"/>
<path stroke="#4cb33b" d="M1107.5 1827.0H1127.2M1112.4 1826.4H1128.5"/>
<path stroke="#58258a" d="M1089.8 1825.7H1129.8"/>
<path stroke="#4cb33b" d="M1110.6 1825.1H1131.1"/>
<path stroke="#58258a" d="M1091.4 1824.5H1132.3M1110.2 1823.8H1133.6"/>
<path stroke="#2290ab" d="M1118.7 1823.2H1134.9"/>
<path stroke="#4cb33b" d="M1095.4 1822.6H1136.4"/>
<path stroke="#ffab00" d="M1093.4 1821.9H1138.4"/>
<path stroke="#58258a" d="M1109.1 1821.3H1140.3"/>
<path stroke="#ffab00" d="M1118.7 1820.7H1142.3M1102.6 1820.0H1144.2M1105.5 1819.4H1146.2"/>
<path stroke="#4cb33b" d="M1104.0 1818.8H1148.2"/>
<path stroke="#58258a" d="M1124.2 1818.1H1150.1"/>
<path stroke="#4cb33b" d="M1112.6 1817.5H1152.1"/>
<path stroke="#ffab00" d="M1115.1 1816.9H1154.1"/>
<path stroke="#4cb33b" d="M1132.1 1816.2H1156.0"/>
<path stroke="#2290ab" d="M1125.1 1815.6H1158.0"/>
<path stroke="#ffab00" d="M1135.3 1815.0H1161.2M1146.5 1814.3H1164.5M1137.9 1813.7H1167.8"/>
<path stroke="#4cb33b" d="M1145.5 1813.1H1171.1M1157.7 1812.4H1174.4"/>
<path stroke="#58258a" d="M1158.3 1811.8H1177.6"/>
<path stroke="#4cb33b" d="M1157.9 1811.2H1180.9"/>
<path stroke="#ffab00" d="M1116.8 1810.5H1184.1M1165.5 1809.9H1186.2"/>
<path stroke="#58258a" d="M1146.1 1809.3H1188.3M1168.1 1808.6H1190.5"/>
<path stroke="#ffab00" d="M1143.6 1808.0H1192.6"/>
<path stroke="#4cb33b" d="M1170.8 1807.4H1194.7M1173.7 1806.7H1196.8"/>
<path stroke="#ffab00" d="M1179.0 1806.1H1198.9"/>
<path stroke="#58258a" d="M1184.4 1805.5H1201.1"/>
<path stroke="#4cb33b" d="M1190.0 1804.8H1203.2"/>
<path stroke="#ffab00" d="M1188.2 1804.2H1205.3"/>
<path stroke="#4cb33b" d="M1185.3 1803.6H1207.4"/>
<path stroke="#ffab00" d="M1173.6 1802.9H1209.5"/>
<path stroke="#58258a" d="M1180.3 1802.3H1211.6"/>
<path stroke="#ffab00" d="M1183.0 1801.7H1213.8"/>
<path stroke="#58258a" d="M1199.7 1801.0H1215.9"/>
<path stroke="#ffab00" d="M1197.7 1800.4H1218.1"/>
<path stroke="#4cb33b" d="M1197.4 1799.8H1220.6"/>
<path stroke="#58258a" d="M1191.7 1799.1H1223.1"/>
<path stroke="#2290ab" d="M1205.3 1798.5H1225.6"/>
<path stroke="#ffab00" d="M1186.9 1797.9H1228.2"/>
<path stroke="#58258a" d="M1209.7 1797.2H1230.7"/>
<path stroke="#4cb33b" d="M1180.1 1796.6H1233.2"/>
<path stroke="#ffab00" d="M1217.5 1796.0H1235.7M1216.0 1795.3H1238.3"/>
<path stroke="#58258a" d="M1224.3 1794.7H1240.8"/>
<path stroke="#4cb33b" d="M1221.4 1794.1H1243.3"/>
<path stroke="#2290ab" d="M1225.1 1793.4H1245.8"/>
<path stroke="#4cb33b" d="M1226.6 1792.8H1248.4"/>
<path stroke="#2290ab" d="M1228.9 1792.2H1250.9"/>
<path stroke="#58258a" d="M1229.0 1791.5H1253.9"/>
<path stroke="#ffab00" d="M1235.4 1790.9H1257.0"/>
<path stroke="#4cb33b" d="M1221.8 1790.3H1260.2M1245.7 1789.6H1263.3M1235.6 1789.0H1266.5M1241.8 1788.4H1269.7"/>
<path stroke="#ffab00" d="M1234.1 1787.7H1272.8M1251.4 1787.1H1276.0M1262.7 1786.5H1279.1"/>
<path stroke="#58258a" d="M1247.6 1785.8H1282.3"/>
<path stroke="#ffab00" d="M1273.9 1785.2H1285.4"/>
<path stroke="#58258a" d="M1274.0 1784.6H1288.6"/>
<path stroke="#ffab00" d="M1259.6 1783.9H1291.7"/>
<path stroke="#58258a" d="M1252.6 1783.3H1294.9M1251.2 1782.7H1298.0M1276.5 1782.0H1301.2M1285.3 1781.4H1302.5"/>
<path stroke="#2290ab" d="M1274.3 1780.8H1302.7"/>
<path stroke="#4cb33b" d="M1280.2 1780.1H1302.9M1224.6 1779.5H1303.1"/>
<path stroke="#ffab00" d="M1282.9 1778.9H1303.2"/>
<path stroke="#4cb33b" d="M1271.7 1778.2H1303.4M1289.3 1777.6H1303.6"/>
<path stroke="#ffab00" d="M1285.9 1777.0H1303.8"/>
<path stroke="#58258a" d="M1282.5 1776.3H1304.0"/>
<path stroke="#ffab00" d="M1280.6 1775.7H1304.2M1279.0 1775.1H1304.3"/>
<path stroke="#4cb33b" d="M1275.3 1774.4H1304.5"/>
<path stroke="#ffab00" d="M1284.5 1773.8H1304.7M1263.8 1773.2H1304.9"/>
<path stroke="#58258a" d="M1237.6 1772.5H1305.1"/>
<path stroke="#ffab00" d="M1271.6 1771.9H1305.2M1259.8 1771.3H1305.4M1269.9 1770.6H1305.6"/>
<path stroke="#4cb33b" d="M1278.2 1770.0H1305.8"/>
<path stroke="#ffab00" d="M1251.9 1769.4H1306.6"/>
<path stroke="#4cb33b" d="M1288.9 1768.7H1307.4"/>
<path stroke="#ffab00" d="M1282.1 1768.1H1308.1"/>
<path stroke="#58258a" d="M1285.8 1767.5H1308.9M1290.6 1766.8H1309.7"/>
<path stroke="#ffab00" d="M1277.9 1766.2H1310.5M1289.2 1765.6H1311.3"/>
<path stroke="#58258a" d="M1284.0 1764.9H1312.1"/>
<path stroke="#ffab00" d="M1276.8 1764.3H1312.9M1289.1 1763.7H1313.7M1264.5 1763.0H1314.4M1269.8 1762.4H1315.2M1277.9 1761.8H1316.0M1270.3 1761.1H1316.8M1294.0 1760.5H1317.6"/>
<path stroke="#4cb33b" d="M1295.3 1759.9H1318.4"/>
<path stroke="#ffab00" d="M1301.1 1759.2H1319.2"/>
<path stroke="#4cb33b" d="M1304.7 1758.6H1319.9M1286.9 1758.0H1320.7"/>
<path stroke="#ffab00" d="M1304.1 1757.3H1321.5"/>
<path stroke="#58258a" d="M1305.2 1756.7H1322.3"/>
<path stroke="#ffab00" d="M1303.2 1756.1H1323.0"/>
<path stroke="#4cb33b" d="M1304.7 1755.4H1323.6"/>
<path stroke="#58258a" d="M1302.0 1754.8H1324.1"/>
<path stroke="#ffab00" d="M1278.6 1754.2H1324.7M1250.2 1753.5H1325.3M1294.9 1752.9H1325.9M1295.7 1752.3H1326.5"/>
<path stroke="#58258a" d="M1279.0 1751.6H1327.0M1285.3 1751.0H1327.6M1299.2 1750.4H1328.2M1309.9 1749.7H1328.8"/>
<path stroke="#2290ab" d="M1242.3 1749.1H1329.4"/>
<path stroke="#ffab00" d="M1317.4 1748.5H1329.9"/>
<path stroke="#58258a" d="M1304.0 1747.8H1330.5M1297.3 1747.2H1331.1M1306.6 1746.6H1331.7M1303.6 1745.9H1332.3"/>
<path stroke="#4cb33b" d="M1302.4 1745.3H1332.8"/>
<path stroke="#ffab00" d="M1306.1 1744.7H1333.4"/>
<path stroke="#2290ab" d="M1313.1 1744.1H1334.0"/>
<path stroke="#ffab00" d="M1317.2 1743.4H1334.6"/>
<path stroke="#58258a" d="M1313.7 1742.8H1335.1M1310.7 1742.2H1335.7M1297.5 1741.5H1336.3"/>
<path stroke="#ffab00" d="M1311.2 1740.9H1336.9"/>
<path stroke="#58258a" d="M1292.4 1740.3H1337.5M1308.3 1739.6H1338.0"/>
<path stroke="#4cb33b" d="M1280.2 1739.0H1338.6"/>
<path stroke="#58258a" d="M1313.4 1738.4H1339.2M1317.8 1737.7H1339.9"/>
<path stroke="#ffab00" d="M1318.6 1737.1H1341.4"/>
<path stroke="#58258a" d="M1324.3 1736.5H1342.9"/>
<path stroke="#4cb33b" d="M1316.4 1735.8H1344.4"/>
<path stroke="#2290ab" d="M1329.7 1735.2H1345.9"/>
<path stroke="#ffab00" d="M1334.6 1734.6H1347.5"/>
<path stroke="#58258a" d="M1330.2 1733.9H1349.0M1323.4 1733.3H1350.5"/>
<path stroke="#ffab00" d="M1331.5 1732.7H1352.0"/>
<path stroke="#58258a" d="M1334.5 1732.0H1353.5M1323.9 1731.4H1355.0M1343.0 1730.8H1356.5"/>
<path stroke="#ffab00" d="M1316.0 1730.1H1358.0"/>
<path stroke="#58258a" d="M1345.3 1729.5H1359.6M1347.3 1728.9H1362.8"/>
<path stroke="#4cb33b" d="M1348.0 1728.2H1366.7"/>
<path stroke="#58258a" d="M1345.5 1727.6H1370.5"/>
<path stroke="#ffab00" d="M1326.7 1727.0H1374.4"/>
<path stroke="#58258a" d="M1358.8 1726.3H1378.3M1346.1 1725.7H1380.9"/>
<path stroke="#ffab00" d="M1361.9 1725.1H1382.2M1365.5 1724.4H1383.4"/>
<path stroke="#58258a" d="M1359.4 1723.8H1384.7"/>
<path stroke="#2290ab" d="M1369.8 1723.2H1386.0"/>
<path stroke="#58258a" d="M1367.9 1722.5H1387.2"/>
<path stroke="#ffab00" d="M1349.9 1721.9H1388.5"/>
<path stroke="#58258a" d="M1362.7 1721.3H1389.7M1366.5 1720.6H1391.0M1375.5 1720.0H1392.2M1349.4 1719.4H1393.5"/>
<path stroke="#ffab00" d="M1368.2 1718.7H1394.4"/>
<path stroke="#58258a" d="M1351.7 1718.1H1395.2"/>
<path stroke="#4cb33b" d="M1368.6 1717.5H1396.0"/>
<path stroke="#58258a" d="M1377.3 1716.8H1396.8"/>
<path stroke="#ffab00" d="M1370.4 1716.2H1397.6"/>
<path stroke="#58258a" d="M1371.6 1715.6H1398.4"/>
<path stroke="#ffab00" d="M1378.9 1714.9H1399.1"/>
<path stroke="#58258a" d="M1366.6 1714.3H1399.9M1374.0 1713.7H1400.7"/>
<path stroke="#4cb33b" d="M1383.2 1713.0H1401.5"/>
<path stroke="#58258a" d="M1370.9 1712.4H1402.3"/>
<path stroke="#ffab00" d="M1321.9 1711.8H1403.1"/>
<path stroke="#58258a" d="M1351.0 1711.1H1403.9M1375.9 1710.5H1404.7M1384.3 1709.9H1405.5"/>
<path stroke="#ffab00" d="M1385.9 1709.2H1406.3M1379.9 1708.6H1407.1"/>
<path stroke="#58258a" d="M1381.2 1708.0H1407.9"/>
<path stroke="#4cb33b" d="M1346.5 1707.3H1408.6"/>
<path stroke="#58258a" d="M1392.8 1706.7H1409.4M1368.4 1706.1H1410.2"/>
<path stroke="#2290ab" d="M1381.8 1705.4H1411.0"/>
<path stroke="#4cb33b" d="M1384.5 1704.8H1411.7"/>
<path stroke="#58258a" d="M1395.1 1704.2H1412.4"/>
<path stroke="#ffab00" d="M1375.0 1703.5H1413.1"/>
<path stroke="#2290ab" d="M1388.1 1702.9H1413.8"/>
<path stroke="#58258a" d="M1383.8 1702.3H1414.5M1393.9 1701.6H1415.2M1400.3 1701.0H1415.9M1385.0 1700.4H1416.6"/>
<path stroke="#4cb33b" d="M1393.0 1699.7H1417.3"/>
<path stroke="#58258a" d="M1394.6 1699.1H1418.0M1382.4 1698.5H1418.7"/>
<path stroke="#ffab00" d="M1389.9 1697.8H1419.4M1399.5 1697.2H1420.2"/>
<path stroke="#58258a" d="M1376.9 1696.6H1420.9M1406.8 1695.9H1421.6"/>
<path stroke="#4cb33b" d="M1399.0 1695.3H1422.3"/>
<path stroke="#58258a" d="M1392.1 1694.7H1423.0"/>
<path stroke="#4cb33b" d="M1388.9 1694.0H1423.7"/>
<path stroke="#ffab00" d="M1394.3 1693.4H1424.4"/>
<path stroke="#2290ab" d="M1393.0 1692.8H1425.1"/>
<path stroke="#58258a" d="M1388.8 1692.1H1425.8M1380.2 1691.5H1426.5M1401.8 1690.9H1427.2M1393.9 1690.2H1428.0"/>
<path stroke="#ffab00" d="M1411.9 1689.6H1429.0M1389.0 1689.0H1430.1"/>
<path stroke="#4cb33b" d="M1406.7 1688.3H1431.1"/>
<path stroke="#58258a" d="M1412.8 1687.7H1432.2M1406.9 1687.1H1433.2"/>
<path stroke="#2290ab" d="M1393.5 1686.4H1434.3"/>
<path stroke="#58258a" d="M1416.5 1685.8H1435.3"/>
<path stroke="#ffab00" d="M1411.5 1685.2H1436.4"/>
<path stroke="#58258a" d="M1418.3 1684.5H1437.4M1411.1 1683.9H1438.5"/>
<path stroke="#4cb33b" d="M1416.3 1683.3H1439.5"/>
<path stroke="#ffab00" d="M1414.3 1682.6H1440.6"/>
<path stroke="#58258a" d="M1409.6 1682.0H1441.6"/>
<path stroke="#4cb33b" d="M1419.1 1681.4H1442.7"/>
<path stroke="#2290ab" d="M1417.8 1680.7H1443.7M1411.4 1680.1H1444.8"/>
<path stroke="#58258a" d="M1428.2 1679.5H1445.7"/>
<path stroke="#ffab00" d="M1426.4 1678.8H1446.7M1397.4 1678.2H1447.7"/>
<path stroke="#4cb33b" d="M1428.9 1677.6H1448.6"/>
<path stroke="#58258a" d="M1424.8 1676.9H1449.6M1417.6 1676.3H1450.5"/>
<path stroke="#4cb33b" d="M1433.0 1675.7H1451.5"/>
<path stroke="#58258a" d="M1427.1 1675.0H1452.5M1419.7 1674.4H1453.4"/>
<path stroke="#ffab00" d="M1429.1 1673.8H1454.4"/>
<path stroke="#58258a" d="M1427.1 1673.1H1454.9M1439.7 1672.5H1455.1M1440.6 1671.9H1455.3M1441.3 1671.2H1455.4"/>
<path stroke="#ffab00" d="M1426.8 1670.6H1455.6"/>
<path stroke="#2290ab" d="M1396.0 1670.0H1455.8"/>
<path stroke="#ffab00" d="M1442.1 1669.3H1456.0"/>
<path stroke="#58258a" d="M1439.6 1668.7H1456.2M1429.8 1668.1H1456.4"/>
<path stroke="#ffab00" d="M1436.2 1667.4H1456.5M1434.5 1666.8H1456.7"/>
<path stroke="#58258a" d="M1433.4 1666.2H1456.9"/>
<path stroke="#4cb33b" d="M1437.0 1665.5H1457.1"/>
<path stroke="#58258a" d="M1438.2 1664.9H1457.3M1432.9 1664.3H1457.4M1427.0 1663.6H1457.6M1440.1 1663.0H1457.8M1427.2 1662.4H1458.0"/>
<path stroke="#ffab00" d="M1432.1 1661.7H1458.2"/>
<path stroke="#58258a" d="M1438.1 1661.1H1458.6"/>
<path stroke="#ffab00" d="M1435.1 1660.5H1459.1"/>
<path stroke="#58258a" d="M1432.0 1659.8H1459.5M1420.2 1659.2H1460.0M1430.3 1658.6H1460.5M1403.6 1657.9H1461.0M1435.6 1657.3H1461.4"/>
<path stroke="#4cb33b" d="M1436.3 1656.7H1461.9"/>
<path stroke="#58258a" d="M1445.0 1656.0H1462.4"/>
<path stroke="#4cb33b" d="M1439.3 1655.4H1462.9"/>
<path stroke="#2290ab" d="M1433.9 1654.8H1463.3"/>
<path stroke="#ffab00" d="M1434.1 1654.1H1463.8M1431.2 1653.5H1464.3"/>
<path stroke="#58258a" d="M1451.0 1652.9H1464.8M1435.8 1652.2H1465.2"/>
<path stroke="#4cb33b" d="M1441.9 1651.6H1465.7"/>
<path stroke="#58258a" d="M1444.7 1651.0H1466.2M1444.2 1650.3H1466.7"/>
<path stroke="#ffab00" d="M1400.1 1649.7H1467.1M1423.0 1649.1H1467.6"/>
<path stroke="#58258a" d="M1439.2 1648.4H1468.1"/>
<path stroke="#ffab00" d="M1446.1 1647.8H1468.6"/>
<path stroke="#2290ab" d="M1449.6 1647.2H1469.2"/>
<path stroke="#ffab00" d="M1420.8 1646.5H1469.9M1453.0 1645.9H1470.5"/>
<path stroke="#58258a" d="M1449.3 1645.3H1471.1"/>
<path stroke="#ffab00" d="M1454.2 1644.6H1471.8"/>
<path stroke="#58258a" d="M1450.8 1644.0H1472.4"/>
<path stroke="#4cb33b" d="M1442.6 1643.4H1473.0"/>
<path stroke="#58258a" d="M1437.9 1642.7H1473.7M1455.1 1642.1H1474.3"/>
<path stroke="#4cb33b" d="M1450.4 1641.5H1474.9"/>
<path stroke="#ffab00" d="M1430.1 1640.8H1475.6"/>
<path stroke="#2290ab" d="M1456.9 1640.2H1476.2"/>
<path stroke="#58258a" d="M1456.4 1639.6H1476.8M1456.2 1638.9H1477.5M1451.4 1638.3H1478.1M1428.2 1637.7H1478.8"/>
<path stroke="#4cb33b" d="M1464.7 1637.0H1479.7"/>
<path stroke="#58258a" d="M1466.9 1636.4H1480.5M1458.8 1635.8H1481.3M1459.4 1635.1H1482.2M1464.2 1634.5H1483.0M1422.2 1633.9H1483.8"/>
<path stroke="#ffab00" d="M1443.8 1633.2H1484.7"/>
<path stroke="#4cb33b" d="M1468.3 1632.6H1485.5"/>
<path stroke="#58258a" d="M1456.4 1632.0H1486.4M1463.5 1631.3H1487.2"/>
<path stroke="#4cb33b" d="M1473.6 1630.7H1488.0"/>
<path stroke="#58258a" d="M1460.4 1630.1H1488.9"/>
<path stroke="#ffab00" d="M1465.6 1629.4H1489.7"/>
<path stroke="#58258a" d="M1450.5 1628.8H1490.5M1464.5 1628.2H1491.4"/>
<path stroke="#ffab00" d="M1474.6 1627.5H1492.2M1468.2 1626.9H1493.1"/>
<path stroke="#4cb33b" d="M1474.7 1626.3H1493.9"/>
<path stroke="#58258a" d="M1473.0 1625.6H1494.8M1468.9 1625.0H1495.6M1471.6 1624.4H1496.5"/>
<path stroke="#ffab00" d="M1472.0 1623.7H1497.3"/>
<path stroke="#58258a" d="M1480.6 1623.1H1498.2M1476.0 1622.5H1499.0M1472.0 1621.8H1499.9"/>
<path stroke="#4cb33b" d="M1476.0 1621.2H1500.8M1479.0 1620.6H1501.6"/>
<path stroke="#58258a" d="M1480.6 1619.9H1502.5"/>
<path stroke="#ffab00" d="M1478.6 1619.3H1503.3M1478.6 1618.7H1504.2"/>
<path stroke="#58258a" d="M1461.2 1618.0H1505.0"/>
<path stroke="#ffab00" d="M1478.7 1617.4H1505.8"/>
<path stroke="#58258a" d="M1483.7 1616.8H1506.5M1478.1 1616.1H1507.2"/>
<path stroke="#4cb33b" d="M1489.8 1615.5H1507.9"/>
<path stroke="#58258a" d="M1483.1 1614.9H1508.6M1479.7 1614.2H1509.3M1459.7 1613.6H1510.0"/>
<path stroke="#ffab00" d="M1488.2 1613.0H1510.7M1495.9 1612.3H1511.4"/>
<path stroke="#58258a" d="M1483.4 1611.7H1512.1"/>
<path stroke="#ffab00" d="M1487.3 1611.1H1512.8"/>
<path stroke="#58258a" d="M1484.5 1610.4H1513.5"/>
<path stroke="#2290ab" d="M1490.7 1609.8H1514.2"/>
<path stroke="#58258a" d="M1477.5 1609.2H1514.9M1476.3 1608.5H1515.7"/>
<path stroke="#4cb33b" d="M1499.6 1607.9H1517.1"/>
<path stroke="#58258a" d="M1499.4 1607.3H1518.7M1487.0 1606.6H1520.3M1479.5 1606.0H1521.9M1500.3 1605.4H1523.5"/>
<path stroke="#ffab00" d="M1502.9 1604.7H1525.1M1489.0 1604.1H1526.7"/>
<path stroke="#58258a" d="M1497.5 1603.5H1527.8"/>
<path stroke="#ffab00" d="M1497.7 1602.8H1528.9"/>
<path stroke="#58258a" d="M1511.1 1602.2H1529.9M1514.6 1601.6H1530.9"/>
<path stroke="#ffab00" d="M1504.0 1600.9H1531.9"/>
<path stroke="#58258a" d="M1503.4 1600.3H1532.9"/>
<path stroke="#ffab00" d="M1484.9 1599.7H1533.9"/>
<path stroke="#58258a" d="M1508.6 1599.0H1534.9"/>
<path stroke="#ffab00" d="M1490.3 1598.4H1535.9M1509.9 1597.8H1537.0"/>
<path stroke="#58258a" d="M1515.0 1597.1H1538.0"/>
<path stroke="#ffab00" d="M1467.6 1596.5H1539.0"/>
<path stroke="#58258a" d="M1517.0 1595.9H1539.8"/>
<path stroke="#4cb33b" d="M1511.9 1595.2H1540.6"/>
<path stroke="#ffab00" d="M1526.5 1594.6H1541.3"/>
<path stroke="#58258a" d="M1522.1 1594.0H1542.1M1507.5 1593.3H1542.8M1468.4 1592.7H1543.6"/>
<path stroke="#ffab00" d="M1526.5 1592.1H1544.4"/>
<path stroke="#58258a" d="M1531.3 1591.4H1545.1M1530.3 1590.8H1545.9M1517.6 1590.2H1546.6M1520.2 1589.5H1547.4M1527.4 1588.9H1548.1M1528.1 1588.3H1548.9"/>
<path stroke="#4cb33b" d="M1531.5 1587.6H1549.7"/>
<path stroke="#58258a" d="M1519.9 1587.0H1550.5"/>
<path stroke="#4cb33b" d="M1494.7 1586.4H1551.2"/>
<path stroke="#2290ab" d="M1518.2 1585.7H1552.0"/>
<path stroke="#58258a" d="M1525.2 1585.1H1552.8M1539.8 1584.5H1553.6M1528.4 1583.8H1554.3M1519.6 1583.2H1555.1M1513.8 1582.6H1555.9"/>
<path stroke="#ffab00" d="M1544.5 1581.9H1556.7"/>
<path stroke="#58258a" d="M1533.4 1581.3H1557.4M1520.1 1580.7H1558.1"/>
<path stroke="#4cb33b" d="M1533.1 1580.0H1558.8"/>
<path stroke="#ffab00" d="M1533.7 1579.4H1559.4"/>
<path stroke="#4cb33b" d="M1533.6 1578.8H1560.0"/>
<path stroke="#58258a" d="M1543.9 1578.1H1560.6M1530.9 1577.5H1561.3M1526.1 1576.9H1561.9"/>
<path stroke="#4cb33b" d="M1535.0 1576.2H1562.5"/>
<path stroke="#58258a" d="M1549.5 1575.6H1563.1M1527.6 1575.0H1563.8M1541.0 1574.3H1564.4"/>
<path stroke="#ffab00" d="M1537.4 1573.7H1565.0"/>
<path stroke="#58258a" d="M1540.2 1573.1H1565.6M1539.2 1572.4H1566.3"/>
<path stroke="#ffab00" d="M1542.7 1571.8H1566.9"/>
<path stroke="#58258a" d="M1540.2 1571.2H1567.6"/>
<path stroke="#ffab00" d="M1549.2 1570.5H1568.4"/>
<path stroke="#58258a" d="M1555.2 1569.9H1569.1M1553.0 1569.3H1569.9"/>
<path stroke="#4cb33b" d="M1551.3 1568.6H1570.7M1500.3 1568.0H1571.4"/>
<path stroke="#ffab00" d="M1538.5 1567.4H1572.2"/>
<path stroke="#58258a" d="M1543.3 1566.7H1572.9"/>
<path stroke="#4cb33b" d="M1547.4 1566.1H1573.7"/>
<path stroke="#58258a" d="M1547.9 1565.5H1574.4"/>
<path stroke="#ffab00" d="M1559.0 1564.8H1575.2"/>
<path stroke="#58258a" d="M1553.7 1564.2H1576.0M1560.9 1563.6H1576.5M1535.0 1562.9H1577.1"/>
<path stroke="#ffab00" d="M1559.6 1562.3H1577.6M1559.9 1561.7H1578.1"/>
<path stroke="#58258a" d="M1560.3 1561.0H1578.6M1548.8 1560.4H1579.1M1537.7 1559.8H1579.6"/>
<path stroke="#ffab00" d="M1539.2 1559.1H1580.1M1550.6 1558.5H1580.6"/>
<path stroke="#2290ab" d="M1544.4 1557.9H1581.1"/>
<path stroke="#58258a" d="M1563.9 1557.2H1581.6M1545.2 1556.6H1582.2M1566.3 1556.0H1582.8M1552.3 1555.3H1583.5M1569.9 1554.7H1584.3"/>
<path stroke="#4cb33b" d="M1556.0 1554.1H1585.1"/>
<path stroke="#2290ab" d="M1565.3 1553.4H1585.8"/>
<path stroke="#4cb33b" d="M1568.1 1552.8H1586.6"/>
<path stroke="#58258a" d="M1568.8 1552.2H1587.3"/>
<path stroke="#ffab00" d="M1552.4 1551.5H1588.1M1550.1 1550.9H1588.8"/>
<path stroke="#4cb33b" d="M1558.0 1550.3H1589.6"/>
<path stroke="#58258a" d="M1555.9 1549.6H1590.4"/>
<path stroke="#ffab00" d="M1560.4 1549.0H1591.1"/>
<path stroke="#58258a" d="M1572.4 1548.4H1591.9"/>
<path stroke="#2290ab" d="M1570.4 1547.7H1592.6"/>
<path stroke="#58258a" d="M1543.7 1547.1H1593.4M1554.4 1546.5H1594.1M1566.6 1545.8H1594.8M1563.9 1545.2H1595.6M1582.5 1544.6H1596.3"/>
<path stroke="#ffab00" d="M1577.5 1543.9H1597.1"/>
<path stroke="#58258a" d="M1558.9 1543.3H1597.8"/>
<path stroke="#4cb33b" d="M1567.9 1542.7H1598.6"/>
<path stroke="#58258a" d="M1581.4 1542.0H1599.3M1577.7 1541.4H1600.0M1519.0 1540.8H1600.8M1573.3 1540.1H1601.5"/>
<path stroke="#ffab00" d="M1572.7 1539.5H1602.3M1579.1 1538.9H1603.2"/>
<path stroke="#2290ab" d="M1588.8 1538.2H1604.1"/>
<path stroke="#58258a" d="M1586.3 1537.6H1605.1"/>
<path stroke="#2290ab" d="M1576.6 1537.0H1606.0"/>
<path stroke="#4cb33b" d="M1590.7 1536.3H1606.9"/>
<path stroke="#58258a" d="M1587.9 1535.7H1607.9"/>
<path stroke="#2290ab" d="M1587.2 1535.1H1608.8"/>
<path stroke="#58258a" d="M1577.8 1534.4H1609.8M1592.1 1533.8H1610.7"/>
<path stroke="#ffab00" d="M1590.9 1533.2H1611.6"/>
<path stroke="#58258a" d="M1585.2 1532.5H1612.1M1583.3 1531.9H1612.7M1592.7 1531.3H1613.2M1596.8 1530.6H1613.7M1593.9 1530.0H1614.3M1562.7 1529.4H1614.8"/>
<path stroke="#ffab00" d="M1596.0 1528.7H1615.3"/>
<path stroke="#58258a" d="M1589.9 1528.1H1615.9"/>
<path stroke="#ffab00" d="M1599.5 1527.5H1616.4"/>
<path stroke="#58258a" d="M1600.4 1526.8H1616.9M1583.3 1526.2H1617.4M1600.9 1525.6H1618.0M1575.2 1524.9H1618.5M1591.0 1524.3H1619.0M1593.0 1523.7H1619.6"/>
<path stroke="#ffab00" d="M1593.0 1523.0H1620.1"/>
<path stroke="#58258a" d="M1580.3 1522.4H1620.6M1583.3 1521.8H1621.1"/>
<path stroke="#ffab00" d="M1595.3 1521.1H1621.7"/>
<path stroke="#2290ab" d="M1605.3 1520.5H1622.2"/>
<path stroke="#58258a" d="M1600.7 1519.9H1622.7M1598.4 1519.2H1623.2M1591.6 1518.6H1623.8M1601.6 1518.0H1624.3M1603.5 1517.3H1624.8"/>
<path stroke="#ffab00" d="M1610.4 1516.7H1625.3"/>
<path stroke="#58258a" d="M1579.4 1516.1H1625.9M1586.1 1515.4H1626.4"/>
<path stroke="#ffab00" d="M1591.9 1514.8H1626.9"/>
<path stroke="#58258a" d="M1612.9 1514.2H1627.6"/>
<path stroke="#ffab00" d="M1599.1 1513.5H1628.4"/>
<path stroke="#58258a" d="M1580.3 1512.9H1629.1M1609.1 1512.3H1629.8M1588.9 1511.6H1630.6M1597.1 1511.0H1631.3M1612.3 1510.4H1632.1"/>
<path stroke="#ffab00" d="M1587.1 1509.7H1632.8"/>
<path stroke="#58258a" d="M1611.0 1509.1H1633.6M1596.0 1508.5H1634.3M1619.6 1507.8H1635.0M1611.9 1507.2H1635.8M1602.1 1506.6H1636.5M1612.0 1505.9H1637.3"/>
<path stroke="#ffab00" d="M1619.8 1505.3H1637.9M1616.8 1504.7H1638.1"/>
<path stroke="#58258a" d="M1622.5 1504.0H1638.3M1610.2 1503.4H1638.6M1607.3 1502.8H1638.8"/>
<path stroke="#4cb33b" d="M1621.0 1502.1H1639.1"/>
<path stroke="#2290ab" d="M1610.6 1501.5H1639.3"/>
<path stroke="#58258a" d="M1609.3 1500.9H1639.5M1623.3 1500.2H1639.8M1588.3 1499.6H1640.0"/>
<path stroke="#ffab00" d="M1599.8 1499.0H1640.2M1620.3 1498.3H1640.5M1612.2 1497.7H1640.7"/>
<path stroke="#58258a" d="M1618.9 1497.1H1640.9"/>
<path stroke="#4cb33b" d="M1608.2 1496.4H1641.2"/>
<path stroke="#ffab00" d="M1623.8 1495.8H1641.4M1618.8 1495.2H1641.7"/>
<path stroke="#58258a" d="M1625.1 1494.5H1641.9M1605.5 1493.9H1642.1"/>
<path stroke="#4cb33b" d="M1625.6 1493.3H1642.4"/>
<path stroke="#ffab00" d="M1621.6 1492.6H1644.3M1616.1 1492.0H1646.5"/>
<path stroke="#58258a" d="M1620.1 1491.4H1648.7M1630.2 1490.8H1651.6"/>
<path stroke="#4cb33b" d="M1615.9 1490.1H1655.7"/>
<path stroke="#ffab00" d="M1621.1 1489.5H1659.8"/>
<path stroke="#58258a" d="M1638.6 1488.9H1663.9"/>
<path stroke="#2290ab" d="M1647.9 1488.2H1666.0"/>
<path stroke="#58258a" d="M1645.9 1487.6H1666.9M1650.6 1487.0H1667.7"/>
<path stroke="#ffab00" d="M1609.8 1486.3H1668.6M1646.9 1485.7H1669.4M1644.0 1485.1H1670.3"/>
<path stroke="#58258a" d="M1610.3 1484.4H1671.1M1656.5 1483.8H1671.8"/>
<path stroke="#ffab00" d="M1652.6 1483.2H1672.0"/>
<path stroke="#58258a" d="M1650.7 1482.5H1672.2M1630.4 1481.9H1672.5"/>
<path stroke="#4cb33b" d="M1652.3 1481.3H1672.7"/>
<path stroke="#ffab00" d="M1630.3 1480.6H1673.0M1634.3 1480.0H1673.2"/>
<path stroke="#4cb33b" d="M1619.1 1479.4H1673.4"/>
<path stroke="#58258a" d="M1653.7 1478.7H1673.7"/>
<path stroke="#4cb33b" d="M1646.3 1478.1H1673.9"/>
<path stroke="#ffab00" d="M1640.6 1477.5H1674.1M1650.6 1476.8H1674.4"/>
<path stroke="#58258a" d="M1639.6 1476.2H1674.6"/>
<path stroke="#ffab00" d="M1635.9 1475.6H1674.8"/>
<path stroke="#4cb33b" d="M1651.3 1474.9H1675.1"/>
<path stroke="#ffab00" d="M1650.6 1474.3H1675.3"/>
<path stroke="#58258a" d="M1656.0 1473.7H1675.5"/>
<path stroke="#ffab00" d="M1653.5 1473.0H1675.8M1641.9 1472.4H1676.0M1658.4 1471.8H1676.2"/>
<path stroke="#4cb33b" d="M1660.6 1471.1H1676.8"/>
<path stroke="#58258a" d="M1653.6 1470.5H1677.4"/>
<path stroke="#4cb33b" d="M1655.8 1469.9H1678.0"/>
<path stroke="#ffab00" d="M1649.7 1469.2H1678.7M1660.4 1468.6H1679.3M1660.1 1468.0H1680.9M1625.8 1467.3H1682.7M1660.8 1466.7H1684.5M1634.3 1466.1H1685.0"/>
<path stroke="#4cb33b" d="M1620.3 1465.4H1685.0M1637.6 1464.8H1685.0M1650.2 1464.2H1685.0M1635.1 1463.5H1685.0M1646.3 1462.9H1685.0M1621.3 1462.3H1685.0M1646.3 1461.6H1685.0M1640.7 1461.0H1685.0M1638.3 1460.4H1685.0M1641.0 1459.7H1685.0M1653.5 1459.1H1685.0M1643.7 1458.5H1685.0M1648.6 1457.8H1685.0M1638.6 1457.2H1685.0M1633.4 1456.6H1685.0M1653.2 1455.9H1685.0M1650.2 1455.3H1685.0M1652.5 1454.7H1685.0M1620.6 1454.0H1685.0"/>
<path stroke="#58258a" d="M1645.0 1453.4H1685.0M1646.3 1452.8H1685.0M1620.2 1452.1H1685.0M1632.0 1451.5H1685.0M1627.4 1450.9H1685.0M1644.6 1450.2H1685.0M1651.9 1449.6H1685.0M1648.3 1449.0H1685.0M1652.1 1448.3H1685.0M1647.7 1447.7H1685.0M1646.3 1447.1H1685.0M1645.4 1446.4H1685.0M1619.2 1445.8H1685.0M1643.6 1445.2H1685.0"/>
<path stroke="#ffab00" d="M1670.2 1444.5H1685.0M1670.1 1443.9H1685.0M1660.2 1443.3H1685.0M1665.0 1442.6H1685.0M1667.2 1442.0H1685.0M1665.5 1441.4H1685.0M1667.2 1440.7H1685.0M1660.3 1440.1H1685.0M1662.9 1439.5H1685.0M1670.7 1438.8H1685.0M1665.5 1438.2H1685.0M1669.5 1437.6H1685.0M1663.2 1436.9H1685.0M1666.2 1436.3H1685.0M1657.2 1435.7H1685.0M1648.0 1435.0H1685.0M1658.0 1434.4H1685.0M1662.2 1433.8H1685.0M1665.2 1433.1H1685.0M1670.5 1432.5H1685.0M1658.4 1431.9H1685.0M1670.0 1431.2H1685.0M1667.8 1430.6H1685.0M1663.2 1430.0H1685.0M1669.4 1429.3H1685.0M1652.9 1428.7H1685.0M1664.2 1428.1H1685.0M1647.6 1427.4H1685.0M1670.7 1426.8H1685.0M1666.2 1426.2H1685.0M1668.7 1425.5H1685.0M1663.4 1424.9H1685.0M1661.2 1424.3H1685.0M1663.0 1423.6H1685.0M1649.3 1423.0H1685.0M1666.6 1422.4H1685.0M1667.9 1421.7H1685.0M1657.7 1421.1H1685.0M1664.0 1420.5H1685.0M1669.3 1419.8H1685.0M1650.2 1419.2H1685.0M1669.8 1418.6H1685.0M1670.6 1417.9H1685.0M1664.4 1417.3H1685.0M1650.7 1416.7H1685.0M1653.3 1416.0H1685.0M1655.0 1415.4H1685.0M1662.4 1414.8H1685.0"/>
<path stroke="#58258a" d="M1669.6 1414.1H1685.0M1673.3 1413.5H1685.0M1674.4 1412.9H1685.0M1671.0 1412.2H1685.0M1659.7 1411.6H1685.0M1668.6 1411.0H1685.0M1653.2 1410.3H1685.0M1661.0 1409.7H1685.0M1668.9 1409.1H1685.0M1667.7 1408.4H1685.0M1671.5 1407.8H1685.0M1656.6 1407.2H1685.0M1659.7 1406.5H1685.0M1674.3 1405.9H1685.0M1656.9 1405.3H1685.0M1665.2 1404.6H1685.0M1672.4 1404.0H1685.0M1663.0 1403.4H1685.0M1671.4 1402.7H1685.0M1664.7 1402.1H1685.0M1669.8 1401.5H1685.0M1666.6 1400.8H1685.0M1656.0 1400.2H1685.0M1657.4 1399.6H1685.0M1670.3 1398.9H1685.0M1672.0 1398.3H1685.0M1664.0 1397.7H1685.0M1665.5 1397.0H1685.0M1674.7 1396.4H1685.0M1669.7 1395.8H1685.0M1673.4 1395.1H1685.0M1666.1 1394.5H1685.0M1674.3 1393.9H1685.0M1673.2 1393.2H1685.0M1673.7 1392.6H1685.0M1673.4 1392.0H1685.0M1668.4 1391.3H1685.0M1658.5 1390.7H1685.0M1666.3 1390.1H1685.0M1666.2 1389.4H1685.0M1662.4 1388.8H1685.0M1671.9 1388.2H1685.0M1671.3 1387.5H1685.0M1666.0 1386.9H1685.0M1674.1 1386.3H1685.0M1662.7 1385.6H1685.0M1656.0 1385.0H1685.0M1657.8 1384.4H1685.0M1674.7 1383.7H1685.0M1656.3 1383.1H1685.0M1673.9 1382.5H1685.0"/>
<path stroke="#4cb33b" d="M1670.3 1381.8H1685.0M1659.7 1381.2H1685.0M1667.6 1380.6H1685.0M1670.0 1379.9H1685.0M1660.1 1379.3H1685.0M1662.6 1378.7H1685.0M1662.6 1378.0H1685.0M1663.4 1377.4H1685.0M1659.7 1376.8H1685.0M1652.5 1376.1H1685.0M1655.3 1375.5H1685.0M1656.0 1374.9H1685.0M1649.8 1374.2H1685.0M1664.7 1373.6H1685.0M1658.8 1373.0H1685.0M1670.4 1372.3H1685.0M1670.6 1371.7H1685.0M1665.1 1371.1H1685.0M1657.1 1370.4H1685.0M1669.4 1369.8H1685.0M1641.8 1369.2H1685.0M1668.6 1368.5H1685.0M1664.1 1367.9H1685.0M1664.7 1367.3H1685.0M1641.0 1366.6H1685.0M1670.2 1366.0H1685.0M1669.2 1365.4H1685.0M1659.1 1364.7H1685.0M1667.3 1364.1H1685.0M1667.7 1363.5H1685.0M1670.3 1362.8H1685.0M1644.5 1362.2H1685.0M1665.4 1361.6H1685.0M1661.2 1360.9H1685.0M1669.3 1360.3H1685.0M1643.3 1359.7H1685.0M1670.5 1359.0H1685.0M1656.3 1358.4H1685.0M1670.6 1357.8H1685.0M1662.8 1357.1H1685.0M1668.0 1356.5H1685.0M1642.3 1355.9H1685.0M1665.5 1355.2H1685.0"/>
</g>
<rect x="118.5" y="1333.3" width="1565.0" height="1044.0" fill="none" stroke="#b0b0b0" stroke-width="1.3"/>
<g stroke="#b0b0b0" stroke-width="1.3">
<line x1="250.2" y1="1323.8" x2="250.2" y2="1333.3"/>
<line x1="250.2" y1="2377.3" x2="250.2" y2="2386.8"/>
<line x1="454.6" y1="1323.8" x2="454.6" y2="1333.3"/>
<line x1="454.6" y1="2377.3" x2="454.6" y2="2386.8"/>
<line x1="659.1" y1="1323.8" x2="659.1" y2="1333.3"/>
<line x1="659.1" y1="2377.3" x2="659.1" y2="2386.8"/>
<line x1="863.5" y1="1323.8" x2="863.5" y2="1333.3"/>
<line x1="863.5" y1="2377.3" x2="863.5" y2="2386.8"/>
<line x1="1067.9" y1="1323.8" x2="1067.9" y2="1333.3"/>
<line x1="1067.9" y1="2377.3" x2="1067.9" y2="2386.8"/>
<line x1="1272.3" y1="1323.8" x2="1272.3" y2="1333.3"/>
<line x1="1272.3" y1="2377.3" x2="1272.3" y2="2386.8"/>
<line x1="1476.8" y1="1323.8" x2="1476.8" y2="1333.3"/>
<line x1="1476.8" y1="2377.3" x2="1476.8" y2="2386.8"/>
<line x1="1681.2" y1="1323.8" x2="1681.2" y2="1333.3"/>
<line x1="1681.2" y1="2377.3" x2="1681.2" y2="2386.8"/>
<line x1="109.0" y1="2377.3" x2="118.5" y2="2377.3"/>
<line x1="109.0" y1="2250.7" x2="118.5" y2="2250.7"/>
<line x1="109.0" y1="2124.0" x2="118.5" y2="2124.0"/>
<line x1="109.0" y1="1997.4" x2="118.5" y2="1997.4"/>
<line x1="109.0" y1="1870.7" x2="118.5" y2="1870.7"/>
<line x1="109.0" y1="1744.1" x2="118.5" y2="1744.1"/>
<line x1="109.0" y1="1617.4" x2="118.5" y2="1617.4"/>
<line x1="109.0" y1="1490.8" x2="118.5" y2="1490.8"/>
<line x1="109.0" y1="1364.1" x2="118.5" y2="1364.1"/>
</g>
<g font-size="20.6" fill="#4d4d4d" text-anchor="middle">
<text x="248.7" y="1309.2">6950</text>
<text x="249.7" y="2408.1" font-size="20.7">−5000</text>
<text x="453.1" y="1309.2">5950</text>
<text x="454.1" y="2408.1" font-size="20.7">−4000</text>
<text x="657.6" y="1309.2">4950</text>
<text x="658.6" y="2408.1" font-size="20.7">−3000</text>
<text x="862.0" y="1309.2">3950</text>
<text x="863.0" y="2408.1" font-size="20.7">−2000</text>
<text x="1066.4" y="1309.2">2950</text>
<text x="1067.4" y="2408.1" font-size="20.7">−1000</text>
<text x="1270.8" y="1309.2">1950</text>
<text x="1271.8" y="2408.1" font-size="20.7">0</text>
<text x="1475.3" y="1309.2">950</text>
<text x="1476.3" y="2408.1" font-size="20.7">1000</text>
<text x="1679.7" y="1309.2">−50</text>
<text x="1680.7" y="2408.1" font-size="20.7">2000</text>
</g>
<g font-size="23" fill="#4d4d4d" text-anchor="end">
<text x="107.4" y="2384.9">0</text>
<text x="107.4" y="2258.2">200</text>
<text x="107.4" y="2131.6">400</text>
<text x="107.4" y="2005.0">600</text>
<text x="107.4" y="1878.3">800</text>
<text x="107.4" y="1751.7">1000</text>
<text x="107.4" y="1625.0">1200</text>
<text x="107.4" y="1498.4">1400</text>
<text x="107.4" y="1371.7">1600</text>
</g>
<text x="882" y="1267.9" font-size="21" fill="#000" textLength="81.3" lengthAdjust="spacingAndGlyphs">Year (BP)</text>
<text x="856" y="2461.8" font-size="21" fill="#000" textLength="127" lengthAdjust="spacingAndGlyphs">Year (BCE/CE)</text>
<text transform="translate(18.9 1861.4) rotate(-90)" font-size="24.5" fill="#000" text-anchor="middle" textLength="169" lengthAdjust="spacingAndGlyphs">Nb of s amples</text>
<text x="78" y="1288.6" font-size="25" fill="#000">b.</text>
<rect x="846" y="2266" width="800" height="87" fill="#fff"/>
<text x="865" y="2322.5" font-size="21" fill="#000">River</text>
<line x1="996.7" y1="2288.7" x2="996.7" y2="2331" stroke="#58258a" stroke-width="3"/>
<text x="1040.2" y="2320.4" font-size="21" fill="#000">Kha dyta</text>
<line x1="1182.6" y1="2288.7" x2="1182.6" y2="2331" stroke="#2290ab" stroke-width="3"/>
<text x="1226.1" y="2320.4" font-size="21" fill="#000">Portsa</text>
<line x1="1346.8" y1="2288.7" x2="1346.8" y2="2331" stroke="#4cb33b" stroke-width="3"/>
<text x="1390.3" y="2320.4" font-size="21" fill="#000">Tanlova</text>
<line x1="1524.7" y1="2288.7" x2="1524.7" y2="2331" stroke="#ffab00" stroke-width="3"/>
<text x="1568.2" y="2320.4" font-size="21" fill="#000">Yada</text>
<rect x="130" y="1348.4" width="798" height="523" fill="#fff"/>
<rect x="130" y="1860" width="700" height="62" fill="#fff"/>
<line x1="193.8" y1="1725" x2="908.0" y2="1725" stroke="#dcdcdc" stroke-width="1.3"/>
<g stroke="#b0b0b0" stroke-width="1.3">
<line x1="184.5" y1="1394.6" x2="193.8" y2="1394.6"/>
<line x1="184.5" y1="1477.6" x2="193.8" y2="1477.6"/>
<line x1="184.5" y1="1560.2" x2="193.8" y2="1560.2"/>
<line x1="184.5" y1="1642.6" x2="193.8" y2="1642.6"/>
<line x1="184.5" y1="1725.0" x2="193.8" y2="1725.0"/>
<line x1="208.7" y1="1740.6" x2="208.7" y2="1750"/>
<line x1="295.9" y1="1740.6" x2="295.9" y2="1750"/>
<line x1="383.2" y1="1740.6" x2="383.2" y2="1750"/>
<line x1="470.4" y1="1740.6" x2="470.4" y2="1750"/>
<line x1="557.6" y1="1740.6" x2="557.6" y2="1750"/>
<line x1="644.8" y1="1740.6" x2="644.8" y2="1750"/>
<line x1="732.1" y1="1740.6" x2="732.1" y2="1750"/>
<line x1="819.3" y1="1740.6" x2="819.3" y2="1750"/>
<line x1="906.5" y1="1740.6" x2="906.5" y2="1750"/>
</g>
<g font-size="23.5" fill="#4d4d4d" text-anchor="middle">
<text x="202.2" y="1773.6">50</text>
<text x="289.4" y="1773.6">100</text>
<text x="376.7" y="1773.6">150</text>
<text x="463.9" y="1773.6">200</text>
<text x="551.1" y="1773.6">250</text>
<text x="638.3" y="1773.6">300</text>
<text x="725.6" y="1773.6">350</text>
<text x="812.8" y="1773.6">400</text>
<text x="900.0" y="1773.6">450</text>
</g>
<text x="525" y="1824" font-size="21" fill="#000" text-anchor="middle" textLength="76" lengthAdjust="spacingAndGlyphs">Tree age</text>
<text transform="translate(166 1570) rotate(-90)" font-size="21" fill="#000" text-anchor="middle" textLength="67" lengthAdjust="spacingAndGlyphs">Density</text>
<text x="868.5" y="1421.5" font-size="25" font-weight="bold" fill="#000">c.</text>
<defs><clipPath id="cclip"><rect x="193.8" y="1380.0" width="714.2" height="360.6"/></clipPath></defs>
<g clip-path="url(#cclip)" fill="none" stroke-width="3.2" stroke-linecap="round" stroke-linejoin="round">
<path stroke="#fcecc9" d="M194.0 1662.5 C201.4 1646.9 225.2 1592.7 238.5 1568.9 C251.8 1545.1 264.2 1530.0 273.6 1519.8 C283.0 1509.6 284.9 1508.0 294.7 1508.0 C304.4 1508.0 318.1 1513.9 332.1 1519.8 C346.1 1525.7 365.2 1533.8 378.9 1543.2 C392.5 1552.6 402.3 1561.9 414.0 1575.9 C425.7 1589.9 435.5 1614.1 449.1 1627.4 C462.8 1640.7 480.3 1648.5 495.9 1655.5 C511.5 1662.5 527.6 1663.7 542.7 1669.5 C557.9 1675.3 571.6 1685.3 586.8 1690.6 C601.9 1695.9 614.1 1699.0 633.6 1701.1 C653.1 1703.2 684.3 1701.8 703.8 1703.4 C723.3 1705.0 735.0 1708.0 750.6 1710.5 C766.2 1713.0 780.8 1716.7 797.4 1718.6 C814.0 1720.5 831.7 1721.2 850.0 1722.0 C868.3 1722.8 897.5 1723.2 907.0 1723.5"/>
<path stroke="#dcecf2" d="M194.0 1675.0 C201.7 1659.2 226.7 1604.5 240.0 1580.0 C253.3 1555.5 264.1 1538.4 273.6 1528.0 C283.1 1517.6 285.9 1517.1 297.0 1517.4 C308.1 1517.7 324.4 1524.2 340.0 1530.0 C355.6 1535.8 374.4 1540.2 390.6 1552.5 C406.8 1564.8 421.8 1588.4 437.4 1604.0 C453.0 1619.6 467.1 1635.2 484.2 1646.1 C501.3 1657.0 524.9 1664.4 540.0 1669.5 C555.1 1674.6 563.4 1674.5 575.1 1676.5 C586.8 1678.5 596.6 1676.9 610.2 1681.2 C623.9 1685.5 641.4 1696.8 657.0 1702.3 C672.6 1707.8 686.6 1710.9 703.8 1714.0 C721.0 1717.1 726.1 1719.3 760.0 1721.0 C793.9 1722.7 882.5 1723.5 907.0 1724.0"/>
<path stroke="#fdd77c" d="M194.0 1683.5 C199.5 1670.2 215.5 1628.2 226.8 1604.0 C238.1 1579.8 251.4 1555.7 261.9 1538.5 C272.4 1521.3 281.0 1508.2 290.0 1501.0 C299.0 1493.8 306.7 1493.6 315.7 1495.2 C324.7 1496.8 333.3 1504.8 343.8 1510.4 C354.3 1516.1 369.1 1522.9 378.9 1529.1 C388.6 1535.3 392.6 1536.9 402.3 1547.8 C412.1 1558.7 425.7 1581.3 437.4 1594.6 C449.1 1607.9 460.8 1619.6 472.5 1627.4 C484.2 1635.2 495.9 1635.6 507.6 1641.4 C519.3 1647.2 531.5 1655.1 542.7 1662.5 C554.0 1669.9 563.9 1680.2 575.1 1685.9 C586.4 1691.6 596.6 1694.1 610.2 1696.4 C623.9 1698.8 641.4 1698.2 657.0 1700.0 C672.6 1701.8 688.2 1704.3 703.8 1707.0 C719.4 1709.7 735.0 1714.0 750.6 1716.3 C766.2 1718.6 771.3 1719.9 797.4 1721.0 C823.5 1722.1 888.7 1722.7 907.0 1723.0"/>
<path stroke="#f0a637" d="M194.0 1692.9 C199.5 1678.1 215.5 1630.5 226.8 1604.0 C238.1 1577.5 250.2 1551.3 261.9 1533.8 C273.6 1516.2 286.5 1505.9 297.0 1498.7 C307.5 1491.5 315.6 1492.8 325.0 1490.5 C334.4 1488.2 344.2 1484.1 353.2 1484.7 C362.2 1485.3 370.7 1487.8 378.9 1494.0 C387.1 1500.2 394.5 1509.6 402.3 1522.1 C410.1 1534.6 417.9 1553.3 425.7 1568.9 C433.5 1584.5 439.4 1600.9 449.1 1615.7 C458.9 1630.5 472.5 1645.7 484.2 1657.8 C495.9 1669.9 510.0 1681.5 519.3 1688.2 C528.6 1694.9 533.4 1694.9 540.0 1698.0 C546.6 1701.1 550.9 1705.3 558.7 1707.0 C566.5 1708.7 578.2 1708.7 586.8 1708.1 C595.4 1707.5 598.5 1704.0 610.2 1703.4 C621.9 1702.8 641.4 1703.6 657.0 1704.6 C672.6 1705.6 690.1 1707.3 703.8 1709.3 C717.5 1711.2 723.4 1714.3 739.0 1716.3 C754.6 1718.2 779.9 1720.2 797.4 1721.0 C814.9 1721.8 828.6 1720.9 844.2 1721.0 C859.8 1721.1 880.5 1721.3 891.0 1721.5 C901.5 1721.7 904.3 1721.9 907.0 1722.0"/>
<path stroke="#37afae" d="M194.0 1661.3 C199.5 1651.8 215.5 1623.3 226.8 1604.0 C238.1 1584.7 250.2 1560.1 261.9 1545.5 C273.6 1530.9 285.3 1518.9 297.0 1516.2 C308.7 1513.5 320.4 1523.4 332.1 1529.1 C343.8 1534.8 355.5 1544.5 367.2 1550.2 C378.9 1555.9 390.6 1560.1 402.3 1563.0 C414.0 1565.9 427.6 1565.2 437.4 1567.7 C447.1 1570.2 453.0 1572.2 460.8 1578.3 C468.6 1584.3 476.4 1593.9 484.2 1604.0 C492.0 1614.1 499.8 1628.6 507.6 1639.1 C515.4 1649.6 522.3 1659.8 531.0 1667.2 C539.7 1674.6 550.7 1678.8 560.0 1683.5 C569.3 1688.2 574.5 1690.9 586.8 1695.2 C599.1 1699.5 618.0 1705.8 633.6 1709.3 C649.2 1712.8 664.8 1714.3 680.4 1716.3 C696.0 1718.2 710.6 1719.7 727.2 1721.0 C743.8 1722.3 750.0 1723.4 780.0 1724.0 C810.0 1724.6 885.8 1724.4 907.0 1724.5"/>
<path stroke="#5b1612" d="M194.0 1697.6 C199.5 1683.9 215.5 1646.9 226.8 1615.7 C238.1 1584.5 252.1 1534.2 261.9 1510.4 C271.6 1486.6 277.9 1480.7 285.3 1473.0 C292.7 1465.3 298.6 1464.0 306.4 1464.0 C314.2 1464.0 322.8 1467.6 332.1 1473.0 C341.5 1478.4 352.8 1486.3 362.5 1496.4 C372.2 1506.5 382.0 1519.0 390.6 1533.8 C399.2 1548.6 406.2 1567.8 414.0 1585.3 C421.8 1602.8 427.6 1623.5 437.4 1639.1 C447.1 1654.7 459.6 1670.5 472.5 1678.9 C485.4 1687.3 502.5 1688.6 514.6 1689.4 C526.7 1690.2 535.7 1686.0 545.0 1683.5 C554.3 1681.0 559.5 1677.0 570.4 1674.2 C581.3 1671.4 597.7 1666.3 610.2 1666.7 C622.7 1667.1 633.6 1671.0 645.3 1676.5 C657.0 1682.0 670.6 1693.8 680.4 1700.0 C690.1 1706.2 696.0 1710.5 703.8 1714.0 C711.6 1717.5 717.8 1719.3 727.2 1721.0 C736.6 1722.7 730.0 1723.4 760.0 1724.0 C790.0 1724.6 882.5 1724.4 907.0 1724.5"/>
<path stroke="#d33c4f" d="M194.0 1695.2 C199.5 1680.0 217.4 1630.9 226.8 1604.0 C236.2 1577.1 242.4 1555.2 250.2 1533.8 C258.0 1512.3 264.8 1490.2 273.6 1475.3 C282.4 1460.4 294.2 1447.1 302.8 1444.4 C311.4 1441.7 317.4 1451.0 325.0 1458.9 C332.6 1466.8 340.7 1479.2 348.5 1491.7 C356.3 1504.2 361.0 1519.8 371.9 1533.8 C382.8 1547.8 401.1 1560.3 414.0 1575.9 C426.9 1591.5 437.4 1611.8 449.1 1627.4 C460.8 1643.0 472.5 1660.2 484.2 1669.5 C495.9 1678.8 510.0 1680.6 519.3 1683.5 C528.6 1686.4 528.8 1683.5 540.0 1687.0 C551.2 1690.5 571.2 1699.7 586.8 1704.6 C602.4 1709.5 618.0 1715.1 633.6 1716.3 C649.2 1717.5 660.9 1712.0 680.4 1711.6 C699.9 1711.2 731.1 1712.8 750.6 1714.0 C770.1 1715.2 783.8 1717.2 797.4 1718.6 C811.0 1720.0 814.2 1721.3 832.5 1722.2 C850.8 1723.1 894.6 1723.7 907.0 1724.0"/>
<path stroke="#1f6db3" d="M194.0 1701.1 C199.5 1692.7 215.5 1671.7 226.8 1650.8 C238.1 1629.9 251.0 1595.4 261.9 1575.9 C272.8 1556.4 282.6 1545.5 292.3 1533.8 C302.1 1522.1 311.8 1514.7 320.4 1505.7 C329.0 1496.7 337.0 1485.3 343.8 1480.0 C350.6 1474.7 354.7 1472.9 361.3 1474.1 C367.9 1475.3 374.8 1478.6 383.6 1487.0 C392.4 1495.4 405.0 1510.4 414.0 1524.4 C423.0 1538.4 429.6 1554.0 437.4 1571.2 C445.2 1588.4 453.0 1611.8 460.8 1627.4 C468.6 1643.0 474.4 1657.0 484.2 1664.8 C493.9 1672.6 506.7 1672.8 519.3 1674.2 C531.9 1675.6 548.8 1673.8 560.0 1673.0 C571.2 1672.2 578.4 1668.5 586.8 1669.5 C595.2 1670.5 600.5 1675.0 610.2 1678.9 C620.0 1682.8 633.6 1688.7 645.3 1693.0 C657.0 1697.3 668.7 1700.5 680.4 1704.6 C692.1 1708.7 703.8 1714.8 715.5 1717.5 C727.2 1720.2 737.0 1720.0 750.6 1721.0 C764.2 1722.0 771.3 1722.7 797.4 1723.3 C823.5 1723.9 888.7 1724.3 907.0 1724.5"/>
<path stroke="#0c2a47" d="M194.0 1571.2 C197.5 1556.0 207.7 1505.7 215.1 1480.0 C222.5 1454.3 229.9 1431.0 238.5 1416.8 C247.1 1402.6 258.4 1395.4 266.6 1394.6 C274.8 1393.8 281.4 1400.5 287.6 1412.0 C293.8 1423.5 298.5 1443.3 304.0 1463.6 C309.5 1483.9 313.8 1513.5 320.4 1533.8 C327.0 1554.1 336.8 1575.0 343.8 1585.3 C350.8 1595.6 355.9 1593.1 362.5 1595.8 C369.1 1598.5 375.0 1596.3 383.6 1601.6 C392.2 1606.9 403.1 1615.3 414.0 1627.4 C424.9 1639.5 437.4 1661.7 449.1 1674.2 C460.8 1686.7 470.6 1696.1 484.2 1702.3 C497.8 1708.5 517.8 1710.4 531.0 1711.6 C544.2 1712.8 550.2 1708.9 563.4 1709.3 C576.6 1709.7 592.7 1713.0 610.2 1714.0 C627.8 1715.0 653.1 1713.9 668.7 1715.1 C684.3 1716.3 694.0 1719.5 703.8 1721.0 C713.5 1722.5 714.5 1723.6 727.2 1724.3 C739.9 1725.0 750.0 1724.9 780.0 1725.0 C810.0 1725.1 885.8 1725.0 907.0 1725.0"/>
</g>
<rect x="193.8" y="1380.0" width="714.2" height="360.6" fill="none" stroke="#b0b0b0" stroke-width="1.4"/>
<line x1="165.5" y1="1858.0" x2="206.5" y2="1858.0" stroke="#5b1612" stroke-width="3.2"/>
<text x="220.5" y="1865.2" font-size="20.5" fill="#4d4d4d" textLength="42.7" lengthAdjust="spacingAndGlyphs">6BCE</text>
<line x1="291.3" y1="1858.0" x2="332.3" y2="1858.0" stroke="#f0a637" stroke-width="3.2"/>
<text x="346.3" y="1865.2" font-size="20.5" fill="#4d4d4d" textLength="43.9" lengthAdjust="spacingAndGlyphs">4BCE</text>
<line x1="418.0" y1="1858.0" x2="459.0" y2="1858.0" stroke="#fcecc9" stroke-width="3.2"/>
<text x="473.0" y="1865.2" font-size="20.5" fill="#4d4d4d" textLength="42.7" lengthAdjust="spacingAndGlyphs">2BCE</text>
<line x1="544.0" y1="1858.0" x2="585.0" y2="1858.0" stroke="#37afae" stroke-width="3.2"/>
<text x="599.0" y="1865.2" font-size="20.5" fill="#4d4d4d" textLength="32.2" lengthAdjust="spacingAndGlyphs">1CE</text>
<line x1="656.3" y1="1858.0" x2="697.3" y2="1858.0" stroke="#0c2a47" stroke-width="3.2"/>
<text x="711.3" y="1865.2" font-size="20.5" fill="#4d4d4d" textLength="95.3" lengthAdjust="spacingAndGlyphs">2000–2019</text>
<line x1="165.5" y1="1900.0" x2="206.5" y2="1900.0" stroke="#d33c4f" stroke-width="3.2"/>
<text x="220.5" y="1907.2" font-size="20.5" fill="#4d4d4d" textLength="42.7" lengthAdjust="spacingAndGlyphs">5BCE</text>
<line x1="291.3" y1="1900.0" x2="332.3" y2="1900.0" stroke="#fdd77c" stroke-width="3.2"/>
<text x="346.3" y="1907.2" font-size="20.5" fill="#4d4d4d" textLength="43.9" lengthAdjust="spacingAndGlyphs">3BCE</text>
<line x1="418.0" y1="1900.0" x2="459.0" y2="1900.0" stroke="#dcecf2" stroke-width="3.2"/>
<text x="473.0" y="1907.2" font-size="20.5" fill="#4d4d4d" textLength="42.7" lengthAdjust="spacingAndGlyphs">1BCE</text>
<line x1="544.0" y1="1900.0" x2="585.0" y2="1900.0" stroke="#1f6db3" stroke-width="3.2"/>
<text x="599.0" y="1907.2" font-size="20.5" fill="#4d4d4d" textLength="32.2" lengthAdjust="spacingAndGlyphs">2CE</text>
</svg>
</body></html>
